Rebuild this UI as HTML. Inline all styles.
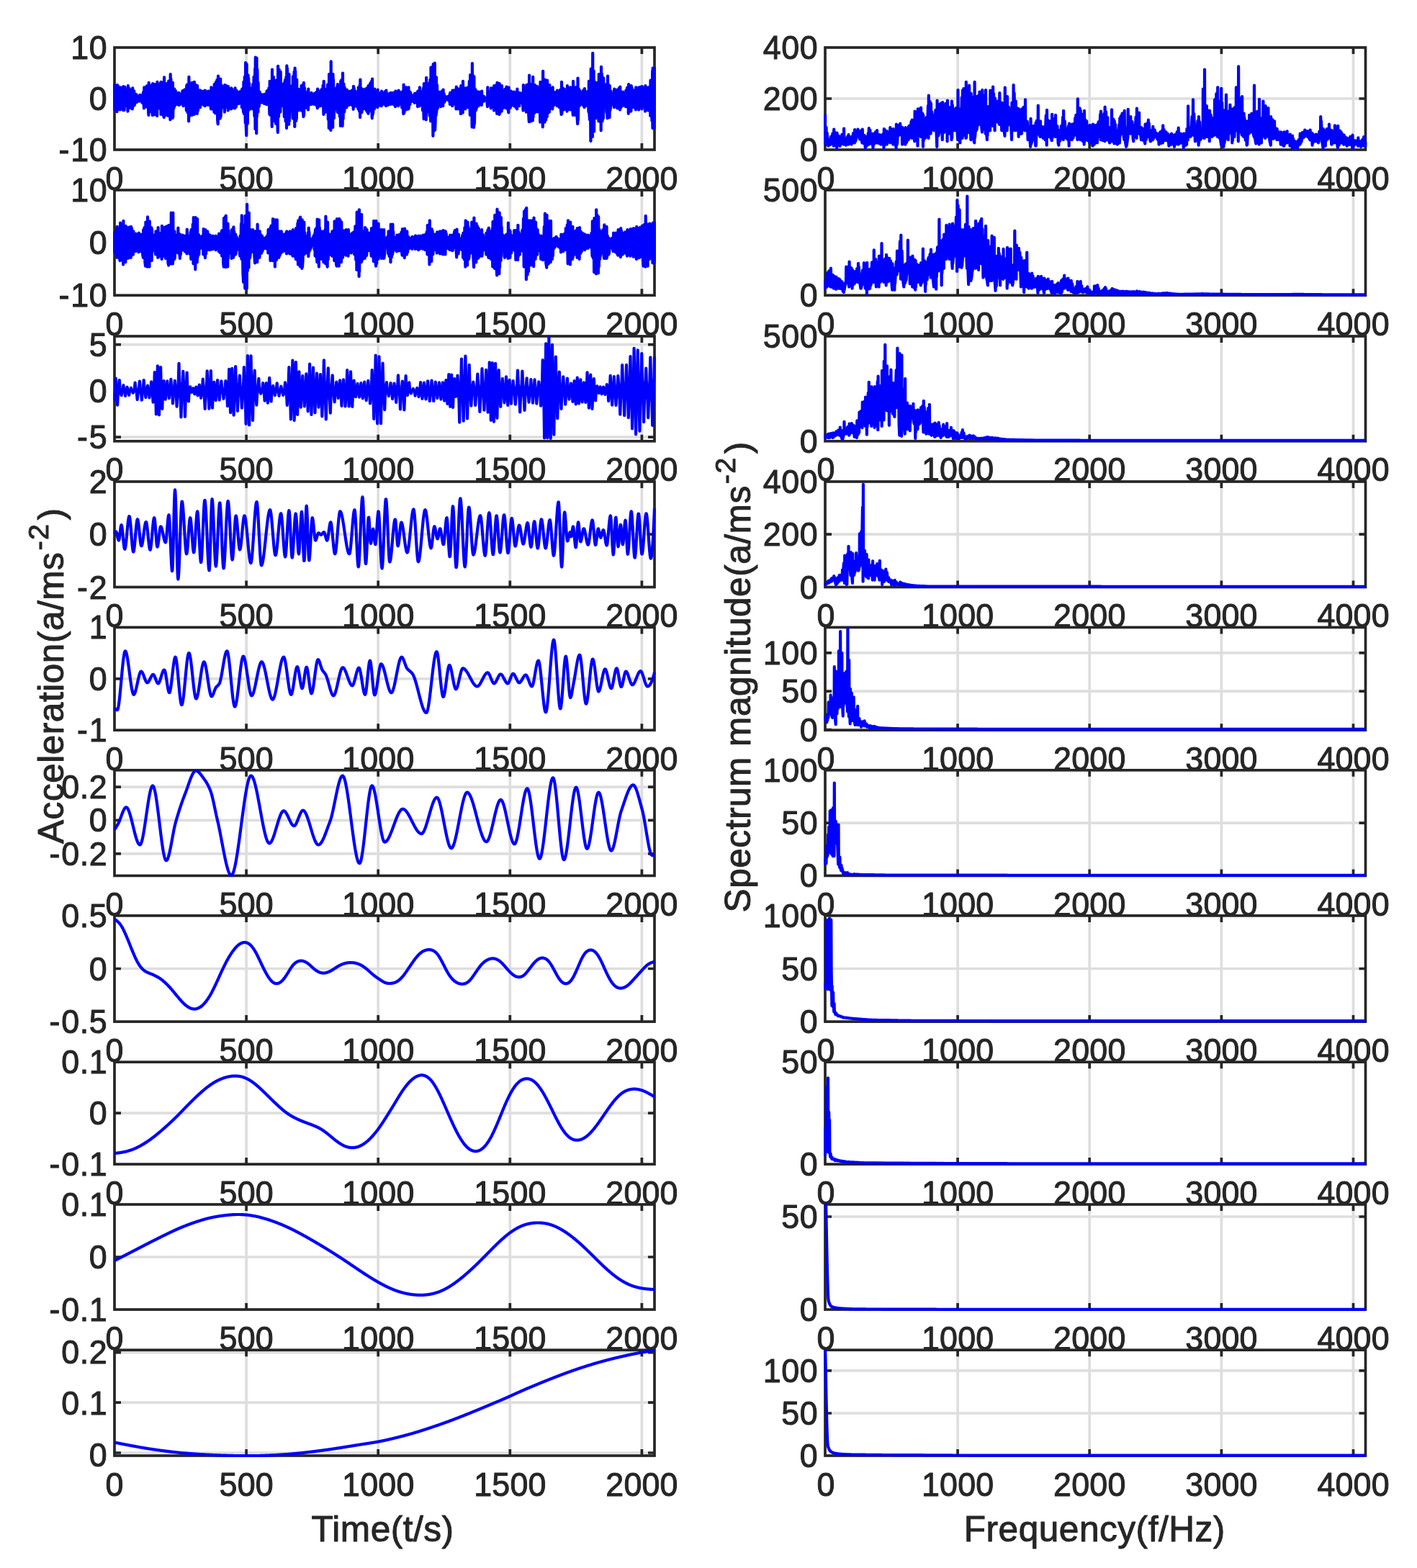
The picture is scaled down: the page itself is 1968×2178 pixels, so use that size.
<!DOCTYPE html>
<html lang="en"><head><meta charset="utf-8"><title>EMD components and spectra</title>
<style>html,body{margin:0;padding:0;background:#fff}body{width:1968px;height:2178px;overflow:hidden}svg{display:block}text{font-family:'Liberation Sans', sans-serif;fill:#262626;stroke:#262626;stroke-width:1px;stroke-linejoin:round}</style></head><body>
<svg width="1968" height="2178" viewBox="0 0 1968 2178" role="img" aria-label="Signal components and their spectra">
<rect width="1968" height="2178" fill="#fff"/>
<defs><clipPath id="cL1"><rect x="157.0" y="64.0" width="754.0" height="146.0"/></clipPath><clipPath id="cL2"><rect x="157.0" y="262.0" width="754.0" height="150.2"/></clipPath><clipPath id="cL3"><rect x="157.0" y="465.0" width="754.0" height="149.8"/></clipPath><clipPath id="cL4"><rect x="157.0" y="667.0" width="754.0" height="150.5"/></clipPath><clipPath id="cL5"><rect x="157.0" y="869.4" width="754.0" height="146.8"/></clipPath><clipPath id="cL6"><rect x="157.0" y="1067.8" width="754.0" height="150.6"/></clipPath><clipPath id="cL7"><rect x="157.0" y="1269.9" width="754.0" height="151.2"/></clipPath><clipPath id="cL8"><rect x="157.0" y="1473.2" width="754.0" height="145.9"/></clipPath><clipPath id="cL9"><rect x="157.0" y="1671.0" width="754.0" height="150.0"/></clipPath><clipPath id="cL10"><rect x="157.0" y="1873.2" width="754.0" height="150.8"/></clipPath><clipPath id="cR1"><rect x="1144.0" y="64.0" width="754.5" height="146.0"/></clipPath><clipPath id="cR2"><rect x="1144.0" y="262.0" width="754.5" height="150.2"/></clipPath><clipPath id="cR3"><rect x="1144.0" y="465.0" width="754.5" height="149.8"/></clipPath><clipPath id="cR4"><rect x="1144.0" y="667.0" width="754.5" height="150.5"/></clipPath><clipPath id="cR5"><rect x="1144.0" y="869.4" width="754.5" height="146.8"/></clipPath><clipPath id="cR6"><rect x="1144.0" y="1067.8" width="754.5" height="150.6"/></clipPath><clipPath id="cR7"><rect x="1144.0" y="1269.9" width="754.5" height="151.2"/></clipPath><clipPath id="cR8"><rect x="1144.0" y="1473.2" width="754.5" height="145.9"/></clipPath><clipPath id="cR9"><rect x="1144.0" y="1671.0" width="754.5" height="150.0"/></clipPath><clipPath id="cR10"><rect x="1144.0" y="1873.2" width="754.5" height="150.8"/></clipPath></defs>
<g font-size="44.8" letter-spacing="0.20"><text transform="translate(159.1 263.6) scale(1 1.040)" text-anchor="middle">0</text>
<text transform="translate(342.2 263.6) scale(1 1.040)" text-anchor="middle">500</text>
<text transform="translate(525.3 263.6) scale(1 1.040)" text-anchor="middle">1000</text>
<text transform="translate(708.4 263.6) scale(1 1.040)" text-anchor="middle">1500</text>
<text transform="translate(891.5 263.6) scale(1 1.040)" text-anchor="middle">2000</text>
<text transform="translate(149.1 224.0) scale(1 1.040)" text-anchor="end" letter-spacing="0.50"><tspan letter-spacing="1.8">-</tspan>10</text>
<text transform="translate(149.1 153.0) scale(1 1.040)" text-anchor="end" letter-spacing="0.50">0</text>
<text transform="translate(149.1 82.0) scale(1 1.040)" text-anchor="end" letter-spacing="0.50">10</text>
<text transform="translate(159.1 465.8) scale(1 1.040)" text-anchor="middle">0</text>
<text transform="translate(342.2 465.8) scale(1 1.040)" text-anchor="middle">500</text>
<text transform="translate(525.3 465.8) scale(1 1.040)" text-anchor="middle">1000</text>
<text transform="translate(708.4 465.8) scale(1 1.040)" text-anchor="middle">1500</text>
<text transform="translate(891.5 465.8) scale(1 1.040)" text-anchor="middle">2000</text>
<text transform="translate(149.1 426.2) scale(1 1.040)" text-anchor="end" letter-spacing="0.50"><tspan letter-spacing="1.8">-</tspan>10</text>
<text transform="translate(149.1 353.1) scale(1 1.040)" text-anchor="end" letter-spacing="0.50">0</text>
<text transform="translate(149.1 280.0) scale(1 1.040)" text-anchor="end" letter-spacing="0.50">10</text>
<text transform="translate(159.1 668.4) scale(1 1.040)" text-anchor="middle">0</text>
<text transform="translate(342.2 668.4) scale(1 1.040)" text-anchor="middle">500</text>
<text transform="translate(525.3 668.4) scale(1 1.040)" text-anchor="middle">1000</text>
<text transform="translate(708.4 668.4) scale(1 1.040)" text-anchor="middle">1500</text>
<text transform="translate(891.5 668.4) scale(1 1.040)" text-anchor="middle">2000</text>
<text transform="translate(149.1 494.7) scale(1 1.040)" text-anchor="end" letter-spacing="0.50">5</text>
<text transform="translate(149.1 558.9) scale(1 1.040)" text-anchor="end" letter-spacing="0.50">0</text>
<text transform="translate(149.1 623.1) scale(1 1.040)" text-anchor="end" letter-spacing="0.50"><tspan letter-spacing="1.8">-</tspan>5</text>
<text transform="translate(159.1 871.1) scale(1 1.040)" text-anchor="middle">0</text>
<text transform="translate(342.2 871.1) scale(1 1.040)" text-anchor="middle">500</text>
<text transform="translate(525.3 871.1) scale(1 1.040)" text-anchor="middle">1000</text>
<text transform="translate(708.4 871.1) scale(1 1.040)" text-anchor="middle">1500</text>
<text transform="translate(891.5 871.1) scale(1 1.040)" text-anchor="middle">2000</text>
<text transform="translate(149.1 831.5) scale(1 1.040)" text-anchor="end" letter-spacing="0.50"><tspan letter-spacing="1.8">-</tspan>2</text>
<text transform="translate(149.1 758.2) scale(1 1.040)" text-anchor="end" letter-spacing="0.50">0</text>
<text transform="translate(149.1 685.0) scale(1 1.040)" text-anchor="end" letter-spacing="0.50">2</text>
<text transform="translate(159.1 1069.8) scale(1 1.040)" text-anchor="middle">0</text>
<text transform="translate(342.2 1069.8) scale(1 1.040)" text-anchor="middle">500</text>
<text transform="translate(525.3 1069.8) scale(1 1.040)" text-anchor="middle">1000</text>
<text transform="translate(708.4 1069.8) scale(1 1.040)" text-anchor="middle">1500</text>
<text transform="translate(891.5 1069.8) scale(1 1.040)" text-anchor="middle">2000</text>
<text transform="translate(149.1 1030.2) scale(1 1.040)" text-anchor="end" letter-spacing="0.50"><tspan letter-spacing="1.8">-</tspan>1</text>
<text transform="translate(149.1 958.8) scale(1 1.040)" text-anchor="end" letter-spacing="0.50">0</text>
<text transform="translate(149.1 887.4) scale(1 1.040)" text-anchor="end" letter-spacing="0.50">1</text>
<text transform="translate(159.1 1272.0) scale(1 1.040)" text-anchor="middle">0</text>
<text transform="translate(342.2 1272.0) scale(1 1.040)" text-anchor="middle">500</text>
<text transform="translate(525.3 1272.0) scale(1 1.040)" text-anchor="middle">1000</text>
<text transform="translate(708.4 1272.0) scale(1 1.040)" text-anchor="middle">1500</text>
<text transform="translate(891.5 1272.0) scale(1 1.040)" text-anchor="middle">2000</text>
<text transform="translate(149.1 1109.2) scale(1 1.040)" text-anchor="end" letter-spacing="0.50">0.2</text>
<text transform="translate(149.1 1155.4) scale(1 1.040)" text-anchor="end" letter-spacing="0.50">0</text>
<text transform="translate(149.1 1201.9) scale(1 1.040)" text-anchor="end" letter-spacing="0.50"><tspan letter-spacing="1.8">-</tspan>0.2</text>
<text transform="translate(159.1 1474.7) scale(1 1.040)" text-anchor="middle">0</text>
<text transform="translate(342.2 1474.7) scale(1 1.040)" text-anchor="middle">500</text>
<text transform="translate(525.3 1474.7) scale(1 1.040)" text-anchor="middle">1000</text>
<text transform="translate(708.4 1474.7) scale(1 1.040)" text-anchor="middle">1500</text>
<text transform="translate(891.5 1474.7) scale(1 1.040)" text-anchor="middle">2000</text>
<text transform="translate(149.1 1435.1) scale(1 1.040)" text-anchor="end" letter-spacing="0.50"><tspan letter-spacing="1.8">-</tspan>0.5</text>
<text transform="translate(149.1 1361.5) scale(1 1.040)" text-anchor="end" letter-spacing="0.50">0</text>
<text transform="translate(149.1 1287.9) scale(1 1.040)" text-anchor="end" letter-spacing="0.50">0.5</text>
<text transform="translate(159.1 1672.7) scale(1 1.040)" text-anchor="middle">0</text>
<text transform="translate(342.2 1672.7) scale(1 1.040)" text-anchor="middle">500</text>
<text transform="translate(525.3 1672.7) scale(1 1.040)" text-anchor="middle">1000</text>
<text transform="translate(708.4 1672.7) scale(1 1.040)" text-anchor="middle">1500</text>
<text transform="translate(891.5 1672.7) scale(1 1.040)" text-anchor="middle">2000</text>
<text transform="translate(149.1 1633.1) scale(1 1.040)" text-anchor="end" letter-spacing="0.50"><tspan letter-spacing="1.8">-</tspan>0.1</text>
<text transform="translate(149.1 1562.2) scale(1 1.040)" text-anchor="end" letter-spacing="0.50">0</text>
<text transform="translate(149.1 1491.2) scale(1 1.040)" text-anchor="end" letter-spacing="0.50">0.1</text>
<text transform="translate(159.1 1874.6) scale(1 1.040)" text-anchor="middle">0</text>
<text transform="translate(342.2 1874.6) scale(1 1.040)" text-anchor="middle">500</text>
<text transform="translate(525.3 1874.6) scale(1 1.040)" text-anchor="middle">1000</text>
<text transform="translate(708.4 1874.6) scale(1 1.040)" text-anchor="middle">1500</text>
<text transform="translate(891.5 1874.6) scale(1 1.040)" text-anchor="middle">2000</text>
<text transform="translate(149.1 1835.0) scale(1 1.040)" text-anchor="end" letter-spacing="0.50"><tspan letter-spacing="1.8">-</tspan>0.1</text>
<text transform="translate(149.1 1762.0) scale(1 1.040)" text-anchor="end" letter-spacing="0.50">0</text>
<text transform="translate(149.1 1689.0) scale(1 1.040)" text-anchor="end" letter-spacing="0.50">0.1</text>
<text transform="translate(159.1 2077.6) scale(1 1.040)" text-anchor="middle">0</text>
<text transform="translate(342.2 2077.6) scale(1 1.040)" text-anchor="middle">500</text>
<text transform="translate(525.3 2077.6) scale(1 1.040)" text-anchor="middle">1000</text>
<text transform="translate(708.4 2077.6) scale(1 1.040)" text-anchor="middle">1500</text>
<text transform="translate(891.5 2077.6) scale(1 1.040)" text-anchor="middle">2000</text>
<text transform="translate(149.1 1893.7) scale(1 1.040)" text-anchor="end" letter-spacing="0.50">0.2</text>
<text transform="translate(149.1 1964.8) scale(1 1.040)" text-anchor="end" letter-spacing="0.50">0.1</text>
<text transform="translate(149.1 2037.0) scale(1 1.040)" text-anchor="end" letter-spacing="0.50">0</text>
<text transform="translate(1147.0 263.6) scale(1 1.040)" text-anchor="middle">0</text>
<text transform="translate(1330.2 263.6) scale(1 1.040)" text-anchor="middle">1000</text>
<text transform="translate(1513.3 263.6) scale(1 1.040)" text-anchor="middle">2000</text>
<text transform="translate(1696.5 263.6) scale(1 1.040)" text-anchor="middle">3000</text>
<text transform="translate(1879.6 263.6) scale(1 1.040)" text-anchor="middle">4000</text>
<text transform="translate(1136.1 224.0) scale(1 1.040)" text-anchor="end" letter-spacing="0.50">0</text>
<text transform="translate(1136.1 153.0) scale(1 1.040)" text-anchor="end" letter-spacing="0.50">200</text>
<text transform="translate(1136.1 82.0) scale(1 1.040)" text-anchor="end" letter-spacing="0.50">400</text>
<text transform="translate(1147.0 465.8) scale(1 1.040)" text-anchor="middle">0</text>
<text transform="translate(1330.2 465.8) scale(1 1.040)" text-anchor="middle">1000</text>
<text transform="translate(1513.3 465.8) scale(1 1.040)" text-anchor="middle">2000</text>
<text transform="translate(1696.5 465.8) scale(1 1.040)" text-anchor="middle">3000</text>
<text transform="translate(1879.6 465.8) scale(1 1.040)" text-anchor="middle">4000</text>
<text transform="translate(1136.1 426.2) scale(1 1.040)" text-anchor="end" letter-spacing="0.50">0</text>
<text transform="translate(1136.1 280.0) scale(1 1.040)" text-anchor="end" letter-spacing="0.50">500</text>
<text transform="translate(1147.0 668.4) scale(1 1.040)" text-anchor="middle">0</text>
<text transform="translate(1330.2 668.4) scale(1 1.040)" text-anchor="middle">1000</text>
<text transform="translate(1513.3 668.4) scale(1 1.040)" text-anchor="middle">2000</text>
<text transform="translate(1696.5 668.4) scale(1 1.040)" text-anchor="middle">3000</text>
<text transform="translate(1879.6 668.4) scale(1 1.040)" text-anchor="middle">4000</text>
<text transform="translate(1136.1 628.8) scale(1 1.040)" text-anchor="end" letter-spacing="0.50">0</text>
<text transform="translate(1136.1 483.0) scale(1 1.040)" text-anchor="end" letter-spacing="0.50">500</text>
<text transform="translate(1147.0 871.1) scale(1 1.040)" text-anchor="middle">0</text>
<text transform="translate(1330.2 871.1) scale(1 1.040)" text-anchor="middle">1000</text>
<text transform="translate(1513.3 871.1) scale(1 1.040)" text-anchor="middle">2000</text>
<text transform="translate(1696.5 871.1) scale(1 1.040)" text-anchor="middle">3000</text>
<text transform="translate(1879.6 871.1) scale(1 1.040)" text-anchor="middle">4000</text>
<text transform="translate(1136.1 831.5) scale(1 1.040)" text-anchor="end" letter-spacing="0.50">0</text>
<text transform="translate(1136.1 758.2) scale(1 1.040)" text-anchor="end" letter-spacing="0.50">200</text>
<text transform="translate(1136.1 685.0) scale(1 1.040)" text-anchor="end" letter-spacing="0.50">400</text>
<text transform="translate(1147.0 1069.8) scale(1 1.040)" text-anchor="middle">0</text>
<text transform="translate(1330.2 1069.8) scale(1 1.040)" text-anchor="middle">1000</text>
<text transform="translate(1513.3 1069.8) scale(1 1.040)" text-anchor="middle">2000</text>
<text transform="translate(1696.5 1069.8) scale(1 1.040)" text-anchor="middle">3000</text>
<text transform="translate(1879.6 1069.8) scale(1 1.040)" text-anchor="middle">4000</text>
<text transform="translate(1136.1 922.9) scale(1 1.040)" text-anchor="end" letter-spacing="0.50">100</text>
<text transform="translate(1136.1 976.2) scale(1 1.040)" text-anchor="end" letter-spacing="0.50">50</text>
<text transform="translate(1136.1 1029.6) scale(1 1.040)" text-anchor="end" letter-spacing="0.50">0</text>
<text transform="translate(1147.0 1272.0) scale(1 1.040)" text-anchor="middle">0</text>
<text transform="translate(1330.2 1272.0) scale(1 1.040)" text-anchor="middle">1000</text>
<text transform="translate(1513.3 1272.0) scale(1 1.040)" text-anchor="middle">2000</text>
<text transform="translate(1696.5 1272.0) scale(1 1.040)" text-anchor="middle">3000</text>
<text transform="translate(1879.6 1272.0) scale(1 1.040)" text-anchor="middle">4000</text>
<text transform="translate(1136.1 1232.4) scale(1 1.040)" text-anchor="end" letter-spacing="0.50">0</text>
<text transform="translate(1136.1 1159.1) scale(1 1.040)" text-anchor="end" letter-spacing="0.50">50</text>
<text transform="translate(1136.1 1085.8) scale(1 1.040)" text-anchor="end" letter-spacing="0.50">100</text>
<text transform="translate(1147.0 1474.7) scale(1 1.040)" text-anchor="middle">0</text>
<text transform="translate(1330.2 1474.7) scale(1 1.040)" text-anchor="middle">1000</text>
<text transform="translate(1513.3 1474.7) scale(1 1.040)" text-anchor="middle">2000</text>
<text transform="translate(1696.5 1474.7) scale(1 1.040)" text-anchor="middle">3000</text>
<text transform="translate(1879.6 1474.7) scale(1 1.040)" text-anchor="middle">4000</text>
<text transform="translate(1136.1 1435.1) scale(1 1.040)" text-anchor="end" letter-spacing="0.50">0</text>
<text transform="translate(1136.1 1361.5) scale(1 1.040)" text-anchor="end" letter-spacing="0.50">50</text>
<text transform="translate(1136.1 1287.9) scale(1 1.040)" text-anchor="end" letter-spacing="0.50">100</text>
<text transform="translate(1147.0 1672.7) scale(1 1.040)" text-anchor="middle">0</text>
<text transform="translate(1330.2 1672.7) scale(1 1.040)" text-anchor="middle">1000</text>
<text transform="translate(1513.3 1672.7) scale(1 1.040)" text-anchor="middle">2000</text>
<text transform="translate(1696.5 1672.7) scale(1 1.040)" text-anchor="middle">3000</text>
<text transform="translate(1879.6 1672.7) scale(1 1.040)" text-anchor="middle">4000</text>
<text transform="translate(1136.1 1633.1) scale(1 1.040)" text-anchor="end" letter-spacing="0.50">0</text>
<text transform="translate(1136.1 1491.2) scale(1 1.040)" text-anchor="end" letter-spacing="0.50">50</text>
<text transform="translate(1147.0 1874.6) scale(1 1.040)" text-anchor="middle">0</text>
<text transform="translate(1330.2 1874.6) scale(1 1.040)" text-anchor="middle">1000</text>
<text transform="translate(1513.3 1874.6) scale(1 1.040)" text-anchor="middle">2000</text>
<text transform="translate(1696.5 1874.6) scale(1 1.040)" text-anchor="middle">3000</text>
<text transform="translate(1879.6 1874.6) scale(1 1.040)" text-anchor="middle">4000</text>
<text transform="translate(1136.1 1706.0) scale(1 1.040)" text-anchor="end" letter-spacing="0.50">50</text>
<text transform="translate(1136.1 1834.6) scale(1 1.040)" text-anchor="end" letter-spacing="0.50">0</text>
<text transform="translate(1147.0 2077.6) scale(1 1.040)" text-anchor="middle">0</text>
<text transform="translate(1330.2 2077.6) scale(1 1.040)" text-anchor="middle">1000</text>
<text transform="translate(1513.3 2077.6) scale(1 1.040)" text-anchor="middle">2000</text>
<text transform="translate(1696.5 2077.6) scale(1 1.040)" text-anchor="middle">3000</text>
<text transform="translate(1879.6 2077.6) scale(1 1.040)" text-anchor="middle">4000</text>
<text transform="translate(1136.1 1919.8) scale(1 1.040)" text-anchor="end" letter-spacing="0.50">100</text>
<text transform="translate(1136.1 1979.0) scale(1 1.040)" text-anchor="end" letter-spacing="0.50">50</text>
<text transform="translate(1136.1 2038.0) scale(1 1.040)" text-anchor="end" letter-spacing="0.50">0</text></g>
<path d="M342.1 66.0V208.0M525.2 66.0V208.0M708.3 66.0V208.0M891.4 66.0V208.0M159.0 137.0H909.0" stroke="#dedede" stroke-width="3.7" fill="none"/>
<path d="M342.1 208.0v-9.0M342.1 66.0v9.0M525.2 208.0v-9.0M525.2 66.0v9.0M708.3 208.0v-9.0M708.3 66.0v9.0M891.4 208.0v-9.0M891.4 66.0v9.0M159.0 137.0h9.0M909.0 137.0h-9.0" stroke="#262626" stroke-width="3.7" fill="none"/>
<rect x="159.0" y="66.0" width="750.0" height="142.0" stroke="#262626" stroke-width="3.7" fill="none"/>
<polyline points="159.0,153.5 159.0,118.1 159.3,148.1 159.8,151.8 160.6,124.3 161.4,149.2 162.2,120.2 162.5,155.2 162.8,118.1 163.1,152.6 163.8,119.1 164.6,146.3 165.4,126.0 166.2,152.0 166.8,152.4 167.1,121.3 167.4,149.4 167.8,150.0 168.6,121.8 169.4,150.7 170.2,126.6 171.1,153.1 171.4,120.2 171.7,142.3 172.6,152.9 173.4,121.1 174.2,147.2 175.0,125.1 175.8,146.5 176.6,125.8 177.5,154.6 177.8,119.2 178.1,150.7 179.0,149.8 179.8,123.2 180.6,149.9 181.4,127.4 182.2,150.2 183.0,125.9 183.9,151.4 184.2,122.4 184.5,145.4 185.4,147.2 186.2,126.4 187.0,145.7 187.8,132.1 188.2,142.8 188.5,130.9 188.8,139.6 189.4,131.3 190.2,141.8 191.0,133.8 191.8,140.4 192.6,133.6 193.4,140.5 194.2,131.8 195.0,139.8 195.8,133.3 196.6,139.9 196.8,141.7 197.1,132.0 197.4,138.9 198.2,143.5 199.0,128.0 199.8,147.4 200.0,150.3 200.3,121.3 200.6,148.7 201.4,148.5 202.2,123.2 203.0,147.4 203.8,119.4 204.6,149.2 205.4,121.6 206.2,156.5 206.4,159.9 206.7,114.9 207.0,155.9 207.8,150.6 208.6,118.8 209.4,154.7 210.2,118.6 211.0,153.1 211.8,159.9 212.1,116.0 212.4,154.7 212.6,153.2 213.4,117.8 214.2,159.5 215.0,117.2 215.8,150.7 216.6,124.0 217.4,154.0 218.2,161.0 218.5,113.8 218.8,147.8 219.0,151.5 219.8,120.7 220.6,150.1 221.4,117.3 222.2,150.5 223.0,115.2 223.5,158.9 223.8,113.8 224.1,146.1 224.6,121.2 225.4,157.6 226.2,114.6 227.0,160.7 227.8,163.1 228.1,107.4 228.4,151.5 229.4,120.4 230.2,151.2 231.0,159.9 231.3,116.0 231.6,154.2 232.6,120.8 233.4,160.8 234.2,112.7 235.0,156.7 235.8,115.9 236.4,166.3 236.7,103.1 237.0,150.3 237.4,109.6 238.2,161.3 239.0,115.1 239.6,164.2 239.9,114.9 240.2,162.4 240.6,123.9 241.4,150.8 242.2,123.7 242.8,147.1 243.1,125.6 243.4,142.9 243.8,126.1 244.6,144.2 245.4,129.1 246.2,144.8 247.0,130.4 247.8,143.7 248.2,146.0 248.5,128.8 248.8,145.8 249.4,145.5 250.2,131.0 251.0,143.9 251.8,130.8 252.6,144.4 253.4,126.4 254.2,144.8 254.6,147.1 254.9,125.6 255.2,142.4 255.8,143.7 256.6,124.5 257.4,146.1 258.2,123.7 258.9,153.5 259.2,119.2 259.5,151.5 259.8,117.6 260.6,156.5 261.4,120.6 262.1,168.5 262.4,106.8 262.7,162.6 263.0,115.3 263.8,155.2 264.6,120.2 265.4,153.6 266.4,159.9 266.7,114.9 267.0,148.4 267.8,120.1 268.6,149.3 269.6,158.9 269.9,113.8 270.2,152.2 271.0,118.7 271.8,157.4 272.6,118.3 273.4,155.0 273.8,157.8 274.1,119.2 274.4,151.1 275.0,153.8 275.8,125.1 276.6,148.6 277.4,125.8 278.1,149.2 278.4,125.6 278.7,144.2 279.0,126.7 279.8,144.9 280.6,127.3 281.4,143.6 282.2,126.9 283.0,146.2 283.8,126.4 284.5,147.1 284.8,125.6 285.1,144.8 285.4,128.4 286.2,145.6 287.0,128.5 287.8,142.8 288.6,127.2 288.8,146.0 289.1,126.7 289.4,142.1 290.2,126.8 291.0,145.7 291.8,127.3 292.6,147.9 293.1,151.4 293.4,121.3 293.7,149.4 294.2,148.0 295.0,123.0 295.8,151.6 296.6,125.8 297.4,155.6 297.7,117.0 298.0,150.7 298.2,119.2 299.0,157.3 299.8,114.0 300.6,154.3 301.4,111.1 302.2,167.4 302.7,172.3 303.0,105.7 303.3,162.3 303.8,164.1 304.6,120.7 305.4,164.6 305.9,164.2 306.2,109.5 306.6,162.0 307.0,152.4 307.8,118.7 308.6,146.0 309.2,149.2 309.5,124.5 309.8,145.9 310.2,146.6 311.0,121.3 311.9,155.6 312.2,118.1 312.5,145.5 313.4,147.8 314.2,119.1 315.0,149.0 315.8,123.2 316.7,153.5 317.0,120.2 317.3,149.3 318.2,147.2 319.0,125.9 319.8,149.5 320.6,123.5 320.9,151.4 321.2,122.4 321.5,144.4 322.2,123.7 323.0,146.7 323.8,126.5 324.6,150.2 325.4,127.0 326.3,150.3 326.6,122.4 326.9,143.4 327.8,148.6 328.6,125.8 329.4,144.4 330.2,128.2 331.0,142.2 331.6,143.9 331.9,128.8 332.2,138.7 332.6,143.2 333.4,127.2 334.2,143.5 335.0,129.0 335.9,149.2 336.2,123.5 336.5,146.9 337.4,147.8 338.1,155.6 338.4,113.8 338.7,143.1 339.0,158.3 339.8,106.6 340.6,161.2 340.8,170.6 341.1,87.1 341.4,166.9 342.3,188.2 342.6,89.2 342.9,155.7 343.8,171.8 344.6,104.3 344.9,153.5 345.2,108.5 345.5,152.0 346.2,115.9 347.0,144.7 347.7,151.4 348.0,122.4 348.3,149.1 348.6,145.7 349.4,125.3 350.2,146.3 350.9,147.1 351.2,117.0 351.5,142.8 351.8,151.8 352.6,106.7 353.4,161.3 354.2,95.4 354.5,179.2 354.8,79.6 355.1,161.3 355.8,102.2 356.2,185.2 356.5,80.6 356.8,162.2 357.4,96.7 358.2,153.9 358.4,155.6 358.7,114.9 359.0,149.0 359.8,147.7 360.6,127.6 361.4,143.3 361.6,142.8 361.9,130.9 362.2,140.5 363.0,141.1 363.8,131.4 364.6,142.4 365.4,133.7 366.2,141.2 367.0,143.9 367.3,130.9 367.6,143.0 367.8,141.3 368.6,132.5 369.4,144.5 370.2,144.9 370.5,126.7 370.8,141.7 371.0,143.5 371.8,125.7 372.6,145.3 373.4,122.4 374.2,153.5 374.4,158.9 374.7,112.8 375.0,149.0 375.8,160.2 376.6,115.4 377.4,159.1 377.7,176.0 378.0,96.7 378.3,152.3 379.0,168.3 379.8,106.8 380.6,151.1 380.9,159.9 381.2,113.8 381.5,153.2 382.2,160.3 383.0,171.7 383.3,111.7 383.6,163.9 383.8,164.1 384.6,116.8 385.4,169.5 385.8,183.9 386.1,91.8 386.4,159.9 387.0,162.3 387.8,96.9 388.6,152.0 389.4,155.6 389.7,99.9 390.0,140.3 391.0,116.0 391.8,146.5 392.6,147.1 392.9,125.6 393.2,141.4 394.2,123.3 394.8,162.1 395.1,114.9 395.4,150.2 395.8,111.4 396.6,168.5 397.4,107.0 398.0,178.1 398.3,91.3 398.6,165.3 399.0,95.2 399.8,167.6 400.6,103.1 401.2,172.8 401.5,103.1 401.8,168.4 402.2,121.8 403.0,148.6 403.3,149.2 403.6,125.6 403.9,146.6 404.6,152.9 405.4,119.1 406.2,155.6 406.5,164.2 406.8,106.3 407.1,164.0 407.8,165.2 408.6,99.7 409.3,176.0 409.6,94.6 409.9,158.6 410.2,98.8 411.0,168.0 411.9,164.2 412.2,110.6 412.5,152.8 413.4,123.4 414.2,153.5 415.1,149.2 415.4,125.6 415.7,147.6 416.6,124.2 417.4,148.7 418.3,153.5 418.6,119.2 418.9,150.6 419.8,118.4 420.6,150.9 421.5,162.1 421.8,114.9 422.1,159.9 423.0,122.2 423.8,150.0 424.7,144.9 425.0,129.9 425.3,144.8 426.2,127.8 427.0,148.8 428.0,152.4 428.3,123.5 428.6,147.4 429.4,130.0 430.2,145.1 431.0,130.9 431.8,144.7 432.2,144.9 432.5,128.8 432.8,141.9 433.4,142.6 434.2,131.1 435.0,144.3 435.8,131.9 436.5,144.9 436.8,129.9 437.1,142.8 437.4,129.5 438.2,143.3 439.0,128.3 439.8,147.0 440.6,126.7 440.8,150.3 441.1,123.5 441.4,144.8 442.2,129.2 443.0,147.6 443.8,128.0 444.6,146.6 445.1,147.1 445.4,125.6 445.7,143.0 446.2,145.2 447.0,123.9 447.8,147.2 448.6,118.7 449.4,158.9 449.7,112.8 450.0,157.8 450.2,123.1 451.0,150.5 451.8,124.9 452.6,152.5 453.4,128.9 453.6,155.6 453.9,123.5 454.2,147.2 455.0,117.5 455.8,165.9 456.6,119.6 456.8,178.1 457.1,103.1 457.4,153.5 458.2,107.1 459.0,163.3 459.4,180.9 459.7,85.4 460.0,175.3 460.6,160.7 461.4,106.1 462.2,177.0 462.5,103.1 462.8,153.2 463.0,110.2 463.8,164.2 464.6,123.3 465.4,149.2 465.7,125.6 466.0,145.6 466.2,128.1 467.0,151.7 467.8,121.2 468.6,155.6 468.9,117.0 469.2,152.0 470.2,156.5 471.0,122.0 471.8,161.8 472.6,123.0 472.9,174.9 473.2,112.8 473.5,156.3 474.2,111.2 475.0,160.1 475.7,174.9 476.0,101.6 476.3,164.8 476.6,165.1 477.4,116.6 478.3,155.6 478.6,121.3 478.9,146.3 479.8,149.8 480.6,125.4 481.5,149.2 481.8,124.5 482.1,141.4 483.0,146.4 483.8,128.2 484.6,145.8 485.4,126.8 486.2,144.3 486.8,144.9 487.1,127.7 487.4,139.1 487.8,144.7 488.6,125.5 489.4,146.3 490.2,125.7 490.7,151.8 491.0,119.8 491.3,140.7 491.8,122.6 492.6,147.6 493.4,126.5 494.3,147.1 494.6,127.7 494.9,140.9 495.8,147.8 496.6,127.9 497.5,151.4 497.8,121.3 498.1,145.0 499.0,154.3 499.8,117.8 500.1,163.1 500.4,110.6 500.7,151.9 501.4,122.4 502.2,156.3 502.9,153.5 503.2,123.5 503.5,144.0 503.8,150.9 504.6,126.8 505.4,147.8 506.2,124.6 507.1,151.4 507.4,123.5 507.7,145.8 508.6,153.1 509.4,122.9 510.2,155.4 511.0,120.9 511.4,157.8 511.7,119.2 512.0,155.8 512.6,118.7 513.4,153.3 514.2,115.9 515.0,151.5 515.8,113.1 516.6,160.4 516.8,164.2 517.1,109.5 517.4,159.7 518.2,156.3 519.0,123.9 519.8,146.2 520.0,151.4 520.3,123.5 520.6,142.5 521.4,145.7 522.2,129.1 523.0,148.2 523.8,128.8 524.3,149.2 524.6,124.5 524.9,143.8 525.4,130.0 526.2,146.0 527.0,130.3 527.8,146.4 528.6,146.0 528.9,128.8 529.2,144.8 529.4,145.2 529.7,147.1 530.0,126.7 530.3,140.3 531.0,145.1 531.8,128.6 532.6,143.2 533.4,129.9 534.2,144.9 535.0,127.1 535.8,146.7 536.1,147.1 536.4,125.6 536.7,143.2 537.4,142.7 538.2,130.5 539.0,145.9 539.8,130.3 540.6,142.3 541.4,129.5 542.2,144.5 542.5,144.9 542.8,128.8 543.1,144.5 543.8,141.8 544.6,130.1 545.4,144.2 546.2,128.9 547.0,145.5 547.8,128.9 548.6,146.5 549.0,148.1 549.3,126.7 549.6,141.9 550.2,145.2 551.0,130.0 551.8,144.4 552.6,127.2 553.2,147.1 553.5,125.6 553.8,139.6 554.2,126.7 555.0,143.8 555.8,131.8 556.5,144.9 556.8,129.9 557.1,140.4 557.4,128.4 558.2,149.4 559.0,127.0 559.8,150.1 560.3,158.2 560.6,117.7 560.9,150.6 561.4,156.6 562.2,121.3 563.0,147.1 563.9,152.4 564.2,121.3 564.5,144.4 565.4,125.4 566.2,151.3 567.2,151.4 567.5,121.3 567.8,150.1 568.6,126.9 569.4,145.2 570.2,128.7 571.0,139.9 571.4,140.7 571.7,132.0 572.0,138.1 572.6,140.8 573.4,132.8 574.2,140.0 575.0,132.1 575.7,142.8 576.0,129.9 576.3,141.1 576.6,130.6 577.4,141.4 578.2,129.4 579.0,142.8 579.8,129.0 580.0,148.1 580.3,126.7 580.6,145.9 581.4,128.7 582.2,146.4 582.6,147.1 582.9,121.3 583.2,142.1 583.8,145.2 584.6,128.3 585.4,144.9 585.7,127.7 586.0,139.3 586.2,127.2 587.0,153.4 587.8,122.7 588.6,165.3 588.9,116.0 589.2,149.4 589.4,119.0 590.2,154.6 591.0,116.7 591.8,166.3 592.1,107.8 592.4,146.6 592.6,114.0 593.4,153.4 594.2,116.4 595.0,155.6 595.3,119.2 595.6,143.4 595.8,116.8 596.6,160.6 597.4,110.5 598.2,168.5 598.5,93.5 598.8,149.3 599.0,96.1 599.8,167.8 600.6,102.1 601.4,188.8 601.7,89.2 602.0,160.9 602.2,89.5 603.0,163.1 603.5,181.3 603.8,87.7 604.1,180.6 604.6,169.9 605.4,111.2 605.7,159.9 606.0,107.4 606.3,156.3 607.0,118.1 607.8,150.6 608.6,127.5 608.9,147.1 609.2,127.7 609.5,143.0 610.2,131.4 611.0,146.2 611.8,131.3 612.1,148.1 612.4,127.7 612.7,145.7 613.4,127.0 614.2,145.1 615.0,125.7 615.3,147.1 615.6,124.5 615.9,140.4 616.6,130.1 617.4,141.8 618.2,133.9 618.5,138.5 618.8,134.2 619.1,137.9 619.8,135.0 620.6,138.3 621.4,134.3 621.7,138.5 622.0,134.2 622.3,138.1 623.0,134.1 623.8,140.5 624.6,131.1 624.9,144.9 625.2,128.8 625.5,140.2 626.2,129.3 627.0,143.3 627.8,128.2 628.2,147.1 628.5,125.6 628.8,146.1 629.4,129.8 630.2,143.8 631.0,125.3 631.8,144.0 632.6,127.9 633.5,151.4 633.8,120.7 634.1,144.7 635.0,145.8 635.8,123.2 636.7,151.4 637.0,123.5 637.3,144.5 638.2,148.7 639.0,128.1 639.9,158.2 640.2,119.2 640.5,151.8 641.4,150.8 642.2,120.1 642.7,156.7 643.0,112.8 643.3,145.2 643.8,122.6 644.6,149.7 645.4,125.3 646.4,151.4 646.7,122.4 647.0,147.0 647.8,147.8 648.6,125.6 649.6,149.2 649.9,121.3 650.2,147.7 651.0,147.7 651.8,112.8 652.8,159.9 653.1,104.2 653.4,149.0 654.2,158.0 655.0,105.9 655.6,176.6 655.9,88.1 656.2,146.2 656.6,104.3 657.4,163.5 658.1,177.0 658.4,106.3 658.7,172.9 659.0,169.7 659.8,123.6 660.7,153.5 661.0,125.6 661.3,151.8 662.2,147.7 663.0,127.6 663.8,147.5 664.5,147.1 664.8,127.7 665.1,141.7 665.4,145.5 666.2,127.8 667.0,143.1 667.8,129.0 668.6,144.3 668.8,146.0 669.1,126.7 669.4,142.2 670.2,141.1 671.0,133.4 671.8,139.8 672.0,140.7 672.3,134.2 672.6,139.4 673.4,139.1 674.2,135.7 675.0,138.7 675.2,138.5 675.5,136.3 675.8,138.4 676.6,143.0 677.0,148.1 677.3,121.3 677.6,141.7 678.2,143.5 679.0,127.2 679.8,144.0 680.6,128.2 681.4,148.2 681.7,150.3 682.0,122.4 682.3,146.3 683.0,148.0 683.8,122.6 684.6,145.2 685.4,124.8 686.0,153.5 686.2,119.2 686.5,142.0 687.0,125.9 687.8,151.2 688.6,118.5 689.4,150.1 690.2,157.8 690.5,114.9 690.8,149.6 691.8,115.5 692.6,157.2 693.4,158.9 693.7,116.0 694.0,157.8 695.0,121.0 695.8,150.0 696.7,154.6 697.0,119.2 697.3,151.5 698.2,128.3 699.0,150.0 699.9,148.1 700.2,125.6 700.5,140.9 701.4,123.8 702.2,148.7 703.1,150.3 703.4,120.7 703.7,148.5 704.6,125.5 705.4,149.4 706.3,156.3 706.6,121.3 706.9,147.6 707.8,127.1 708.6,149.8 709.5,147.1 709.8,126.7 710.1,141.9 711.0,127.8 711.8,143.3 712.6,128.5 713.4,146.1 713.8,147.1 714.1,127.7 714.4,146.5 715.0,145.4 715.8,129.0 716.6,149.4 717.4,130.1 718.1,151.4 718.4,123.5 718.7,146.9 719.0,129.3 719.8,145.1 720.6,129.6 721.3,147.1 721.6,128.8 721.9,141.8 722.2,132.0 723.0,142.6 723.8,129.7 724.5,142.8 724.8,129.9 725.1,141.9 725.4,129.6 726.2,147.4 726.6,153.5 726.9,118.1 727.2,146.0 727.8,147.7 728.6,125.5 729.4,153.0 730.2,124.7 730.9,155.6 731.2,118.1 731.5,147.7 731.8,119.6 732.6,153.3 733.4,117.4 734.2,158.6 734.8,169.1 735.1,104.6 735.4,157.9 735.8,168.8 736.6,124.1 737.3,168.5 737.6,117.0 737.9,164.4 738.2,119.6 739.0,164.0 739.9,167.4 740.2,106.8 740.5,162.6 741.4,121.5 742.2,155.8 742.7,156.7 743.0,118.1 743.3,152.3 743.8,155.4 744.6,125.5 745.4,153.4 745.9,153.5 746.2,120.2 746.5,153.0 747.0,155.3 747.8,124.9 748.6,153.5 749.4,124.6 750.2,169.6 750.5,113.8 750.8,150.9 751.0,123.1 751.8,160.9 752.6,120.1 753.4,165.7 753.8,176.4 754.1,98.8 754.4,166.4 755.0,161.1 755.8,118.0 756.6,169.6 756.9,110.6 757.2,163.5 757.4,113.6 758.2,166.5 759.0,112.3 759.8,162.1 760.1,111.7 760.4,145.3 760.6,120.7 761.4,156.8 762.2,118.0 763.0,155.6 763.3,118.1 763.6,144.6 763.8,123.6 764.6,149.6 765.4,124.7 766.2,150.8 767.0,127.4 767.3,151.4 767.6,121.3 767.9,142.5 768.6,127.7 769.4,146.1 770.2,128.1 770.5,142.8 770.8,128.8 771.1,140.9 771.8,128.5 772.6,143.4 773.4,127.7 773.7,147.1 774.0,125.6 774.3,146.7 775.0,128.6 775.8,147.4 776.6,131.1 776.9,149.2 777.2,126.7 777.5,142.0 778.2,124.7 779.0,152.7 779.7,158.9 780.0,113.8 780.3,158.0 780.6,150.9 781.4,122.2 782.2,150.8 783.0,125.3 783.3,152.4 783.6,123.5 783.9,151.0 784.6,128.4 785.4,148.2 786.2,127.4 787.0,148.6 787.6,154.6 787.9,119.2 788.2,151.2 788.6,152.3 789.4,124.3 790.2,151.0 791.0,121.9 791.9,152.4 792.2,121.3 792.5,148.6 793.4,150.2 794.2,125.3 795.0,148.3 795.8,159.9 796.1,112.8 796.4,144.6 796.6,155.2 797.4,123.5 798.2,151.9 799.0,159.9 799.3,121.3 799.6,158.4 799.8,159.0 800.6,123.1 801.4,159.7 802.2,172.1 802.5,108.5 802.8,167.1 803.0,161.2 803.8,123.4 804.7,147.1 805.0,125.6 805.3,143.5 806.2,143.3 807.0,128.5 808.0,144.9 808.3,127.7 808.6,140.2 809.4,145.8 810.2,125.3 811.0,147.4 811.6,149.2 811.9,123.0 812.2,142.2 812.6,145.6 813.4,128.9 814.2,144.7 815.0,127.3 815.4,147.1 815.7,127.7 816.0,142.7 816.6,127.9 817.4,153.1 817.6,155.6 817.9,112.8 818.2,153.8 819.0,166.2 819.8,112.3 820.4,195.9 820.7,95.6 821.0,189.0 821.4,105.4 822.2,170.0 822.9,189.9 823.2,73.8 823.5,184.0 823.8,178.3 824.6,98.6 825.1,182.4 825.4,112.8 825.7,163.1 826.2,126.2 827.0,163.1 827.8,116.1 828.3,164.2 828.6,114.9 828.9,163.0 829.4,115.8 830.2,155.0 831.0,116.8 831.5,168.5 831.8,103.1 832.1,153.3 832.6,114.4 833.4,161.0 834.2,113.0 834.7,181.3 835.0,92.8 835.3,155.7 835.8,102.4 836.6,168.3 837.4,107.7 837.9,164.2 838.2,108.5 838.5,156.1 839.0,122.6 839.8,146.2 840.1,147.1 840.4,125.6 840.7,143.0 841.4,147.9 842.2,117.1 843.0,158.3 843.7,164.2 844.0,105.7 844.3,160.6 844.6,154.4 845.4,118.2 846.2,160.8 846.5,163.1 846.8,119.2 847.1,153.8 847.8,151.2 848.6,126.5 849.4,144.5 849.7,144.9 850.0,129.9 850.3,140.1 851.0,142.4 851.8,130.0 852.6,147.6 852.9,149.2 853.2,123.5 853.5,147.1 854.2,144.4 855.0,124.8 855.8,145.9 856.6,125.8 857.2,150.3 857.5,124.5 857.8,149.0 858.2,128.7 859.0,150.5 859.8,122.3 860.6,149.8 861.0,152.4 861.3,120.7 861.6,143.0 862.2,149.6 863.0,129.4 863.8,146.8 864.7,147.1 865.0,127.7 865.3,144.6 866.2,130.3 867.0,143.5 867.8,129.8 868.6,145.1 869.0,148.1 869.3,125.6 869.6,145.8 870.2,145.4 871.0,121.8 871.8,148.7 872.6,123.9 872.8,157.8 873.1,117.0 873.4,155.8 874.2,125.0 875.0,148.4 875.8,120.3 876.4,154.6 876.7,119.2 877.0,144.4 877.4,121.1 878.2,146.5 879.0,124.8 879.7,149.2 880.0,126.7 880.3,141.9 880.6,126.4 881.4,145.4 882.2,126.2 882.9,152.4 883.2,121.3 883.5,148.3 883.8,127.9 884.6,146.4 885.4,124.8 886.2,149.8 887.1,152.4 887.4,121.3 887.7,147.1 888.6,124.9 889.4,148.2 890.2,120.6 891.0,145.9 891.4,151.4 891.7,120.2 892.0,145.8 892.6,146.5 893.4,126.7 894.2,148.4 895.0,121.9 895.8,148.9 896.1,154.6 896.4,119.2 896.7,148.5 897.4,148.1 898.2,125.6 899.0,152.4 899.8,122.6 900.0,153.5 900.3,121.3 900.6,146.2 901.4,123.2 902.2,150.1 903.0,120.7 903.2,161.0 903.5,111.7 903.8,144.1 904.6,118.6 905.4,167.8 906.2,98.4 906.4,178.1 906.7,94.6 907.0,154.9 907.8,112.2 908.6,178.1 908.9,94.6 909.0,170.4" fill="none" stroke="#0000ff" stroke-width="4.2" stroke-linejoin="round" stroke-linecap="butt" clip-path="url(#cL1)"/>
<path d="M342.1 264.0V410.2M525.2 264.0V410.2M708.3 264.0V410.2M891.4 264.0V410.2M159.0 337.1H909.0" stroke="#dedede" stroke-width="3.7" fill="none"/>
<path d="M342.1 410.2v-9.0M342.1 264.0v9.0M525.2 410.2v-9.0M525.2 264.0v9.0M708.3 410.2v-9.0M708.3 264.0v9.0M891.4 410.2v-9.0M891.4 264.0v9.0M159.0 337.1h9.0M909.0 337.1h-9.0" stroke="#262626" stroke-width="3.7" fill="none"/>
<rect x="159.0" y="264.0" width="750.0" height="146.2" stroke="#262626" stroke-width="3.7" fill="none"/>
<polyline points="159.0,351.4 159.0,323.5 159.3,344.1 159.8,351.6 160.6,321.9 161.4,352.2 162.2,316.6 162.5,357.8 162.8,314.9 163.1,343.5 163.8,321.6 164.6,349.8 165.4,317.1 166.2,360.6 166.8,362.1 167.1,309.5 167.4,352.0 167.8,359.6 168.6,319.7 169.4,353.2 170.2,312.5 171.1,367.4 171.4,306.8 171.7,365.0 172.6,357.1 173.4,318.1 174.3,364.2 174.6,313.8 174.9,351.0 175.8,354.5 176.6,318.3 177.5,358.9 177.8,316.0 178.1,347.7 179.0,352.9 179.8,315.7 180.6,357.8 181.4,321.4 181.8,357.8 182.1,314.9 182.4,344.2 183.0,317.4 183.8,354.2 184.6,327.1 185.0,353.5 185.3,321.3 185.6,347.5 186.2,327.5 187.0,346.9 187.8,325.2 188.2,349.2 188.5,324.5 188.8,341.1 189.4,325.2 190.2,346.3 191.0,326.7 191.8,347.5 192.5,350.3 192.8,323.5 193.1,349.5 193.4,347.2 194.2,326.8 195.0,345.4 195.7,349.2 196.0,325.6 196.3,346.0 196.6,348.6 197.4,328.9 198.2,353.7 198.9,357.8 199.2,319.2 199.5,357.6 199.8,354.0 200.6,316.0 201.4,364.5 202.1,369.6 202.4,308.5 202.7,351.6 203.0,356.9 203.8,313.0 204.7,370.6 205.0,301.4 205.3,360.1 206.2,368.4 207.0,312.7 207.5,370.6 207.8,307.4 208.1,362.6 208.6,316.2 209.4,358.3 210.2,316.1 210.7,362.1 211.0,318.1 211.3,350.7 211.8,325.8 212.6,347.9 213.3,347.1 213.6,329.9 213.9,344.4 214.2,344.0 215.0,326.3 215.8,346.6 216.1,353.5 216.4,321.3 216.7,352.4 217.4,351.4 218.2,326.7 219.0,349.6 219.3,357.8 219.6,316.0 219.9,357.2 220.6,355.5 221.4,324.8 222.2,353.8 223.0,323.9 223.8,351.5 224.6,359.9 224.9,313.8 225.2,348.4 225.4,356.9 226.2,320.7 227.0,350.3 227.8,316.0 228.6,355.6 229.4,316.7 230.0,358.9 230.3,314.9 230.6,352.7 231.0,324.6 231.8,354.0 232.6,314.1 233.4,364.8 234.2,368.5 234.5,312.8 234.8,363.8 235.8,316.8 236.6,357.2 237.5,366.3 237.8,295.6 238.1,346.7 239.0,310.6 239.8,364.1 240.0,366.3 240.3,295.6 240.6,343.2 241.4,360.5 242.2,359.9 242.5,321.3 242.8,358.5 243.0,352.9 243.8,326.0 244.6,348.2 244.9,349.2 245.2,329.9 245.5,348.0 246.2,347.0 247.1,351.4 247.4,316.6 247.7,347.1 248.6,324.5 249.4,351.8 249.9,358.9 250.2,325.6 250.5,354.2 251.0,352.8 251.8,329.0 252.6,345.6 253.5,347.1 253.8,326.7 254.1,344.5 255.0,329.9 255.8,347.2 256.7,349.2 257.0,327.7 257.3,349.0 258.2,329.5 259.0,350.2 259.5,352.4 259.8,318.5 260.1,351.8 260.6,348.7 261.4,327.5 262.1,350.3 262.4,328.8 262.7,343.5 263.0,330.5 263.8,353.0 264.6,322.4 265.3,359.9 265.6,319.2 265.9,350.1 266.2,319.4 267.0,355.0 267.8,311.6 268.5,366.3 268.8,302.0 269.1,359.6 269.4,312.0 270.2,357.5 271.0,314.4 271.3,374.3 271.6,302.0 271.9,362.7 272.6,315.2 273.4,363.6 273.8,364.2 274.1,304.2 274.4,357.6 275.0,351.4 275.8,325.9 276.4,353.5 276.7,327.7 277.0,345.4 277.4,330.3 278.2,345.1 279.0,332.6 279.2,342.8 279.5,330.9 279.8,339.0 280.6,328.2 281.4,344.4 282.2,326.0 282.4,353.5 282.7,318.1 283.0,348.6 283.8,321.7 284.6,351.3 285.0,358.2 285.3,319.2 285.6,345.7 286.2,352.4 287.0,322.9 287.8,347.1 288.1,321.3 288.4,341.5 288.6,323.8 289.4,343.7 290.2,325.9 291.0,347.1 291.3,326.7 291.6,344.8 291.8,327.2 292.6,346.5 293.4,329.7 294.2,346.3 295.0,328.2 295.2,346.0 295.5,327.7 295.8,343.0 296.6,328.4 297.4,345.4 298.2,328.6 299.0,343.8 299.5,347.1 299.8,327.7 300.1,346.3 300.6,345.3 301.4,329.9 302.2,343.3 303.0,329.5 303.8,349.2 304.1,324.5 304.4,346.7 304.6,327.6 305.4,350.8 306.2,328.1 307.0,347.2 307.8,321.1 308.1,355.6 308.4,320.2 308.7,345.1 309.4,323.8 310.2,365.2 310.7,370.6 311.0,303.1 311.3,358.1 311.8,368.8 312.6,301.5 313.4,371.1 313.7,299.5 314.0,361.4 315.0,358.6 315.8,319.5 316.2,370.6 316.5,310.6 316.8,359.1 317.4,320.0 318.2,351.9 318.8,351.4 319.1,332.0 319.4,349.9 319.8,350.0 320.6,328.0 321.6,358.9 321.9,319.2 322.2,352.8 323.0,352.0 323.8,324.9 324.1,357.8 324.4,315.3 324.7,355.5 325.4,322.1 326.2,352.7 326.9,353.5 327.2,325.6 327.5,353.0 327.8,350.0 328.6,329.0 329.4,344.1 330.1,344.9 330.4,332.0 330.7,340.5 331.0,346.3 331.8,333.2 332.6,347.4 333.3,355.6 333.6,327.7 333.9,349.3 334.2,356.0 335.0,310.9 335.5,359.9 335.8,299.3 336.1,341.6 336.6,318.2 337.4,379.0 338.1,392.0 338.4,312.8 338.7,387.5 339.0,387.1 339.8,315.6 340.2,400.6 340.5,299.9 340.8,397.4 341.4,310.1 342.2,394.5 342.8,400.6 343.1,283.9 343.4,374.5 343.8,376.2 344.6,297.4 345.5,371.7 345.8,295.6 346.1,356.3 347.0,358.4 347.7,353.5 348.0,319.2 348.3,342.3 348.6,347.8 349.4,319.7 350.2,349.8 350.9,349.2 351.2,319.2 351.5,342.7 351.8,346.3 352.6,325.4 353.4,356.3 354.1,365.3 354.4,321.3 354.7,360.6 355.0,360.2 355.8,322.1 356.6,354.5 357.3,364.2 357.6,311.7 357.9,355.3 358.2,352.7 359.0,323.0 359.8,354.1 360.5,357.8 360.8,321.3 361.1,351.7 361.4,349.7 362.2,326.2 363.0,351.8 363.7,349.2 364.0,327.7 364.3,347.1 364.6,348.6 365.4,330.7 366.2,343.6 367.0,332.7 367.8,345.2 368.6,330.7 369.1,343.9 369.4,329.9 369.7,341.1 370.2,328.8 371.0,345.7 371.8,326.1 372.3,351.4 372.6,319.2 372.9,346.9 373.4,324.4 374.2,350.8 375.0,317.3 375.5,362.1 375.8,316.0 376.1,350.5 376.6,313.6 377.4,359.6 378.2,313.9 378.7,362.1 379.0,304.2 379.3,357.9 379.8,313.2 380.6,355.6 381.4,307.6 381.9,370.6 382.2,305.3 382.5,353.6 383.0,306.1 383.8,361.3 384.5,357.8 384.8,305.3 385.1,343.0 385.4,356.6 386.2,321.0 387.0,352.0 387.3,357.8 387.6,321.3 387.9,353.8 388.6,354.8 389.4,321.8 390.2,348.7 390.5,351.4 390.8,321.3 391.1,344.3 391.8,349.1 392.6,326.8 393.4,346.0 393.7,349.2 394.0,325.6 394.3,346.1 395.0,347.2 395.8,329.2 396.6,347.3 397.4,323.0 398.0,352.4 398.3,321.3 398.6,349.3 399.0,327.0 399.8,350.5 400.6,323.5 401.4,348.3 402.3,352.4 402.6,321.3 402.9,343.5 403.8,326.3 404.6,352.7 405.4,321.6 406.2,348.9 406.5,355.6 406.8,319.2 407.1,351.4 407.8,351.6 408.6,322.0 409.4,356.2 410.2,323.2 410.8,359.9 411.1,317.0 411.4,358.0 411.8,322.7 412.6,361.0 413.4,310.2 414.0,367.4 414.3,306.3 414.6,350.5 415.0,309.9 415.8,365.9 416.6,302.5 416.8,370.2 417.1,301.6 417.4,362.3 418.2,316.3 419.0,363.7 419.4,372.8 419.7,305.3 420.0,370.8 420.6,360.9 421.4,312.4 422.0,353.5 422.3,308.5 422.6,353.1 423.0,322.6 423.8,350.5 424.7,351.4 425.0,329.9 425.3,346.2 426.2,327.8 427.0,349.2 427.8,323.5 428.4,356.1 428.7,316.6 429.0,350.6 429.4,322.1 430.2,347.9 431.2,344.9 431.5,332.0 431.8,344.3 432.6,332.1 433.4,340.8 434.4,339.6 434.7,329.9 435.0,337.8 435.8,327.2 436.6,346.6 437.4,323.6 437.6,355.6 437.9,319.2 438.2,344.1 439.0,317.4 439.8,354.9 440.4,364.2 440.7,304.6 441.0,347.7 441.4,357.7 442.2,311.7 442.9,370.6 443.2,305.3 443.5,356.7 443.8,316.1 444.6,359.0 445.4,322.2 446.1,359.9 446.4,321.3 446.7,354.8 447.0,327.4 447.8,353.6 448.6,323.9 449.4,364.2 449.7,321.3 450.0,353.1 450.2,322.2 451.0,361.7 451.8,318.6 452.1,366.3 452.4,300.6 452.7,353.6 453.4,307.9 454.2,362.7 454.7,370.6 455.0,308.5 455.3,351.4 455.8,360.1 456.6,324.9 457.4,353.0 457.9,353.5 458.2,325.6 458.5,351.8 459.0,348.0 459.8,327.0 460.6,354.2 461.1,355.6 461.4,321.3 461.7,347.6 462.2,355.4 463.0,320.7 463.8,351.3 464.3,362.1 464.6,307.4 464.9,351.6 465.4,360.8 466.2,308.8 467.0,367.1 467.6,369.6 467.9,304.2 468.2,348.0 468.6,367.1 469.4,316.5 470.2,359.2 470.8,369.6 471.1,303.8 471.4,351.0 471.8,362.8 472.6,306.2 473.4,356.5 474.0,364.2 474.3,308.5 474.6,355.0 475.0,353.2 475.8,324.5 476.1,357.8 476.4,320.2 476.7,345.2 477.4,328.3 478.2,348.5 479.0,320.4 479.8,353.0 480.4,354.6 480.7,319.2 481.0,351.5 481.4,352.1 482.2,324.9 483.0,347.6 483.6,355.6 483.9,319.2 484.2,344.2 484.6,350.9 485.4,326.7 486.2,350.7 487.0,328.1 487.9,351.4 488.2,324.5 488.5,342.6 489.4,348.2 490.2,323.0 491.0,347.8 491.8,323.3 492.2,353.5 492.5,321.3 492.8,353.5 493.4,314.4 494.2,360.8 495.0,314.1 495.4,374.9 495.7,294.6 496.0,367.6 496.6,309.9 497.4,372.7 498.2,300.4 498.6,383.9 498.9,291.3 499.2,377.3 499.8,303.7 500.6,357.1 501.4,303.6 501.8,364.2 502.1,297.8 502.4,362.8 503.0,321.5 503.9,359.9 504.2,327.7 504.5,353.8 505.4,358.3 506.2,320.3 506.7,358.9 507.0,316.0 507.3,346.2 507.8,317.4 508.6,355.5 509.3,353.5 509.6,319.2 509.9,342.9 510.2,345.5 511.0,325.2 511.8,348.2 512.5,347.1 512.8,323.5 513.1,346.9 513.4,345.8 514.2,323.9 515.0,346.5 515.7,355.6 516.0,317.0 516.3,350.4 516.6,349.4 517.4,320.3 518.2,351.4 518.9,363.1 519.2,306.8 519.5,359.3 519.8,352.1 520.6,308.4 521.4,361.1 522.1,369.6 522.4,306.8 522.7,357.4 523.0,366.2 523.8,319.3 524.6,356.3 525.3,359.9 525.6,310.6 525.9,350.9 526.2,352.5 527.0,318.7 527.8,346.6 528.6,351.4 528.9,321.3 529.2,343.5 529.4,351.4 529.7,358.9 530.0,319.2 530.3,349.6 531.0,350.9 531.8,323.8 532.6,355.8 532.9,358.9 533.2,319.2 533.5,357.9 534.2,352.0 535.0,331.9 535.7,342.8 536.0,332.0 536.3,341.9 536.6,330.5 537.4,344.4 538.2,328.8 539.0,349.7 539.3,352.4 539.6,321.3 539.9,343.3 540.6,355.8 541.4,325.4 542.2,354.0 542.5,364.2 542.8,311.7 543.1,352.5 543.8,357.4 544.6,311.9 545.1,353.5 545.4,311.7 545.7,350.7 546.2,321.9 547.0,345.6 547.9,347.1 548.2,329.9 548.5,341.2 549.4,332.3 550.2,347.4 551.1,349.2 551.4,326.7 551.7,342.0 552.6,327.4 553.4,348.5 554.2,326.2 555.0,346.4 555.4,348.1 555.7,325.6 556.0,341.2 556.6,345.7 557.4,322.6 558.2,351.2 558.6,354.6 558.9,318.1 559.2,354.4 559.8,348.3 560.6,323.8 561.4,351.7 561.8,358.2 562.1,317.7 562.4,348.3 563.0,352.6 563.8,326.7 564.6,352.8 565.0,353.5 565.3,321.3 565.6,347.3 566.2,350.2 567.0,328.7 567.8,343.2 568.2,344.9 568.5,330.9 568.8,341.6 569.4,344.8 570.2,331.2 571.0,344.4 571.8,329.9 572.5,346.0 572.8,328.8 573.1,343.0 573.4,332.1 574.2,342.9 575.0,330.5 575.8,342.2 576.6,328.5 576.8,346.0 577.1,327.3 577.4,345.6 578.2,329.0 579.0,344.9 579.8,328.8 580.6,344.2 581.1,347.1 581.4,327.7 581.7,345.2 582.2,344.2 583.0,331.2 583.8,345.3 584.3,344.9 584.6,327.7 584.9,339.0 585.4,343.9 586.2,328.7 587.0,342.2 587.5,346.0 587.8,326.7 588.1,341.5 588.6,342.1 589.4,330.3 590.2,342.1 590.7,347.1 591.0,325.6 591.3,345.2 591.8,342.9 592.6,322.3 593.5,353.5 593.8,312.8 594.1,348.9 595.0,349.1 595.8,319.0 596.5,367.4 596.8,306.3 597.1,363.1 597.4,319.2 598.2,353.4 599.0,323.7 599.3,363.1 599.6,318.1 599.9,347.8 600.6,320.8 601.4,353.1 602.2,326.6 602.5,347.1 602.8,325.6 603.1,342.9 603.8,329.9 604.6,346.8 605.4,325.4 606.2,346.3 606.8,351.4 607.1,322.4 607.4,342.8 607.8,346.2 608.6,323.8 609.4,350.4 610.2,322.2 611.0,352.4 611.3,321.3 611.6,350.7 612.6,346.6 613.4,322.6 614.2,352.7 615.0,320.4 615.3,353.5 615.6,320.2 615.9,352.3 616.6,327.0 617.4,349.8 618.2,321.1 618.5,353.5 618.8,321.3 619.1,342.6 619.8,324.7 620.6,344.3 621.4,330.0 621.7,344.9 622.0,329.9 622.3,341.7 623.0,329.8 623.8,346.1 624.6,328.2 624.9,347.1 625.2,326.7 625.5,343.4 626.2,328.9 627.0,343.4 627.8,330.5 628.2,348.1 628.5,326.7 628.8,347.7 629.4,327.7 630.2,344.0 631.0,322.4 631.4,342.8 631.7,320.2 632.0,338.9 632.6,326.0 633.4,345.2 634.2,357.4 634.5,318.5 634.8,352.2 635.0,352.1 635.8,329.4 636.7,352.4 637.0,325.6 637.3,347.8 638.2,343.9 639.0,331.2 639.9,340.7 640.2,332.0 640.5,340.2 641.4,346.9 642.2,326.9 643.1,357.8 643.4,323.5 643.7,348.3 644.6,360.1 645.4,316.2 646.4,370.6 646.7,306.3 647.0,363.8 647.8,368.3 648.6,309.1 649.1,368.5 649.4,308.5 649.7,351.4 650.2,314.6 651.0,360.2 651.7,355.6 652.0,325.6 652.3,345.9 652.6,348.9 653.4,318.4 654.2,346.6 654.9,351.4 655.2,308.5 655.5,340.8 655.8,351.3 656.6,314.1 657.4,358.6 658.1,371.1 658.4,302.5 658.7,349.0 659.0,364.7 659.8,318.6 660.6,363.8 661.3,364.2 661.6,310.6 661.9,347.0 662.2,358.6 663.0,314.0 663.8,359.0 664.5,357.8 664.8,317.0 665.1,346.8 665.4,356.7 666.2,325.1 667.0,352.7 667.8,324.8 668.6,349.1 668.8,355.6 669.1,319.2 669.4,355.6 670.2,347.2 671.0,326.1 671.8,346.8 672.0,347.1 672.3,329.9 672.6,341.4 673.4,344.5 674.2,330.2 675.0,349.2 675.2,353.5 675.5,323.5 675.8,351.7 676.6,353.8 677.4,319.7 678.2,355.4 678.5,357.8 678.8,316.6 679.1,347.4 679.8,354.0 680.6,322.9 681.4,356.5 681.7,359.9 682.0,321.3 682.3,347.0 683.0,353.5 683.8,317.5 684.2,370.6 684.5,307.8 684.8,348.7 685.4,309.7 686.2,358.7 687.0,372.8 687.3,298.8 687.6,372.0 688.6,313.3 689.4,370.6 690.2,382.4 690.5,290.7 690.8,363.9 691.8,294.7 692.6,376.7 693.4,380.3 693.7,295.6 694.0,371.4 695.0,311.2 695.6,362.1 695.9,302.0 696.2,356.2 696.6,315.2 697.4,346.8 698.2,326.4 698.8,340.7 699.1,329.9 699.4,340.6 699.8,331.1 700.6,352.5 700.9,357.8 701.2,327.7 701.5,356.8 702.2,353.8 703.1,355.6 703.4,325.6 703.7,352.5 704.6,325.1 705.4,350.0 705.6,358.9 705.9,309.5 706.2,351.2 707.0,355.7 707.8,319.8 708.4,357.8 708.7,321.3 709.0,346.4 709.4,326.2 710.2,351.5 711.0,328.4 711.2,347.1 711.5,327.7 711.8,344.8 712.6,328.5 713.4,344.8 713.8,347.1 714.1,320.2 714.4,344.5 715.0,348.3 715.8,324.9 716.3,361.0 716.6,320.2 716.9,355.8 717.4,322.3 718.2,355.5 719.1,361.0 719.4,312.8 719.7,356.5 720.6,322.6 721.4,353.7 721.9,353.5 722.2,325.6 722.5,346.8 723.0,348.5 723.8,327.6 724.5,342.8 724.8,325.6 725.1,340.1 725.4,319.7 726.2,349.0 727.0,303.5 727.7,370.6 728.0,293.5 728.3,369.9 728.6,307.3 729.4,367.8 730.2,290.5 730.9,388.2 731.2,288.8 731.5,357.8 731.8,311.6 732.6,381.6 733.4,316.5 734.1,377.0 734.4,306.3 734.7,367.9 735.0,306.9 735.8,365.8 736.6,313.1 737.3,368.5 737.6,306.3 737.9,350.7 738.2,315.6 739.0,362.3 739.8,310.8 740.6,355.3 741.2,370.2 741.5,302.5 741.8,352.1 742.2,359.0 743.0,310.3 743.7,359.9 744.0,308.5 744.3,347.8 744.6,316.8 745.4,352.7 746.3,353.5 746.6,319.2 746.9,344.8 747.8,325.6 748.6,342.4 749.1,342.8 749.4,329.9 749.7,341.6 750.2,348.9 751.0,329.0 751.2,359.9 751.5,327.7 751.8,354.0 752.6,334.4 753.4,359.2 754.0,361.0 754.3,327.7 754.6,354.0 755.0,353.3 755.8,314.8 756.6,359.9 756.9,296.7 757.2,355.2 757.4,310.0 758.2,364.7 759.2,371.7 759.5,298.8 759.8,367.9 760.6,306.5 761.4,359.5 761.9,366.3 762.2,306.8 762.5,347.0 763.0,363.3 763.8,319.1 764.7,364.2 765.0,306.8 765.3,355.2 766.2,356.4 766.9,359.9 767.2,332.0 767.5,353.5 767.8,355.5 768.6,334.9 769.4,344.9 769.7,330.9 770.0,343.9 771.0,341.2 771.8,331.0 772.2,341.7 772.5,328.8 772.8,340.0 773.4,330.0 774.2,341.5 775.0,332.1 775.8,342.8 776.1,332.0 776.4,342.3 777.4,343.9 778.2,332.3 779.1,350.3 779.4,325.6 779.7,343.3 780.6,344.5 781.4,330.1 782.3,349.2 782.6,325.6 782.9,343.4 783.8,344.4 784.6,324.0 785.5,347.1 785.8,317.0 786.1,344.9 787.0,345.7 787.8,312.4 788.7,366.3 789.0,306.3 789.3,345.4 790.2,358.3 791.0,320.9 791.9,367.4 792.2,308.5 792.5,361.4 793.4,354.9 794.2,316.8 795.1,359.9 795.4,314.9 795.7,357.5 796.6,349.1 797.4,326.3 798.3,353.5 798.6,321.3 798.9,342.5 799.8,351.4 800.6,319.8 801.5,357.8 801.8,317.0 802.1,356.9 803.0,353.4 803.8,323.0 804.7,359.9 805.0,316.0 805.3,352.5 806.2,351.9 807.0,321.9 808.0,349.2 808.3,323.5 808.6,341.8 809.4,344.5 810.2,324.5 811.0,342.9 811.8,327.1 812.2,347.1 812.5,325.6 812.8,345.7 813.4,327.8 814.2,344.8 815.0,327.2 815.8,341.6 816.5,344.9 816.8,326.7 817.1,340.1 817.4,341.7 818.2,329.3 819.0,342.5 819.7,342.8 820.0,327.7 820.3,338.5 820.6,343.5 821.4,323.8 822.2,347.4 822.5,355.6 822.8,307.4 823.1,353.3 823.8,358.4 824.6,316.9 825.1,378.1 825.4,303.1 825.7,362.3 826.2,306.4 827.0,378.0 827.9,380.3 828.2,291.3 828.5,371.4 829.4,298.5 830.2,379.5 830.9,379.2 831.2,301.0 831.5,361.7 831.8,370.4 832.6,319.2 833.2,359.9 833.5,327.7 833.8,355.8 834.2,328.4 835.0,349.9 835.8,351.4 836.1,321.3 836.4,344.5 836.6,351.3 837.4,319.0 838.2,351.0 839.0,358.9 839.3,312.3 839.6,357.1 839.8,348.9 840.6,320.5 841.4,358.7 842.2,358.9 842.5,314.9 842.8,358.1 843.0,356.3 843.8,327.7 844.6,350.5 845.4,353.5 845.7,330.9 846.0,351.7 846.2,349.4 847.0,332.6 847.8,344.3 848.6,342.8 848.9,332.0 849.2,342.4 850.2,330.7 851.0,346.3 851.8,349.2 852.1,323.5 852.4,342.2 853.4,326.2 854.2,347.9 855.0,350.3 855.3,323.5 855.6,341.5 856.6,323.7 857.4,352.8 858.3,354.6 858.6,319.2 858.9,345.2 859.8,321.8 860.6,353.6 861.4,320.6 861.9,357.1 862.2,317.0 862.5,354.2 863.0,320.2 863.8,348.6 864.7,353.5 865.0,323.5 865.3,343.0 866.2,326.9 867.0,346.7 867.9,351.4 868.2,322.4 868.5,347.0 869.4,324.0 870.2,351.9 871.1,355.6 871.4,319.2 871.7,344.3 872.6,323.6 873.4,349.8 874.2,319.9 875.0,354.6 875.4,355.6 875.7,318.1 876.0,353.8 876.6,353.5 877.4,318.6 878.2,350.8 879.0,319.3 879.7,356.7 880.0,317.0 880.3,351.4 880.6,324.0 881.4,351.3 882.2,321.6 883.0,354.7 883.9,359.9 884.2,314.9 884.5,348.0 885.4,318.4 886.2,358.5 887.0,323.0 887.8,352.3 888.2,357.8 888.5,316.0 888.8,345.2 889.4,356.5 890.2,322.2 891.0,353.2 891.4,355.6 891.7,313.8 892.0,347.9 892.6,355.0 893.6,369.6 893.9,312.8 894.2,363.2 895.0,311.8 895.8,360.4 896.4,370.6 896.7,299.9 897.0,353.1 897.4,358.4 898.2,314.1 899.0,361.1 899.6,369.6 899.9,311.7 900.2,356.5 900.6,354.5 901.4,320.0 902.1,359.9 902.4,310.6 902.7,356.5 903.0,316.7 903.8,357.7 904.6,314.4 905.4,353.9 906.2,317.2 906.4,365.3 906.7,309.5 907.0,352.3 907.8,317.1 908.6,364.8 908.7,365.3 909.0,309.5 909.0,360.0" fill="none" stroke="#0000ff" stroke-width="4.2" stroke-linejoin="round" stroke-linecap="butt" clip-path="url(#cL2)"/>
<path d="M342.1 467.0V612.8M525.2 467.0V612.8M708.3 467.0V612.8M891.4 467.0V612.8M159.0 478.7H909.0M159.0 542.9H909.0M159.0 607.1H909.0" stroke="#dedede" stroke-width="3.7" fill="none"/>
<path d="M342.1 612.8v-9.0M342.1 467.0v9.0M525.2 612.8v-9.0M525.2 467.0v9.0M708.3 612.8v-9.0M708.3 467.0v9.0M891.4 612.8v-9.0M891.4 467.0v9.0M159.0 478.7h9.0M909.0 478.7h-9.0M159.0 542.9h9.0M909.0 542.9h-9.0M159.0 607.1h9.0M909.0 607.1h-9.0" stroke="#262626" stroke-width="3.7" fill="none"/>
<rect x="159.0" y="467.0" width="750.0" height="145.8" stroke="#262626" stroke-width="3.7" fill="none"/>
<polyline points="159.0,556.4 159.2,550.2 159.8,542.9 160.3,536.8 160.8,525.7 161.4,536.8 162.0,542.9 162.5,550.0 163.1,562.7 163.8,549.7 164.4,542.9 165.1,537.1 165.8,528.0 166.5,538.2 167.2,542.9 167.9,545.6 168.6,549.2 169.3,544.6 170.1,542.9 170.7,540.2 171.4,535.2 172.1,540.2 172.8,542.9 173.4,545.4 174.1,550.0 174.7,545.4 175.3,542.9 176.0,540.7 176.6,537.7 177.2,541.4 177.9,542.9 178.5,545.4 179.2,548.8 179.8,544.6 180.5,542.9 181.2,541.4 181.9,538.8 182.6,541.7 183.3,542.9 184.0,543.7 184.7,545.7 185.4,544.1 186.1,542.9 186.9,539.5 187.6,531.6 188.4,538.7 189.2,542.9 189.9,546.6 190.7,555.1 191.5,547.5 192.3,542.9 193.1,538.6 193.9,529.6 194.7,537.8 195.4,542.9 196.2,547.6 196.9,555.7 197.6,546.9 198.3,542.9 199.0,537.7 199.7,528.2 200.4,537.9 201.1,542.9 201.7,546.2 202.4,552.1 203.0,546.2 203.7,542.9 204.3,540.5 205.0,535.7 205.6,540.3 206.3,542.9 206.9,545.9 207.5,552.4 208.2,546.6 208.8,542.9 209.5,539.6 210.1,530.3 210.7,537.3 211.4,542.9 212.0,548.2 212.6,558.7 213.1,549.5 213.7,542.9 214.3,533.8 214.8,517.0 215.4,533.7 215.9,542.9 216.4,554.4 216.9,575.5 217.4,554.4 217.9,542.9 218.4,531.1 218.9,508.4 219.4,530.7 220.0,542.9 220.5,554.7 221.0,576.3 221.5,554.5 222.0,542.9 222.6,531.3 223.1,510.0 223.6,531.3 224.2,542.9 224.7,551.8 225.3,568.0 225.8,551.8 226.4,542.9 226.9,537.5 227.5,529.0 228.1,538.0 228.7,542.9 229.2,548.1 229.8,554.7 230.4,546.3 231.0,542.9 231.6,538.6 232.3,529.4 232.9,537.7 233.5,542.9 234.1,546.1 234.8,553.1 235.4,546.9 236.1,542.9 236.7,537.2 237.4,526.9 238.0,537.2 238.7,542.9 239.4,548.8 240.0,560.3 240.7,549.3 241.4,542.9 242.1,537.9 242.8,528.8 243.5,537.9 244.2,542.9 244.9,550.6 245.6,564.6 246.3,550.6 247.1,542.9 247.8,529.4 248.5,504.8 249.2,529.4 250.0,542.9 250.7,555.1 251.5,579.5 252.2,556.1 252.9,542.9 253.6,531.6 254.3,515.9 255.0,533.4 255.7,542.9 256.4,555.6 257.0,578.8 257.7,554.4 258.3,542.9 259.0,533.9 259.6,517.5 260.2,534.7 260.8,542.9 261.4,548.5 261.9,557.5 262.5,547.6 263.1,542.9 263.6,540.8 264.2,537.4 264.7,541.1 265.3,542.9 265.8,544.0 266.3,544.7 266.8,543.6 267.3,542.9 267.8,541.8 268.3,539.3 268.8,541.5 269.3,542.9 269.8,544.4 270.3,547.4 270.8,544.6 271.4,542.9 271.9,541.1 272.4,537.6 272.9,541.0 273.5,542.9 274.0,545.1 274.6,549.5 275.1,545.4 275.7,542.9 276.2,540.2 276.8,534.7 277.3,539.8 277.9,542.9 278.5,546.3 279.1,552.8 279.8,546.5 280.4,542.9 281.1,537.2 281.8,526.7 282.5,537.2 283.2,542.9 283.9,551.7 284.7,567.9 285.4,551.7 286.2,542.9 287.0,533.1 287.7,515.3 288.4,533.1 289.1,542.9 289.7,551.7 290.4,567.7 291.0,551.6 291.6,542.9 292.2,532.6 292.8,515.1 293.4,533.6 293.9,542.9 294.5,551.3 295.0,566.6 295.6,550.6 296.1,542.9 296.7,537.9 297.3,530.8 297.9,539.3 298.4,542.9 299.0,547.5 299.6,556.0 300.2,547.5 300.8,542.9 301.5,537.7 302.1,528.2 302.7,537.7 303.3,542.9 304.0,547.4 304.7,555.5 305.3,547.2 306.0,542.9 306.7,537.7 307.4,529.4 308.2,538.6 308.9,542.9 309.7,546.8 310.5,553.8 311.2,546.6 312.0,542.9 312.7,538.0 313.4,529.0 314.1,538.0 314.8,542.9 315.4,550.4 316.0,564.2 316.6,550.4 317.1,542.9 317.7,532.7 318.2,512.8 318.7,532.3 319.2,542.9 319.7,552.8 320.1,573.2 320.7,554.4 321.2,542.9 321.7,531.9 322.3,511.8 322.8,531.5 323.4,542.9 324.0,554.9 324.6,576.7 325.2,554.9 325.8,542.9 326.5,530.9 327.1,509.0 327.8,530.9 328.5,542.9 329.2,553.3 329.9,570.9 330.6,552.3 331.3,542.9 332.0,535.4 332.8,521.7 333.5,535.2 334.3,542.9 335.1,551.4 335.9,566.7 336.7,551.2 337.4,542.9 338.2,531.3 338.9,510.0 339.6,531.3 340.3,542.9 340.9,558.2 341.6,588.8 342.2,559.2 342.8,542.9 343.4,527.9 343.9,494.1 344.5,525.6 345.0,542.9 345.6,559.7 346.2,590.4 346.7,559.7 347.3,542.9 347.9,525.7 348.5,494.3 349.1,525.7 349.7,542.9 350.4,557.4 351.0,583.9 351.6,557.4 352.3,542.9 352.9,530.5 353.6,514.6 354.3,535.3 354.9,542.9 355.6,552.4 356.3,562.7 357.1,548.2 357.8,542.9 358.5,536.9 359.3,525.9 360.0,537.9 360.8,542.9 361.6,544.2 362.3,546.7 363.1,544.1 363.8,542.9 364.5,539.6 365.1,532.0 365.8,539.0 366.4,542.9 367.0,546.9 367.6,556.6 368.2,548.6 368.7,542.9 369.3,539.1 369.8,532.1 370.3,538.3 370.8,542.9 371.4,548.8 371.9,559.7 372.5,548.8 373.0,542.9 373.6,536.5 374.2,524.9 374.8,536.5 375.4,542.9 376.0,548.3 376.6,557.5 377.2,547.9 377.9,542.9 378.5,539.3 379.2,535.8 379.9,539.6 380.5,542.9 381.2,546.2 381.9,549.1 382.6,544.7 383.3,542.9 384.0,539.1 384.7,532.3 385.4,539.1 386.1,542.9 386.8,545.3 387.5,549.8 388.3,545.3 389.0,542.9 389.7,540.8 390.4,536.7 391.1,540.7 391.8,542.9 392.5,544.5 393.3,548.9 394.0,545.9 394.7,542.9 395.4,540.0 396.0,531.4 396.7,537.3 397.4,542.9 398.1,549.6 398.8,563.0 399.4,550.5 400.1,542.9 400.7,531.4 401.4,510.2 402.0,531.4 402.7,542.9 403.3,556.9 403.9,582.5 404.5,556.9 405.2,542.9 405.8,528.5 406.4,500.7 407.0,528.0 407.5,542.9 408.1,557.5 408.7,583.9 409.3,557.0 409.8,542.9 410.4,528.8 410.9,503.1 411.5,528.8 412.0,542.9 412.6,554.7 413.1,576.0 413.7,554.5 414.3,542.9 414.8,533.3 415.4,516.4 416.0,533.6 416.6,542.9 417.2,551.7 417.8,565.6 418.4,550.4 419.0,542.9 419.6,535.1 420.3,522.2 420.9,536.1 421.5,542.9 422.2,550.1 422.8,564.5 423.4,551.5 424.0,542.9 424.7,535.6 425.3,519.4 425.9,533.5 426.5,542.9 427.1,553.0 427.7,571.3 428.3,553.0 428.9,542.9 429.5,529.7 430.1,505.7 430.7,529.7 431.3,542.9 431.9,554.6 432.5,575.9 433.1,554.6 433.8,542.9 434.4,530.6 435.0,510.7 435.6,532.5 436.3,542.9 436.9,554.1 437.5,573.3 438.2,553.0 438.8,542.9 439.4,534.2 440.0,518.6 440.6,535.3 441.3,542.9 441.9,550.2 442.5,565.6 443.1,552.3 443.7,542.9 444.3,535.1 444.9,520.1 445.5,533.7 446.1,542.9 446.7,555.4 447.3,578.3 448.0,555.4 448.6,542.9 449.3,527.9 449.9,500.4 450.6,527.9 451.3,542.9 452.0,556.9 452.8,582.5 453.5,556.9 454.3,542.9 455.0,530.0 455.8,511.3 456.5,531.7 457.3,542.9 458.0,555.1 458.8,573.7 459.5,552.5 460.2,542.9 461.0,532.9 461.7,521.3 462.5,537.6 463.2,542.9 463.9,549.6 464.6,558.3 465.3,547.0 465.9,542.9 466.6,538.2 467.3,530.7 467.9,539.0 468.5,542.9 469.1,546.5 469.7,553.1 470.3,546.5 470.9,542.9 471.5,537.7 472.1,528.3 472.7,537.7 473.3,542.9 473.9,549.4 474.5,564.0 475.1,550.7 475.7,542.9 476.4,537.4 477.0,527.4 477.6,537.9 478.3,542.9 479.0,550.6 479.6,564.5 480.3,550.5 480.9,542.9 481.6,532.8 482.2,514.2 482.8,532.8 483.4,542.9 484.0,550.1 484.7,564.3 485.2,550.7 485.8,542.9 486.4,533.1 487.0,516.4 487.6,534.3 488.1,542.9 488.7,550.7 489.3,565.0 489.8,550.7 490.4,542.9 491.0,537.8 491.6,528.5 492.2,537.8 492.8,542.9 493.4,546.7 494.0,551.2 494.6,545.7 495.2,542.9 495.9,539.0 496.5,532.9 497.1,539.3 497.7,542.9 498.3,545.9 499.0,551.6 499.6,546.0 500.2,542.9 500.8,539.1 501.4,532.1 502.0,539.0 502.6,542.9 503.2,546.5 503.8,553.3 504.4,546.7 505.0,542.9 505.6,538.6 506.2,530.7 506.8,538.5 507.4,542.9 508.0,547.5 508.7,556.2 509.3,547.8 510.0,542.9 510.6,538.1 511.3,528.9 512.0,537.8 512.7,542.9 513.4,548.6 514.0,560.4 514.7,549.5 515.4,542.9 516.1,533.4 516.7,514.0 517.4,532.6 518.0,542.9 518.6,556.7 519.3,581.9 519.9,556.7 520.5,542.9 521.1,526.2 521.7,493.5 522.3,525.5 522.9,542.9 523.5,558.6 524.1,588.3 524.7,559.0 525.3,542.9 525.9,526.1 526.5,495.4 527.1,526.4 527.8,542.9 528.4,558.9 529.0,588.1 529.6,558.8 530.3,542.9 530.9,529.2 531.5,504.6 532.2,529.5 532.8,542.9 533.5,554.1 534.2,569.2 534.8,550.3 535.5,542.9 536.2,538.4 536.9,531.1 537.6,539.1 538.3,542.9 539.1,545.2 539.8,550.2 540.4,545.8 541.1,542.9 541.8,539.0 542.5,532.0 543.1,539.0 543.8,542.9 544.4,546.6 545.1,554.1 545.7,547.2 546.3,542.9 546.9,539.3 547.5,532.6 548.2,538.6 548.8,542.9 549.5,548.4 550.2,558.8 550.8,548.6 551.5,542.9 552.3,535.3 553.0,521.3 553.7,535.3 554.5,542.9 555.3,551.3 556.0,568.3 556.8,552.5 557.5,542.9 558.2,537.2 558.9,529.6 559.5,537.3 560.2,542.9 560.8,552.3 561.4,569.4 562.0,552.3 562.5,542.9 563.1,535.5 563.6,522.1 564.2,535.5 564.7,542.9 565.3,546.2 565.9,549.0 566.5,544.9 567.1,542.9 567.7,538.0 568.3,531.3 569.0,539.6 569.6,542.9 570.3,544.5 571.0,546.4 571.7,543.8 572.4,542.9 573.1,541.9 573.9,540.0 574.5,541.8 575.2,542.9 575.9,545.2 576.6,549.7 577.2,545.5 577.9,542.9 578.5,541.7 579.2,539.0 579.8,540.9 580.4,542.9 581.0,545.8 581.6,551.1 582.2,545.8 582.9,542.9 583.5,538.8 584.1,531.2 584.7,538.8 585.3,542.9 585.9,546.8 586.5,553.9 587.2,546.8 587.8,542.9 588.4,539.5 589.0,531.6 589.6,538.6 590.2,542.9 590.9,546.9 591.5,554.5 592.2,547.1 592.8,542.9 593.5,538.2 594.1,529.3 594.8,538.0 595.4,542.9 596.1,547.8 596.8,557.0 597.5,548.0 598.2,542.9 598.9,537.9 599.5,528.7 600.2,537.9 600.9,542.9 601.5,547.9 602.2,557.0 602.9,547.9 603.5,542.9 604.2,538.4 604.8,530.6 605.5,538.7 606.1,542.9 606.8,546.5 607.4,553.1 608.1,546.6 608.7,542.9 609.3,538.9 610.0,531.3 610.6,538.7 611.2,542.9 611.8,547.0 612.5,554.6 613.1,547.1 613.7,542.9 614.3,538.8 614.9,531.4 615.5,538.8 616.1,542.9 616.7,547.6 617.2,556.7 617.8,548.0 618.3,542.9 618.8,538.4 619.4,528.1 619.9,537.0 620.4,542.9 620.9,549.1 621.4,560.8 621.9,549.6 622.3,542.9 622.8,534.8 623.3,520.1 623.8,534.8 624.2,542.9 624.7,550.6 625.2,564.8 625.7,550.6 626.2,542.9 626.6,534.9 627.1,520.5 627.6,535.3 628.1,542.9 628.6,551.1 629.1,566.0 629.6,550.9 630.1,542.9 630.6,536.8 631.1,526.2 631.6,537.2 632.1,542.9 632.6,545.7 633.2,550.8 633.8,546.3 634.3,542.9 634.9,535.4 635.5,521.6 636.2,535.4 636.8,542.9 637.5,557.9 638.2,586.7 638.8,558.7 639.6,542.9 640.3,529.0 641.0,498.6 641.7,526.3 642.4,542.9 643.0,557.6 643.7,584.6 644.4,557.1 645.1,542.9 645.7,525.9 646.4,494.7 647.1,526.0 647.7,542.9 648.4,556.5 649.0,581.4 649.7,556.5 650.3,542.9 651.0,529.6 651.7,506.9 652.4,530.7 653.0,542.9 653.7,551.1 654.4,563.7 655.1,549.5 655.8,542.9 656.5,537.1 657.3,530.6 658.0,536.9 658.7,542.9 659.4,548.7 660.2,562.8 660.9,551.2 661.7,542.9 662.5,534.6 663.3,519.5 664.0,534.3 664.8,542.9 665.6,553.1 666.4,571.9 667.2,553.1 667.9,542.9 668.7,532.0 669.5,512.1 670.2,532.0 670.9,542.9 671.6,552.4 672.4,569.6 673.1,552.4 673.8,542.9 674.4,532.6 675.1,513.8 675.7,532.6 676.4,542.9 677.0,553.4 677.6,572.7 678.1,553.4 678.7,542.9 679.3,528.9 679.8,503.3 680.3,528.9 680.8,542.9 681.3,556.6 681.8,583.8 682.3,557.4 682.8,542.9 683.3,529.2 683.8,504.2 684.3,529.3 684.9,542.9 685.4,558.1 685.9,585.8 686.4,558.1 687.0,542.9 687.5,529.5 688.1,504.9 688.6,529.5 689.2,542.9 689.8,556.6 690.4,580.8 690.9,556.0 691.5,542.9 692.1,531.8 692.7,514.0 693.3,533.6 694.0,542.9 694.6,551.0 695.2,565.0 695.9,550.4 696.5,542.9 697.2,536.6 697.8,525.8 698.5,536.2 699.2,542.9 699.8,548.3 700.5,559.4 701.1,549.2 701.7,542.9 702.4,536.0 703.0,523.4 703.6,536.0 704.2,542.9 704.7,549.9 705.3,562.8 705.9,549.9 706.4,542.9 707.0,537.6 707.6,527.8 708.1,537.6 708.7,542.9 709.4,549.3 710.0,560.6 710.6,548.9 711.3,542.9 712.0,537.9 712.7,529.0 713.5,538.1 714.2,542.9 715.0,549.5 715.8,561.7 716.6,549.5 717.4,542.9 718.2,532.9 719.0,514.6 719.8,532.9 720.6,542.9 721.4,553.3 722.2,572.3 723.0,553.3 723.8,542.9 724.6,533.3 725.4,515.7 726.2,533.3 726.9,542.9 727.7,552.5 728.5,569.9 729.3,552.0 730.0,542.9 730.8,535.8 731.6,525.4 732.3,537.1 733.1,542.9 733.8,548.4 734.5,558.7 735.3,548.6 736.0,542.9 736.7,537.3 737.3,527.1 738.0,537.3 738.7,542.9 739.3,548.8 740.0,559.6 740.6,548.8 741.2,542.9 741.9,537.4 742.5,527.4 743.2,537.4 743.9,542.9 744.6,548.6 745.3,560.7 746.0,549.6 746.7,542.9 747.4,538.4 748.2,530.3 748.9,536.3 749.7,542.9 750.4,550.3 751.1,563.7 751.8,550.4 752.5,542.9 753.1,527.8 753.7,500.2 754.3,527.8 754.9,542.9 755.5,565.1 756.1,608.5 756.6,566.5 757.1,542.9 757.6,520.4 758.2,477.4 758.7,519.0 759.2,542.9 759.7,566.0 760.3,608.3 760.8,566.0 761.3,542.9 761.9,516.4 762.4,468.1 763.0,516.4 763.6,542.9 764.1,566.2 764.7,608.9 765.2,566.2 765.8,542.9 766.4,519.1 767.0,478.8 767.6,521.3 768.2,542.9 768.7,565.5 769.3,603.6 769.9,563.2 770.5,542.9 771.2,525.0 771.8,495.6 772.4,527.9 773.0,542.9 773.6,557.4 774.2,581.2 774.9,555.6 775.5,542.9 776.2,533.6 776.8,516.6 777.5,533.6 778.2,542.9 778.8,552.1 779.5,567.9 780.2,551.4 780.9,542.9 781.6,535.8 782.3,523.3 783.1,536.1 783.8,542.9 784.5,549.8 785.2,561.6 785.9,549.3 786.6,542.9 787.2,536.7 787.9,525.7 788.6,536.9 789.2,542.9 789.9,547.6 790.5,554.6 791.2,546.5 791.8,542.9 792.4,539.4 793.0,532.5 793.6,538.7 794.2,542.9 794.8,547.6 795.4,557.9 796.0,548.8 796.5,542.9 797.1,538.6 797.6,529.1 798.1,537.5 798.7,542.9 799.2,549.5 799.7,561.5 800.2,549.5 800.8,542.9 801.3,536.4 801.8,524.6 802.4,536.4 802.9,542.9 803.5,549.2 804.0,560.3 804.6,548.9 805.1,542.9 805.7,536.8 806.3,527.3 806.8,538.0 807.4,542.9 808.0,548.0 808.6,558.5 809.2,548.5 809.8,542.9 810.3,538.9 810.9,531.4 811.5,538.7 812.1,542.9 812.7,548.6 813.3,558.9 813.8,548.6 814.4,542.9 815.0,533.9 815.6,517.4 816.2,533.9 816.8,542.9 817.3,551.3 817.9,566.6 818.5,551.3 819.1,542.9 819.6,534.1 820.2,520.7 820.8,536.0 821.4,542.9 822.0,551.7 822.5,567.9 823.1,551.5 823.7,542.9 824.2,537.0 824.8,526.2 825.4,537.0 826.0,542.9 826.5,548.4 827.1,556.3 827.6,546.9 828.2,542.9 828.7,540.0 829.3,536.4 829.8,540.9 830.4,542.9 830.9,544.2 831.5,545.9 832.0,543.9 832.5,542.9 833.0,540.9 833.6,537.3 834.1,540.9 834.6,542.9 835.2,544.4 835.7,547.4 836.3,544.6 836.9,542.9 837.4,541.0 838.0,537.6 838.6,541.1 839.2,542.9 839.7,544.7 840.3,547.9 840.9,544.7 841.5,542.9 842.2,540.1 842.8,534.1 843.4,539.4 844.0,542.9 844.6,547.6 845.2,557.0 845.8,548.2 846.5,542.9 847.1,536.0 847.7,521.9 848.3,535.5 848.9,542.9 849.6,549.6 850.2,562.7 850.8,550.0 851.5,542.9 852.1,535.9 852.8,523.0 853.4,536.0 854.1,542.9 854.8,549.9 855.5,562.8 856.2,549.8 856.9,542.9 857.6,537.2 858.3,522.2 859.1,534.0 859.8,542.9 860.5,553.3 861.3,575.7 862.0,555.0 862.7,542.9 863.5,531.5 864.2,507.1 865.0,530.0 865.7,542.9 866.5,555.0 867.2,577.2 867.9,555.0 868.7,542.9 869.4,530.1 870.1,506.9 870.8,530.5 871.5,542.9 872.2,556.1 872.8,580.1 873.5,556.1 874.2,542.9 874.8,526.0 875.5,495.2 876.1,526.0 876.8,542.9 877.4,561.5 878.1,595.4 878.7,561.5 879.3,542.9 880.0,522.1 880.6,483.9 881.3,522.1 881.9,542.9 882.5,564.2 883.1,603.3 883.8,564.2 884.4,542.9 885.0,522.6 885.7,486.3 886.4,523.2 887.0,542.9 887.7,563.7 888.4,598.8 889.1,561.6 889.8,542.9 890.5,523.3 891.2,491.1 891.9,525.8 892.7,542.9 893.4,559.1 894.1,586.2 894.9,557.3 895.6,542.9 896.4,530.6 897.2,511.5 897.9,531.7 898.7,542.9 899.4,555.6 900.2,580.3 901.0,557.4 901.8,542.9 902.5,527.0 903.3,496.3 904.0,525.8 904.8,542.9 905.5,559.9 906.2,590.9 906.9,559.9 907.7,542.9 908.4,524.8 909.0,495.5" fill="none" stroke="#0000ff" stroke-width="4.2" stroke-linejoin="round" stroke-linecap="butt" clip-path="url(#cL3)"/>
<path d="M342.1 669.0V815.5M525.2 669.0V815.5M708.3 669.0V815.5M891.4 669.0V815.5M159.0 742.2H909.0" stroke="#dedede" stroke-width="3.7" fill="none"/>
<path d="M342.1 815.5v-9.0M342.1 669.0v9.0M525.2 815.5v-9.0M525.2 669.0v9.0M708.3 815.5v-9.0M708.3 669.0v9.0M891.4 815.5v-9.0M891.4 669.0v9.0M159.0 742.2h9.0M909.0 742.2h-9.0" stroke="#262626" stroke-width="3.7" fill="none"/>
<rect x="159.0" y="669.0" width="750.0" height="146.5" stroke="#262626" stroke-width="3.7" fill="none"/>
<polyline points="159.0,741.3 159.4,740.3 159.8,739.5 160.2,739.0 160.6,738.6 161.0,738.5 161.4,738.6 161.8,739.4 162.2,740.7 162.6,742.4 163.0,744.3 163.4,746.2 163.8,747.9 164.2,749.3 164.6,750.3 165.0,750.6 165.4,749.8 165.8,747.8 166.2,744.9 166.6,741.4 167.0,737.8 167.4,734.4 167.8,731.6 168.2,729.7 168.6,729.2 169.0,730.0 169.4,732.1 169.8,735.0 170.2,738.7 170.6,742.7 171.0,747.0 171.4,751.2 171.8,755.1 172.2,758.4 172.6,761.0 173.0,762.5 173.4,762.7 173.8,761.8 174.2,760.0 174.6,757.4 175.0,754.2 175.4,750.5 175.8,746.4 176.2,742.1 176.6,737.7 177.0,733.4 177.4,729.3 177.8,725.6 178.2,722.4 178.6,719.8 179.0,718.0 179.4,717.1 179.8,717.3 180.2,718.9 180.6,721.6 181.0,725.1 181.4,729.4 181.8,734.2 182.2,739.3 182.6,744.5 183.0,749.6 183.4,754.4 183.8,758.7 184.2,762.3 184.6,764.9 185.0,766.4 185.4,766.5 185.8,765.4 186.2,763.3 186.6,760.2 187.0,756.4 187.4,752.1 187.8,747.5 188.2,742.8 188.6,738.1 189.0,733.6 189.4,729.6 189.8,726.1 190.2,723.5 190.6,721.8 191.0,721.3 191.4,722.0 191.8,723.8 192.2,726.3 192.6,729.5 193.0,733.2 193.4,737.2 193.8,741.3 194.2,745.3 194.6,749.1 195.0,752.5 195.4,755.3 195.8,757.3 196.2,758.4 196.6,758.4 197.0,757.6 197.4,756.2 197.8,754.3 198.2,751.9 198.6,749.2 199.0,746.2 199.4,743.2 199.8,740.0 200.2,736.9 200.6,734.0 201.0,731.3 201.4,729.0 201.8,727.1 202.2,725.7 202.6,725.0 203.0,725.0 203.4,726.1 203.8,728.1 204.2,730.8 204.6,734.1 205.0,737.8 205.4,741.8 205.8,745.9 206.2,749.9 206.6,753.7 207.0,757.1 207.4,760.0 207.8,762.1 208.2,763.5 208.6,763.7 209.0,762.8 209.4,760.8 209.8,757.9 210.2,754.3 210.6,750.2 211.0,745.7 211.4,741.0 211.8,736.3 212.2,731.9 212.6,727.8 213.0,724.4 213.4,721.6 213.8,719.8 214.2,719.2 214.6,720.1 215.0,722.8 215.4,726.8 215.8,731.7 216.2,737.2 216.6,742.9 217.0,748.3 217.4,753.1 217.8,756.8 218.2,759.1 218.6,759.6 219.0,758.7 219.4,756.9 219.8,754.3 220.2,751.2 220.6,747.7 221.0,744.1 221.4,740.6 221.8,737.3 222.2,734.6 222.6,732.6 223.0,731.5 223.4,731.4 223.8,731.8 224.2,732.6 224.6,733.8 225.0,735.2 225.4,736.9 225.8,738.7 226.2,740.6 226.6,742.6 227.0,744.6 227.4,746.5 227.8,748.3 228.2,749.9 228.6,751.3 229.0,752.4 229.4,753.1 229.8,753.5 230.2,753.1 230.6,751.1 231.0,748.0 231.4,743.9 231.8,739.2 232.2,734.2 232.6,729.3 233.0,724.6 233.4,720.6 233.8,717.4 234.2,715.6 234.6,715.3 235.0,717.9 235.4,723.1 235.8,730.3 236.2,739.0 236.6,748.6 237.0,758.6 237.4,768.3 237.8,777.2 238.2,784.6 238.6,790.1 239.0,793.1 239.4,792.4 239.8,785.7 240.2,774.0 240.6,758.8 241.0,741.7 241.4,724.2 241.8,707.7 242.2,693.9 242.6,684.3 243.0,680.3 243.4,682.8 243.8,690.7 244.2,702.8 244.6,717.9 245.0,734.7 245.4,752.1 245.8,768.8 246.2,783.6 246.6,795.3 247.0,802.6 247.4,804.5 247.8,802.2 248.2,796.9 248.6,789.3 249.0,779.8 249.4,769.0 249.8,757.3 250.2,745.3 250.6,733.6 251.0,722.6 251.4,712.9 251.8,705.0 252.2,699.4 252.6,696.6 253.0,696.7 253.4,698.5 253.8,701.7 254.2,706.0 254.6,711.2 255.0,717.2 255.4,723.6 255.8,730.3 256.2,737.2 256.6,743.9 257.0,750.2 257.4,756.0 257.8,761.0 258.2,765.1 258.6,767.9 259.0,769.4 259.4,769.2 259.8,767.2 260.2,763.9 260.6,759.4 261.0,754.0 261.4,748.2 261.8,742.2 262.2,736.3 262.6,730.8 263.0,726.0 263.4,722.3 263.8,719.9 264.2,719.2 264.6,720.3 265.0,722.9 265.4,726.7 265.8,731.4 266.2,736.8 266.6,742.6 267.0,748.3 267.4,753.9 267.8,758.8 268.2,762.9 268.6,765.9 269.0,767.4 269.4,767.1 269.8,764.8 270.2,761.0 270.6,755.8 271.0,749.8 271.4,743.1 271.8,736.3 272.2,729.6 272.6,723.3 273.0,718.0 273.4,713.8 273.8,711.1 274.2,710.4 274.6,712.0 275.0,715.9 275.4,721.5 275.8,728.6 276.2,736.5 276.6,745.0 277.0,753.4 277.4,761.5 277.8,768.8 278.2,774.8 278.6,779.0 279.0,781.2 279.4,780.7 279.8,777.6 280.2,772.2 280.6,765.1 281.0,756.6 281.4,747.2 281.8,737.4 282.2,727.7 282.6,718.4 283.0,710.0 283.4,703.1 283.8,697.9 284.2,695.1 284.6,694.9 285.0,697.1 285.4,701.4 285.8,707.3 286.2,714.6 286.6,723.0 287.0,732.0 287.4,741.5 287.8,751.0 288.2,760.3 288.6,769.0 289.0,776.8 289.4,783.4 289.8,788.4 290.2,791.5 290.6,792.4 291.0,789.0 291.4,781.0 291.8,769.5 292.2,755.8 292.6,741.0 293.0,726.4 293.4,713.1 293.8,702.4 294.2,695.3 294.6,693.2 295.0,695.1 295.4,699.7 295.8,706.5 296.2,714.9 296.6,724.5 297.0,734.9 297.4,745.5 297.8,755.8 298.2,765.4 298.6,773.8 299.0,780.4 299.4,784.9 299.8,786.6 300.2,785.4 300.6,781.8 301.0,776.0 301.4,768.6 301.8,760.1 302.2,750.7 302.6,740.9 303.0,731.3 303.4,722.1 303.8,713.8 304.2,706.9 304.6,701.7 305.0,698.8 305.4,698.4 305.8,701.0 306.2,706.0 306.6,713.0 307.0,721.6 307.4,731.2 307.8,741.5 308.2,751.8 308.6,761.8 309.0,770.9 309.4,778.7 309.8,784.7 310.2,788.4 310.6,789.4 311.0,787.9 311.4,784.4 311.8,779.1 312.2,772.5 312.6,764.8 313.0,756.3 313.4,747.3 313.8,738.2 314.2,729.2 314.6,720.7 315.0,713.0 315.4,706.4 315.8,701.1 316.2,697.6 316.6,696.1 317.0,696.8 317.4,699.4 317.8,703.7 318.2,709.3 318.6,716.0 319.0,723.5 319.4,731.4 319.8,739.6 320.2,747.6 320.6,755.2 321.0,762.2 321.4,768.2 321.8,772.9 322.2,776.1 322.6,777.5 323.0,776.7 323.4,773.8 323.8,769.4 324.2,763.6 324.6,757.0 325.0,749.8 325.4,742.5 325.8,735.4 326.2,728.9 326.6,723.3 327.0,719.2 327.4,716.8 327.8,716.4 328.2,717.7 328.6,720.1 329.0,723.6 329.4,727.8 329.8,732.6 330.2,737.8 330.6,743.0 331.0,748.0 331.4,752.8 331.8,756.9 332.2,760.2 332.6,762.5 333.0,763.5 333.4,763.1 333.8,761.8 334.2,759.7 334.6,756.8 335.0,753.3 335.4,749.4 335.8,745.2 336.2,740.9 336.6,736.5 337.0,732.2 337.4,728.1 337.8,724.5 338.2,721.3 338.6,718.8 339.0,717.1 339.4,716.4 339.8,716.5 340.2,717.5 340.6,719.1 341.0,721.4 341.4,724.1 341.8,727.4 342.2,731.0 342.6,734.9 343.0,739.1 343.4,743.4 343.8,747.8 344.2,752.3 344.6,756.7 345.0,761.0 345.4,765.0 345.8,768.9 346.2,772.3 346.6,775.4 347.0,778.0 347.4,780.0 347.8,781.3 348.2,782.0 348.6,781.8 349.0,780.5 349.4,778.1 349.8,774.9 350.2,770.8 350.6,766.1 351.0,760.8 351.4,755.1 351.8,749.1 352.2,742.9 352.6,736.6 353.0,730.4 353.4,724.4 353.8,718.6 354.2,713.3 354.6,708.6 355.0,704.5 355.4,701.1 355.8,698.7 356.2,697.4 356.6,697.1 357.0,698.6 357.4,701.8 357.8,706.4 358.2,712.1 358.6,718.8 359.0,726.1 359.4,734.0 359.8,742.0 360.2,750.0 360.6,757.8 361.0,765.0 361.4,771.5 361.8,777.0 362.2,781.3 362.6,784.2 363.0,785.3 363.4,785.1 363.8,784.4 364.2,783.3 364.6,781.8 365.0,779.8 365.4,777.5 365.8,775.0 366.2,772.1 366.6,769.0 367.0,765.7 367.4,762.2 367.8,758.5 368.2,754.8 368.6,751.0 369.0,747.1 369.4,743.2 369.8,739.4 370.2,735.7 370.6,732.0 371.0,728.5 371.4,725.1 371.8,722.0 372.2,719.0 372.6,716.4 373.0,714.1 373.4,712.1 373.8,710.5 374.2,709.2 374.6,708.5 375.0,708.2 375.4,708.6 375.8,710.0 376.2,712.3 376.6,715.2 377.0,718.8 377.4,722.9 377.8,727.4 378.2,732.2 378.6,737.1 379.0,742.1 379.4,747.1 379.8,751.9 380.2,756.4 380.6,760.5 381.0,764.1 381.4,767.1 381.8,769.4 382.2,770.9 382.6,771.3 383.0,770.9 383.4,769.5 383.8,767.4 384.2,764.6 384.6,761.2 385.0,757.4 385.4,753.2 385.8,748.8 386.2,744.3 386.6,739.6 387.0,735.1 387.4,730.7 387.8,726.6 388.2,722.8 388.6,719.5 389.0,716.8 389.4,714.8 389.8,713.6 390.2,713.2 390.6,714.1 391.0,716.4 391.4,719.9 391.8,724.3 392.2,729.5 392.6,735.1 393.0,741.1 393.4,747.1 393.8,753.0 394.2,758.5 394.6,763.5 395.0,767.7 395.4,770.9 395.8,772.9 396.2,773.5 396.6,772.1 397.0,769.0 397.4,764.3 397.8,758.5 398.2,751.9 398.6,744.7 399.0,737.5 399.4,730.3 399.8,723.7 400.2,718.0 400.6,713.4 401.0,710.4 401.4,709.2 401.8,710.6 402.2,714.8 402.6,721.2 403.0,729.2 403.4,738.1 403.8,747.2 404.2,756.0 404.6,763.7 405.0,769.8 405.4,773.7 405.8,774.6 406.2,773.0 406.6,769.5 407.0,764.5 407.4,758.3 407.8,751.4 408.2,744.1 408.6,736.9 409.0,729.9 409.4,723.8 409.8,718.7 410.2,715.2 410.6,713.5 411.0,714.2 411.4,717.5 411.8,722.6 412.2,729.2 412.6,736.7 413.0,744.6 413.4,752.2 413.8,759.0 414.2,764.6 414.6,768.2 415.0,769.5 415.4,767.7 415.8,763.1 416.2,756.5 416.6,748.5 417.0,739.8 417.4,731.1 417.8,723.2 418.2,716.7 418.6,712.4 419.0,710.9 419.4,713.8 419.8,720.9 420.2,730.9 420.6,742.5 421.0,754.5 421.4,765.4 421.8,774.0 422.2,778.9 422.6,778.8 423.0,772.9 423.4,762.6 423.8,749.6 424.2,735.6 424.6,722.2 425.0,711.2 425.4,704.1 425.8,702.7 426.2,706.8 426.6,714.9 427.0,725.9 427.4,738.3 427.8,750.9 428.2,762.5 428.6,771.8 429.0,777.4 429.4,778.3 429.8,776.1 430.2,771.9 430.6,766.0 431.0,759.1 431.4,751.5 431.8,743.7 432.2,736.2 432.6,729.6 433.0,724.2 433.4,720.6 433.8,719.2 434.2,719.9 434.6,721.9 435.0,725.0 435.4,728.9 435.8,733.2 436.2,737.6 436.6,741.8 437.0,745.5 437.4,748.4 437.8,750.2 438.2,750.6 438.6,750.3 439.0,749.5 439.4,748.4 439.8,747.0 440.2,745.6 440.6,744.2 441.0,742.8 441.4,741.7 441.8,740.8 442.2,740.3 442.6,740.3 443.0,740.5 443.4,740.8 443.8,741.2 444.2,741.6 444.6,742.0 445.0,742.4 445.4,742.6 445.8,742.8 446.2,742.8 446.6,742.5 447.0,742.2 447.4,741.7 447.8,741.2 448.2,740.6 448.6,740.1 449.0,739.7 449.4,739.3 449.8,739.2 450.2,739.3 450.6,739.9 451.0,740.9 451.4,742.2 451.8,743.8 452.2,745.4 452.6,746.9 453.0,748.4 453.4,749.5 453.8,750.3 454.2,750.7 454.6,750.2 455.0,749.0 455.4,747.1 455.8,744.7 456.2,741.9 456.6,738.9 457.0,735.9 457.4,732.9 457.8,730.3 458.2,728.0 458.6,726.4 459.0,725.5 459.4,725.4 459.8,726.5 460.2,728.5 460.6,731.3 461.0,734.7 461.4,738.6 461.8,742.8 462.2,747.2 462.6,751.6 463.0,755.9 463.4,759.8 463.8,763.3 464.2,766.1 464.6,768.2 465.0,769.3 465.4,769.4 465.8,768.3 466.2,766.4 466.6,763.6 467.0,760.2 467.4,756.2 467.8,751.8 468.2,747.0 468.6,742.1 469.0,737.2 469.4,732.3 469.8,727.6 470.2,723.2 470.6,719.2 471.0,715.9 471.4,713.2 471.8,711.3 472.2,710.4 472.6,710.4 473.0,710.8 473.4,711.5 473.8,712.4 474.2,713.7 474.6,715.2 475.0,716.9 475.4,718.8 475.8,720.9 476.2,723.1 476.6,725.5 477.0,728.0 477.4,730.6 477.8,733.3 478.2,736.0 478.6,738.8 479.0,741.5 479.4,744.3 479.8,747.0 480.2,749.6 480.6,752.2 481.0,754.7 481.4,757.1 481.8,759.3 482.2,761.4 482.6,763.2 483.0,764.9 483.4,766.4 483.8,767.6 484.2,768.5 484.6,769.1 485.0,769.4 485.4,769.3 485.8,768.3 486.2,766.3 486.6,763.5 487.0,760.0 487.4,755.9 487.8,751.5 488.2,746.7 488.6,741.7 489.0,736.7 489.4,731.7 489.8,726.8 490.2,722.3 490.6,718.2 491.0,714.6 491.4,711.7 491.8,709.6 492.2,708.4 492.6,708.3 493.0,710.5 493.4,714.8 493.8,720.8 494.2,728.2 494.6,736.6 495.0,745.5 495.4,754.4 495.8,763.1 496.2,771.1 496.6,777.9 497.0,783.2 497.4,786.5 497.8,787.4 498.2,785.7 498.6,781.6 499.0,775.5 499.4,767.7 499.8,758.8 500.2,749.0 500.6,738.9 501.0,728.8 501.4,719.0 501.8,710.1 502.2,702.3 502.6,696.2 503.0,692.1 503.4,690.4 503.8,691.9 504.2,697.0 504.6,705.0 505.0,715.2 505.4,726.7 505.8,738.9 506.2,750.9 506.6,762.1 507.0,771.6 507.4,778.8 507.8,782.8 508.2,783.1 508.6,779.7 509.0,773.6 509.4,765.5 509.8,756.1 510.2,746.4 510.6,736.9 511.0,728.7 511.4,722.3 511.8,718.7 512.2,718.6 512.6,722.2 513.0,728.3 513.4,735.7 513.8,743.3 514.2,749.8 514.6,754.0 515.0,754.8 515.4,753.5 515.8,750.9 516.2,747.6 516.6,743.9 517.0,740.3 517.4,737.3 517.8,735.2 518.2,734.6 518.6,735.8 519.0,738.5 519.4,742.2 519.8,746.3 520.2,750.3 520.6,753.7 521.0,755.8 521.4,756.3 521.8,754.6 522.2,751.0 522.6,746.1 523.0,740.2 523.4,733.8 523.8,727.4 524.2,721.5 524.6,716.4 525.0,712.6 525.4,710.5 525.8,710.8 526.2,713.8 526.6,719.0 527.0,726.1 527.4,734.4 527.8,743.6 528.2,753.0 528.6,762.4 529.0,771.0 529.4,778.6 529.8,784.5 530.2,788.3 530.6,789.5 531.0,787.7 531.4,783.3 531.8,776.7 532.2,768.5 532.6,758.9 533.0,748.6 533.4,738.0 533.8,727.5 534.2,717.6 534.6,708.8 535.0,701.5 535.4,696.2 535.8,693.4 536.2,693.5 536.6,696.3 537.0,701.5 537.4,708.5 537.8,716.9 538.2,726.3 538.6,736.2 539.0,746.1 539.4,755.5 539.8,764.1 540.2,771.3 540.6,776.8 541.0,780.0 541.4,780.6 541.8,779.8 542.2,778.1 542.6,775.7 543.0,772.7 543.4,769.1 543.8,765.1 544.2,760.8 544.6,756.2 545.0,751.5 545.4,746.8 545.8,742.2 546.2,737.8 546.6,733.7 547.0,730.1 547.4,726.9 547.8,724.3 548.2,722.5 548.6,721.5 549.0,721.5 549.4,723.5 549.8,727.2 550.2,732.1 550.6,737.7 551.0,743.4 551.4,748.9 551.8,753.5 552.2,756.9 552.6,758.4 553.0,758.1 553.4,756.4 553.8,753.8 554.2,750.5 554.6,746.6 555.0,742.4 555.4,738.3 555.8,734.3 556.2,730.9 556.6,728.1 557.0,726.2 557.4,725.6 557.8,725.9 558.2,726.8 558.6,728.1 559.0,729.9 559.4,732.0 559.8,734.4 560.2,737.1 560.6,740.0 561.0,743.0 561.4,746.1 561.8,749.2 562.2,752.2 562.6,755.1 563.0,757.9 563.4,760.4 563.8,762.6 564.2,764.5 564.6,766.0 565.0,767.0 565.4,767.5 565.8,767.3 566.2,766.5 566.6,765.0 567.0,763.0 567.4,760.5 567.8,757.6 568.2,754.3 568.6,750.8 569.0,747.0 569.4,743.0 569.8,739.0 570.2,734.9 570.6,730.9 571.0,727.0 571.4,723.2 571.8,719.7 572.2,716.6 572.6,713.7 573.0,711.4 573.4,709.5 573.8,708.2 574.2,707.5 574.6,707.7 575.0,709.3 575.4,712.3 575.8,716.3 576.2,721.3 576.6,727.0 577.0,733.2 577.4,739.7 577.8,746.3 578.2,752.9 578.6,759.2 579.0,765.1 579.4,770.2 579.8,774.5 580.2,777.8 580.6,779.8 581.0,780.3 581.4,779.8 581.8,778.7 582.2,776.9 582.6,774.5 583.0,771.7 583.4,768.4 583.8,764.8 584.2,760.8 584.6,756.7 585.0,752.3 585.4,747.8 585.8,743.3 586.2,738.8 586.6,734.4 587.0,730.1 587.4,726.0 587.8,722.2 588.2,718.7 588.6,715.6 589.0,712.9 589.4,710.8 589.8,709.3 590.2,708.4 590.6,708.2 591.0,708.8 591.4,710.0 591.8,711.8 592.2,714.2 592.6,717.0 593.0,720.2 593.4,723.7 593.8,727.4 594.2,731.2 594.6,735.1 595.0,739.0 595.4,742.9 595.8,746.5 596.2,750.0 596.6,753.1 597.0,755.8 597.4,758.1 597.8,759.8 598.2,760.9 598.6,761.4 599.0,760.8 599.4,759.2 599.8,756.7 600.2,753.6 600.6,750.0 601.0,746.2 601.4,742.4 601.8,738.8 602.2,735.7 602.6,733.3 603.0,731.8 603.4,731.3 603.8,731.9 604.2,733.1 604.6,734.9 605.0,737.1 605.4,739.4 605.8,741.8 606.2,744.1 606.6,746.0 607.0,747.5 607.4,748.4 607.8,748.4 608.2,747.5 608.6,745.9 609.0,743.7 609.4,741.4 609.8,739.0 610.2,736.8 610.6,735.2 611.0,734.3 611.4,734.3 611.8,735.2 612.2,736.8 612.6,739.0 613.0,741.5 613.4,744.3 613.8,747.1 614.2,749.8 614.6,752.2 615.0,754.3 615.4,755.7 615.8,756.3 616.2,755.9 616.6,754.0 617.0,750.9 617.4,746.9 617.8,742.4 618.2,737.5 618.6,732.7 619.0,728.2 619.4,724.3 619.8,721.3 620.2,719.5 620.6,719.3 621.0,721.5 621.4,725.9 621.8,731.8 622.2,738.8 622.6,746.3 623.0,753.8 623.4,760.8 623.8,766.7 624.2,771.1 624.6,773.3 625.0,772.8 625.4,769.0 625.8,762.7 626.2,754.6 626.6,745.3 627.0,735.5 627.4,725.9 627.8,717.1 628.2,710.0 628.6,705.1 629.0,703.2 629.4,704.8 629.8,709.7 630.2,717.3 630.6,726.7 631.0,737.3 631.4,748.4 631.8,759.4 632.2,769.6 632.6,778.2 633.0,784.6 633.4,788.0 633.8,788.1 634.2,785.4 634.6,780.5 635.0,773.8 635.4,765.6 635.8,756.4 636.2,746.6 636.6,736.5 637.0,726.5 637.4,717.2 637.8,708.7 638.2,701.7 638.6,696.3 639.0,693.1 639.4,692.4 639.8,694.0 640.2,697.5 640.6,702.5 641.0,708.9 641.4,716.3 641.8,724.4 642.2,733.1 642.6,741.9 643.0,750.7 643.4,759.2 643.8,767.1 644.2,774.0 644.6,779.8 645.0,784.2 645.4,786.8 645.8,787.4 646.2,785.6 646.6,781.7 647.0,775.9 647.4,768.7 647.8,760.5 648.2,751.6 648.6,742.5 649.0,733.6 649.4,725.1 649.8,717.6 650.2,711.5 650.6,707.0 651.0,704.6 651.4,704.6 651.8,706.1 652.2,709.0 652.6,713.0 653.0,717.9 653.4,723.5 653.8,729.6 654.2,735.9 654.6,742.2 655.0,748.4 655.4,754.3 655.8,759.5 656.2,764.0 656.6,767.5 657.0,769.7 657.4,770.5 657.8,770.3 658.2,769.5 658.6,768.2 659.0,766.6 659.4,764.5 659.8,762.1 660.2,759.5 660.6,756.6 661.0,753.5 661.4,750.3 661.8,747.0 662.2,743.6 662.6,740.2 663.0,736.9 663.4,733.6 663.8,730.5 664.2,727.6 664.6,724.9 665.0,722.5 665.4,720.4 665.8,718.7 666.2,717.4 666.6,716.5 667.0,716.2 667.4,716.7 667.8,718.2 668.2,720.6 668.6,723.9 669.0,727.7 669.4,732.1 669.8,736.8 670.2,741.7 670.6,746.7 671.0,751.6 671.4,756.3 671.8,760.6 672.2,764.5 672.6,767.6 673.0,770.0 673.4,771.4 673.8,771.7 674.2,770.4 674.6,767.7 675.0,763.8 675.4,758.9 675.8,753.2 676.2,747.1 676.6,740.8 677.0,734.5 677.4,728.5 677.8,723.1 678.2,718.5 678.6,715.0 679.0,712.8 679.4,712.2 679.8,713.3 680.2,716.0 680.6,720.0 681.0,725.0 681.4,730.7 681.8,736.8 682.2,743.2 682.6,749.5 683.0,755.4 683.4,760.8 683.8,765.2 684.2,768.4 684.6,770.2 685.0,770.3 685.4,768.3 685.8,764.6 686.2,759.5 686.6,753.4 687.0,746.7 687.4,739.9 687.8,733.2 688.2,727.1 688.6,722.0 689.0,718.3 689.4,716.4 689.8,716.5 690.2,718.5 690.6,722.1 691.0,726.8 691.4,732.4 691.8,738.5 692.2,744.8 692.6,751.0 693.0,756.6 693.4,761.4 693.8,765.0 694.2,767.1 694.6,767.5 695.0,766.2 695.4,763.7 695.8,760.0 696.2,755.6 696.6,750.6 697.0,745.2 697.4,739.6 697.8,734.1 698.2,728.9 698.6,724.2 699.0,720.3 699.4,717.3 699.8,715.6 700.2,715.2 700.6,716.5 701.0,719.1 701.4,722.8 701.8,727.5 702.2,732.7 702.6,738.4 703.0,744.2 703.4,749.9 703.8,755.2 704.2,760.0 704.6,763.9 705.0,766.7 705.4,768.1 705.8,768.0 706.2,766.3 706.6,763.4 707.0,759.3 707.4,754.5 707.8,749.2 708.2,743.6 708.6,738.1 709.0,732.8 709.4,728.1 709.8,724.2 710.2,721.5 710.6,720.0 711.0,720.2 711.4,721.7 711.8,724.4 712.2,728.0 712.6,732.2 713.0,736.9 713.4,741.6 713.8,746.2 714.2,750.5 714.6,754.1 715.0,756.8 715.4,758.4 715.8,758.6 716.2,757.8 716.6,756.3 717.0,754.2 717.4,751.7 717.8,748.7 718.2,745.6 718.6,742.4 719.0,739.3 719.4,736.4 719.8,733.9 720.2,731.8 720.6,730.3 721.0,729.6 721.4,729.7 721.8,730.5 722.2,732.0 722.6,733.9 723.0,736.3 723.4,738.8 723.8,741.6 724.2,744.4 724.6,747.1 725.0,749.6 725.4,751.8 725.8,753.7 726.2,755.0 726.6,755.6 727.0,755.6 727.4,754.8 727.8,753.3 728.2,751.4 728.6,749.0 729.0,746.3 729.4,743.4 729.8,740.4 730.2,737.5 730.6,734.7 731.0,732.1 731.4,729.8 731.8,728.1 732.2,726.8 732.6,726.3 733.0,726.7 733.4,728.3 733.8,730.9 734.2,734.3 734.6,738.2 735.0,742.4 735.4,746.6 735.8,750.6 736.2,754.2 736.6,757.1 737.0,759.1 737.4,759.9 737.8,759.3 738.2,757.4 738.6,754.5 739.0,750.8 739.4,746.6 739.8,742.1 740.2,737.7 740.6,733.5 741.0,729.8 741.4,726.9 741.8,725.0 742.2,724.3 742.6,725.2 743.0,727.5 743.4,730.9 743.8,735.0 744.2,739.7 744.6,744.5 745.0,749.3 745.4,753.7 745.8,757.4 746.2,760.1 746.6,761.5 747.0,761.4 747.4,760.0 747.8,757.5 748.2,754.1 748.6,750.1 749.0,745.7 749.4,741.1 749.8,736.5 750.2,732.1 750.6,728.2 751.0,725.0 751.4,722.7 751.8,721.5 752.2,721.6 752.6,722.8 753.0,724.8 753.4,727.7 753.8,731.1 754.2,734.9 754.6,738.9 755.0,743.1 755.4,747.2 755.8,751.1 756.2,754.6 756.6,757.6 757.0,759.8 757.4,761.2 757.8,761.6 758.2,760.9 758.6,759.4 759.0,757.0 759.4,754.0 759.8,750.6 760.2,746.8 760.6,742.9 761.0,738.9 761.4,735.0 761.8,731.4 762.2,728.2 762.6,725.5 763.0,723.5 763.4,722.3 763.8,722.2 764.2,723.5 764.6,726.2 765.0,729.9 765.4,734.5 765.8,739.6 766.2,745.1 766.6,750.7 767.0,756.1 767.4,761.0 767.8,765.3 768.2,768.7 768.6,770.9 769.0,771.7 769.4,770.9 769.8,768.7 770.2,765.3 770.6,760.9 771.0,755.6 771.4,749.7 771.8,743.3 772.2,736.7 772.6,730.0 773.0,723.4 773.4,717.2 773.8,711.5 774.2,706.4 774.6,702.3 775.0,699.3 775.4,697.6 775.8,697.5 776.2,700.8 776.6,707.5 777.0,716.7 777.4,727.7 777.8,739.7 778.2,751.8 778.6,763.3 779.0,773.4 779.4,781.3 779.8,786.3 780.2,787.5 780.6,784.5 781.0,778.0 781.4,769.0 781.8,758.4 782.2,747.0 782.6,735.9 783.0,725.9 783.4,717.9 783.8,712.8 784.2,711.5 784.6,713.1 785.0,716.5 785.4,721.2 785.8,726.8 786.2,732.8 786.6,738.7 787.0,743.9 787.4,748.2 787.8,750.9 788.2,751.5 788.6,751.0 789.0,749.9 789.4,748.3 789.8,746.5 790.2,744.6 790.6,742.7 791.0,741.1 791.4,739.9 791.8,739.2 792.2,739.7 792.6,742.0 793.0,744.5 793.4,745.3 793.8,744.0 794.2,741.6 794.6,738.6 795.0,735.5 795.4,732.9 795.8,731.5 796.2,731.6 796.6,733.6 797.0,736.8 797.4,741.0 797.8,745.6 798.2,750.3 798.6,754.5 799.0,757.9 799.4,760.0 799.8,760.3 800.2,758.2 800.6,754.1 801.0,748.7 801.4,742.6 801.8,736.5 802.2,731.2 802.6,727.3 803.0,725.4 803.4,726.1 803.8,728.7 804.2,732.7 804.6,737.5 805.0,742.5 805.4,747.0 805.8,750.4 806.2,752.3 806.6,752.3 807.0,751.4 807.4,749.9 807.8,747.9 808.2,745.6 808.6,743.1 809.0,740.7 809.4,738.5 809.8,736.6 810.2,735.1 810.6,734.4 811.0,734.4 811.4,734.9 811.8,736.0 812.2,737.5 812.6,739.3 813.0,741.3 813.4,743.5 813.8,745.8 814.2,748.0 814.6,750.2 815.0,752.2 815.4,753.9 815.8,755.3 816.2,756.3 816.6,756.7 817.0,756.5 817.4,755.5 817.8,753.7 818.2,751.4 818.6,748.5 819.0,745.4 819.4,742.0 819.8,738.5 820.2,735.1 820.6,731.8 821.0,728.9 821.4,726.3 821.8,724.3 822.2,723.0 822.6,722.4 823.0,723.0 823.4,725.1 823.8,728.2 824.2,732.2 824.6,736.7 825.0,741.4 825.4,745.9 825.8,750.1 826.2,753.6 826.6,756.0 827.0,757.1 827.4,756.7 827.8,755.0 828.2,752.3 828.6,748.9 829.0,745.3 829.4,741.7 829.8,738.5 830.2,736.0 830.6,734.6 831.0,734.5 831.4,735.5 831.8,737.0 832.2,739.0 832.6,741.2 833.0,743.3 833.4,745.1 833.8,746.3 834.2,746.8 834.6,746.5 835.0,745.6 835.4,744.2 835.8,742.6 836.2,740.9 836.6,739.2 837.0,737.8 837.4,736.7 837.8,736.2 838.2,736.4 838.6,737.4 839.0,739.1 839.4,741.2 839.8,743.7 840.2,746.3 840.6,749.0 841.0,751.5 841.4,753.8 841.8,755.7 842.2,756.9 842.6,757.5 843.0,756.9 843.4,755.2 843.8,752.3 844.2,748.7 844.6,744.5 845.0,739.9 845.4,735.1 845.8,730.5 846.2,726.2 846.6,722.4 847.0,719.3 847.4,717.3 847.8,716.5 848.2,717.7 848.6,721.6 849.0,727.5 849.4,734.8 849.8,742.8 850.2,750.8 850.6,758.2 851.0,764.4 851.4,768.7 851.8,770.5 852.2,768.9 852.6,763.9 853.0,756.5 853.4,747.7 853.8,738.6 854.2,730.1 854.6,723.3 855.0,719.2 855.4,718.7 855.8,721.6 856.2,726.9 856.6,733.8 857.0,741.2 857.4,748.5 857.8,754.5 858.2,758.4 858.6,759.3 859.0,757.7 859.4,754.2 859.8,749.5 860.2,744.2 860.6,738.9 861.0,734.2 861.4,730.7 861.8,728.9 862.2,729.5 862.6,732.5 863.0,737.2 863.4,742.7 863.8,748.1 864.2,752.8 864.6,755.8 865.0,756.3 865.4,754.6 865.8,751.2 866.2,746.6 866.6,741.3 867.0,735.8 867.4,730.7 867.8,726.5 868.2,723.6 868.6,722.6 869.0,724.7 869.4,730.0 869.8,737.4 870.2,745.9 870.6,754.4 871.0,761.9 871.4,767.4 871.8,769.8 872.2,768.9 872.6,766.0 873.0,761.4 873.4,755.5 873.8,748.8 874.2,741.6 874.6,734.4 875.0,727.4 875.4,721.1 875.8,715.9 876.2,712.2 876.6,710.4 877.0,710.8 877.4,713.5 877.8,718.1 878.2,724.2 878.6,731.2 879.0,738.9 879.4,746.8 879.8,754.5 880.2,761.5 880.6,767.4 881.0,771.8 881.4,774.3 881.8,774.5 882.2,772.6 882.6,769.0 883.0,764.0 883.4,758.0 883.8,751.3 884.2,744.3 884.6,737.2 885.0,730.5 885.4,724.4 885.8,719.3 886.2,715.6 886.6,713.5 887.0,713.5 887.4,715.6 887.8,719.6 888.2,724.9 888.6,731.3 889.0,738.3 889.4,745.4 889.8,752.3 890.2,758.6 890.6,763.8 891.0,767.7 891.4,769.6 891.8,769.5 892.2,767.9 892.6,765.1 893.0,761.3 893.4,756.7 893.8,751.6 894.2,746.0 894.6,740.3 895.0,734.7 895.4,729.2 895.8,724.3 896.2,720.0 896.6,716.6 897.0,714.3 897.4,713.3 897.8,713.7 898.2,715.4 898.6,718.3 899.0,722.2 899.4,726.8 899.8,732.0 900.2,737.7 900.6,743.5 901.0,749.4 901.4,755.1 901.8,760.4 902.2,765.3 902.6,769.4 903.0,772.7 903.4,774.8 903.8,775.7 904.2,775.3 904.6,774.0 905.0,771.7 905.4,768.5 905.8,764.4 906.2,759.6 906.6,753.9 907.0,747.6 907.4,740.5 907.8,732.9 908.2,724.6 908.6,715.8 909.0,706.4" fill="none" stroke="#0000ff" stroke-width="4.2" stroke-linejoin="round" stroke-linecap="butt" clip-path="url(#cL4)"/>
<path d="M342.1 871.4V1014.2M525.2 871.4V1014.2M708.3 871.4V1014.2M891.4 871.4V1014.2M159.0 942.8H909.0" stroke="#dedede" stroke-width="3.7" fill="none"/>
<path d="M342.1 1014.2v-9.0M342.1 871.4v9.0M525.2 1014.2v-9.0M525.2 871.4v9.0M708.3 1014.2v-9.0M708.3 871.4v9.0M891.4 1014.2v-9.0M891.4 871.4v9.0M159.0 942.8h9.0M909.0 942.8h-9.0" stroke="#262626" stroke-width="3.7" fill="none"/>
<rect x="159.0" y="871.4" width="750.0" height="142.8" stroke="#262626" stroke-width="3.7" fill="none"/>
<polyline points="159.0,983.0 159.4,983.9 159.8,984.6 160.2,985.1 160.6,985.5 161.0,985.8 161.4,986.0 161.8,986.1 162.2,986.2 162.6,986.2 163.0,986.1 163.4,985.6 163.8,984.5 164.2,982.8 164.6,980.7 165.0,978.2 165.4,975.2 165.8,971.9 166.2,968.3 166.6,964.5 167.0,960.5 167.4,956.3 167.8,951.9 168.2,947.6 168.6,943.1 169.0,938.8 169.4,934.4 169.8,930.2 170.2,926.2 170.6,922.3 171.0,918.7 171.4,915.4 171.8,912.5 172.2,909.9 172.6,907.8 173.0,906.1 173.4,905.0 173.8,904.4 174.2,904.4 174.6,904.8 175.0,905.6 175.4,906.8 175.8,908.3 176.2,910.0 176.6,912.0 177.0,914.3 177.4,916.7 177.8,919.4 178.2,922.1 178.6,925.0 179.0,928.0 179.4,931.0 179.8,934.1 180.2,937.2 180.6,940.2 181.0,943.2 181.4,946.2 181.8,949.0 182.2,951.6 182.6,954.1 183.0,956.5 183.4,958.5 183.8,960.4 184.2,961.9 184.6,963.2 185.0,964.1 185.4,964.6 185.8,964.8 186.2,964.6 186.6,964.1 187.0,963.5 187.4,962.5 187.8,961.4 188.2,960.1 188.6,958.7 189.0,957.1 189.4,955.5 189.8,953.7 190.2,951.9 190.6,950.0 191.0,948.1 191.4,946.3 191.8,944.4 192.2,942.6 192.6,940.9 193.0,939.3 193.4,937.8 193.8,936.4 194.2,935.3 194.6,934.3 195.0,933.5 195.4,932.9 195.8,932.6 196.2,932.6 196.6,932.8 197.0,933.2 197.4,933.7 197.8,934.3 198.2,935.1 198.6,936.0 199.0,937.0 199.4,938.0 199.8,939.1 200.2,940.2 200.6,941.3 201.0,942.4 201.4,943.4 201.8,944.4 202.2,945.3 202.6,946.2 203.0,946.9 203.4,947.5 203.8,947.9 204.2,948.2 204.6,948.3 205.0,948.2 205.4,948.0 205.8,947.6 206.2,947.1 206.6,946.5 207.0,945.9 207.4,945.1 207.8,944.3 208.2,943.5 208.6,942.7 209.0,941.8 209.4,941.0 209.8,940.2 210.2,939.5 210.6,938.8 211.0,938.2 211.4,937.7 211.8,937.3 212.2,937.0 212.6,936.9 213.0,936.9 213.4,937.2 213.8,937.7 214.2,938.4 214.6,939.2 215.0,940.1 215.4,941.1 215.8,942.2 216.2,943.3 216.6,944.4 217.0,945.4 217.4,946.4 217.8,947.3 218.2,948.1 218.6,948.7 219.0,949.1 219.4,949.3 219.8,949.3 220.2,949.1 220.6,948.6 221.0,948.0 221.4,947.1 221.8,946.2 222.2,945.1 222.6,943.9 223.0,942.7 223.4,941.4 223.8,940.1 224.2,938.7 224.6,937.4 225.0,936.2 225.4,935.0 225.8,933.9 226.2,932.9 226.6,932.0 227.0,931.3 227.4,930.8 227.8,930.5 228.2,930.5 228.6,930.9 229.0,931.8 229.4,933.2 229.8,935.0 230.2,937.1 230.6,939.4 231.0,942.0 231.4,944.6 231.8,947.3 232.2,950.0 232.6,952.5 233.0,955.0 233.4,957.1 233.8,959.0 234.2,960.5 234.6,961.6 235.0,962.1 235.4,962.1 235.8,961.5 236.2,960.2 236.6,958.4 237.0,956.2 237.4,953.6 237.8,950.7 238.2,947.5 238.6,944.2 239.0,940.7 239.4,937.1 239.8,933.6 240.2,930.1 240.6,926.8 241.0,923.6 241.4,920.8 241.8,918.2 242.2,916.1 242.6,914.4 243.0,913.3 243.4,912.7 243.8,912.9 244.2,913.8 244.6,915.4 245.0,917.6 245.4,920.4 245.8,923.7 246.2,927.3 246.6,931.3 247.0,935.6 247.4,940.0 247.8,944.5 248.2,949.0 248.6,953.5 249.0,957.9 249.4,962.0 249.8,965.9 250.2,969.4 250.6,972.5 251.0,975.1 251.4,977.1 251.8,978.5 252.2,979.1 252.6,978.9 253.0,978.2 253.4,976.8 253.8,974.8 254.2,972.4 254.6,969.6 255.0,966.4 255.4,962.9 255.8,959.1 256.2,955.1 256.6,950.9 257.0,946.7 257.4,942.4 257.8,938.1 258.2,933.9 258.6,929.7 259.0,925.8 259.4,922.1 259.8,918.7 260.2,915.6 260.6,912.8 261.0,910.6 261.4,908.8 261.8,907.6 262.2,907.0 262.6,907.0 263.0,907.6 263.4,908.8 263.8,910.4 264.2,912.5 264.6,914.9 265.0,917.7 265.4,920.7 265.8,924.0 266.2,927.5 266.6,931.2 267.0,934.9 267.4,938.7 267.8,942.5 268.2,946.2 268.6,949.9 269.0,953.4 269.4,956.7 269.8,959.8 270.2,962.6 270.6,965.0 271.0,967.1 271.4,968.7 271.8,969.8 272.2,970.5 272.6,970.5 273.0,970.2 273.4,969.4 273.8,968.3 274.2,967.0 274.6,965.3 275.0,963.4 275.4,961.3 275.8,958.9 276.2,956.5 276.6,953.9 277.0,951.1 277.4,948.4 277.8,945.6 278.2,942.8 278.6,940.0 279.0,937.2 279.4,934.6 279.8,932.0 280.2,929.6 280.6,927.4 281.0,925.4 281.4,923.6 281.8,922.1 282.2,920.9 282.6,920.0 283.0,919.5 283.4,919.3 283.8,919.6 284.2,920.2 284.6,921.2 285.0,922.5 285.4,924.1 285.8,926.0 286.2,928.0 286.6,930.3 287.0,932.7 287.4,935.3 287.8,937.9 288.2,940.7 288.6,943.4 289.0,946.1 289.4,948.8 289.8,951.5 290.2,954.0 290.6,956.5 291.0,958.7 291.4,960.8 291.8,962.6 292.2,964.2 292.6,965.5 293.0,966.5 293.4,967.1 293.8,967.3 294.2,967.2 294.6,966.9 295.0,966.4 295.4,965.7 295.8,964.9 296.2,964.0 296.6,962.9 297.0,961.9 297.4,960.7 297.8,959.6 298.2,958.6 298.6,957.6 299.0,956.6 299.4,955.8 299.8,955.1 300.2,954.6 300.6,954.1 301.0,953.7 301.4,953.3 301.8,952.9 302.2,952.5 302.6,952.2 303.0,951.8 303.4,951.3 303.8,950.8 304.2,950.3 304.6,949.6 305.0,948.8 305.4,947.7 305.8,946.4 306.2,944.8 306.6,943.1 307.0,941.2 307.4,939.2 307.8,937.0 308.2,934.8 308.6,932.5 309.0,930.1 309.4,927.7 309.8,925.3 310.2,923.0 310.6,920.6 311.0,918.4 311.4,916.2 311.8,914.1 312.2,912.2 312.6,910.4 313.0,908.9 313.4,907.5 313.8,906.3 314.2,905.4 314.6,904.7 315.0,904.4 315.4,904.4 315.8,904.9 316.2,906.0 316.6,907.6 317.0,909.7 317.4,912.2 317.8,915.1 318.2,918.3 318.6,921.8 319.0,925.5 319.4,929.4 319.8,933.5 320.2,937.6 320.6,941.9 321.0,946.1 321.4,950.3 321.8,954.4 322.2,958.4 322.6,962.3 323.0,965.9 323.4,969.2 323.8,972.2 324.2,974.9 324.6,977.2 325.0,979.1 325.4,980.4 325.8,981.2 326.2,981.5 326.6,981.2 327.0,980.4 327.4,979.3 327.8,977.8 328.2,975.9 328.6,973.7 329.0,971.2 329.4,968.5 329.8,965.5 330.2,962.4 330.6,959.1 331.0,955.7 331.4,952.2 331.8,948.7 332.2,945.1 332.6,941.6 333.0,938.1 333.4,934.7 333.8,931.4 334.2,928.2 334.6,925.2 335.0,922.4 335.4,919.9 335.8,917.6 336.2,915.7 336.6,914.1 337.0,912.9 337.4,912.0 337.8,911.6 338.2,911.7 338.6,912.1 339.0,912.9 339.4,914.1 339.8,915.5 340.2,917.1 340.6,919.0 341.0,921.1 341.4,923.5 341.8,925.9 342.2,928.5 342.6,931.2 343.0,934.0 343.4,936.8 343.8,939.6 344.2,942.4 344.6,945.2 345.0,948.0 345.4,950.6 345.8,953.1 346.2,955.5 346.6,957.8 347.0,959.8 347.4,961.6 347.8,963.1 348.2,964.4 348.6,965.4 349.0,966.0 349.4,966.3 349.8,966.2 350.2,965.9 350.6,965.4 351.0,964.7 351.4,963.9 351.8,962.8 352.2,961.6 352.6,960.3 353.0,958.8 353.4,957.2 353.8,955.5 354.2,953.8 354.6,951.9 355.0,950.0 355.4,948.0 355.8,946.0 356.2,944.0 356.6,942.0 357.0,940.0 357.4,938.0 357.8,936.0 358.2,934.1 358.6,932.2 359.0,930.4 359.4,928.7 359.8,927.1 360.2,925.6 360.6,924.3 361.0,923.0 361.4,922.0 361.8,921.0 362.2,920.3 362.6,919.8 363.0,919.4 363.4,919.3 363.8,919.4 364.2,919.7 364.6,920.3 365.0,920.9 365.4,921.8 365.8,922.8 366.2,924.0 366.6,925.3 367.0,926.7 367.4,928.3 367.8,929.9 368.2,931.7 368.6,933.5 369.0,935.4 369.4,937.4 369.8,939.3 370.2,941.4 370.6,943.4 371.0,945.5 371.4,947.6 371.8,949.6 372.2,951.6 372.6,953.6 373.0,955.6 373.4,957.5 373.8,959.3 374.2,961.0 374.6,962.7 375.0,964.2 375.4,965.7 375.8,967.0 376.2,968.1 376.6,969.2 377.0,970.0 377.4,970.7 377.8,971.2 378.2,971.5 378.6,971.6 379.0,971.5 379.4,971.2 379.8,970.6 380.2,969.8 380.6,968.9 381.0,967.8 381.4,966.5 381.8,965.0 382.2,963.5 382.6,961.8 383.0,959.9 383.4,958.0 383.8,956.0 384.2,953.9 384.6,951.8 385.0,949.6 385.4,947.3 385.8,945.0 386.2,942.7 386.6,940.4 387.0,938.2 387.4,935.9 387.8,933.7 388.2,931.5 388.6,929.4 389.0,927.3 389.4,925.3 389.8,923.5 390.2,921.7 390.6,920.1 391.0,918.5 391.4,917.2 391.8,916.0 392.2,914.9 392.6,914.1 393.0,913.4 393.4,913.0 393.8,912.7 394.2,912.7 394.6,913.2 395.0,914.1 395.4,915.3 395.8,916.9 396.2,918.8 396.6,921.0 397.0,923.4 397.4,926.0 397.8,928.7 398.2,931.6 398.6,934.6 399.0,937.6 399.4,940.7 399.8,943.7 400.2,946.7 400.6,949.5 401.0,952.2 401.4,954.8 401.8,957.1 402.2,959.2 402.6,961.1 403.0,962.6 403.4,963.7 403.8,964.4 404.2,964.8 404.6,964.6 405.0,964.0 405.4,963.0 405.8,961.6 406.2,959.8 406.6,957.8 407.0,955.6 407.4,953.1 407.8,950.6 408.2,947.9 408.6,945.2 409.0,942.5 409.4,939.9 409.8,937.3 410.2,934.9 410.6,932.7 411.0,930.8 411.4,929.1 411.8,927.7 412.2,926.8 412.6,926.3 413.0,926.2 413.4,926.7 413.8,927.8 414.2,929.2 414.6,931.1 415.0,933.2 415.4,935.6 415.8,938.1 416.2,940.8 416.6,943.4 417.0,945.9 417.4,948.4 417.8,950.6 418.2,952.6 418.6,954.2 419.0,955.4 419.4,956.1 419.8,956.2 420.2,955.6 420.6,954.4 421.0,952.6 421.4,950.4 421.8,947.8 422.2,945.0 422.6,942.1 423.0,939.1 423.4,936.2 423.8,933.5 424.2,931.2 424.6,929.2 425.0,927.7 425.4,926.8 425.8,926.6 426.2,927.2 426.6,928.4 427.0,930.1 427.4,932.3 427.8,934.9 428.2,937.8 428.6,940.9 429.0,944.1 429.4,947.3 429.8,950.4 430.2,953.4 430.6,956.2 431.0,958.6 431.4,960.6 431.8,962.1 432.2,963.0 432.6,963.3 433.0,962.9 433.4,962.1 433.8,960.9 434.2,959.2 434.6,957.2 435.0,954.9 435.4,952.4 435.8,949.7 436.2,946.8 436.6,943.8 437.0,940.7 437.4,937.7 437.8,934.6 438.2,931.7 438.6,928.8 439.0,926.2 439.4,923.7 439.8,921.5 440.2,919.6 440.6,918.1 441.0,917.0 441.4,916.3 441.8,916.1 442.2,916.3 442.6,916.8 443.0,917.5 443.4,918.4 443.8,919.5 444.2,920.7 444.6,922.0 445.0,923.3 445.4,924.6 445.8,926.0 446.2,927.2 446.6,928.4 447.0,929.4 447.4,930.3 447.8,931.0 448.2,931.6 448.6,932.1 449.0,932.7 449.4,933.2 449.8,933.6 450.2,934.1 450.6,934.6 451.0,935.1 451.4,935.6 451.8,936.2 452.2,936.9 452.6,937.6 453.0,938.5 453.4,939.5 453.8,940.6 454.2,941.7 454.6,943.0 455.0,944.3 455.4,945.7 455.8,947.1 456.2,948.5 456.6,950.0 457.0,951.5 457.4,952.9 457.8,954.4 458.2,955.8 458.6,957.2 459.0,958.5 459.4,959.8 459.8,960.9 460.2,962.0 460.6,963.0 461.0,963.9 461.4,964.7 461.8,965.3 462.2,965.8 462.6,966.1 463.0,966.3 463.4,966.2 463.8,966.0 464.2,965.5 464.6,964.9 465.0,964.1 465.4,963.1 465.8,962.0 466.2,960.7 466.6,959.3 467.0,957.8 467.4,956.3 467.8,954.6 468.2,952.9 468.6,951.1 469.0,949.3 469.4,947.5 469.8,945.7 470.2,943.9 470.6,942.1 471.0,940.3 471.4,938.6 471.8,937.0 472.2,935.4 472.6,933.9 473.0,932.6 473.4,931.3 473.8,930.2 474.2,929.3 474.6,928.5 475.0,927.9 475.4,927.5 475.8,927.3 476.2,927.3 476.6,927.4 477.0,927.7 477.4,928.0 477.8,928.5 478.2,929.1 478.6,929.8 479.0,930.5 479.4,931.4 479.8,932.3 480.2,933.2 480.6,934.2 481.0,935.3 481.4,936.4 481.8,937.5 482.2,938.6 482.6,939.7 483.0,940.9 483.4,942.0 483.8,943.1 484.2,944.2 484.6,945.3 485.0,946.3 485.4,947.2 485.8,948.1 486.2,949.0 486.6,949.8 487.0,950.4 487.4,951.0 487.8,951.5 488.2,951.9 488.6,952.2 489.0,952.3 489.4,952.3 489.8,952.1 490.2,951.6 490.6,950.9 491.0,950.0 491.4,949.0 491.8,947.7 492.2,946.4 492.6,945.0 493.0,943.4 493.4,941.9 493.8,940.2 494.2,938.6 494.6,937.1 495.0,935.5 495.4,934.0 495.8,932.7 496.2,931.4 496.6,930.3 497.0,929.3 497.4,928.6 497.8,928.0 498.2,927.7 498.6,927.7 499.0,928.1 499.4,928.9 499.8,930.1 500.2,931.7 500.6,933.5 501.0,935.5 501.4,937.8 501.8,940.2 502.2,942.7 502.6,945.3 503.0,947.9 503.4,950.5 503.8,953.0 504.2,955.4 504.6,957.6 505.0,959.6 505.4,961.3 505.8,962.7 506.2,963.8 506.6,964.5 507.0,964.8 507.4,964.4 507.8,963.1 508.2,961.1 508.6,958.4 509.0,955.2 509.4,951.7 509.8,947.8 510.2,943.7 510.6,939.6 511.0,935.5 511.4,931.6 511.8,927.9 512.2,924.7 512.6,921.9 513.0,919.7 513.4,918.2 513.8,917.6 514.2,918.0 514.6,919.3 515.0,921.5 515.4,924.5 515.8,928.0 516.2,931.9 516.6,936.2 517.0,940.6 517.4,945.1 517.8,949.4 518.2,953.5 518.6,957.2 519.0,960.4 519.4,962.9 519.8,964.6 520.2,965.4 520.6,965.3 521.0,964.7 521.4,963.6 521.8,962.2 522.2,960.4 522.6,958.4 523.0,956.0 523.4,953.5 523.8,950.8 524.2,948.1 524.6,945.2 525.0,942.3 525.4,939.5 525.8,936.7 526.2,934.0 526.6,931.5 527.0,929.2 527.4,927.2 527.8,925.4 528.2,924.0 528.6,923.0 529.0,922.4 529.4,922.3 529.8,922.5 530.2,922.8 530.6,923.3 531.0,923.9 531.4,924.7 531.8,925.6 532.2,926.7 532.6,927.8 533.0,929.1 533.4,930.4 533.8,931.9 534.2,933.4 534.6,934.9 535.0,936.5 535.4,938.2 535.8,939.8 536.2,941.5 536.6,943.2 537.0,944.9 537.4,946.5 537.8,948.2 538.2,949.8 538.6,951.3 539.0,952.8 539.4,954.2 539.8,955.6 540.2,956.8 540.6,957.9 541.0,959.0 541.4,959.9 541.8,960.7 542.2,961.3 542.6,961.8 543.0,962.1 543.4,962.2 543.8,962.1 544.2,961.9 544.6,961.4 545.0,960.7 545.4,959.8 545.8,958.8 546.2,957.6 546.6,956.2 547.0,954.7 547.4,953.2 547.8,951.5 548.2,949.7 548.6,947.8 549.0,945.9 549.4,943.9 549.8,941.9 550.2,939.8 550.6,937.7 551.0,935.7 551.4,933.6 551.8,931.6 552.2,929.6 552.6,927.6 553.0,925.7 553.4,923.9 553.8,922.2 554.2,920.6 554.6,919.1 555.0,917.7 555.4,916.5 555.8,915.4 556.2,914.5 556.6,913.7 557.0,913.2 557.4,912.8 557.8,912.7 558.2,912.8 558.6,913.1 559.0,913.5 559.4,914.1 559.8,914.9 560.2,915.7 560.6,916.7 561.0,917.7 561.4,918.8 561.8,919.9 562.2,921.0 562.6,922.2 563.0,923.3 563.4,924.4 563.8,925.4 564.2,926.3 564.6,927.2 565.0,927.9 565.4,928.5 565.8,929.0 566.2,929.4 566.6,929.9 567.0,930.3 567.4,930.7 567.8,931.0 568.2,931.4 568.6,931.7 569.0,932.0 569.4,932.4 569.8,932.7 570.2,933.0 570.6,933.4 571.0,933.8 571.4,934.2 571.8,934.6 572.2,935.1 572.6,935.6 573.0,936.1 573.4,936.8 573.8,937.5 574.2,938.3 574.6,939.2 575.0,940.2 575.4,941.2 575.8,942.3 576.2,943.5 576.6,944.7 577.0,946.0 577.4,947.3 577.8,948.7 578.2,950.1 578.6,951.5 579.0,953.0 579.4,954.5 579.8,956.0 580.2,957.5 580.6,959.1 581.0,960.6 581.4,962.2 581.8,963.8 582.2,965.3 582.6,966.9 583.0,968.4 583.4,969.9 583.8,971.4 584.2,972.9 584.6,974.3 585.0,975.8 585.4,977.1 585.8,978.4 586.2,979.7 586.6,980.9 587.0,982.1 587.4,983.2 587.8,984.2 588.2,985.2 588.6,986.1 589.0,986.9 589.4,987.6 589.8,988.3 590.2,988.8 590.6,989.3 591.0,989.6 591.4,989.9 591.8,990.0 592.2,990.0 592.6,989.7 593.0,989.0 593.4,988.0 593.8,986.6 594.2,985.0 594.6,983.1 595.0,980.9 595.4,978.4 595.8,975.8 596.2,973.0 596.6,970.0 597.0,966.9 597.4,963.6 597.8,960.2 598.2,956.8 598.6,953.3 599.0,949.8 599.4,946.2 599.8,942.7 600.2,939.2 600.6,935.7 601.0,932.3 601.4,929.0 601.8,925.9 602.2,922.9 602.6,920.0 603.0,917.3 603.4,914.9 603.8,912.6 604.2,910.6 604.6,908.9 605.0,907.5 605.4,906.4 605.8,905.6 606.2,905.3 606.6,905.3 607.0,905.9 607.4,907.2 607.8,909.0 608.2,911.4 608.6,914.2 609.0,917.3 609.4,920.7 609.8,924.5 610.2,928.3 610.6,932.4 611.0,936.4 611.4,940.5 611.8,944.6 612.2,948.5 612.6,952.2 613.0,955.7 613.4,958.8 613.8,961.6 614.2,964.0 614.6,965.9 615.0,967.2 615.4,967.9 615.8,967.9 616.2,967.4 616.6,966.4 617.0,964.9 617.4,963.1 617.8,960.9 618.2,958.4 618.6,955.7 619.0,952.8 619.4,949.8 619.8,946.8 620.2,943.7 620.6,940.6 621.0,937.7 621.4,934.9 621.8,932.3 622.2,930.0 622.6,928.0 623.0,926.3 623.4,925.1 623.8,924.3 624.2,924.0 624.6,924.2 625.0,924.8 625.4,925.7 625.8,926.9 626.2,928.3 626.6,930.0 627.0,931.8 627.4,933.8 627.8,935.9 628.2,938.0 628.6,940.3 629.0,942.5 629.4,944.7 629.8,946.8 630.2,948.8 630.6,950.7 631.0,952.4 631.4,953.9 631.8,955.2 632.2,956.2 632.6,956.9 633.0,957.3 633.4,957.2 633.8,956.9 634.2,956.4 634.6,955.6 635.0,954.5 635.4,953.3 635.8,952.0 636.2,950.5 636.6,948.9 637.0,947.2 637.4,945.4 637.8,943.6 638.2,941.8 638.6,940.0 639.0,938.3 639.4,936.6 639.8,935.0 640.2,933.5 640.6,932.2 641.0,931.0 641.4,930.0 641.8,929.2 642.2,928.6 642.6,928.3 643.0,928.3 643.4,928.4 643.8,928.5 644.2,928.7 644.6,928.9 645.0,929.2 645.4,929.5 645.8,929.9 646.2,930.3 646.6,930.7 647.0,931.2 647.4,931.7 647.8,932.3 648.2,932.9 648.6,933.5 649.0,934.1 649.4,934.8 649.8,935.4 650.2,936.1 650.6,936.9 651.0,937.6 651.4,938.3 651.8,939.1 652.2,939.8 652.6,940.6 653.0,941.3 653.4,942.1 653.8,942.8 654.2,943.6 654.6,944.3 655.0,945.1 655.4,945.8 655.8,946.5 656.2,947.1 656.6,947.8 657.0,948.4 657.4,949.0 657.8,949.6 658.2,950.2 658.6,950.7 659.0,951.1 659.4,951.6 659.8,952.0 660.2,952.3 660.6,952.7 661.0,952.9 661.4,953.1 661.8,953.3 662.2,953.4 662.6,953.4 663.0,953.4 663.4,953.3 663.8,953.1 664.2,952.9 664.6,952.5 665.0,952.2 665.4,951.7 665.8,951.2 666.2,950.7 666.6,950.1 667.0,949.4 667.4,948.7 667.8,948.0 668.2,947.3 668.6,946.6 669.0,945.8 669.4,945.0 669.8,944.2 670.2,943.4 670.6,942.7 671.0,941.9 671.4,941.1 671.8,940.4 672.2,939.6 672.6,938.9 673.0,938.3 673.4,937.6 673.8,937.0 674.2,936.5 674.6,936.0 675.0,935.5 675.4,935.2 675.8,934.8 676.2,934.6 676.6,934.4 677.0,934.3 677.4,934.3 677.8,934.5 678.2,934.8 678.6,935.2 679.0,935.8 679.4,936.5 679.8,937.2 680.2,938.1 680.6,939.0 681.0,940.0 681.4,940.9 681.8,942.0 682.2,943.0 682.6,943.9 683.0,944.9 683.4,945.8 683.8,946.6 684.2,947.4 684.6,948.0 685.0,948.6 685.4,949.0 685.8,949.3 686.2,949.4 686.6,949.3 687.0,949.1 687.4,948.8 687.8,948.3 688.2,947.8 688.6,947.2 689.0,946.5 689.4,945.7 689.8,944.9 690.2,944.1 690.6,943.2 691.0,942.4 691.4,941.5 691.8,940.7 692.2,939.9 692.6,939.1 693.0,938.5 693.4,937.8 693.8,937.3 694.2,936.9 694.6,936.6 695.0,936.5 695.4,936.5 695.8,936.6 696.2,936.8 696.6,937.1 697.0,937.5 697.4,938.0 697.8,938.6 698.2,939.2 698.6,939.9 699.0,940.7 699.4,941.4 699.8,942.2 700.2,943.0 700.6,943.8 701.0,944.5 701.4,945.3 701.8,946.0 702.2,946.7 702.6,947.3 703.0,947.9 703.4,948.4 703.8,948.8 704.2,949.1 704.6,949.3 705.0,949.4 705.4,949.3 705.8,949.0 706.2,948.6 706.6,947.9 707.0,947.2 707.4,946.3 707.8,945.3 708.2,944.3 708.6,943.2 709.0,942.1 709.4,941.1 709.8,940.0 710.2,939.0 710.6,938.1 711.0,937.4 711.4,936.7 711.8,936.2 712.2,935.9 712.6,935.8 713.0,935.9 713.4,936.1 713.8,936.5 714.2,937.0 714.6,937.6 715.0,938.2 715.4,939.0 715.8,939.8 716.2,940.6 716.6,941.5 717.0,942.4 717.4,943.2 717.8,944.1 718.2,944.9 718.6,945.7 719.0,946.3 719.4,947.0 719.8,947.5 720.2,947.9 720.6,948.2 721.0,948.3 721.4,948.3 721.8,948.1 722.2,947.9 722.6,947.5 723.0,947.1 723.4,946.6 723.8,946.0 724.2,945.4 724.6,944.7 725.0,944.0 725.4,943.3 725.8,942.6 726.2,941.9 726.6,941.2 727.0,940.5 727.4,939.9 727.8,939.3 728.2,938.8 728.6,938.3 729.0,938.0 729.4,937.7 729.8,937.6 730.2,937.5 730.6,937.7 731.0,938.0 731.4,938.5 731.8,939.1 732.2,939.9 732.6,940.7 733.0,941.7 733.4,942.7 733.8,943.8 734.2,944.9 734.6,946.0 735.0,947.1 735.4,948.2 735.8,949.2 736.2,950.2 736.6,951.1 737.0,951.8 737.4,952.5 737.8,953.0 738.2,953.3 738.6,953.4 739.0,953.3 739.4,952.8 739.8,951.9 740.2,950.7 740.6,949.3 741.0,947.6 741.4,945.6 741.8,943.5 742.2,941.3 742.6,939.0 743.0,936.6 743.4,934.2 743.8,931.9 744.2,929.6 744.6,927.3 745.0,925.3 745.4,923.4 745.8,921.7 746.2,920.2 746.6,919.0 747.0,918.2 747.4,917.7 747.8,917.6 748.2,918.1 748.6,919.2 749.0,920.9 749.4,923.0 749.8,925.5 750.2,928.4 750.6,931.7 751.0,935.3 751.4,939.0 751.8,943.0 752.2,947.1 752.6,951.2 753.0,955.4 753.4,959.6 753.8,963.7 754.2,967.6 754.6,971.4 755.0,975.0 755.4,978.3 755.8,981.3 756.2,983.8 756.6,986.0 757.0,987.7 757.4,988.8 757.8,989.3 758.2,989.2 758.6,988.4 759.0,986.9 759.4,984.7 759.8,982.0 760.2,978.7 760.6,975.0 761.0,970.9 761.4,966.4 761.8,961.6 762.2,956.6 762.6,951.4 763.0,946.1 763.4,940.7 763.8,935.2 764.2,929.9 764.6,924.6 765.0,919.4 765.4,914.5 765.8,909.8 766.2,905.5 766.6,901.5 767.0,898.0 767.4,894.9 767.8,892.4 768.2,890.5 768.6,889.3 769.0,888.7 769.4,889.0 769.8,890.4 770.2,892.6 770.6,895.7 771.0,899.4 771.4,903.9 771.8,908.8 772.2,914.2 772.6,920.0 773.0,926.0 773.4,932.1 773.8,938.4 774.2,944.6 774.6,950.7 775.0,956.5 775.4,962.1 775.8,967.3 776.2,971.9 776.6,976.0 777.0,979.4 777.4,982.0 777.8,983.7 778.2,984.4 778.6,984.1 779.0,982.6 779.4,980.1 779.8,976.8 780.2,972.7 780.6,967.9 781.0,962.7 781.4,957.2 781.8,951.4 782.2,945.6 782.6,939.8 783.0,934.3 783.4,929.0 783.8,924.2 784.2,920.0 784.6,916.5 785.0,913.8 785.4,912.2 785.8,911.6 786.2,912.3 786.6,914.2 787.0,917.1 787.4,920.8 787.8,925.1 788.2,930.0 788.6,935.1 789.0,940.5 789.4,945.8 789.8,951.0 790.2,955.8 790.6,960.1 791.0,963.8 791.4,966.6 791.8,968.4 792.2,969.1 792.6,968.7 793.0,967.8 793.4,966.5 793.8,964.7 794.2,962.6 794.6,960.4 795.0,958.0 795.4,955.6 795.8,953.3 796.2,951.1 796.6,949.2 797.0,947.2 797.4,945.1 797.8,942.9 798.2,940.5 798.6,938.1 799.0,935.6 799.4,933.2 799.8,930.7 800.2,928.2 800.6,925.8 801.0,923.4 801.4,921.2 801.8,919.1 802.2,917.1 802.6,915.3 803.0,913.7 803.4,912.4 803.8,911.3 804.2,910.4 804.6,909.9 805.0,909.7 805.4,910.0 805.8,911.1 806.2,912.8 806.6,915.1 807.0,917.9 807.4,921.3 807.8,924.9 808.2,928.9 808.6,933.2 809.0,937.6 809.4,942.1 809.8,946.6 810.2,951.1 810.6,955.5 811.0,959.6 811.4,963.6 811.8,967.1 812.2,970.3 812.6,973.0 813.0,975.1 813.4,976.7 813.8,977.5 814.2,977.6 814.6,976.9 815.0,975.7 815.4,973.9 815.8,971.6 816.2,968.9 816.6,965.8 817.0,962.4 817.4,958.8 817.8,954.9 818.2,950.9 818.6,946.9 819.0,942.9 819.4,938.9 819.8,935.0 820.2,931.3 820.6,927.8 821.0,924.7 821.4,921.9 821.8,919.5 822.2,917.7 822.6,916.3 823.0,915.6 823.4,915.5 823.8,916.1 824.2,917.2 824.6,918.8 825.0,920.9 825.4,923.3 825.8,926.1 826.2,929.0 826.6,932.2 827.0,935.5 827.4,938.8 827.8,942.1 828.2,945.3 828.6,948.4 829.0,951.3 829.4,953.9 829.8,956.1 830.2,958.0 830.6,959.4 831.0,960.2 831.4,960.5 831.8,960.3 832.2,959.8 832.6,958.9 833.0,957.8 833.4,956.5 833.8,954.9 834.2,953.2 834.6,951.3 835.0,949.4 835.4,947.3 835.8,945.3 836.2,943.2 836.6,941.2 837.0,939.2 837.4,937.3 837.8,935.5 838.2,933.9 838.6,932.5 839.0,931.3 839.4,930.4 839.8,929.7 840.2,929.4 840.6,929.4 841.0,929.8 841.4,930.5 841.8,931.4 842.2,932.6 842.6,933.9 843.0,935.5 843.4,937.1 843.8,938.9 844.2,940.7 844.6,942.6 845.0,944.5 845.4,946.3 845.8,948.1 846.2,949.8 846.6,951.4 847.0,952.8 847.4,954.0 847.8,955.0 848.2,955.7 848.6,956.1 849.0,956.2 849.4,955.9 849.8,955.2 850.2,954.1 850.6,952.6 851.0,951.0 851.4,949.1 851.8,947.0 852.2,944.9 852.6,942.6 853.0,940.4 853.4,938.2 853.8,936.1 854.2,934.2 854.6,932.4 855.0,930.9 855.4,929.7 855.8,928.8 856.2,928.4 856.6,928.4 857.0,928.9 857.4,930.0 857.8,931.4 858.2,933.2 858.6,935.2 859.0,937.5 859.4,939.9 859.8,942.3 860.2,944.6 860.6,946.9 861.0,949.0 861.4,950.8 861.8,952.3 862.2,953.4 862.6,954.0 863.0,954.0 863.4,953.6 863.8,952.8 864.2,951.6 864.6,950.1 865.0,948.4 865.4,946.5 865.8,944.6 866.2,942.6 866.6,940.6 867.0,938.7 867.4,936.9 867.8,935.4 868.2,934.1 868.6,933.2 869.0,932.7 869.4,932.6 869.8,932.8 870.2,933.2 870.6,933.7 871.0,934.4 871.4,935.3 871.8,936.2 872.2,937.3 872.6,938.4 873.0,939.6 873.4,940.9 873.8,942.1 874.2,943.3 874.6,944.6 875.0,945.7 875.4,946.9 875.8,947.9 876.2,948.8 876.6,949.6 877.0,950.3 877.4,950.8 877.8,951.2 878.2,951.3 878.6,951.2 879.0,951.1 879.4,950.7 879.8,950.3 880.2,949.8 880.6,949.2 881.0,948.5 881.4,947.7 881.8,946.8 882.2,945.9 882.6,945.0 883.0,944.0 883.4,943.0 883.8,942.0 884.2,941.0 884.6,940.0 885.0,939.0 885.4,938.1 885.8,937.1 886.2,936.3 886.6,935.4 887.0,934.7 887.4,934.0 887.8,933.4 888.2,933.0 888.6,932.6 889.0,932.3 889.4,932.2 889.8,932.2 890.2,932.4 890.6,932.8 891.0,933.4 891.4,934.1 891.8,935.0 892.2,936.0 892.6,937.1 893.0,938.3 893.4,939.5 893.8,940.8 894.2,942.1 894.6,943.4 895.0,944.8 895.4,946.0 895.8,947.3 896.2,948.5 896.6,949.6 897.0,950.6 897.4,951.4 897.8,952.2 898.2,952.8 898.6,953.2 899.0,953.4 899.4,953.4 899.8,953.4 900.2,953.2 900.6,953.1 901.0,952.8 901.4,952.5 901.8,952.1 902.2,951.7 902.6,951.2 903.0,950.6 903.4,950.0 903.8,949.3 904.2,948.5 904.6,947.6 905.0,946.7 905.4,945.8 905.8,944.7 906.2,943.6 906.6,942.4 907.0,941.2 907.4,939.8 907.8,938.4 908.2,937.0 908.6,935.4 909.0,933.8" fill="none" stroke="#0000ff" stroke-width="4.2" stroke-linejoin="round" stroke-linecap="butt" clip-path="url(#cL5)"/>
<path d="M342.1 1069.8V1216.4M525.2 1069.8V1216.4M708.3 1069.8V1216.4M891.4 1069.8V1216.4M159.0 1093.2H909.0M159.0 1139.4H909.0M159.0 1185.9H909.0" stroke="#dedede" stroke-width="3.7" fill="none"/>
<path d="M342.1 1216.4v-9.0M342.1 1069.8v9.0M525.2 1216.4v-9.0M525.2 1069.8v9.0M708.3 1216.4v-9.0M708.3 1069.8v9.0M891.4 1216.4v-9.0M891.4 1069.8v9.0M159.0 1093.2h9.0M909.0 1093.2h-9.0M159.0 1139.4h9.0M909.0 1139.4h-9.0M159.0 1185.9h9.0M909.0 1185.9h-9.0" stroke="#262626" stroke-width="3.7" fill="none"/>
<rect x="159.0" y="1069.8" width="750.0" height="146.6" stroke="#262626" stroke-width="3.7" fill="none"/>
<polyline points="159.0,1152.5 159.4,1151.9 159.8,1151.3 160.2,1150.6 160.6,1150.0 161.0,1149.4 161.4,1148.8 161.8,1148.1 162.2,1147.5 162.6,1146.8 163.0,1146.1 163.4,1145.4 163.8,1144.7 164.2,1144.0 164.6,1143.2 165.0,1142.4 165.4,1141.5 165.8,1140.5 166.2,1139.5 166.6,1138.5 167.0,1137.4 167.4,1136.4 167.8,1135.3 168.2,1134.2 168.6,1133.1 169.0,1132.0 169.4,1130.9 169.8,1129.9 170.2,1128.9 170.6,1127.9 171.0,1127.0 171.4,1126.1 171.8,1125.2 172.2,1124.5 172.6,1123.8 173.0,1123.1 173.4,1122.6 173.8,1122.1 174.2,1121.8 174.6,1121.5 175.0,1121.4 175.4,1121.4 175.8,1121.5 176.2,1121.8 176.6,1122.1 177.0,1122.6 177.4,1123.2 177.8,1123.9 178.2,1124.7 178.6,1125.6 179.0,1126.6 179.4,1127.7 179.8,1128.9 180.2,1130.1 180.6,1131.4 181.0,1132.7 181.4,1134.1 181.8,1135.6 182.2,1137.1 182.6,1138.6 183.0,1140.2 183.4,1141.8 183.8,1143.4 184.2,1145.1 184.6,1146.7 185.0,1148.3 185.4,1150.0 185.8,1151.6 186.2,1153.2 186.6,1154.8 187.0,1156.4 187.4,1157.9 187.8,1159.4 188.2,1160.9 188.6,1162.3 189.0,1163.6 189.4,1164.9 189.8,1166.1 190.2,1167.3 190.6,1168.3 191.0,1169.3 191.4,1170.2 191.8,1171.0 192.2,1171.7 192.6,1172.3 193.0,1172.8 193.4,1173.1 193.8,1173.4 194.2,1173.5 194.6,1173.4 195.0,1173.1 195.4,1172.6 195.8,1171.8 196.2,1170.9 196.6,1169.7 197.0,1168.4 197.4,1166.9 197.8,1165.2 198.2,1163.4 198.6,1161.4 199.0,1159.3 199.4,1157.1 199.8,1154.8 200.2,1152.4 200.6,1149.9 201.0,1147.3 201.4,1144.7 201.8,1142.0 202.2,1139.3 202.6,1136.5 203.0,1133.8 203.4,1131.0 203.8,1128.2 204.2,1125.5 204.6,1122.8 205.0,1120.1 205.4,1117.5 205.8,1114.9 206.2,1112.4 206.6,1110.0 207.0,1107.7 207.4,1105.5 207.8,1103.4 208.2,1101.4 208.6,1099.6 209.0,1097.9 209.4,1096.4 209.8,1095.1 210.2,1094.0 210.6,1093.0 211.0,1092.3 211.4,1091.8 211.8,1091.5 212.2,1091.4 212.6,1091.7 213.0,1092.2 213.4,1092.9 213.8,1093.9 214.2,1095.1 214.6,1096.5 215.0,1098.2 215.4,1100.0 215.8,1102.0 216.2,1104.2 216.6,1106.5 217.0,1109.0 217.4,1111.7 217.8,1114.4 218.2,1117.3 218.6,1120.2 219.0,1123.3 219.4,1126.4 219.8,1129.5 220.2,1132.8 220.6,1136.0 221.0,1139.3 221.4,1142.6 221.8,1145.9 222.2,1149.2 222.6,1152.5 223.0,1155.8 223.4,1159.0 223.8,1162.1 224.2,1165.2 224.6,1168.2 225.0,1171.1 225.4,1173.9 225.8,1176.5 226.2,1179.1 226.6,1181.5 227.0,1183.8 227.4,1185.8 227.8,1187.8 228.2,1189.5 228.6,1191.0 229.0,1192.3 229.4,1193.4 229.8,1194.3 230.2,1194.9 230.6,1195.2 231.0,1195.3 231.4,1195.2 231.8,1194.8 232.2,1194.3 232.6,1193.6 233.0,1192.7 233.4,1191.6 233.8,1190.4 234.2,1189.1 234.6,1187.7 235.0,1186.1 235.4,1184.4 235.8,1182.6 236.2,1180.8 236.6,1178.8 237.0,1176.8 237.4,1174.8 237.8,1172.7 238.2,1170.6 238.6,1168.4 239.0,1166.2 239.4,1164.0 239.8,1161.9 240.2,1159.7 240.6,1157.6 241.0,1155.5 241.4,1153.4 241.8,1151.4 242.2,1149.5 242.6,1147.7 243.0,1145.9 243.4,1144.2 243.8,1142.7 244.2,1141.3 244.6,1139.9 245.0,1138.5 245.4,1137.2 245.8,1135.8 246.2,1134.5 246.6,1133.2 247.0,1131.9 247.4,1130.6 247.8,1129.3 248.2,1128.0 248.6,1126.7 249.0,1125.5 249.4,1124.2 249.8,1123.0 250.2,1121.8 250.6,1120.6 251.0,1119.4 251.4,1118.2 251.8,1117.0 252.2,1115.8 252.6,1114.7 253.0,1113.6 253.4,1112.4 253.8,1111.3 254.2,1110.2 254.6,1109.1 255.0,1108.0 255.4,1107.0 255.8,1105.9 256.2,1104.9 256.6,1103.9 257.0,1102.9 257.4,1101.8 257.8,1100.8 258.2,1099.7 258.6,1098.6 259.0,1097.5 259.4,1096.4 259.8,1095.3 260.2,1094.1 260.6,1093.0 261.0,1091.8 261.4,1090.7 261.8,1089.5 262.2,1088.4 262.6,1087.2 263.0,1086.1 263.4,1085.0 263.8,1083.9 264.2,1082.8 264.6,1081.8 265.0,1080.8 265.4,1079.8 265.8,1078.8 266.2,1077.9 266.6,1077.1 267.0,1076.2 267.4,1075.4 267.8,1074.7 268.2,1074.0 268.6,1073.4 269.0,1072.8 269.4,1072.3 269.8,1071.8 270.2,1071.5 270.6,1071.2 271.0,1070.9 271.4,1070.8 271.8,1070.7 272.2,1070.7 272.6,1070.7 273.0,1070.8 273.4,1070.9 273.8,1071.1 274.2,1071.3 274.6,1071.5 275.0,1071.8 275.4,1072.1 275.8,1072.5 276.2,1072.8 276.6,1073.2 277.0,1073.6 277.4,1074.1 277.8,1074.5 278.2,1075.0 278.6,1075.5 279.0,1076.0 279.4,1076.5 279.8,1077.0 280.2,1077.6 280.6,1078.1 281.0,1078.7 281.4,1079.2 281.8,1079.8 282.2,1080.3 282.6,1080.9 283.0,1081.4 283.4,1082.0 283.8,1082.5 284.2,1083.0 284.6,1083.6 285.0,1084.2 285.4,1084.8 285.8,1085.4 286.2,1086.0 286.6,1086.6 287.0,1087.3 287.4,1088.0 287.8,1088.7 288.2,1089.4 288.6,1090.2 289.0,1091.0 289.4,1091.8 289.8,1092.6 290.2,1093.5 290.6,1094.3 291.0,1095.3 291.4,1096.2 291.8,1097.2 292.2,1098.2 292.6,1099.2 293.0,1100.4 293.4,1101.6 293.8,1103.0 294.2,1104.4 294.6,1105.9 295.0,1107.5 295.4,1109.2 295.8,1110.9 296.2,1112.7 296.6,1114.5 297.0,1116.3 297.4,1118.2 297.8,1120.1 298.2,1122.0 298.6,1123.9 299.0,1125.8 299.4,1127.7 299.8,1129.6 300.2,1131.4 300.6,1133.3 301.0,1135.0 301.4,1136.8 301.8,1138.5 302.2,1140.2 302.6,1141.9 303.0,1143.6 303.4,1145.4 303.8,1147.3 304.2,1149.2 304.6,1151.2 305.0,1153.1 305.4,1155.2 305.8,1157.2 306.2,1159.3 306.6,1161.3 307.0,1163.4 307.4,1165.6 307.8,1167.7 308.2,1169.8 308.6,1171.9 309.0,1174.0 309.4,1176.1 309.8,1178.2 310.2,1180.3 310.6,1182.4 311.0,1184.4 311.4,1186.4 311.8,1188.4 312.2,1190.3 312.6,1192.2 313.0,1194.1 313.4,1195.9 313.8,1197.7 314.2,1199.4 314.6,1201.0 315.0,1202.6 315.4,1204.1 315.8,1205.5 316.2,1206.9 316.6,1208.2 317.0,1209.4 317.4,1210.5 317.8,1211.5 318.2,1212.4 318.6,1213.2 319.0,1214.0 319.4,1214.6 319.8,1215.1 320.2,1215.4 320.6,1215.7 321.0,1215.8 321.4,1215.8 321.8,1215.7 322.2,1215.4 322.6,1214.9 323.0,1214.2 323.4,1213.4 323.8,1212.4 324.2,1211.3 324.6,1210.1 325.0,1208.7 325.4,1207.2 325.8,1205.6 326.2,1203.9 326.6,1202.0 327.0,1200.1 327.4,1198.0 327.8,1195.8 328.2,1193.6 328.6,1191.2 329.0,1188.8 329.4,1186.3 329.8,1183.7 330.2,1181.1 330.6,1178.4 331.0,1175.6 331.4,1172.8 331.8,1170.0 332.2,1167.1 332.6,1164.2 333.0,1161.2 333.4,1158.2 333.8,1155.2 334.2,1152.2 334.6,1149.2 335.0,1146.2 335.4,1143.1 335.8,1140.1 336.2,1137.1 336.6,1134.1 337.0,1131.1 337.4,1128.2 337.8,1125.3 338.2,1122.4 338.6,1119.6 339.0,1116.8 339.4,1114.0 339.8,1111.4 340.2,1108.7 340.6,1106.2 341.0,1103.7 341.4,1101.3 341.8,1099.0 342.2,1096.8 342.6,1094.7 343.0,1092.6 343.4,1090.7 343.8,1088.9 344.2,1087.2 344.6,1085.6 345.0,1084.2 345.4,1082.8 345.8,1081.6 346.2,1080.6 346.6,1079.7 347.0,1078.9 347.4,1078.3 347.8,1077.9 348.2,1077.6 348.6,1077.5 349.0,1077.6 349.4,1077.8 349.8,1078.1 350.2,1078.5 350.6,1079.1 351.0,1079.8 351.4,1080.6 351.8,1081.5 352.2,1082.5 352.6,1083.6 353.0,1084.8 353.4,1086.2 353.8,1087.5 354.2,1089.0 354.6,1090.6 355.0,1092.2 355.4,1093.9 355.8,1095.6 356.2,1097.4 356.6,1099.3 357.0,1101.2 357.4,1103.2 357.8,1105.2 358.2,1107.3 358.6,1109.4 359.0,1111.5 359.4,1113.7 359.8,1115.8 360.2,1118.0 360.6,1120.2 361.0,1122.4 361.4,1124.6 361.8,1126.8 362.2,1129.0 362.6,1131.2 363.0,1133.4 363.4,1135.6 363.8,1137.7 364.2,1139.8 364.6,1141.9 365.0,1144.0 365.4,1146.0 365.8,1147.9 366.2,1149.9 366.6,1151.7 367.0,1153.5 367.4,1155.3 367.8,1157.0 368.2,1158.6 368.6,1160.1 369.0,1161.6 369.4,1162.9 369.8,1164.2 370.2,1165.4 370.6,1166.5 371.0,1167.5 371.4,1168.4 371.8,1169.2 372.2,1169.9 372.6,1170.4 373.0,1170.8 373.4,1171.1 373.8,1171.3 374.2,1171.3 374.6,1171.3 375.0,1171.1 375.4,1170.8 375.8,1170.4 376.2,1169.9 376.6,1169.4 377.0,1168.8 377.4,1168.0 377.8,1167.3 378.2,1166.4 378.6,1165.5 379.0,1164.5 379.4,1163.5 379.8,1162.4 380.2,1161.3 380.6,1160.1 381.0,1158.9 381.4,1157.6 381.8,1156.3 382.2,1155.0 382.6,1153.7 383.0,1152.4 383.4,1151.0 383.8,1149.7 384.2,1148.3 384.6,1147.0 385.0,1145.6 385.4,1144.3 385.8,1143.0 386.2,1141.7 386.6,1140.4 387.0,1139.1 387.4,1137.9 387.8,1136.7 388.2,1135.6 388.6,1134.5 389.0,1133.4 389.4,1132.4 389.8,1131.5 390.2,1130.6 390.6,1129.8 391.0,1129.1 391.4,1128.4 391.8,1127.8 392.2,1127.4 392.6,1127.0 393.0,1126.6 393.4,1126.4 393.8,1126.3 394.2,1126.3 394.6,1126.4 395.0,1126.6 395.4,1126.9 395.8,1127.2 396.2,1127.6 396.6,1128.1 397.0,1128.7 397.4,1129.3 397.8,1129.9 398.2,1130.6 398.6,1131.4 399.0,1132.1 399.4,1132.9 399.8,1133.8 400.2,1134.6 400.6,1135.5 401.0,1136.3 401.4,1137.2 401.8,1138.1 402.2,1138.9 402.6,1139.8 403.0,1140.6 403.4,1141.4 403.8,1142.2 404.2,1142.9 404.6,1143.6 405.0,1144.3 405.4,1144.9 405.8,1145.4 406.2,1145.9 406.6,1146.3 407.0,1146.6 407.4,1146.9 407.8,1147.1 408.2,1147.1 408.6,1147.1 409.0,1147.0 409.4,1146.7 409.8,1146.3 410.2,1145.9 410.6,1145.3 411.0,1144.6 411.4,1143.9 411.8,1143.1 412.2,1142.2 412.6,1141.3 413.0,1140.4 413.4,1139.4 413.8,1138.4 414.2,1137.3 414.6,1136.3 415.0,1135.3 415.4,1134.2 415.8,1133.2 416.2,1132.2 416.6,1131.3 417.0,1130.4 417.4,1129.5 417.8,1128.8 418.2,1128.0 418.6,1127.4 419.0,1126.8 419.4,1126.4 419.8,1126.0 420.2,1125.8 420.6,1125.7 421.0,1125.7 421.4,1125.8 421.8,1126.0 422.2,1126.3 422.6,1126.7 423.0,1127.1 423.4,1127.7 423.8,1128.3 424.2,1129.0 424.6,1129.7 425.0,1130.6 425.4,1131.4 425.8,1132.4 426.2,1133.4 426.6,1134.4 427.0,1135.5 427.4,1136.6 427.8,1137.8 428.2,1139.0 428.6,1140.2 429.0,1141.5 429.4,1142.7 429.8,1144.0 430.2,1145.4 430.6,1146.7 431.0,1148.0 431.4,1149.4 431.8,1150.7 432.2,1152.0 432.6,1153.4 433.0,1154.7 433.4,1156.0 433.8,1157.3 434.2,1158.5 434.6,1159.8 435.0,1161.0 435.4,1162.2 435.8,1163.3 436.2,1164.4 436.6,1165.5 437.0,1166.5 437.4,1167.4 437.8,1168.3 438.2,1169.2 438.6,1169.9 439.0,1170.7 439.4,1171.3 439.8,1171.9 440.2,1172.3 440.6,1172.8 441.0,1173.1 441.4,1173.3 441.8,1173.4 442.2,1173.5 442.6,1173.4 443.0,1173.3 443.4,1173.2 443.8,1172.9 444.2,1172.6 444.6,1172.3 445.0,1171.9 445.4,1171.4 445.8,1170.9 446.2,1170.4 446.6,1169.8 447.0,1169.1 447.4,1168.4 447.8,1167.7 448.2,1166.9 448.6,1166.1 449.0,1165.3 449.4,1164.4 449.8,1163.5 450.2,1162.6 450.6,1161.6 451.0,1160.6 451.4,1159.6 451.8,1158.6 452.2,1157.6 452.6,1156.5 453.0,1155.4 453.4,1154.4 453.8,1153.3 454.2,1152.2 454.6,1151.1 455.0,1150.0 455.4,1148.9 455.8,1147.8 456.2,1146.7 456.6,1145.6 457.0,1144.5 457.4,1143.5 457.8,1142.4 458.2,1141.4 458.6,1140.3 459.0,1139.1 459.4,1137.9 459.8,1136.5 460.2,1135.1 460.6,1133.6 461.0,1132.0 461.4,1130.3 461.8,1128.6 462.2,1126.9 462.6,1125.0 463.0,1123.2 463.4,1121.3 463.8,1119.4 464.2,1117.5 464.6,1115.5 465.0,1113.6 465.4,1111.6 465.8,1109.6 466.2,1107.6 466.6,1105.7 467.0,1103.8 467.4,1101.8 467.8,1100.0 468.2,1098.1 468.6,1096.3 469.0,1094.6 469.4,1092.8 469.8,1091.2 470.2,1089.6 470.6,1088.1 471.0,1086.7 471.4,1085.3 471.8,1084.0 472.2,1082.9 472.6,1081.8 473.0,1080.8 473.4,1080.0 473.8,1079.2 474.2,1078.6 474.6,1078.1 475.0,1077.8 475.4,1077.6 475.8,1077.5 476.2,1077.6 476.6,1078.0 477.0,1078.5 477.4,1079.2 477.8,1080.1 478.2,1081.1 478.6,1082.4 479.0,1083.7 479.4,1085.3 479.8,1087.0 480.2,1088.8 480.6,1090.8 481.0,1092.8 481.4,1095.0 481.8,1097.4 482.2,1099.8 482.6,1102.3 483.0,1104.9 483.4,1107.6 483.8,1110.3 484.2,1113.1 484.6,1116.0 485.0,1118.9 485.4,1121.9 485.8,1124.9 486.2,1128.0 486.6,1131.0 487.0,1134.1 487.4,1137.2 487.8,1140.3 488.2,1143.4 488.6,1146.5 489.0,1149.6 489.4,1152.6 489.8,1155.6 490.2,1158.6 490.6,1161.5 491.0,1164.4 491.4,1167.2 491.8,1169.9 492.2,1172.6 492.6,1175.1 493.0,1177.6 493.4,1180.0 493.8,1182.3 494.2,1184.4 494.6,1186.5 495.0,1188.4 495.4,1190.2 495.8,1191.8 496.2,1193.3 496.6,1194.7 497.0,1195.9 497.4,1196.9 497.8,1197.7 498.2,1198.4 498.6,1198.8 499.0,1199.1 499.4,1199.2 499.8,1198.9 500.2,1198.4 500.6,1197.5 501.0,1196.3 501.4,1194.9 501.8,1193.2 502.2,1191.2 502.6,1189.0 503.0,1186.6 503.4,1184.0 503.8,1181.3 504.2,1178.3 504.6,1175.2 505.0,1172.0 505.4,1168.7 505.8,1165.2 506.2,1161.7 506.6,1158.1 507.0,1154.4 507.4,1150.7 507.8,1147.0 508.2,1143.3 508.6,1139.6 509.0,1135.9 509.4,1132.2 509.8,1128.6 510.2,1125.1 510.6,1121.6 511.0,1118.3 511.4,1115.1 511.8,1112.0 512.2,1109.1 512.6,1106.3 513.0,1103.8 513.4,1101.4 513.8,1099.2 514.2,1097.3 514.6,1095.6 515.0,1094.2 515.4,1093.0 515.8,1092.2 516.2,1091.6 516.6,1091.4 517.0,1091.5 517.4,1091.8 517.8,1092.4 518.2,1093.1 518.6,1094.1 519.0,1095.2 519.4,1096.5 519.8,1098.0 520.2,1099.7 520.6,1101.4 521.0,1103.3 521.4,1105.4 521.8,1107.5 522.2,1109.8 522.6,1112.1 523.0,1114.5 523.4,1117.0 523.8,1119.6 524.2,1122.2 524.6,1124.8 525.0,1127.4 525.4,1130.1 525.8,1132.7 526.2,1135.4 526.6,1138.0 527.0,1140.6 527.4,1143.2 527.8,1145.7 528.2,1148.1 528.6,1150.5 529.0,1152.8 529.4,1155.0 529.8,1157.0 530.2,1159.0 530.6,1160.8 531.0,1162.5 531.4,1164.0 531.8,1165.4 532.2,1166.6 532.6,1167.6 533.0,1168.5 533.4,1169.1 533.8,1169.5 534.2,1169.6 534.6,1169.6 535.0,1169.5 535.4,1169.4 535.8,1169.1 536.2,1168.9 536.6,1168.5 537.0,1168.1 537.4,1167.7 537.8,1167.2 538.2,1166.6 538.6,1166.0 539.0,1165.4 539.4,1164.7 539.8,1163.9 540.2,1163.2 540.6,1162.3 541.0,1161.5 541.4,1160.6 541.8,1159.7 542.2,1158.8 542.6,1157.8 543.0,1156.8 543.4,1155.8 543.8,1154.8 544.2,1153.7 544.6,1152.7 545.0,1151.6 545.4,1150.5 545.8,1149.4 546.2,1148.3 546.6,1147.2 547.0,1146.1 547.4,1145.0 547.8,1144.0 548.2,1142.9 548.6,1141.8 549.0,1140.7 549.4,1139.6 549.8,1138.6 550.2,1137.6 550.6,1136.6 551.0,1135.6 551.4,1134.6 551.8,1133.7 552.2,1132.8 552.6,1131.9 553.0,1131.0 553.4,1130.2 553.8,1129.5 554.2,1128.7 554.6,1128.0 555.0,1127.4 555.4,1126.8 555.8,1126.2 556.2,1125.7 556.6,1125.3 557.0,1124.9 557.4,1124.5 557.8,1124.2 558.2,1124.0 558.6,1123.9 559.0,1123.8 559.4,1123.7 559.8,1123.8 560.2,1123.9 560.6,1124.0 561.0,1124.2 561.4,1124.4 561.8,1124.6 562.2,1124.9 562.6,1125.3 563.0,1125.6 563.4,1126.0 563.8,1126.5 564.2,1126.9 564.6,1127.4 565.0,1128.0 565.4,1128.5 565.8,1129.1 566.2,1129.7 566.6,1130.4 567.0,1131.0 567.4,1131.7 567.8,1132.4 568.2,1133.1 568.6,1133.8 569.0,1134.5 569.4,1135.3 569.8,1136.1 570.2,1136.8 570.6,1137.6 571.0,1138.4 571.4,1139.2 571.8,1140.0 572.2,1140.8 572.6,1141.6 573.0,1142.4 573.4,1143.1 573.8,1143.9 574.2,1144.7 574.6,1145.5 575.0,1146.2 575.4,1147.0 575.8,1147.7 576.2,1148.5 576.6,1149.2 577.0,1149.9 577.4,1150.6 577.8,1151.2 578.2,1151.9 578.6,1152.5 579.0,1153.1 579.4,1153.6 579.8,1154.2 580.2,1154.7 580.6,1155.2 581.0,1155.6 581.4,1156.0 581.8,1156.4 582.2,1156.8 582.6,1157.1 583.0,1157.4 583.4,1157.6 583.8,1157.8 584.2,1157.9 584.6,1158.0 585.0,1158.1 585.4,1158.1 585.8,1158.0 586.2,1157.8 586.6,1157.5 587.0,1157.1 587.4,1156.6 587.8,1156.1 588.2,1155.4 588.6,1154.7 589.0,1153.9 589.4,1153.1 589.8,1152.1 590.2,1151.2 590.6,1150.1 591.0,1149.0 591.4,1147.9 591.8,1146.7 592.2,1145.5 592.6,1144.2 593.0,1142.9 593.4,1141.6 593.8,1140.3 594.2,1138.9 594.6,1137.5 595.0,1136.1 595.4,1134.7 595.8,1133.3 596.2,1131.9 596.6,1130.5 597.0,1129.1 597.4,1127.7 597.8,1126.3 598.2,1125.0 598.6,1123.6 599.0,1122.3 599.4,1121.0 599.8,1119.8 600.2,1118.6 600.6,1117.4 601.0,1116.3 601.4,1115.2 601.8,1114.2 602.2,1113.3 602.6,1112.4 603.0,1111.5 603.4,1110.8 603.8,1110.1 604.2,1109.5 604.6,1109.0 605.0,1108.5 605.4,1108.2 605.8,1107.9 606.2,1107.8 606.6,1107.7 607.0,1107.8 607.4,1108.0 607.8,1108.4 608.2,1108.9 608.6,1109.6 609.0,1110.4 609.4,1111.3 609.8,1112.4 610.2,1113.6 610.6,1114.9 611.0,1116.2 611.4,1117.7 611.8,1119.3 612.2,1120.9 612.6,1122.6 613.0,1124.4 613.4,1126.3 613.8,1128.2 614.2,1130.1 614.6,1132.1 615.0,1134.2 615.4,1136.2 615.8,1138.3 616.2,1140.4 616.6,1142.5 617.0,1144.6 617.4,1146.7 617.8,1148.8 618.2,1150.8 618.6,1152.9 619.0,1154.9 619.4,1156.9 619.8,1158.8 620.2,1160.7 620.6,1162.5 621.0,1164.2 621.4,1165.9 621.8,1167.5 622.2,1169.0 622.6,1170.4 623.0,1171.8 623.4,1173.0 623.8,1174.1 624.2,1175.1 624.6,1176.0 625.0,1176.7 625.4,1177.3 625.8,1177.7 626.2,1178.0 626.6,1178.2 627.0,1178.2 627.4,1178.0 627.8,1177.7 628.2,1177.2 628.6,1176.6 629.0,1175.9 629.4,1175.1 629.8,1174.1 630.2,1173.1 630.6,1171.9 631.0,1170.6 631.4,1169.3 631.8,1167.8 632.2,1166.3 632.6,1164.7 633.0,1163.0 633.4,1161.3 633.8,1159.5 634.2,1157.6 634.6,1155.7 635.0,1153.7 635.4,1151.7 635.8,1149.7 636.2,1147.6 636.6,1145.6 637.0,1143.5 637.4,1141.4 637.8,1139.2 638.2,1137.1 638.6,1135.0 639.0,1132.9 639.4,1130.9 639.8,1128.8 640.2,1126.8 640.6,1124.8 641.0,1122.8 641.4,1120.9 641.8,1119.1 642.2,1117.3 642.6,1115.5 643.0,1113.9 643.4,1112.3 643.8,1110.8 644.2,1109.3 644.6,1108.0 645.0,1106.7 645.4,1105.6 645.8,1104.5 646.2,1103.6 646.6,1102.8 647.0,1102.1 647.4,1101.5 647.8,1101.1 648.2,1100.8 648.6,1100.6 649.0,1100.6 649.4,1100.7 649.8,1100.9 650.2,1101.2 650.6,1101.5 651.0,1102.0 651.4,1102.5 651.8,1103.0 652.2,1103.7 652.6,1104.4 653.0,1105.2 653.4,1106.0 653.8,1106.9 654.2,1107.9 654.6,1108.9 655.0,1110.0 655.4,1111.1 655.8,1112.3 656.2,1113.5 656.6,1114.7 657.0,1116.0 657.4,1117.4 657.8,1118.7 658.2,1120.1 658.6,1121.5 659.0,1123.0 659.4,1124.4 659.8,1125.9 660.2,1127.4 660.6,1128.9 661.0,1130.4 661.4,1132.0 661.8,1133.5 662.2,1135.0 662.6,1136.6 663.0,1138.1 663.4,1139.6 663.8,1141.1 664.2,1142.7 664.6,1144.2 665.0,1145.6 665.4,1147.1 665.8,1148.5 666.2,1149.9 666.6,1151.3 667.0,1152.7 667.4,1154.0 667.8,1155.3 668.2,1156.5 668.6,1157.7 669.0,1158.9 669.4,1160.0 669.8,1161.1 670.2,1162.1 670.6,1163.0 671.0,1163.9 671.4,1164.8 671.8,1165.5 672.2,1166.2 672.6,1166.9 673.0,1167.5 673.4,1167.9 673.8,1168.4 674.2,1168.7 674.6,1168.9 675.0,1169.1 675.4,1169.2 675.8,1169.2 676.2,1169.0 676.6,1168.7 677.0,1168.3 677.4,1167.8 677.8,1167.1 678.2,1166.4 678.6,1165.5 679.0,1164.5 679.4,1163.5 679.8,1162.4 680.2,1161.1 680.6,1159.8 681.0,1158.5 681.4,1157.0 681.8,1155.6 682.2,1154.0 682.6,1152.4 683.0,1150.8 683.4,1149.1 683.8,1147.5 684.2,1145.7 684.6,1144.0 685.0,1142.2 685.4,1140.5 685.8,1138.7 686.2,1137.0 686.6,1135.2 687.0,1133.5 687.4,1131.8 687.8,1130.1 688.2,1128.5 688.6,1126.9 689.0,1125.3 689.4,1123.8 689.8,1122.3 690.2,1120.9 690.6,1119.6 691.0,1118.4 691.4,1117.2 691.8,1116.1 692.2,1115.1 692.6,1114.2 693.0,1113.3 693.4,1112.6 693.8,1112.0 694.2,1111.6 694.6,1111.2 695.0,1111.0 695.4,1110.9 695.8,1111.0 696.2,1111.2 696.6,1111.5 697.0,1112.1 697.4,1112.7 697.8,1113.5 698.2,1114.4 698.6,1115.4 699.0,1116.5 699.4,1117.7 699.8,1119.0 700.2,1120.5 700.6,1121.9 701.0,1123.5 701.4,1125.1 701.8,1126.8 702.2,1128.6 702.6,1130.4 703.0,1132.2 703.4,1134.1 703.8,1136.0 704.2,1137.9 704.6,1139.8 705.0,1141.8 705.4,1143.7 705.8,1145.6 706.2,1147.5 706.6,1149.4 707.0,1151.3 707.4,1153.1 707.8,1154.9 708.2,1156.7 708.6,1158.4 709.0,1160.0 709.4,1161.5 709.8,1163.0 710.2,1164.4 710.6,1165.7 711.0,1166.9 711.4,1168.0 711.8,1169.0 712.2,1169.9 712.6,1170.7 713.0,1171.3 713.4,1171.8 713.8,1172.2 714.2,1172.4 714.6,1172.4 715.0,1172.2 715.4,1171.8 715.8,1171.2 716.2,1170.4 716.6,1169.4 717.0,1168.3 717.4,1166.9 717.8,1165.4 718.2,1163.8 718.6,1162.0 719.0,1160.1 719.4,1158.1 719.8,1155.9 720.2,1153.7 720.6,1151.4 721.0,1149.0 721.4,1146.6 721.8,1144.1 722.2,1141.5 722.6,1139.0 723.0,1136.4 723.4,1133.8 723.8,1131.2 724.2,1128.6 724.6,1126.0 725.0,1123.4 725.4,1121.0 725.8,1118.5 726.2,1116.1 726.6,1113.8 727.0,1111.6 727.4,1109.5 727.8,1107.5 728.2,1105.6 728.6,1103.8 729.0,1102.1 729.4,1100.7 729.8,1099.3 730.2,1098.2 730.6,1097.2 731.0,1096.4 731.4,1095.8 731.8,1095.4 732.2,1095.3 732.6,1095.4 733.0,1095.8 733.4,1096.5 733.8,1097.5 734.2,1098.7 734.6,1100.2 735.0,1101.9 735.4,1103.9 735.8,1106.0 736.2,1108.3 736.6,1110.8 737.0,1113.5 737.4,1116.3 737.8,1119.2 738.2,1122.3 738.6,1125.4 739.0,1128.6 739.4,1131.9 739.8,1135.3 740.2,1138.6 740.6,1142.0 741.0,1145.5 741.4,1148.9 741.8,1152.3 742.2,1155.6 742.6,1158.9 743.0,1162.1 743.4,1165.3 743.8,1168.3 744.2,1171.3 744.6,1174.1 745.0,1176.8 745.4,1179.3 745.8,1181.7 746.2,1183.8 746.6,1185.8 747.0,1187.6 747.4,1189.1 747.8,1190.4 748.2,1191.4 748.6,1192.1 749.0,1192.6 749.4,1192.7 749.8,1192.6 750.2,1192.1 750.6,1191.4 751.0,1190.4 751.4,1189.1 751.8,1187.6 752.2,1185.8 752.6,1183.9 753.0,1181.7 753.4,1179.4 753.8,1176.8 754.2,1174.1 754.6,1171.3 755.0,1168.3 755.4,1165.2 755.8,1162.0 756.2,1158.6 756.6,1155.2 757.0,1151.8 757.4,1148.2 757.8,1144.7 758.2,1141.1 758.6,1137.5 759.0,1133.8 759.4,1130.2 759.8,1126.6 760.2,1123.1 760.6,1119.6 761.0,1116.1 761.4,1112.8 761.8,1109.5 762.2,1106.3 762.6,1103.3 763.0,1100.4 763.4,1097.6 763.8,1095.0 764.2,1092.5 764.6,1090.2 765.0,1088.2 765.4,1086.3 765.8,1084.7 766.2,1083.3 766.6,1082.1 767.0,1081.3 767.4,1080.7 767.8,1080.3 768.2,1080.3 768.6,1080.8 769.0,1081.7 769.4,1083.0 769.8,1084.6 770.2,1086.7 770.6,1089.1 771.0,1091.8 771.4,1094.7 771.8,1098.0 772.2,1101.5 772.6,1105.2 773.0,1109.0 773.4,1113.1 773.8,1117.3 774.2,1121.6 774.6,1126.0 775.0,1130.4 775.4,1134.9 775.8,1139.4 776.2,1143.9 776.6,1148.3 777.0,1152.7 777.4,1157.0 777.8,1161.2 778.2,1165.3 778.6,1169.1 779.0,1172.8 779.4,1176.3 779.8,1179.6 780.2,1182.6 780.6,1185.3 781.0,1187.7 781.4,1189.8 781.8,1191.5 782.2,1192.8 782.6,1193.7 783.0,1194.2 783.4,1194.2 783.8,1193.9 784.2,1193.3 784.6,1192.3 785.0,1191.1 785.4,1189.6 785.8,1187.9 786.2,1185.9 786.6,1183.7 787.0,1181.3 787.4,1178.8 787.8,1176.0 788.2,1173.1 788.6,1170.1 789.0,1166.9 789.4,1163.7 789.8,1160.3 790.2,1156.9 790.6,1153.4 791.0,1149.8 791.4,1146.3 791.8,1142.7 792.2,1139.1 792.6,1135.6 793.0,1132.1 793.4,1128.6 793.8,1125.2 794.2,1121.9 794.6,1118.7 795.0,1115.7 795.4,1112.7 795.8,1109.9 796.2,1107.3 796.6,1104.8 797.0,1102.6 797.4,1100.5 797.8,1098.7 798.2,1097.2 798.6,1095.9 799.0,1094.8 799.4,1094.1 799.8,1093.7 800.2,1093.6 800.6,1093.8 801.0,1094.4 801.4,1095.3 801.8,1096.5 802.2,1097.9 802.6,1099.6 803.0,1101.6 803.4,1103.8 803.8,1106.1 804.2,1108.7 804.6,1111.4 805.0,1114.3 805.4,1117.3 805.8,1120.4 806.2,1123.6 806.6,1126.9 807.0,1130.2 807.4,1133.5 807.8,1136.9 808.2,1140.2 808.6,1143.6 809.0,1146.9 809.4,1150.1 809.8,1153.3 810.2,1156.3 810.6,1159.3 811.0,1162.1 811.4,1164.8 811.8,1167.2 812.2,1169.5 812.6,1171.6 813.0,1173.5 813.4,1175.1 813.8,1176.5 814.2,1177.5 814.6,1178.3 815.0,1178.7 815.4,1178.8 815.8,1178.6 816.2,1178.1 816.6,1177.4 817.0,1176.4 817.4,1175.2 817.8,1173.8 818.2,1172.2 818.6,1170.4 819.0,1168.4 819.4,1166.2 819.8,1163.9 820.2,1161.5 820.6,1159.0 821.0,1156.4 821.4,1153.7 821.8,1150.9 822.2,1148.0 822.6,1145.1 823.0,1142.2 823.4,1139.3 823.8,1136.4 824.2,1133.5 824.6,1130.6 825.0,1127.8 825.4,1125.0 825.8,1122.3 826.2,1119.7 826.6,1117.2 827.0,1114.9 827.4,1112.6 827.8,1110.5 828.2,1108.6 828.6,1106.8 829.0,1105.2 829.4,1103.9 829.8,1102.7 830.2,1101.8 830.6,1101.1 831.0,1100.8 831.4,1100.6 831.8,1100.8 832.2,1101.2 832.6,1101.8 833.0,1102.6 833.4,1103.6 833.8,1104.9 834.2,1106.3 834.6,1107.8 835.0,1109.6 835.4,1111.5 835.8,1113.5 836.2,1115.7 836.6,1117.9 837.0,1120.3 837.4,1122.7 837.8,1125.3 838.2,1127.9 838.6,1130.5 839.0,1133.2 839.4,1136.0 839.8,1138.7 840.2,1141.5 840.6,1144.3 841.0,1147.0 841.4,1149.7 841.8,1152.4 842.2,1155.1 842.6,1157.7 843.0,1160.2 843.4,1162.6 843.8,1165.0 844.2,1167.2 844.6,1169.3 845.0,1171.3 845.4,1173.1 845.8,1174.8 846.2,1176.4 846.6,1177.7 847.0,1178.9 847.4,1179.9 847.8,1180.7 848.2,1181.2 848.6,1181.5 849.0,1181.6 849.4,1181.5 849.8,1181.1 850.2,1180.6 850.6,1179.9 851.0,1179.0 851.4,1178.0 851.8,1176.8 852.2,1175.5 852.6,1174.1 853.0,1172.6 853.4,1170.9 853.8,1169.2 854.2,1167.3 854.6,1165.4 855.0,1163.4 855.4,1161.4 855.8,1159.3 856.2,1157.2 856.6,1155.1 857.0,1152.9 857.4,1150.8 857.8,1148.6 858.2,1146.5 858.6,1144.4 859.0,1142.3 859.4,1140.3 859.8,1138.4 860.2,1136.5 860.6,1134.6 861.0,1132.9 861.4,1131.3 861.8,1129.7 862.2,1128.3 862.6,1127.0 863.0,1125.9 863.4,1124.7 863.8,1123.6 864.2,1122.4 864.6,1121.2 865.0,1120.0 865.4,1118.8 865.8,1117.6 866.2,1116.4 866.6,1115.2 867.0,1114.0 867.4,1112.8 867.8,1111.6 868.2,1110.5 868.6,1109.3 869.0,1108.1 869.4,1107.0 869.8,1105.9 870.2,1104.8 870.6,1103.7 871.0,1102.7 871.4,1101.7 871.8,1100.7 872.2,1099.7 872.6,1098.8 873.0,1097.9 873.4,1097.1 873.8,1096.3 874.2,1095.5 874.6,1094.8 875.0,1094.1 875.4,1093.5 875.8,1092.9 876.2,1092.4 876.6,1091.9 877.0,1091.5 877.4,1091.1 877.8,1090.9 878.2,1090.6 878.6,1090.5 879.0,1090.4 879.4,1090.4 879.8,1090.4 880.2,1090.6 880.6,1091.0 881.0,1091.4 881.4,1091.9 881.8,1092.5 882.2,1093.2 882.6,1094.0 883.0,1094.9 883.4,1095.9 883.8,1096.9 884.2,1098.0 884.6,1099.1 885.0,1100.3 885.4,1101.6 885.8,1102.9 886.2,1104.3 886.6,1105.6 887.0,1107.0 887.4,1108.5 887.8,1109.9 888.2,1111.4 888.6,1112.9 889.0,1114.4 889.4,1115.8 889.8,1117.3 890.2,1118.8 890.6,1120.2 891.0,1121.7 891.4,1123.1 891.8,1124.5 892.2,1125.9 892.6,1127.5 893.0,1129.3 893.4,1131.1 893.8,1133.1 894.2,1135.2 894.6,1137.3 895.0,1139.5 895.4,1141.8 895.8,1144.2 896.2,1146.6 896.6,1149.0 897.0,1151.5 897.4,1153.9 897.8,1156.4 898.2,1158.8 898.6,1161.2 899.0,1163.6 899.4,1165.9 899.8,1168.2 900.2,1170.4 900.6,1172.6 901.0,1174.6 901.4,1176.6 901.8,1178.4 902.2,1180.1 902.6,1181.7 903.0,1183.1 903.4,1184.4 903.8,1185.5 904.2,1186.4 904.6,1187.1 905.0,1187.6 905.4,1188.0 905.8,1188.1 906.2,1188.1 906.6,1188.2 907.0,1188.3 907.4,1188.3 907.8,1188.3 908.2,1188.4 908.6,1188.4 909.0,1188.4" fill="none" stroke="#0000ff" stroke-width="4.2" stroke-linejoin="round" stroke-linecap="butt" clip-path="url(#cL6)"/>
<path d="M342.1 1271.9V1419.1M525.2 1271.9V1419.1M708.3 1271.9V1419.1M891.4 1271.9V1419.1M159.0 1345.5H909.0" stroke="#dedede" stroke-width="3.7" fill="none"/>
<path d="M342.1 1419.1v-9.0M342.1 1271.9v9.0M525.2 1419.1v-9.0M525.2 1271.9v9.0M708.3 1419.1v-9.0M708.3 1271.9v9.0M891.4 1419.1v-9.0M891.4 1271.9v9.0M159.0 1345.5h9.0M909.0 1345.5h-9.0" stroke="#262626" stroke-width="3.7" fill="none"/>
<rect x="159.0" y="1271.9" width="750.0" height="147.2" stroke="#262626" stroke-width="3.7" fill="none"/>
<polyline points="159.0,1276.7 159.4,1276.9 159.8,1277.2 160.2,1277.5 160.6,1277.8 161.0,1278.1 161.4,1278.4 161.8,1278.7 162.2,1279.0 162.6,1279.3 163.0,1279.7 163.4,1280.0 163.8,1280.4 164.2,1280.8 164.6,1281.2 165.0,1281.6 165.4,1282.0 165.8,1282.5 166.2,1282.9 166.6,1283.4 167.0,1284.0 167.4,1284.5 167.8,1285.1 168.2,1285.7 168.6,1286.3 169.0,1287.0 169.4,1287.6 169.8,1288.3 170.2,1289.1 170.6,1289.8 171.0,1290.6 171.4,1291.4 171.8,1292.2 172.2,1293.0 172.6,1293.8 173.0,1294.7 173.4,1295.6 173.8,1296.4 174.2,1297.3 174.6,1298.2 175.0,1299.2 175.4,1300.1 175.8,1301.0 176.2,1302.0 176.6,1302.9 177.0,1303.9 177.4,1304.8 177.8,1305.8 178.2,1306.8 178.6,1307.8 179.0,1308.8 179.4,1309.8 179.8,1310.8 180.2,1311.8 180.6,1312.8 181.0,1313.8 181.4,1314.8 181.8,1315.8 182.2,1316.7 182.6,1317.7 183.0,1318.7 183.4,1319.7 183.8,1320.7 184.2,1321.6 184.6,1322.6 185.0,1323.5 185.4,1324.5 185.8,1325.4 186.2,1326.3 186.6,1327.3 187.0,1328.2 187.4,1329.1 187.8,1329.9 188.2,1330.8 188.6,1331.7 189.0,1332.5 189.4,1333.3 189.8,1334.1 190.2,1334.9 190.6,1335.7 191.0,1336.4 191.4,1337.1 191.8,1337.8 192.2,1338.5 192.6,1339.1 193.0,1339.8 193.4,1340.4 193.8,1341.0 194.2,1341.6 194.6,1342.1 195.0,1342.7 195.4,1343.2 195.8,1343.7 196.2,1344.2 196.6,1344.6 197.0,1345.1 197.4,1345.5 197.8,1345.9 198.2,1346.3 198.6,1346.7 199.0,1347.1 199.4,1347.4 199.8,1347.7 200.2,1348.1 200.6,1348.4 201.0,1348.7 201.4,1348.9 201.8,1349.2 202.2,1349.4 202.6,1349.7 203.0,1349.9 203.4,1350.1 203.8,1350.3 204.2,1350.5 204.6,1350.7 205.0,1350.9 205.4,1351.0 205.8,1351.2 206.2,1351.4 206.6,1351.5 207.0,1351.7 207.4,1351.9 207.8,1352.0 208.2,1352.2 208.6,1352.3 209.0,1352.5 209.4,1352.6 209.8,1352.8 210.2,1352.9 210.6,1353.1 211.0,1353.3 211.4,1353.4 211.8,1353.6 212.2,1353.8 212.6,1353.9 213.0,1354.1 213.4,1354.3 213.8,1354.5 214.2,1354.7 214.6,1354.9 215.0,1355.1 215.4,1355.3 215.8,1355.5 216.2,1355.7 216.6,1355.9 217.0,1356.1 217.4,1356.3 217.8,1356.5 218.2,1356.7 218.6,1357.0 219.0,1357.2 219.4,1357.4 219.8,1357.7 220.2,1357.9 220.6,1358.1 221.0,1358.4 221.4,1358.6 221.8,1358.9 222.2,1359.2 222.6,1359.4 223.0,1359.7 223.4,1360.0 223.8,1360.3 224.2,1360.6 224.6,1360.9 225.0,1361.2 225.4,1361.5 225.8,1361.8 226.2,1362.2 226.6,1362.5 227.0,1362.9 227.4,1363.2 227.8,1363.5 228.2,1363.9 228.6,1364.3 229.0,1364.6 229.4,1365.0 229.8,1365.4 230.2,1365.8 230.6,1366.1 231.0,1366.5 231.4,1366.9 231.8,1367.3 232.2,1367.7 232.6,1368.1 233.0,1368.5 233.4,1368.9 233.8,1369.4 234.2,1369.8 234.6,1370.2 235.0,1370.6 235.4,1371.1 235.8,1371.5 236.2,1371.9 236.6,1372.4 237.0,1372.8 237.4,1373.3 237.8,1373.7 238.2,1374.2 238.6,1374.7 239.0,1375.1 239.4,1375.6 239.8,1376.1 240.2,1376.6 240.6,1377.0 241.0,1377.5 241.4,1378.0 241.8,1378.5 242.2,1379.0 242.6,1379.5 243.0,1380.0 243.4,1380.4 243.8,1380.9 244.2,1381.4 244.6,1381.9 245.0,1382.4 245.4,1382.9 245.8,1383.4 246.2,1383.8 246.6,1384.3 247.0,1384.8 247.4,1385.3 247.8,1385.7 248.2,1386.2 248.6,1386.7 249.0,1387.2 249.4,1387.6 249.8,1388.1 250.2,1388.6 250.6,1389.0 251.0,1389.5 251.4,1389.9 251.8,1390.4 252.2,1390.8 252.6,1391.2 253.0,1391.7 253.4,1392.1 253.8,1392.5 254.2,1392.9 254.6,1393.3 255.0,1393.7 255.4,1394.1 255.8,1394.5 256.2,1394.8 256.6,1395.2 257.0,1395.5 257.4,1395.9 257.8,1396.2 258.2,1396.5 258.6,1396.8 259.0,1397.1 259.4,1397.4 259.8,1397.7 260.2,1398.0 260.6,1398.3 261.0,1398.5 261.4,1398.8 261.8,1399.0 262.2,1399.3 262.6,1399.5 263.0,1399.7 263.4,1399.9 263.8,1400.1 264.2,1400.3 264.6,1400.5 265.0,1400.6 265.4,1400.8 265.8,1400.9 266.2,1401.0 266.6,1401.1 267.0,1401.2 267.4,1401.3 267.8,1401.4 268.2,1401.4 268.6,1401.5 269.0,1401.5 269.4,1401.5 269.8,1401.6 270.2,1401.6 270.6,1401.5 271.0,1401.5 271.4,1401.5 271.8,1401.4 272.2,1401.3 272.6,1401.3 273.0,1401.2 273.4,1401.1 273.8,1400.9 274.2,1400.8 274.6,1400.7 275.0,1400.5 275.4,1400.3 275.8,1400.1 276.2,1399.9 276.6,1399.7 277.0,1399.5 277.4,1399.3 277.8,1399.0 278.2,1398.8 278.6,1398.5 279.0,1398.2 279.4,1398.0 279.8,1397.7 280.2,1397.3 280.6,1397.0 281.0,1396.7 281.4,1396.3 281.8,1395.9 282.2,1395.5 282.6,1395.1 283.0,1394.7 283.4,1394.3 283.8,1393.8 284.2,1393.4 284.6,1392.9 285.0,1392.4 285.4,1392.0 285.8,1391.5 286.2,1390.9 286.6,1390.4 287.0,1389.9 287.4,1389.3 287.8,1388.8 288.2,1388.2 288.6,1387.6 289.0,1387.0 289.4,1386.4 289.8,1385.8 290.2,1385.2 290.6,1384.5 291.0,1383.9 291.4,1383.2 291.8,1382.5 292.2,1381.8 292.6,1381.1 293.0,1380.4 293.4,1379.7 293.8,1378.9 294.2,1378.2 294.6,1377.4 295.0,1376.6 295.4,1375.8 295.8,1375.1 296.2,1374.3 296.6,1373.5 297.0,1372.6 297.4,1371.8 297.8,1371.0 298.2,1370.2 298.6,1369.3 299.0,1368.5 299.4,1367.7 299.8,1366.8 300.2,1366.0 300.6,1365.1 301.0,1364.2 301.4,1363.4 301.8,1362.5 302.2,1361.6 302.6,1360.8 303.0,1359.9 303.4,1359.0 303.8,1358.1 304.2,1357.2 304.6,1356.3 305.0,1355.5 305.4,1354.6 305.8,1353.7 306.2,1352.8 306.6,1351.9 307.0,1351.0 307.4,1350.2 307.8,1349.3 308.2,1348.4 308.6,1347.6 309.0,1346.7 309.4,1345.9 309.8,1345.1 310.2,1344.2 310.6,1343.4 311.0,1342.6 311.4,1341.8 311.8,1341.0 312.2,1340.2 312.6,1339.4 313.0,1338.6 313.4,1337.8 313.8,1337.1 314.2,1336.3 314.6,1335.5 315.0,1334.8 315.4,1334.1 315.8,1333.3 316.2,1332.6 316.6,1331.9 317.0,1331.2 317.4,1330.5 317.8,1329.8 318.2,1329.1 318.6,1328.5 319.0,1327.8 319.4,1327.2 319.8,1326.5 320.2,1325.9 320.6,1325.3 321.0,1324.7 321.4,1324.1 321.8,1323.5 322.2,1322.9 322.6,1322.3 323.0,1321.8 323.4,1321.2 323.8,1320.7 324.2,1320.1 324.6,1319.6 325.0,1319.1 325.4,1318.6 325.8,1318.1 326.2,1317.6 326.6,1317.1 327.0,1316.6 327.4,1316.2 327.8,1315.8 328.2,1315.3 328.6,1314.9 329.0,1314.5 329.4,1314.1 329.8,1313.8 330.2,1313.4 330.6,1313.1 331.0,1312.7 331.4,1312.4 331.8,1312.1 332.2,1311.8 332.6,1311.5 333.0,1311.3 333.4,1311.0 333.8,1310.8 334.2,1310.6 334.6,1310.4 335.0,1310.2 335.4,1310.0 335.8,1309.8 336.2,1309.7 336.6,1309.5 337.0,1309.4 337.4,1309.3 337.8,1309.2 338.2,1309.1 338.6,1309.1 339.0,1309.0 339.4,1309.0 339.8,1309.0 340.2,1309.0 340.6,1309.1 341.0,1309.1 341.4,1309.2 341.8,1309.3 342.2,1309.4 342.6,1309.5 343.0,1309.6 343.4,1309.8 343.8,1309.9 344.2,1310.1 344.6,1310.3 345.0,1310.6 345.4,1310.8 345.8,1311.0 346.2,1311.3 346.6,1311.6 347.0,1311.9 347.4,1312.3 347.8,1312.6 348.2,1313.0 348.6,1313.4 349.0,1313.8 349.4,1314.2 349.8,1314.7 350.2,1315.2 350.6,1315.7 351.0,1316.2 351.4,1316.8 351.8,1317.4 352.2,1318.0 352.6,1318.6 353.0,1319.2 353.4,1319.8 353.8,1320.5 354.2,1321.2 354.6,1321.8 355.0,1322.6 355.4,1323.3 355.8,1324.0 356.2,1324.7 356.6,1325.5 357.0,1326.3 357.4,1327.1 357.8,1327.9 358.2,1328.7 358.6,1329.5 359.0,1330.3 359.4,1331.2 359.8,1332.0 360.2,1332.8 360.6,1333.7 361.0,1334.6 361.4,1335.4 361.8,1336.3 362.2,1337.1 362.6,1338.0 363.0,1338.8 363.4,1339.7 363.8,1340.5 364.2,1341.3 364.6,1342.2 365.0,1343.0 365.4,1343.8 365.8,1344.6 366.2,1345.4 366.6,1346.2 367.0,1347.0 367.4,1347.8 367.8,1348.6 368.2,1349.3 368.6,1350.1 369.0,1350.8 369.4,1351.5 369.8,1352.2 370.2,1352.9 370.6,1353.6 371.0,1354.3 371.4,1355.0 371.8,1355.6 372.2,1356.2 372.6,1356.9 373.0,1357.5 373.4,1358.1 373.8,1358.6 374.2,1359.2 374.6,1359.7 375.0,1360.2 375.4,1360.7 375.8,1361.2 376.2,1361.7 376.6,1362.2 377.0,1362.6 377.4,1363.0 377.8,1363.4 378.2,1363.7 378.6,1364.1 379.0,1364.4 379.4,1364.7 379.8,1364.9 380.2,1365.2 380.6,1365.4 381.0,1365.6 381.4,1365.7 381.8,1365.9 382.2,1366.0 382.6,1366.1 383.0,1366.1 383.4,1366.2 383.8,1366.2 384.2,1366.2 384.6,1366.2 385.0,1366.2 385.4,1366.1 385.8,1366.0 386.2,1365.9 386.6,1365.8 387.0,1365.6 387.4,1365.5 387.8,1365.3 388.2,1365.1 388.6,1364.9 389.0,1364.6 389.4,1364.4 389.8,1364.1 390.2,1363.8 390.6,1363.4 391.0,1363.1 391.4,1362.7 391.8,1362.3 392.2,1361.9 392.6,1361.5 393.0,1361.1 393.4,1360.6 393.8,1360.1 394.2,1359.6 394.6,1359.1 395.0,1358.6 395.4,1358.0 395.8,1357.5 396.2,1356.9 396.6,1356.3 397.0,1355.7 397.4,1355.1 397.8,1354.5 398.2,1353.9 398.6,1353.3 399.0,1352.6 399.4,1352.0 399.8,1351.4 400.2,1350.7 400.6,1350.1 401.0,1349.4 401.4,1348.7 401.8,1348.1 402.2,1347.4 402.6,1346.8 403.0,1346.2 403.4,1345.5 403.8,1344.9 404.2,1344.3 404.6,1343.7 405.0,1343.2 405.4,1342.6 405.8,1342.1 406.2,1341.6 406.6,1341.1 407.0,1340.6 407.4,1340.1 407.8,1339.7 408.2,1339.3 408.6,1338.9 409.0,1338.5 409.4,1338.2 409.8,1337.8 410.2,1337.5 410.6,1337.2 411.0,1336.9 411.4,1336.7 411.8,1336.4 412.2,1336.2 412.6,1336.0 413.0,1335.8 413.4,1335.6 413.8,1335.4 414.2,1335.3 414.6,1335.1 415.0,1335.0 415.4,1334.9 415.8,1334.8 416.2,1334.7 416.6,1334.7 417.0,1334.6 417.4,1334.6 417.8,1334.6 418.2,1334.6 418.6,1334.6 419.0,1334.6 419.4,1334.6 419.8,1334.7 420.2,1334.8 420.6,1334.8 421.0,1334.9 421.4,1335.1 421.8,1335.2 422.2,1335.3 422.6,1335.5 423.0,1335.6 423.4,1335.8 423.8,1336.0 424.2,1336.2 424.6,1336.4 425.0,1336.6 425.4,1336.8 425.8,1337.1 426.2,1337.3 426.6,1337.6 427.0,1337.8 427.4,1338.1 427.8,1338.4 428.2,1338.7 428.6,1339.0 429.0,1339.4 429.4,1339.7 429.8,1340.1 430.2,1340.4 430.6,1340.8 431.0,1341.1 431.4,1341.5 431.8,1341.9 432.2,1342.2 432.6,1342.6 433.0,1343.0 433.4,1343.4 433.8,1343.7 434.2,1344.1 434.6,1344.5 435.0,1344.8 435.4,1345.2 435.8,1345.5 436.2,1345.8 436.6,1346.2 437.0,1346.5 437.4,1346.8 437.8,1347.1 438.2,1347.4 438.6,1347.7 439.0,1348.0 439.4,1348.2 439.8,1348.5 440.2,1348.8 440.6,1349.0 441.0,1349.2 441.4,1349.5 441.8,1349.7 442.2,1349.9 442.6,1350.1 443.0,1350.3 443.4,1350.4 443.8,1350.6 444.2,1350.8 444.6,1350.9 445.0,1351.0 445.4,1351.1 445.8,1351.2 446.2,1351.3 446.6,1351.4 447.0,1351.4 447.4,1351.5 447.8,1351.5 448.2,1351.6 448.6,1351.6 449.0,1351.6 449.4,1351.6 449.8,1351.6 450.2,1351.5 450.6,1351.5 451.0,1351.5 451.4,1351.4 451.8,1351.3 452.2,1351.3 452.6,1351.2 453.0,1351.1 453.4,1351.0 453.8,1350.9 454.2,1350.7 454.6,1350.6 455.0,1350.5 455.4,1350.3 455.8,1350.2 456.2,1350.0 456.6,1349.9 457.0,1349.7 457.4,1349.5 457.8,1349.3 458.2,1349.2 458.6,1349.0 459.0,1348.8 459.4,1348.6 459.8,1348.3 460.2,1348.1 460.6,1347.9 461.0,1347.7 461.4,1347.4 461.8,1347.2 462.2,1346.9 462.6,1346.7 463.0,1346.4 463.4,1346.2 463.8,1345.9 464.2,1345.6 464.6,1345.4 465.0,1345.1 465.4,1344.8 465.8,1344.6 466.2,1344.3 466.6,1344.0 467.0,1343.8 467.4,1343.5 467.8,1343.2 468.2,1343.0 468.6,1342.7 469.0,1342.5 469.4,1342.3 469.8,1342.0 470.2,1341.8 470.6,1341.6 471.0,1341.4 471.4,1341.2 471.8,1341.0 472.2,1340.8 472.6,1340.6 473.0,1340.4 473.4,1340.2 473.8,1340.0 474.2,1339.8 474.6,1339.7 475.0,1339.5 475.4,1339.3 475.8,1339.2 476.2,1339.0 476.6,1338.9 477.0,1338.7 477.4,1338.6 477.8,1338.5 478.2,1338.3 478.6,1338.2 479.0,1338.1 479.4,1338.0 479.8,1337.9 480.2,1337.8 480.6,1337.7 481.0,1337.6 481.4,1337.6 481.8,1337.5 482.2,1337.4 482.6,1337.4 483.0,1337.3 483.4,1337.3 483.8,1337.2 484.2,1337.2 484.6,1337.2 485.0,1337.1 485.4,1337.1 485.8,1337.1 486.2,1337.1 486.6,1337.1 487.0,1337.1 487.4,1337.1 487.8,1337.1 488.2,1337.1 488.6,1337.1 489.0,1337.1 489.4,1337.1 489.8,1337.2 490.2,1337.2 490.6,1337.3 491.0,1337.3 491.4,1337.4 491.8,1337.4 492.2,1337.5 492.6,1337.6 493.0,1337.6 493.4,1337.7 493.8,1337.8 494.2,1337.9 494.6,1338.0 495.0,1338.1 495.4,1338.2 495.8,1338.3 496.2,1338.4 496.6,1338.6 497.0,1338.7 497.4,1338.8 497.8,1339.0 498.2,1339.1 498.6,1339.3 499.0,1339.5 499.4,1339.6 499.8,1339.8 500.2,1340.0 500.6,1340.2 501.0,1340.4 501.4,1340.6 501.8,1340.8 502.2,1341.1 502.6,1341.3 503.0,1341.5 503.4,1341.8 503.8,1342.0 504.2,1342.3 504.6,1342.6 505.0,1342.8 505.4,1343.1 505.8,1343.4 506.2,1343.7 506.6,1344.0 507.0,1344.2 507.4,1344.5 507.8,1344.9 508.2,1345.2 508.6,1345.5 509.0,1345.8 509.4,1346.1 509.8,1346.5 510.2,1346.8 510.6,1347.2 511.0,1347.5 511.4,1347.9 511.8,1348.2 512.2,1348.6 512.6,1348.9 513.0,1349.3 513.4,1349.7 513.8,1350.0 514.2,1350.4 514.6,1350.8 515.0,1351.1 515.4,1351.5 515.8,1351.9 516.2,1352.2 516.6,1352.6 517.0,1352.9 517.4,1353.2 517.8,1353.6 518.2,1353.9 518.6,1354.2 519.0,1354.6 519.4,1354.9 519.8,1355.2 520.2,1355.5 520.6,1355.8 521.0,1356.1 521.4,1356.4 521.8,1356.7 522.2,1357.0 522.6,1357.3 523.0,1357.6 523.4,1357.9 523.8,1358.1 524.2,1358.4 524.6,1358.7 525.0,1359.0 525.4,1359.2 525.8,1359.5 526.2,1359.8 526.6,1360.1 527.0,1360.3 527.4,1360.6 527.8,1360.9 528.2,1361.1 528.6,1361.4 529.0,1361.6 529.4,1361.9 529.8,1362.2 530.2,1362.4 530.6,1362.7 531.0,1362.9 531.4,1363.2 531.8,1363.4 532.2,1363.6 532.6,1363.8 533.0,1364.1 533.4,1364.3 533.8,1364.4 534.2,1364.6 534.6,1364.8 535.0,1365.0 535.4,1365.1 535.8,1365.2 536.2,1365.4 536.6,1365.5 537.0,1365.6 537.4,1365.7 537.8,1365.7 538.2,1365.8 538.6,1365.9 539.0,1365.9 539.4,1366.0 539.8,1366.0 540.2,1366.0 540.6,1366.0 541.0,1366.0 541.4,1366.0 541.8,1366.0 542.2,1366.0 542.6,1366.0 543.0,1365.9 543.4,1365.9 543.8,1365.9 544.2,1365.8 544.6,1365.7 545.0,1365.7 545.4,1365.6 545.8,1365.5 546.2,1365.4 546.6,1365.3 547.0,1365.2 547.4,1365.1 547.8,1365.0 548.2,1364.8 548.6,1364.7 549.0,1364.5 549.4,1364.4 549.8,1364.2 550.2,1364.0 550.6,1363.8 551.0,1363.6 551.4,1363.3 551.8,1363.1 552.2,1362.8 552.6,1362.6 553.0,1362.3 553.4,1362.0 553.8,1361.7 554.2,1361.4 554.6,1361.0 555.0,1360.7 555.4,1360.4 555.8,1360.0 556.2,1359.6 556.6,1359.2 557.0,1358.8 557.4,1358.4 557.8,1358.0 558.2,1357.6 558.6,1357.1 559.0,1356.7 559.4,1356.2 559.8,1355.7 560.2,1355.2 560.6,1354.7 561.0,1354.2 561.4,1353.7 561.8,1353.1 562.2,1352.6 562.6,1352.0 563.0,1351.5 563.4,1350.9 563.8,1350.3 564.2,1349.8 564.6,1349.2 565.0,1348.6 565.4,1348.0 565.8,1347.4 566.2,1346.8 566.6,1346.2 567.0,1345.6 567.4,1345.0 567.8,1344.4 568.2,1343.8 568.6,1343.3 569.0,1342.7 569.4,1342.1 569.8,1341.5 570.2,1340.9 570.6,1340.3 571.0,1339.7 571.4,1339.1 571.8,1338.5 572.2,1338.0 572.6,1337.4 573.0,1336.8 573.4,1336.2 573.8,1335.7 574.2,1335.1 574.6,1334.5 575.0,1334.0 575.4,1333.4 575.8,1332.9 576.2,1332.4 576.6,1331.8 577.0,1331.3 577.4,1330.8 577.8,1330.3 578.2,1329.8 578.6,1329.3 579.0,1328.9 579.4,1328.4 579.8,1328.0 580.2,1327.5 580.6,1327.1 581.0,1326.7 581.4,1326.2 581.8,1325.8 582.2,1325.4 582.6,1325.1 583.0,1324.7 583.4,1324.3 583.8,1324.0 584.2,1323.6 584.6,1323.3 585.0,1323.0 585.4,1322.7 585.8,1322.4 586.2,1322.2 586.6,1321.9 587.0,1321.7 587.4,1321.4 587.8,1321.2 588.2,1321.0 588.6,1320.8 589.0,1320.7 589.4,1320.5 589.8,1320.3 590.2,1320.2 590.6,1320.0 591.0,1319.9 591.4,1319.8 591.8,1319.7 592.2,1319.6 592.6,1319.5 593.0,1319.4 593.4,1319.3 593.8,1319.3 594.2,1319.2 594.6,1319.2 595.0,1319.1 595.4,1319.1 595.8,1319.1 596.2,1319.1 596.6,1319.1 597.0,1319.2 597.4,1319.2 597.8,1319.3 598.2,1319.3 598.6,1319.4 599.0,1319.5 599.4,1319.6 599.8,1319.7 600.2,1319.9 600.6,1320.0 601.0,1320.2 601.4,1320.4 601.8,1320.6 602.2,1320.8 602.6,1321.0 603.0,1321.2 603.4,1321.5 603.8,1321.8 604.2,1322.1 604.6,1322.4 605.0,1322.7 605.4,1323.1 605.8,1323.5 606.2,1323.9 606.6,1324.3 607.0,1324.8 607.4,1325.3 607.8,1325.8 608.2,1326.3 608.6,1326.9 609.0,1327.4 609.4,1328.0 609.8,1328.7 610.2,1329.3 610.6,1330.0 611.0,1330.6 611.4,1331.3 611.8,1332.0 612.2,1332.7 612.6,1333.4 613.0,1334.2 613.4,1334.9 613.8,1335.7 614.2,1336.4 614.6,1337.2 615.0,1338.0 615.4,1338.7 615.8,1339.5 616.2,1340.3 616.6,1341.1 617.0,1341.9 617.4,1342.7 617.8,1343.5 618.2,1344.3 618.6,1345.1 619.0,1345.9 619.4,1346.6 619.8,1347.4 620.2,1348.1 620.6,1348.9 621.0,1349.6 621.4,1350.3 621.8,1351.0 622.2,1351.7 622.6,1352.3 623.0,1353.0 623.4,1353.6 623.8,1354.2 624.2,1354.8 624.6,1355.4 625.0,1355.9 625.4,1356.5 625.8,1357.0 626.2,1357.5 626.6,1358.0 627.0,1358.5 627.4,1359.0 627.8,1359.5 628.2,1359.9 628.6,1360.3 629.0,1360.7 629.4,1361.1 629.8,1361.5 630.2,1361.8 630.6,1362.2 631.0,1362.5 631.4,1362.8 631.8,1363.1 632.2,1363.4 632.6,1363.7 633.0,1364.0 633.4,1364.2 633.8,1364.5 634.2,1364.7 634.6,1364.9 635.0,1365.1 635.4,1365.3 635.8,1365.5 636.2,1365.7 636.6,1365.8 637.0,1366.0 637.4,1366.1 637.8,1366.2 638.2,1366.3 638.6,1366.4 639.0,1366.5 639.4,1366.6 639.8,1366.7 640.2,1366.7 640.6,1366.7 641.0,1366.8 641.4,1366.8 641.8,1366.8 642.2,1366.8 642.6,1366.8 643.0,1366.7 643.4,1366.7 643.8,1366.6 644.2,1366.6 644.6,1366.5 645.0,1366.4 645.4,1366.3 645.8,1366.2 646.2,1366.1 646.6,1365.9 647.0,1365.7 647.4,1365.6 647.8,1365.4 648.2,1365.2 648.6,1364.9 649.0,1364.7 649.4,1364.4 649.8,1364.2 650.2,1363.9 650.6,1363.5 651.0,1363.2 651.4,1362.8 651.8,1362.5 652.2,1362.1 652.6,1361.6 653.0,1361.2 653.4,1360.7 653.8,1360.3 654.2,1359.8 654.6,1359.3 655.0,1358.7 655.4,1358.2 655.8,1357.7 656.2,1357.1 656.6,1356.6 657.0,1356.0 657.4,1355.5 657.8,1354.9 658.2,1354.3 658.6,1353.8 659.0,1353.2 659.4,1352.6 659.8,1352.0 660.2,1351.4 660.6,1350.8 661.0,1350.3 661.4,1349.7 661.8,1349.1 662.2,1348.5 662.6,1347.9 663.0,1347.3 663.4,1346.8 663.8,1346.2 664.2,1345.6 664.6,1345.1 665.0,1344.5 665.4,1344.0 665.8,1343.4 666.2,1342.9 666.6,1342.4 667.0,1341.9 667.4,1341.4 667.8,1340.9 668.2,1340.5 668.6,1340.0 669.0,1339.6 669.4,1339.1 669.8,1338.7 670.2,1338.3 670.6,1337.9 671.0,1337.6 671.4,1337.2 671.8,1336.8 672.2,1336.5 672.6,1336.2 673.0,1335.8 673.4,1335.5 673.8,1335.2 674.2,1334.9 674.6,1334.7 675.0,1334.4 675.4,1334.2 675.8,1333.9 676.2,1333.7 676.6,1333.5 677.0,1333.3 677.4,1333.1 677.8,1332.9 678.2,1332.7 678.6,1332.5 679.0,1332.4 679.4,1332.2 679.8,1332.1 680.2,1332.0 680.6,1331.9 681.0,1331.8 681.4,1331.7 681.8,1331.6 682.2,1331.5 682.6,1331.5 683.0,1331.4 683.4,1331.4 683.8,1331.4 684.2,1331.3 684.6,1331.3 685.0,1331.4 685.4,1331.4 685.8,1331.4 686.2,1331.5 686.6,1331.6 687.0,1331.6 687.4,1331.7 687.8,1331.8 688.2,1332.0 688.6,1332.1 689.0,1332.2 689.4,1332.4 689.8,1332.6 690.2,1332.7 690.6,1332.9 691.0,1333.1 691.4,1333.3 691.8,1333.6 692.2,1333.8 692.6,1334.1 693.0,1334.3 693.4,1334.6 693.8,1334.9 694.2,1335.2 694.6,1335.5 695.0,1335.9 695.4,1336.2 695.8,1336.6 696.2,1336.9 696.6,1337.3 697.0,1337.7 697.4,1338.1 697.8,1338.5 698.2,1339.0 698.6,1339.4 699.0,1339.8 699.4,1340.3 699.8,1340.7 700.2,1341.1 700.6,1341.6 701.0,1342.0 701.4,1342.5 701.8,1342.9 702.2,1343.4 702.6,1343.9 703.0,1344.3 703.4,1344.8 703.8,1345.2 704.2,1345.7 704.6,1346.1 705.0,1346.6 705.4,1347.1 705.8,1347.5 706.2,1347.9 706.6,1348.4 707.0,1348.8 707.4,1349.2 707.8,1349.7 708.2,1350.1 708.6,1350.5 709.0,1350.9 709.4,1351.3 709.8,1351.6 710.2,1352.0 710.6,1352.4 711.0,1352.7 711.4,1353.1 711.8,1353.4 712.2,1353.7 712.6,1354.0 713.0,1354.3 713.4,1354.6 713.8,1354.9 714.2,1355.1 714.6,1355.4 715.0,1355.6 715.4,1355.8 715.8,1356.0 716.2,1356.2 716.6,1356.3 717.0,1356.5 717.4,1356.6 717.8,1356.7 718.2,1356.9 718.6,1356.9 719.0,1357.0 719.4,1357.1 719.8,1357.1 720.2,1357.2 720.6,1357.2 721.0,1357.2 721.4,1357.2 721.8,1357.1 722.2,1357.1 722.6,1357.0 723.0,1356.9 723.4,1356.8 723.8,1356.7 724.2,1356.6 724.6,1356.4 725.0,1356.2 725.4,1356.0 725.8,1355.8 726.2,1355.6 726.6,1355.3 727.0,1355.1 727.4,1354.8 727.8,1354.5 728.2,1354.1 728.6,1353.8 729.0,1353.4 729.4,1353.0 729.8,1352.6 730.2,1352.2 730.6,1351.7 731.0,1351.2 731.4,1350.8 731.8,1350.3 732.2,1349.8 732.6,1349.3 733.0,1348.8 733.4,1348.3 733.8,1347.7 734.2,1347.2 734.6,1346.7 735.0,1346.1 735.4,1345.6 735.8,1345.1 736.2,1344.6 736.6,1344.0 737.0,1343.5 737.4,1343.0 737.8,1342.4 738.2,1341.9 738.6,1341.4 739.0,1340.9 739.4,1340.4 739.8,1339.9 740.2,1339.4 740.6,1338.9 741.0,1338.4 741.4,1338.0 741.8,1337.5 742.2,1337.1 742.6,1336.6 743.0,1336.2 743.4,1335.8 743.8,1335.4 744.2,1335.0 744.6,1334.6 745.0,1334.3 745.4,1333.9 745.8,1333.6 746.2,1333.3 746.6,1333.0 747.0,1332.7 747.4,1332.5 747.8,1332.2 748.2,1332.0 748.6,1331.8 749.0,1331.6 749.4,1331.4 749.8,1331.2 750.2,1331.1 750.6,1331.0 751.0,1330.9 751.4,1330.8 751.8,1330.7 752.2,1330.6 752.6,1330.6 753.0,1330.6 753.4,1330.6 753.8,1330.6 754.2,1330.6 754.6,1330.7 755.0,1330.8 755.4,1330.8 755.8,1331.0 756.2,1331.1 756.6,1331.2 757.0,1331.4 757.4,1331.6 757.8,1331.8 758.2,1332.0 758.6,1332.3 759.0,1332.5 759.4,1332.8 759.8,1333.1 760.2,1333.5 760.6,1333.8 761.0,1334.2 761.4,1334.6 761.8,1335.1 762.2,1335.5 762.6,1336.0 763.0,1336.5 763.4,1337.0 763.8,1337.6 764.2,1338.2 764.6,1338.7 765.0,1339.3 765.4,1340.0 765.8,1340.6 766.2,1341.3 766.6,1341.9 767.0,1342.6 767.4,1343.3 767.8,1344.0 768.2,1344.7 768.6,1345.4 769.0,1346.2 769.4,1346.9 769.8,1347.7 770.2,1348.4 770.6,1349.1 771.0,1349.9 771.4,1350.6 771.8,1351.4 772.2,1352.1 772.6,1352.9 773.0,1353.6 773.4,1354.3 773.8,1355.0 774.2,1355.7 774.6,1356.4 775.0,1357.0 775.4,1357.7 775.8,1358.3 776.2,1358.9 776.6,1359.5 777.0,1360.1 777.4,1360.6 777.8,1361.1 778.2,1361.6 778.6,1362.1 779.0,1362.6 779.4,1363.0 779.8,1363.4 780.2,1363.8 780.6,1364.1 781.0,1364.4 781.4,1364.7 781.8,1365.0 782.2,1365.2 782.6,1365.5 783.0,1365.6 783.4,1365.8 783.8,1365.9 784.2,1366.1 784.6,1366.1 785.0,1366.2 785.4,1366.3 785.8,1366.3 786.2,1366.3 786.6,1366.2 787.0,1366.2 787.4,1366.1 787.8,1366.0 788.2,1365.9 788.6,1365.7 789.0,1365.5 789.4,1365.3 789.8,1365.1 790.2,1364.8 790.6,1364.5 791.0,1364.2 791.4,1363.8 791.8,1363.4 792.2,1363.0 792.6,1362.6 793.0,1362.1 793.4,1361.6 793.8,1361.0 794.2,1360.5 794.6,1359.9 795.0,1359.2 795.4,1358.6 795.8,1357.9 796.2,1357.2 796.6,1356.5 797.0,1355.7 797.4,1354.9 797.8,1354.1 798.2,1353.3 798.6,1352.5 799.0,1351.6 799.4,1350.8 799.8,1349.9 800.2,1349.0 800.6,1348.1 801.0,1347.2 801.4,1346.3 801.8,1345.4 802.2,1344.5 802.6,1343.5 803.0,1342.6 803.4,1341.7 803.8,1340.7 804.2,1339.8 804.6,1338.9 805.0,1338.0 805.4,1337.0 805.8,1336.1 806.2,1335.2 806.6,1334.4 807.0,1333.5 807.4,1332.6 807.8,1331.8 808.2,1331.0 808.6,1330.3 809.0,1329.5 809.4,1328.8 809.8,1328.1 810.2,1327.4 810.6,1326.8 811.0,1326.2 811.4,1325.6 811.8,1325.1 812.2,1324.5 812.6,1324.0 813.0,1323.6 813.4,1323.1 813.8,1322.7 814.2,1322.3 814.6,1322.0 815.0,1321.7 815.4,1321.4 815.8,1321.1 816.2,1320.8 816.6,1320.6 817.0,1320.4 817.4,1320.2 817.8,1320.0 818.2,1319.9 818.6,1319.8 819.0,1319.7 819.4,1319.7 819.8,1319.6 820.2,1319.6 820.6,1319.6 821.0,1319.6 821.4,1319.7 821.8,1319.7 822.2,1319.8 822.6,1320.0 823.0,1320.1 823.4,1320.3 823.8,1320.4 824.2,1320.6 824.6,1320.9 825.0,1321.1 825.4,1321.4 825.8,1321.7 826.2,1322.0 826.6,1322.4 827.0,1322.8 827.4,1323.2 827.8,1323.6 828.2,1324.0 828.6,1324.5 829.0,1325.0 829.4,1325.6 829.8,1326.1 830.2,1326.7 830.6,1327.3 831.0,1327.9 831.4,1328.6 831.8,1329.2 832.2,1329.9 832.6,1330.6 833.0,1331.3 833.4,1332.1 833.8,1332.8 834.2,1333.6 834.6,1334.4 835.0,1335.2 835.4,1336.0 835.8,1336.9 836.2,1337.7 836.6,1338.6 837.0,1339.5 837.4,1340.3 837.8,1341.2 838.2,1342.1 838.6,1343.0 839.0,1343.9 839.4,1344.8 839.8,1345.7 840.2,1346.6 840.6,1347.5 841.0,1348.3 841.4,1349.2 841.8,1350.1 842.2,1350.9 842.6,1351.8 843.0,1352.6 843.4,1353.4 843.8,1354.2 844.2,1355.0 844.6,1355.8 845.0,1356.6 845.4,1357.3 845.8,1358.1 846.2,1358.8 846.6,1359.5 847.0,1360.2 847.4,1360.9 847.8,1361.6 848.2,1362.2 848.6,1362.9 849.0,1363.5 849.4,1364.1 849.8,1364.6 850.2,1365.2 850.6,1365.7 851.0,1366.2 851.4,1366.7 851.8,1367.2 852.2,1367.6 852.6,1368.1 853.0,1368.5 853.4,1368.9 853.8,1369.2 854.2,1369.6 854.6,1369.9 855.0,1370.2 855.4,1370.5 855.8,1370.8 856.2,1371.0 856.6,1371.3 857.0,1371.5 857.4,1371.7 857.8,1371.8 858.2,1372.0 858.6,1372.1 859.0,1372.2 859.4,1372.3 859.8,1372.4 860.2,1372.5 860.6,1372.6 861.0,1372.6 861.4,1372.6 861.8,1372.7 862.2,1372.7 862.6,1372.6 863.0,1372.6 863.4,1372.6 863.8,1372.5 864.2,1372.4 864.6,1372.3 865.0,1372.2 865.4,1372.1 865.8,1372.0 866.2,1371.9 866.6,1371.7 867.0,1371.5 867.4,1371.4 867.8,1371.2 868.2,1371.0 868.6,1370.8 869.0,1370.6 869.4,1370.3 869.8,1370.1 870.2,1369.8 870.6,1369.6 871.0,1369.3 871.4,1369.0 871.8,1368.7 872.2,1368.4 872.6,1368.1 873.0,1367.7 873.4,1367.4 873.8,1367.0 874.2,1366.7 874.6,1366.3 875.0,1365.9 875.4,1365.5 875.8,1365.1 876.2,1364.7 876.6,1364.3 877.0,1363.8 877.4,1363.4 877.8,1363.0 878.2,1362.5 878.6,1362.1 879.0,1361.7 879.4,1361.2 879.8,1360.8 880.2,1360.3 880.6,1359.9 881.0,1359.4 881.4,1359.0 881.8,1358.6 882.2,1358.1 882.6,1357.7 883.0,1357.2 883.4,1356.8 883.8,1356.4 884.2,1355.9 884.6,1355.5 885.0,1355.0 885.4,1354.6 885.8,1354.1 886.2,1353.7 886.6,1353.3 887.0,1352.8 887.4,1352.4 887.8,1351.9 888.2,1351.5 888.6,1351.0 889.0,1350.6 889.4,1350.2 889.8,1349.7 890.2,1349.3 890.6,1348.8 891.0,1348.4 891.4,1348.0 891.8,1347.5 892.2,1347.1 892.6,1346.6 893.0,1346.2 893.4,1345.8 893.8,1345.3 894.2,1344.9 894.6,1344.5 895.0,1344.1 895.4,1343.7 895.8,1343.3 896.2,1342.9 896.6,1342.5 897.0,1342.1 897.4,1341.7 897.8,1341.4 898.2,1341.0 898.6,1340.7 899.0,1340.4 899.4,1340.1 899.8,1339.8 900.2,1339.5 900.6,1339.2 901.0,1339.0 901.4,1338.8 901.8,1338.5 902.2,1338.3 902.6,1338.1 903.0,1337.9 903.4,1337.7 903.8,1337.5 904.2,1337.4 904.6,1337.2 905.0,1337.0 905.4,1336.9 905.8,1336.7 906.2,1336.6 906.6,1336.5 907.0,1336.3 907.4,1336.2 907.8,1336.1 908.2,1336.0 908.6,1335.9 909.0,1335.7" fill="none" stroke="#0000ff" stroke-width="4.2" stroke-linejoin="round" stroke-linecap="butt" clip-path="url(#cL7)"/>
<path d="M342.1 1475.2V1617.1M525.2 1475.2V1617.1M708.3 1475.2V1617.1M891.4 1475.2V1617.1M159.0 1546.2H909.0" stroke="#dedede" stroke-width="3.7" fill="none"/>
<path d="M342.1 1617.1v-9.0M342.1 1475.2v9.0M525.2 1617.1v-9.0M525.2 1475.2v9.0M708.3 1617.1v-9.0M708.3 1475.2v9.0M891.4 1617.1v-9.0M891.4 1475.2v9.0M159.0 1546.2h9.0M909.0 1546.2h-9.0" stroke="#262626" stroke-width="3.7" fill="none"/>
<rect x="159.0" y="1475.2" width="750.0" height="141.9" stroke="#262626" stroke-width="3.7" fill="none"/>
<polyline points="159.0,1602.0 159.4,1602.0 159.8,1602.0 160.2,1601.9 160.6,1601.9 161.0,1601.8 161.4,1601.8 161.8,1601.7 162.2,1601.7 162.6,1601.6 163.0,1601.6 163.4,1601.5 163.8,1601.5 164.2,1601.4 164.6,1601.4 165.0,1601.3 165.4,1601.3 165.8,1601.2 166.2,1601.1 166.6,1601.1 167.0,1601.0 167.4,1601.0 167.8,1600.9 168.2,1600.8 168.6,1600.8 169.0,1600.7 169.4,1600.6 169.8,1600.6 170.2,1600.5 170.6,1600.4 171.0,1600.3 171.4,1600.3 171.8,1600.2 172.2,1600.1 172.6,1600.0 173.0,1599.9 173.4,1599.9 173.8,1599.8 174.2,1599.7 174.6,1599.6 175.0,1599.5 175.4,1599.4 175.8,1599.3 176.2,1599.2 176.6,1599.1 177.0,1599.0 177.4,1598.9 177.8,1598.8 178.2,1598.6 178.6,1598.5 179.0,1598.4 179.4,1598.3 179.8,1598.2 180.2,1598.0 180.6,1597.9 181.0,1597.8 181.4,1597.6 181.8,1597.5 182.2,1597.4 182.6,1597.2 183.0,1597.1 183.4,1596.9 183.8,1596.8 184.2,1596.6 184.6,1596.5 185.0,1596.3 185.4,1596.2 185.8,1596.0 186.2,1595.8 186.6,1595.7 187.0,1595.5 187.4,1595.3 187.8,1595.1 188.2,1595.0 188.6,1594.8 189.0,1594.6 189.4,1594.4 189.8,1594.2 190.2,1594.0 190.6,1593.8 191.0,1593.6 191.4,1593.4 191.8,1593.2 192.2,1593.0 192.6,1592.8 193.0,1592.6 193.4,1592.4 193.8,1592.2 194.2,1592.0 194.6,1591.8 195.0,1591.6 195.4,1591.3 195.8,1591.1 196.2,1590.9 196.6,1590.7 197.0,1590.4 197.4,1590.2 197.8,1590.0 198.2,1589.7 198.6,1589.5 199.0,1589.2 199.4,1589.0 199.8,1588.8 200.2,1588.5 200.6,1588.3 201.0,1588.0 201.4,1587.7 201.8,1587.5 202.2,1587.2 202.6,1587.0 203.0,1586.7 203.4,1586.5 203.8,1586.2 204.2,1585.9 204.6,1585.7 205.0,1585.4 205.4,1585.1 205.8,1584.8 206.2,1584.6 206.6,1584.3 207.0,1584.0 207.4,1583.7 207.8,1583.4 208.2,1583.2 208.6,1582.9 209.0,1582.6 209.4,1582.3 209.8,1582.0 210.2,1581.7 210.6,1581.4 211.0,1581.1 211.4,1580.8 211.8,1580.5 212.2,1580.2 212.6,1579.9 213.0,1579.6 213.4,1579.3 213.8,1579.0 214.2,1578.7 214.6,1578.4 215.0,1578.0 215.4,1577.7 215.8,1577.4 216.2,1577.1 216.6,1576.8 217.0,1576.4 217.4,1576.1 217.8,1575.8 218.2,1575.5 218.6,1575.1 219.0,1574.8 219.4,1574.5 219.8,1574.1 220.2,1573.8 220.6,1573.5 221.0,1573.1 221.4,1572.8 221.8,1572.5 222.2,1572.1 222.6,1571.8 223.0,1571.4 223.4,1571.1 223.8,1570.8 224.2,1570.4 224.6,1570.1 225.0,1569.7 225.4,1569.4 225.8,1569.0 226.2,1568.7 226.6,1568.3 227.0,1568.0 227.4,1567.6 227.8,1567.3 228.2,1566.9 228.6,1566.5 229.0,1566.2 229.4,1565.8 229.8,1565.5 230.2,1565.1 230.6,1564.8 231.0,1564.4 231.4,1564.0 231.8,1563.7 232.2,1563.3 232.6,1562.9 233.0,1562.6 233.4,1562.2 233.8,1561.9 234.2,1561.5 234.6,1561.1 235.0,1560.8 235.4,1560.4 235.8,1560.0 236.2,1559.7 236.6,1559.3 237.0,1558.9 237.4,1558.5 237.8,1558.2 238.2,1557.8 238.6,1557.4 239.0,1557.0 239.4,1556.7 239.8,1556.3 240.2,1555.9 240.6,1555.5 241.0,1555.2 241.4,1554.8 241.8,1554.4 242.2,1554.0 242.6,1553.6 243.0,1553.2 243.4,1552.8 243.8,1552.4 244.2,1552.1 244.6,1551.7 245.0,1551.3 245.4,1550.9 245.8,1550.5 246.2,1550.1 246.6,1549.7 247.0,1549.3 247.4,1548.9 247.8,1548.5 248.2,1548.1 248.6,1547.7 249.0,1547.2 249.4,1546.8 249.8,1546.4 250.2,1546.0 250.6,1545.6 251.0,1545.2 251.4,1544.8 251.8,1544.4 252.2,1544.0 252.6,1543.5 253.0,1543.1 253.4,1542.7 253.8,1542.3 254.2,1541.9 254.6,1541.5 255.0,1541.1 255.4,1540.6 255.8,1540.2 256.2,1539.8 256.6,1539.4 257.0,1539.0 257.4,1538.6 257.8,1538.2 258.2,1537.8 258.6,1537.3 259.0,1536.9 259.4,1536.5 259.8,1536.1 260.2,1535.7 260.6,1535.3 261.0,1534.9 261.4,1534.5 261.8,1534.1 262.2,1533.7 262.6,1533.3 263.0,1532.9 263.4,1532.5 263.8,1532.1 264.2,1531.7 264.6,1531.3 265.0,1530.9 265.4,1530.5 265.8,1530.1 266.2,1529.7 266.6,1529.3 267.0,1528.9 267.4,1528.5 267.8,1528.1 268.2,1527.7 268.6,1527.3 269.0,1526.9 269.4,1526.6 269.8,1526.2 270.2,1525.8 270.6,1525.4 271.0,1525.0 271.4,1524.6 271.8,1524.2 272.2,1523.9 272.6,1523.5 273.0,1523.1 273.4,1522.7 273.8,1522.3 274.2,1522.0 274.6,1521.6 275.0,1521.2 275.4,1520.8 275.8,1520.5 276.2,1520.1 276.6,1519.7 277.0,1519.4 277.4,1519.0 277.8,1518.6 278.2,1518.3 278.6,1517.9 279.0,1517.6 279.4,1517.2 279.8,1516.8 280.2,1516.5 280.6,1516.1 281.0,1515.8 281.4,1515.4 281.8,1515.1 282.2,1514.8 282.6,1514.4 283.0,1514.1 283.4,1513.7 283.8,1513.4 284.2,1513.1 284.6,1512.7 285.0,1512.4 285.4,1512.1 285.8,1511.8 286.2,1511.4 286.6,1511.1 287.0,1510.8 287.4,1510.5 287.8,1510.2 288.2,1509.9 288.6,1509.6 289.0,1509.3 289.4,1509.0 289.8,1508.7 290.2,1508.4 290.6,1508.1 291.0,1507.8 291.4,1507.5 291.8,1507.2 292.2,1507.0 292.6,1506.7 293.0,1506.4 293.4,1506.1 293.8,1505.9 294.2,1505.6 294.6,1505.3 295.0,1505.1 295.4,1504.8 295.8,1504.6 296.2,1504.3 296.6,1504.1 297.0,1503.8 297.4,1503.6 297.8,1503.3 298.2,1503.1 298.6,1502.9 299.0,1502.6 299.4,1502.4 299.8,1502.2 300.2,1502.0 300.6,1501.8 301.0,1501.6 301.4,1501.3 301.8,1501.1 302.2,1500.9 302.6,1500.7 303.0,1500.5 303.4,1500.3 303.8,1500.2 304.2,1500.0 304.6,1499.8 305.0,1499.6 305.4,1499.4 305.8,1499.3 306.2,1499.1 306.6,1498.9 307.0,1498.8 307.4,1498.6 307.8,1498.4 308.2,1498.3 308.6,1498.1 309.0,1498.0 309.4,1497.8 309.8,1497.7 310.2,1497.5 310.6,1497.4 311.0,1497.3 311.4,1497.1 311.8,1497.0 312.2,1496.9 312.6,1496.8 313.0,1496.7 313.4,1496.5 313.8,1496.4 314.2,1496.3 314.6,1496.2 315.0,1496.1 315.4,1496.0 315.8,1495.9 316.2,1495.8 316.6,1495.7 317.0,1495.6 317.4,1495.6 317.8,1495.5 318.2,1495.4 318.6,1495.3 319.0,1495.3 319.4,1495.2 319.8,1495.1 320.2,1495.1 320.6,1495.0 321.0,1494.9 321.4,1494.9 321.8,1494.9 322.2,1494.8 322.6,1494.8 323.0,1494.7 323.4,1494.7 323.8,1494.7 324.2,1494.6 324.6,1494.6 325.0,1494.6 325.4,1494.6 325.8,1494.6 326.2,1494.6 326.6,1494.6 327.0,1494.6 327.4,1494.6 327.8,1494.6 328.2,1494.6 328.6,1494.6 329.0,1494.6 329.4,1494.7 329.8,1494.7 330.2,1494.7 330.6,1494.8 331.0,1494.8 331.4,1494.9 331.8,1494.9 332.2,1495.0 332.6,1495.0 333.0,1495.1 333.4,1495.2 333.8,1495.2 334.2,1495.3 334.6,1495.4 335.0,1495.5 335.4,1495.6 335.8,1495.7 336.2,1495.8 336.6,1495.9 337.0,1496.0 337.4,1496.2 337.8,1496.3 338.2,1496.4 338.6,1496.6 339.0,1496.7 339.4,1496.8 339.8,1497.0 340.2,1497.2 340.6,1497.3 341.0,1497.5 341.4,1497.7 341.8,1497.8 342.2,1498.0 342.6,1498.2 343.0,1498.4 343.4,1498.6 343.8,1498.8 344.2,1499.0 344.6,1499.2 345.0,1499.5 345.4,1499.7 345.8,1499.9 346.2,1500.1 346.6,1500.4 347.0,1500.6 347.4,1500.9 347.8,1501.1 348.2,1501.4 348.6,1501.6 349.0,1501.9 349.4,1502.2 349.8,1502.4 350.2,1502.7 350.6,1503.0 351.0,1503.3 351.4,1503.6 351.8,1503.9 352.2,1504.2 352.6,1504.5 353.0,1504.8 353.4,1505.1 353.8,1505.4 354.2,1505.7 354.6,1506.0 355.0,1506.3 355.4,1506.7 355.8,1507.0 356.2,1507.3 356.6,1507.7 357.0,1508.0 357.4,1508.4 357.8,1508.7 358.2,1509.0 358.6,1509.4 359.0,1509.7 359.4,1510.1 359.8,1510.5 360.2,1510.8 360.6,1511.2 361.0,1511.6 361.4,1511.9 361.8,1512.3 362.2,1512.7 362.6,1513.0 363.0,1513.4 363.4,1513.8 363.8,1514.2 364.2,1514.5 364.6,1514.9 365.0,1515.3 365.4,1515.7 365.8,1516.1 366.2,1516.5 366.6,1516.9 367.0,1517.2 367.4,1517.6 367.8,1518.0 368.2,1518.4 368.6,1518.8 369.0,1519.2 369.4,1519.6 369.8,1520.0 370.2,1520.4 370.6,1520.8 371.0,1521.2 371.4,1521.6 371.8,1522.0 372.2,1522.3 372.6,1522.7 373.0,1523.1 373.4,1523.5 373.8,1523.9 374.2,1524.3 374.6,1524.7 375.0,1525.1 375.4,1525.5 375.8,1525.9 376.2,1526.3 376.6,1526.7 377.0,1527.1 377.4,1527.4 377.8,1527.8 378.2,1528.2 378.6,1528.6 379.0,1529.0 379.4,1529.4 379.8,1529.8 380.2,1530.2 380.6,1530.5 381.0,1530.9 381.4,1531.3 381.8,1531.7 382.2,1532.1 382.6,1532.5 383.0,1532.8 383.4,1533.2 383.8,1533.6 384.2,1534.0 384.6,1534.3 385.0,1534.7 385.4,1535.1 385.8,1535.5 386.2,1535.8 386.6,1536.2 387.0,1536.6 387.4,1536.9 387.8,1537.3 388.2,1537.7 388.6,1538.0 389.0,1538.4 389.4,1538.7 389.8,1539.1 390.2,1539.4 390.6,1539.8 391.0,1540.1 391.4,1540.5 391.8,1540.8 392.2,1541.2 392.6,1541.5 393.0,1541.8 393.4,1542.2 393.8,1542.5 394.2,1542.8 394.6,1543.2 395.0,1543.5 395.4,1543.8 395.8,1544.1 396.2,1544.4 396.6,1544.7 397.0,1545.0 397.4,1545.3 397.8,1545.6 398.2,1545.9 398.6,1546.2 399.0,1546.5 399.4,1546.8 399.8,1547.0 400.2,1547.3 400.6,1547.6 401.0,1547.8 401.4,1548.1 401.8,1548.4 402.2,1548.6 402.6,1548.9 403.0,1549.1 403.4,1549.4 403.8,1549.6 404.2,1549.9 404.6,1550.1 405.0,1550.3 405.4,1550.6 405.8,1550.8 406.2,1551.0 406.6,1551.2 407.0,1551.5 407.4,1551.7 407.8,1551.9 408.2,1552.1 408.6,1552.3 409.0,1552.5 409.4,1552.7 409.8,1552.9 410.2,1553.1 410.6,1553.3 411.0,1553.5 411.4,1553.7 411.8,1553.9 412.2,1554.1 412.6,1554.3 413.0,1554.5 413.4,1554.7 413.8,1554.8 414.2,1555.0 414.6,1555.2 415.0,1555.4 415.4,1555.6 415.8,1555.7 416.2,1555.9 416.6,1556.1 417.0,1556.2 417.4,1556.4 417.8,1556.6 418.2,1556.7 418.6,1556.9 419.0,1557.1 419.4,1557.2 419.8,1557.4 420.2,1557.6 420.6,1557.7 421.0,1557.9 421.4,1558.0 421.8,1558.2 422.2,1558.3 422.6,1558.5 423.0,1558.7 423.4,1558.8 423.8,1559.0 424.2,1559.1 424.6,1559.3 425.0,1559.4 425.4,1559.6 425.8,1559.7 426.2,1559.9 426.6,1560.0 427.0,1560.2 427.4,1560.3 427.8,1560.5 428.2,1560.6 428.6,1560.8 429.0,1560.9 429.4,1561.1 429.8,1561.2 430.2,1561.4 430.6,1561.5 431.0,1561.6 431.4,1561.8 431.8,1561.9 432.2,1562.1 432.6,1562.3 433.0,1562.4 433.4,1562.6 433.8,1562.7 434.2,1562.9 434.6,1563.0 435.0,1563.2 435.4,1563.3 435.8,1563.5 436.2,1563.7 436.6,1563.8 437.0,1564.0 437.4,1564.2 437.8,1564.3 438.2,1564.5 438.6,1564.7 439.0,1564.9 439.4,1565.1 439.8,1565.2 440.2,1565.4 440.6,1565.6 441.0,1565.8 441.4,1566.0 441.8,1566.2 442.2,1566.4 442.6,1566.6 443.0,1566.8 443.4,1567.0 443.8,1567.3 444.2,1567.5 444.6,1567.7 445.0,1567.9 445.4,1568.2 445.8,1568.4 446.2,1568.6 446.6,1568.9 447.0,1569.1 447.4,1569.4 447.8,1569.7 448.2,1569.9 448.6,1570.2 449.0,1570.5 449.4,1570.7 449.8,1571.0 450.2,1571.3 450.6,1571.6 451.0,1571.9 451.4,1572.2 451.8,1572.5 452.2,1572.8 452.6,1573.1 453.0,1573.4 453.4,1573.7 453.8,1574.0 454.2,1574.3 454.6,1574.6 455.0,1574.9 455.4,1575.3 455.8,1575.6 456.2,1575.9 456.6,1576.3 457.0,1576.6 457.4,1576.9 457.8,1577.2 458.2,1577.6 458.6,1577.9 459.0,1578.2 459.4,1578.6 459.8,1578.9 460.2,1579.3 460.6,1579.6 461.0,1579.9 461.4,1580.2 461.8,1580.6 462.2,1580.9 462.6,1581.2 463.0,1581.6 463.4,1581.9 463.8,1582.2 464.2,1582.5 464.6,1582.9 465.0,1583.2 465.4,1583.5 465.8,1583.8 466.2,1584.1 466.6,1584.4 467.0,1584.7 467.4,1585.0 467.8,1585.3 468.2,1585.6 468.6,1585.9 469.0,1586.2 469.4,1586.5 469.8,1586.8 470.2,1587.1 470.6,1587.3 471.0,1587.6 471.4,1587.9 471.8,1588.1 472.2,1588.4 472.6,1588.6 473.0,1588.9 473.4,1589.1 473.8,1589.4 474.2,1589.6 474.6,1589.8 475.0,1590.1 475.4,1590.3 475.8,1590.5 476.2,1590.7 476.6,1590.9 477.0,1591.1 477.4,1591.3 477.8,1591.5 478.2,1591.7 478.6,1591.8 479.0,1592.0 479.4,1592.2 479.8,1592.3 480.2,1592.5 480.6,1592.6 481.0,1592.8 481.4,1592.9 481.8,1593.0 482.2,1593.1 482.6,1593.3 483.0,1593.4 483.4,1593.5 483.8,1593.6 484.2,1593.6 484.6,1593.7 485.0,1593.8 485.4,1593.9 485.8,1593.9 486.2,1594.0 486.6,1594.0 487.0,1594.1 487.4,1594.1 487.8,1594.1 488.2,1594.1 488.6,1594.2 489.0,1594.2 489.4,1594.2 489.8,1594.2 490.2,1594.2 490.6,1594.1 491.0,1594.1 491.4,1594.1 491.8,1594.0 492.2,1594.0 492.6,1593.9 493.0,1593.9 493.4,1593.8 493.8,1593.8 494.2,1593.7 494.6,1593.6 495.0,1593.5 495.4,1593.4 495.8,1593.3 496.2,1593.2 496.6,1593.1 497.0,1593.0 497.4,1592.8 497.8,1592.7 498.2,1592.6 498.6,1592.4 499.0,1592.2 499.4,1592.1 499.8,1591.9 500.2,1591.7 500.6,1591.5 501.0,1591.4 501.4,1591.2 501.8,1590.9 502.2,1590.7 502.6,1590.5 503.0,1590.3 503.4,1590.1 503.8,1589.8 504.2,1589.6 504.6,1589.3 505.0,1589.1 505.4,1588.8 505.8,1588.5 506.2,1588.2 506.6,1588.0 507.0,1587.7 507.4,1587.4 507.8,1587.1 508.2,1586.8 508.6,1586.4 509.0,1586.1 509.4,1585.8 509.8,1585.4 510.2,1585.1 510.6,1584.8 511.0,1584.4 511.4,1584.0 511.8,1583.7 512.2,1583.3 512.6,1582.9 513.0,1582.6 513.4,1582.2 513.8,1581.8 514.2,1581.4 514.6,1581.0 515.0,1580.6 515.4,1580.2 515.8,1579.7 516.2,1579.3 516.6,1578.9 517.0,1578.5 517.4,1578.0 517.8,1577.6 518.2,1577.1 518.6,1576.7 519.0,1576.2 519.4,1575.7 519.8,1575.3 520.2,1574.8 520.6,1574.3 521.0,1573.8 521.4,1573.3 521.8,1572.9 522.2,1572.4 522.6,1571.8 523.0,1571.3 523.4,1570.8 523.8,1570.3 524.2,1569.8 524.6,1569.2 525.0,1568.7 525.4,1568.1 525.8,1567.6 526.2,1567.0 526.6,1566.5 527.0,1565.9 527.4,1565.3 527.8,1564.8 528.2,1564.2 528.6,1563.6 529.0,1563.0 529.4,1562.4 529.8,1561.8 530.2,1561.2 530.6,1560.6 531.0,1560.0 531.4,1559.4 531.8,1558.8 532.2,1558.2 532.6,1557.6 533.0,1556.9 533.4,1556.3 533.8,1555.7 534.2,1555.1 534.6,1554.4 535.0,1553.8 535.4,1553.2 535.8,1552.6 536.2,1551.9 536.6,1551.3 537.0,1550.7 537.4,1550.0 537.8,1549.4 538.2,1548.8 538.6,1548.1 539.0,1547.5 539.4,1546.9 539.8,1546.2 540.2,1545.6 540.6,1545.0 541.0,1544.3 541.4,1543.7 541.8,1543.0 542.2,1542.4 542.6,1541.7 543.0,1541.1 543.4,1540.5 543.8,1539.8 544.2,1539.2 544.6,1538.5 545.0,1537.8 545.4,1537.2 545.8,1536.5 546.2,1535.9 546.6,1535.2 547.0,1534.5 547.4,1533.9 547.8,1533.2 548.2,1532.6 548.6,1531.9 549.0,1531.2 549.4,1530.6 549.8,1529.9 550.2,1529.2 550.6,1528.6 551.0,1527.9 551.4,1527.2 551.8,1526.6 552.2,1525.9 552.6,1525.3 553.0,1524.6 553.4,1524.0 553.8,1523.3 554.2,1522.7 554.6,1522.0 555.0,1521.4 555.4,1520.7 555.8,1520.1 556.2,1519.5 556.6,1518.9 557.0,1518.2 557.4,1517.6 557.8,1517.0 558.2,1516.4 558.6,1515.8 559.0,1515.2 559.4,1514.6 559.8,1514.0 560.2,1513.5 560.6,1512.9 561.0,1512.3 561.4,1511.8 561.8,1511.2 562.2,1510.7 562.6,1510.2 563.0,1509.6 563.4,1509.1 563.8,1508.6 564.2,1508.1 564.6,1507.6 565.0,1507.1 565.4,1506.6 565.8,1506.1 566.2,1505.7 566.6,1505.2 567.0,1504.8 567.4,1504.3 567.8,1503.9 568.2,1503.4 568.6,1503.0 569.0,1502.6 569.4,1502.2 569.8,1501.8 570.2,1501.4 570.6,1501.0 571.0,1500.7 571.4,1500.3 571.8,1499.9 572.2,1499.6 572.6,1499.2 573.0,1498.9 573.4,1498.6 573.8,1498.3 574.2,1498.0 574.6,1497.7 575.0,1497.4 575.4,1497.1 575.8,1496.8 576.2,1496.6 576.6,1496.3 577.0,1496.1 577.4,1495.8 577.8,1495.6 578.2,1495.4 578.6,1495.2 579.0,1495.0 579.4,1494.8 579.8,1494.7 580.2,1494.5 580.6,1494.3 581.0,1494.2 581.4,1494.1 581.8,1494.0 582.2,1493.8 582.6,1493.8 583.0,1493.7 583.4,1493.6 583.8,1493.5 584.2,1493.5 584.6,1493.4 585.0,1493.4 585.4,1493.4 585.8,1493.4 586.2,1493.4 586.6,1493.4 587.0,1493.5 587.4,1493.5 587.8,1493.6 588.2,1493.7 588.6,1493.8 589.0,1493.9 589.4,1494.0 589.8,1494.1 590.2,1494.3 590.6,1494.4 591.0,1494.6 591.4,1494.8 591.8,1495.0 592.2,1495.2 592.6,1495.4 593.0,1495.7 593.4,1495.9 593.8,1496.2 594.2,1496.5 594.6,1496.8 595.0,1497.1 595.4,1497.4 595.8,1497.8 596.2,1498.1 596.6,1498.5 597.0,1498.9 597.4,1499.3 597.8,1499.7 598.2,1500.1 598.6,1500.6 599.0,1501.0 599.4,1501.5 599.8,1502.0 600.2,1502.5 600.6,1503.0 601.0,1503.6 601.4,1504.1 601.8,1504.7 602.2,1505.3 602.6,1505.9 603.0,1506.5 603.4,1507.1 603.8,1507.7 604.2,1508.4 604.6,1509.0 605.0,1509.7 605.4,1510.4 605.8,1511.1 606.2,1511.8 606.6,1512.5 607.0,1513.2 607.4,1513.9 607.8,1514.7 608.2,1515.5 608.6,1516.2 609.0,1517.0 609.4,1517.8 609.8,1518.6 610.2,1519.4 610.6,1520.2 611.0,1521.0 611.4,1521.9 611.8,1522.7 612.2,1523.6 612.6,1524.4 613.0,1525.3 613.4,1526.1 613.8,1527.0 614.2,1527.9 614.6,1528.8 615.0,1529.7 615.4,1530.6 615.8,1531.4 616.2,1532.3 616.6,1533.3 617.0,1534.2 617.4,1535.1 617.8,1536.0 618.2,1536.9 618.6,1537.8 619.0,1538.7 619.4,1539.7 619.8,1540.6 620.2,1541.5 620.6,1542.4 621.0,1543.3 621.4,1544.3 621.8,1545.2 622.2,1546.1 622.6,1547.0 623.0,1547.9 623.4,1548.9 623.8,1549.8 624.2,1550.7 624.6,1551.6 625.0,1552.5 625.4,1553.4 625.8,1554.3 626.2,1555.2 626.6,1556.1 627.0,1557.0 627.4,1557.8 627.8,1558.7 628.2,1559.6 628.6,1560.5 629.0,1561.3 629.4,1562.2 629.8,1563.0 630.2,1563.9 630.6,1564.7 631.0,1565.6 631.4,1566.4 631.8,1567.2 632.2,1568.0 632.6,1568.8 633.0,1569.6 633.4,1570.4 633.8,1571.2 634.2,1572.0 634.6,1572.7 635.0,1573.5 635.4,1574.3 635.8,1575.0 636.2,1575.7 636.6,1576.5 637.0,1577.2 637.4,1577.9 637.8,1578.6 638.2,1579.3 638.6,1580.0 639.0,1580.6 639.4,1581.3 639.8,1581.9 640.2,1582.6 640.6,1583.2 641.0,1583.8 641.4,1584.4 641.8,1585.0 642.2,1585.6 642.6,1586.2 643.0,1586.8 643.4,1587.3 643.8,1587.9 644.2,1588.4 644.6,1588.9 645.0,1589.4 645.4,1589.9 645.8,1590.4 646.2,1590.8 646.6,1591.3 647.0,1591.7 647.4,1592.2 647.8,1592.6 648.2,1593.0 648.6,1593.4 649.0,1593.8 649.4,1594.1 649.8,1594.5 650.2,1594.8 650.6,1595.1 651.0,1595.5 651.4,1595.8 651.8,1596.0 652.2,1596.3 652.6,1596.6 653.0,1596.8 653.4,1597.1 653.8,1597.3 654.2,1597.5 654.6,1597.7 655.0,1597.9 655.4,1598.0 655.8,1598.2 656.2,1598.3 656.6,1598.5 657.0,1598.6 657.4,1598.7 657.8,1598.8 658.2,1598.9 658.6,1598.9 659.0,1599.0 659.4,1599.0 659.8,1599.1 660.2,1599.1 660.6,1599.1 661.0,1599.1 661.4,1599.1 661.8,1599.0 662.2,1599.0 662.6,1598.9 663.0,1598.8 663.4,1598.8 663.8,1598.7 664.2,1598.5 664.6,1598.4 665.0,1598.3 665.4,1598.1 665.8,1598.0 666.2,1597.8 666.6,1597.6 667.0,1597.4 667.4,1597.2 667.8,1596.9 668.2,1596.7 668.6,1596.4 669.0,1596.1 669.4,1595.8 669.8,1595.5 670.2,1595.2 670.6,1594.9 671.0,1594.5 671.4,1594.2 671.8,1593.8 672.2,1593.4 672.6,1593.0 673.0,1592.6 673.4,1592.1 673.8,1591.7 674.2,1591.2 674.6,1590.7 675.0,1590.2 675.4,1589.7 675.8,1589.2 676.2,1588.6 676.6,1588.1 677.0,1587.5 677.4,1586.9 677.8,1586.4 678.2,1585.7 678.6,1585.1 679.0,1584.5 679.4,1583.8 679.8,1583.2 680.2,1582.5 680.6,1581.8 681.0,1581.1 681.4,1580.4 681.8,1579.7 682.2,1578.9 682.6,1578.2 683.0,1577.4 683.4,1576.6 683.8,1575.8 684.2,1575.0 684.6,1574.2 685.0,1573.4 685.4,1572.5 685.8,1571.7 686.2,1570.8 686.6,1570.0 687.0,1569.1 687.4,1568.2 687.8,1567.3 688.2,1566.4 688.6,1565.5 689.0,1564.6 689.4,1563.7 689.8,1562.7 690.2,1561.8 690.6,1560.8 691.0,1559.9 691.4,1558.9 691.8,1558.0 692.2,1557.0 692.6,1556.0 693.0,1555.1 693.4,1554.1 693.8,1553.1 694.2,1552.1 694.6,1551.1 695.0,1550.2 695.4,1549.2 695.8,1548.2 696.2,1547.2 696.6,1546.2 697.0,1545.2 697.4,1544.3 697.8,1543.3 698.2,1542.3 698.6,1541.4 699.0,1540.4 699.4,1539.4 699.8,1538.5 700.2,1537.5 700.6,1536.6 701.0,1535.7 701.4,1534.7 701.8,1533.8 702.2,1532.9 702.6,1532.0 703.0,1531.1 703.4,1530.2 703.8,1529.3 704.2,1528.4 704.6,1527.6 705.0,1526.7 705.4,1525.9 705.8,1525.0 706.2,1524.2 706.6,1523.4 707.0,1522.6 707.4,1521.8 707.8,1521.0 708.2,1520.2 708.6,1519.5 709.0,1518.7 709.4,1518.0 709.8,1517.3 710.2,1516.6 710.6,1515.9 711.0,1515.2 711.4,1514.5 711.8,1513.9 712.2,1513.2 712.6,1512.6 713.0,1512.0 713.4,1511.4 713.8,1510.8 714.2,1510.2 714.6,1509.6 715.0,1509.1 715.4,1508.6 715.8,1508.0 716.2,1507.5 716.6,1507.0 717.0,1506.6 717.4,1506.1 717.8,1505.7 718.2,1505.2 718.6,1504.8 719.0,1504.4 719.4,1504.0 719.8,1503.6 720.2,1503.3 720.6,1502.9 721.0,1502.6 721.4,1502.2 721.8,1501.9 722.2,1501.6 722.6,1501.3 723.0,1501.1 723.4,1500.8 723.8,1500.6 724.2,1500.3 724.6,1500.1 725.0,1499.9 725.4,1499.7 725.8,1499.6 726.2,1499.4 726.6,1499.2 727.0,1499.1 727.4,1499.0 727.8,1498.8 728.2,1498.7 728.6,1498.7 729.0,1498.6 729.4,1498.5 729.8,1498.4 730.2,1498.4 730.6,1498.4 731.0,1498.3 731.4,1498.3 731.8,1498.3 732.2,1498.3 732.6,1498.4 733.0,1498.4 733.4,1498.4 733.8,1498.5 734.2,1498.6 734.6,1498.7 735.0,1498.8 735.4,1498.9 735.8,1499.0 736.2,1499.1 736.6,1499.3 737.0,1499.4 737.4,1499.6 737.8,1499.8 738.2,1499.9 738.6,1500.2 739.0,1500.4 739.4,1500.6 739.8,1500.8 740.2,1501.1 740.6,1501.4 741.0,1501.7 741.4,1501.9 741.8,1502.3 742.2,1502.6 742.6,1502.9 743.0,1503.3 743.4,1503.6 743.8,1504.0 744.2,1504.4 744.6,1504.8 745.0,1505.2 745.4,1505.6 745.8,1506.1 746.2,1506.5 746.6,1507.0 747.0,1507.4 747.4,1507.9 747.8,1508.4 748.2,1508.9 748.6,1509.5 749.0,1510.0 749.4,1510.5 749.8,1511.1 750.2,1511.6 750.6,1512.2 751.0,1512.8 751.4,1513.4 751.8,1514.0 752.2,1514.6 752.6,1515.2 753.0,1515.9 753.4,1516.5 753.8,1517.2 754.2,1517.8 754.6,1518.5 755.0,1519.2 755.4,1519.9 755.8,1520.6 756.2,1521.3 756.6,1522.0 757.0,1522.7 757.4,1523.4 757.8,1524.2 758.2,1524.9 758.6,1525.6 759.0,1526.4 759.4,1527.1 759.8,1527.9 760.2,1528.7 760.6,1529.4 761.0,1530.2 761.4,1531.0 761.8,1531.8 762.2,1532.6 762.6,1533.4 763.0,1534.2 763.4,1535.0 763.8,1535.8 764.2,1536.6 764.6,1537.4 765.0,1538.2 765.4,1539.0 765.8,1539.8 766.2,1540.6 766.6,1541.5 767.0,1542.3 767.4,1543.1 767.8,1543.9 768.2,1544.7 768.6,1545.5 769.0,1546.3 769.4,1547.2 769.8,1548.0 770.2,1548.8 770.6,1549.6 771.0,1550.4 771.4,1551.2 771.8,1552.0 772.2,1552.8 772.6,1553.6 773.0,1554.3 773.4,1555.1 773.8,1555.9 774.2,1556.6 774.6,1557.4 775.0,1558.1 775.4,1558.9 775.8,1559.6 776.2,1560.4 776.6,1561.1 777.0,1561.8 777.4,1562.5 777.8,1563.2 778.2,1563.9 778.6,1564.6 779.0,1565.2 779.4,1565.9 779.8,1566.5 780.2,1567.2 780.6,1567.8 781.0,1568.4 781.4,1569.0 781.8,1569.6 782.2,1570.2 782.6,1570.8 783.0,1571.3 783.4,1571.9 783.8,1572.4 784.2,1572.9 784.6,1573.5 785.0,1574.0 785.4,1574.5 785.8,1574.9 786.2,1575.4 786.6,1575.8 787.0,1576.3 787.4,1576.7 787.8,1577.1 788.2,1577.5 788.6,1577.9 789.0,1578.3 789.4,1578.6 789.8,1579.0 790.2,1579.3 790.6,1579.7 791.0,1580.0 791.4,1580.3 791.8,1580.5 792.2,1580.8 792.6,1581.1 793.0,1581.3 793.4,1581.5 793.8,1581.8 794.2,1582.0 794.6,1582.2 795.0,1582.3 795.4,1582.5 795.8,1582.7 796.2,1582.8 796.6,1583.0 797.0,1583.1 797.4,1583.2 797.8,1583.3 798.2,1583.4 798.6,1583.5 799.0,1583.5 799.4,1583.6 799.8,1583.6 800.2,1583.7 800.6,1583.7 801.0,1583.7 801.4,1583.7 801.8,1583.7 802.2,1583.7 802.6,1583.7 803.0,1583.6 803.4,1583.6 803.8,1583.5 804.2,1583.5 804.6,1583.4 805.0,1583.3 805.4,1583.2 805.8,1583.1 806.2,1583.0 806.6,1582.9 807.0,1582.7 807.4,1582.6 807.8,1582.4 808.2,1582.3 808.6,1582.1 809.0,1581.9 809.4,1581.7 809.8,1581.5 810.2,1581.3 810.6,1581.1 811.0,1580.9 811.4,1580.7 811.8,1580.4 812.2,1580.2 812.6,1579.9 813.0,1579.6 813.4,1579.3 813.8,1579.1 814.2,1578.8 814.6,1578.5 815.0,1578.1 815.4,1577.8 815.8,1577.5 816.2,1577.1 816.6,1576.8 817.0,1576.4 817.4,1576.1 817.8,1575.7 818.2,1575.3 818.6,1574.9 819.0,1574.6 819.4,1574.2 819.8,1573.7 820.2,1573.3 820.6,1572.9 821.0,1572.5 821.4,1572.0 821.8,1571.6 822.2,1571.2 822.6,1570.7 823.0,1570.2 823.4,1569.8 823.8,1569.3 824.2,1568.8 824.6,1568.3 825.0,1567.9 825.4,1567.4 825.8,1566.9 826.2,1566.4 826.6,1565.8 827.0,1565.3 827.4,1564.8 827.8,1564.3 828.2,1563.8 828.6,1563.2 829.0,1562.7 829.4,1562.2 829.8,1561.6 830.2,1561.1 830.6,1560.5 831.0,1560.0 831.4,1559.4 831.8,1558.8 832.2,1558.3 832.6,1557.7 833.0,1557.1 833.4,1556.6 833.8,1556.0 834.2,1555.4 834.6,1554.9 835.0,1554.3 835.4,1553.7 835.8,1553.1 836.2,1552.5 836.6,1551.9 837.0,1551.4 837.4,1550.8 837.8,1550.2 838.2,1549.6 838.6,1549.0 839.0,1548.4 839.4,1547.8 839.8,1547.2 840.2,1546.6 840.6,1546.1 841.0,1545.5 841.4,1544.9 841.8,1544.3 842.2,1543.7 842.6,1543.1 843.0,1542.6 843.4,1542.0 843.8,1541.4 844.2,1540.8 844.6,1540.3 845.0,1539.7 845.4,1539.1 845.8,1538.6 846.2,1538.0 846.6,1537.4 847.0,1536.9 847.4,1536.3 847.8,1535.8 848.2,1535.2 848.6,1534.7 849.0,1534.2 849.4,1533.6 849.8,1533.1 850.2,1532.6 850.6,1532.1 851.0,1531.5 851.4,1531.0 851.8,1530.5 852.2,1530.0 852.6,1529.5 853.0,1529.1 853.4,1528.6 853.8,1528.1 854.2,1527.6 854.6,1527.2 855.0,1526.7 855.4,1526.3 855.8,1525.8 856.2,1525.4 856.6,1525.0 857.0,1524.5 857.4,1524.1 857.8,1523.7 858.2,1523.3 858.6,1522.9 859.0,1522.5 859.4,1522.1 859.8,1521.8 860.2,1521.4 860.6,1521.0 861.0,1520.7 861.4,1520.3 861.8,1520.0 862.2,1519.7 862.6,1519.4 863.0,1519.0 863.4,1518.7 863.8,1518.4 864.2,1518.2 864.6,1517.9 865.0,1517.6 865.4,1517.3 865.8,1517.1 866.2,1516.8 866.6,1516.6 867.0,1516.4 867.4,1516.1 867.8,1515.9 868.2,1515.7 868.6,1515.5 869.0,1515.3 869.4,1515.1 869.8,1515.0 870.2,1514.8 870.6,1514.6 871.0,1514.5 871.4,1514.3 871.8,1514.2 872.2,1514.1 872.6,1513.9 873.0,1513.8 873.4,1513.7 873.8,1513.6 874.2,1513.5 874.6,1513.4 875.0,1513.3 875.4,1513.2 875.8,1513.1 876.2,1513.1 876.6,1513.0 877.0,1513.0 877.4,1512.9 877.8,1512.9 878.2,1512.8 878.6,1512.8 879.0,1512.8 879.4,1512.7 879.8,1512.7 880.2,1512.7 880.6,1512.7 881.0,1512.7 881.4,1512.7 881.8,1512.7 882.2,1512.7 882.6,1512.8 883.0,1512.8 883.4,1512.8 883.8,1512.9 884.2,1512.9 884.6,1512.9 885.0,1513.0 885.4,1513.1 885.8,1513.1 886.2,1513.2 886.6,1513.3 887.0,1513.3 887.4,1513.4 887.8,1513.5 888.2,1513.6 888.6,1513.7 889.0,1513.8 889.4,1513.9 889.8,1514.0 890.2,1514.1 890.6,1514.2 891.0,1514.4 891.4,1514.5 891.8,1514.6 892.2,1514.8 892.6,1514.9 893.0,1515.1 893.4,1515.2 893.8,1515.4 894.2,1515.5 894.6,1515.7 895.0,1515.9 895.4,1516.0 895.8,1516.2 896.2,1516.4 896.6,1516.6 897.0,1516.8 897.4,1517.0 897.8,1517.2 898.2,1517.4 898.6,1517.6 899.0,1517.8 899.4,1518.0 899.8,1518.2 900.2,1518.4 900.6,1518.6 901.0,1518.8 901.4,1519.1 901.8,1519.3 902.2,1519.5 902.6,1519.7 903.0,1520.0 903.4,1520.2 903.8,1520.4 904.2,1520.7 904.6,1520.9 905.0,1521.1 905.4,1521.4 905.8,1521.6 906.2,1521.9 906.6,1522.1 907.0,1522.4 907.4,1522.6 907.8,1522.9 908.2,1523.1 908.6,1523.3 909.0,1523.6" fill="none" stroke="#0000ff" stroke-width="4.2" stroke-linejoin="round" stroke-linecap="butt" clip-path="url(#cL8)"/>
<path d="M342.1 1673.0V1819.0M525.2 1673.0V1819.0M708.3 1673.0V1819.0M891.4 1673.0V1819.0M159.0 1746.0H909.0" stroke="#dedede" stroke-width="3.7" fill="none"/>
<path d="M342.1 1819.0v-9.0M342.1 1673.0v9.0M525.2 1819.0v-9.0M525.2 1673.0v9.0M708.3 1819.0v-9.0M708.3 1673.0v9.0M891.4 1819.0v-9.0M891.4 1673.0v9.0M159.0 1746.0h9.0M909.0 1746.0h-9.0" stroke="#262626" stroke-width="3.7" fill="none"/>
<rect x="159.0" y="1673.0" width="750.0" height="146.0" stroke="#262626" stroke-width="3.7" fill="none"/>
<polyline points="159.0,1751.1 159.4,1750.9 159.8,1750.7 160.2,1750.5 160.6,1750.3 161.0,1750.1 161.4,1749.9 161.8,1749.7 162.2,1749.5 162.6,1749.3 163.0,1749.1 163.4,1748.9 163.8,1748.7 164.2,1748.5 164.6,1748.2 165.0,1748.0 165.4,1747.8 165.8,1747.6 166.2,1747.4 166.6,1747.2 167.0,1747.0 167.4,1746.8 167.8,1746.6 168.2,1746.4 168.6,1746.2 169.0,1746.0 169.4,1745.8 169.8,1745.6 170.2,1745.4 170.6,1745.2 171.0,1745.0 171.4,1744.8 171.8,1744.6 172.2,1744.4 172.6,1744.2 173.0,1744.0 173.4,1743.8 173.8,1743.6 174.2,1743.4 174.6,1743.2 175.0,1743.0 175.4,1742.7 175.8,1742.5 176.2,1742.3 176.6,1742.1 177.0,1741.9 177.4,1741.7 177.8,1741.5 178.2,1741.3 178.6,1741.1 179.0,1740.9 179.4,1740.7 179.8,1740.5 180.2,1740.3 180.6,1740.1 181.0,1739.9 181.4,1739.7 181.8,1739.5 182.2,1739.3 182.6,1739.1 183.0,1738.8 183.4,1738.6 183.8,1738.4 184.2,1738.2 184.6,1738.0 185.0,1737.8 185.4,1737.6 185.8,1737.4 186.2,1737.2 186.6,1737.0 187.0,1736.8 187.4,1736.6 187.8,1736.4 188.2,1736.2 188.6,1735.9 189.0,1735.7 189.4,1735.5 189.8,1735.3 190.2,1735.1 190.6,1734.9 191.0,1734.7 191.4,1734.5 191.8,1734.3 192.2,1734.1 192.6,1733.9 193.0,1733.7 193.4,1733.5 193.8,1733.2 194.2,1733.0 194.6,1732.8 195.0,1732.6 195.4,1732.4 195.8,1732.2 196.2,1732.0 196.6,1731.8 197.0,1731.6 197.4,1731.4 197.8,1731.2 198.2,1731.0 198.6,1730.8 199.0,1730.6 199.4,1730.3 199.8,1730.1 200.2,1729.9 200.6,1729.7 201.0,1729.5 201.4,1729.3 201.8,1729.1 202.2,1728.9 202.6,1728.7 203.0,1728.5 203.4,1728.3 203.8,1728.1 204.2,1727.9 204.6,1727.7 205.0,1727.5 205.4,1727.3 205.8,1727.1 206.2,1726.9 206.6,1726.7 207.0,1726.4 207.4,1726.2 207.8,1726.0 208.2,1725.8 208.6,1725.6 209.0,1725.4 209.4,1725.2 209.8,1725.0 210.2,1724.8 210.6,1724.6 211.0,1724.4 211.4,1724.2 211.8,1724.0 212.2,1723.8 212.6,1723.6 213.0,1723.4 213.4,1723.2 213.8,1723.0 214.2,1722.8 214.6,1722.6 215.0,1722.4 215.4,1722.2 215.8,1722.0 216.2,1721.8 216.6,1721.6 217.0,1721.4 217.4,1721.2 217.8,1721.0 218.2,1720.8 218.6,1720.6 219.0,1720.4 219.4,1720.2 219.8,1720.0 220.2,1719.8 220.6,1719.6 221.0,1719.4 221.4,1719.2 221.8,1719.0 222.2,1718.8 222.6,1718.6 223.0,1718.4 223.4,1718.2 223.8,1718.0 224.2,1717.8 224.6,1717.6 225.0,1717.4 225.4,1717.2 225.8,1717.0 226.2,1716.8 226.6,1716.6 227.0,1716.4 227.4,1716.2 227.8,1716.0 228.2,1715.8 228.6,1715.6 229.0,1715.4 229.4,1715.2 229.8,1715.1 230.2,1714.9 230.6,1714.7 231.0,1714.5 231.4,1714.3 231.8,1714.1 232.2,1713.9 232.6,1713.7 233.0,1713.5 233.4,1713.3 233.8,1713.1 234.2,1712.9 234.6,1712.7 235.0,1712.5 235.4,1712.3 235.8,1712.1 236.2,1711.9 236.6,1711.7 237.0,1711.6 237.4,1711.4 237.8,1711.2 238.2,1711.0 238.6,1710.8 239.0,1710.6 239.4,1710.4 239.8,1710.2 240.2,1710.0 240.6,1709.8 241.0,1709.7 241.4,1709.5 241.8,1709.3 242.2,1709.1 242.6,1708.9 243.0,1708.7 243.4,1708.6 243.8,1708.4 244.2,1708.2 244.6,1708.0 245.0,1707.8 245.4,1707.7 245.8,1707.5 246.2,1707.3 246.6,1707.1 247.0,1706.9 247.4,1706.8 247.8,1706.6 248.2,1706.4 248.6,1706.3 249.0,1706.1 249.4,1705.9 249.8,1705.7 250.2,1705.6 250.6,1705.4 251.0,1705.2 251.4,1705.1 251.8,1704.9 252.2,1704.7 252.6,1704.6 253.0,1704.4 253.4,1704.2 253.8,1704.1 254.2,1703.9 254.6,1703.8 255.0,1703.6 255.4,1703.4 255.8,1703.3 256.2,1703.1 256.6,1703.0 257.0,1702.8 257.4,1702.6 257.8,1702.5 258.2,1702.3 258.6,1702.2 259.0,1702.0 259.4,1701.9 259.8,1701.7 260.2,1701.6 260.6,1701.4 261.0,1701.3 261.4,1701.1 261.8,1701.0 262.2,1700.8 262.6,1700.7 263.0,1700.5 263.4,1700.4 263.8,1700.2 264.2,1700.1 264.6,1699.9 265.0,1699.8 265.4,1699.7 265.8,1699.5 266.2,1699.4 266.6,1699.2 267.0,1699.1 267.4,1698.9 267.8,1698.8 268.2,1698.7 268.6,1698.5 269.0,1698.4 269.4,1698.2 269.8,1698.1 270.2,1698.0 270.6,1697.8 271.0,1697.7 271.4,1697.6 271.8,1697.4 272.2,1697.3 272.6,1697.2 273.0,1697.0 273.4,1696.9 273.8,1696.8 274.2,1696.6 274.6,1696.5 275.0,1696.4 275.4,1696.2 275.8,1696.1 276.2,1696.0 276.6,1695.8 277.0,1695.7 277.4,1695.6 277.8,1695.5 278.2,1695.3 278.6,1695.2 279.0,1695.1 279.4,1695.0 279.8,1694.9 280.2,1694.7 280.6,1694.6 281.0,1694.5 281.4,1694.4 281.8,1694.3 282.2,1694.1 282.6,1694.0 283.0,1693.9 283.4,1693.8 283.8,1693.7 284.2,1693.6 284.6,1693.5 285.0,1693.3 285.4,1693.2 285.8,1693.1 286.2,1693.0 286.6,1692.9 287.0,1692.8 287.4,1692.7 287.8,1692.6 288.2,1692.5 288.6,1692.4 289.0,1692.3 289.4,1692.2 289.8,1692.1 290.2,1692.0 290.6,1691.9 291.0,1691.8 291.4,1691.7 291.8,1691.6 292.2,1691.6 292.6,1691.5 293.0,1691.4 293.4,1691.3 293.8,1691.2 294.2,1691.1 294.6,1691.0 295.0,1691.0 295.4,1690.9 295.8,1690.8 296.2,1690.7 296.6,1690.6 297.0,1690.6 297.4,1690.5 297.8,1690.4 298.2,1690.3 298.6,1690.3 299.0,1690.2 299.4,1690.1 299.8,1690.0 300.2,1690.0 300.6,1689.9 301.0,1689.8 301.4,1689.8 301.8,1689.7 302.2,1689.6 302.6,1689.6 303.0,1689.5 303.4,1689.4 303.8,1689.4 304.2,1689.3 304.6,1689.2 305.0,1689.2 305.4,1689.1 305.8,1689.1 306.2,1689.0 306.6,1688.9 307.0,1688.9 307.4,1688.8 307.8,1688.8 308.2,1688.7 308.6,1688.7 309.0,1688.6 309.4,1688.6 309.8,1688.5 310.2,1688.5 310.6,1688.4 311.0,1688.4 311.4,1688.3 311.8,1688.3 312.2,1688.2 312.6,1688.2 313.0,1688.1 313.4,1688.1 313.8,1688.0 314.2,1688.0 314.6,1687.9 315.0,1687.9 315.4,1687.9 315.8,1687.8 316.2,1687.8 316.6,1687.7 317.0,1687.7 317.4,1687.7 317.8,1687.6 318.2,1687.6 318.6,1687.6 319.0,1687.5 319.4,1687.5 319.8,1687.5 320.2,1687.4 320.6,1687.4 321.0,1687.4 321.4,1687.3 321.8,1687.3 322.2,1687.3 322.6,1687.2 323.0,1687.2 323.4,1687.2 323.8,1687.2 324.2,1687.2 324.6,1687.1 325.0,1687.1 325.4,1687.1 325.8,1687.1 326.2,1687.1 326.6,1687.0 327.0,1687.0 327.4,1687.0 327.8,1687.0 328.2,1687.0 328.6,1687.0 329.0,1687.0 329.4,1687.0 329.8,1687.0 330.2,1687.0 330.6,1687.0 331.0,1687.0 331.4,1687.0 331.8,1687.0 332.2,1687.0 332.6,1687.0 333.0,1687.0 333.4,1687.0 333.8,1687.0 334.2,1687.0 334.6,1687.0 335.0,1687.1 335.4,1687.1 335.8,1687.1 336.2,1687.1 336.6,1687.1 337.0,1687.1 337.4,1687.2 337.8,1687.2 338.2,1687.2 338.6,1687.2 339.0,1687.3 339.4,1687.3 339.8,1687.3 340.2,1687.4 340.6,1687.4 341.0,1687.4 341.4,1687.5 341.8,1687.5 342.2,1687.5 342.6,1687.6 343.0,1687.6 343.4,1687.6 343.8,1687.7 344.2,1687.7 344.6,1687.8 345.0,1687.8 345.4,1687.9 345.8,1687.9 346.2,1688.0 346.6,1688.0 347.0,1688.1 347.4,1688.1 347.8,1688.2 348.2,1688.3 348.6,1688.3 349.0,1688.4 349.4,1688.4 349.8,1688.5 350.2,1688.6 350.6,1688.6 351.0,1688.7 351.4,1688.8 351.8,1688.8 352.2,1688.9 352.6,1689.0 353.0,1689.1 353.4,1689.1 353.8,1689.2 354.2,1689.3 354.6,1689.4 355.0,1689.4 355.4,1689.5 355.8,1689.6 356.2,1689.7 356.6,1689.8 357.0,1689.9 357.4,1690.0 357.8,1690.1 358.2,1690.2 358.6,1690.2 359.0,1690.3 359.4,1690.4 359.8,1690.5 360.2,1690.6 360.6,1690.7 361.0,1690.8 361.4,1690.9 361.8,1691.0 362.2,1691.1 362.6,1691.2 363.0,1691.4 363.4,1691.5 363.8,1691.6 364.2,1691.7 364.6,1691.8 365.0,1691.9 365.4,1692.0 365.8,1692.1 366.2,1692.2 366.6,1692.3 367.0,1692.5 367.4,1692.6 367.8,1692.7 368.2,1692.8 368.6,1692.9 369.0,1693.1 369.4,1693.2 369.8,1693.3 370.2,1693.4 370.6,1693.5 371.0,1693.7 371.4,1693.8 371.8,1693.9 372.2,1694.0 372.6,1694.2 373.0,1694.3 373.4,1694.4 373.8,1694.6 374.2,1694.7 374.6,1694.8 375.0,1694.9 375.4,1695.1 375.8,1695.2 376.2,1695.3 376.6,1695.5 377.0,1695.6 377.4,1695.8 377.8,1695.9 378.2,1696.0 378.6,1696.2 379.0,1696.3 379.4,1696.5 379.8,1696.6 380.2,1696.7 380.6,1696.9 381.0,1697.0 381.4,1697.2 381.8,1697.3 382.2,1697.5 382.6,1697.6 383.0,1697.8 383.4,1697.9 383.8,1698.1 384.2,1698.2 384.6,1698.4 385.0,1698.5 385.4,1698.7 385.8,1698.8 386.2,1699.0 386.6,1699.2 387.0,1699.3 387.4,1699.5 387.8,1699.6 388.2,1699.8 388.6,1700.0 389.0,1700.1 389.4,1700.3 389.8,1700.4 390.2,1700.6 390.6,1700.8 391.0,1700.9 391.4,1701.1 391.8,1701.3 392.2,1701.4 392.6,1701.6 393.0,1701.8 393.4,1702.0 393.8,1702.1 394.2,1702.3 394.6,1702.5 395.0,1702.7 395.4,1702.8 395.8,1703.0 396.2,1703.2 396.6,1703.4 397.0,1703.6 397.4,1703.7 397.8,1703.9 398.2,1704.1 398.6,1704.3 399.0,1704.5 399.4,1704.7 399.8,1704.8 400.2,1705.0 400.6,1705.2 401.0,1705.4 401.4,1705.6 401.8,1705.8 402.2,1706.0 402.6,1706.2 403.0,1706.4 403.4,1706.6 403.8,1706.7 404.2,1706.9 404.6,1707.1 405.0,1707.3 405.4,1707.5 405.8,1707.7 406.2,1707.9 406.6,1708.1 407.0,1708.3 407.4,1708.5 407.8,1708.7 408.2,1708.9 408.6,1709.1 409.0,1709.3 409.4,1709.5 409.8,1709.7 410.2,1709.9 410.6,1710.1 411.0,1710.4 411.4,1710.6 411.8,1710.8 412.2,1711.0 412.6,1711.2 413.0,1711.4 413.4,1711.6 413.8,1711.8 414.2,1712.0 414.6,1712.2 415.0,1712.4 415.4,1712.7 415.8,1712.9 416.2,1713.1 416.6,1713.3 417.0,1713.5 417.4,1713.7 417.8,1713.9 418.2,1714.2 418.6,1714.4 419.0,1714.6 419.4,1714.8 419.8,1715.0 420.2,1715.3 420.6,1715.5 421.0,1715.7 421.4,1715.9 421.8,1716.1 422.2,1716.4 422.6,1716.6 423.0,1716.8 423.4,1717.0 423.8,1717.2 424.2,1717.5 424.6,1717.7 425.0,1717.9 425.4,1718.1 425.8,1718.4 426.2,1718.6 426.6,1718.8 427.0,1719.0 427.4,1719.3 427.8,1719.5 428.2,1719.7 428.6,1720.0 429.0,1720.2 429.4,1720.4 429.8,1720.6 430.2,1720.9 430.6,1721.1 431.0,1721.3 431.4,1721.6 431.8,1721.8 432.2,1722.0 432.6,1722.3 433.0,1722.5 433.4,1722.7 433.8,1722.9 434.2,1723.2 434.6,1723.4 435.0,1723.6 435.4,1723.9 435.8,1724.1 436.2,1724.3 436.6,1724.6 437.0,1724.8 437.4,1725.0 437.8,1725.3 438.2,1725.5 438.6,1725.8 439.0,1726.0 439.4,1726.2 439.8,1726.5 440.2,1726.7 440.6,1726.9 441.0,1727.2 441.4,1727.4 441.8,1727.6 442.2,1727.9 442.6,1728.1 443.0,1728.4 443.4,1728.6 443.8,1728.8 444.2,1729.1 444.6,1729.3 445.0,1729.6 445.4,1729.8 445.8,1730.0 446.2,1730.3 446.6,1730.5 447.0,1730.8 447.4,1731.0 447.8,1731.2 448.2,1731.5 448.6,1731.7 449.0,1732.0 449.4,1732.2 449.8,1732.4 450.2,1732.7 450.6,1732.9 451.0,1733.2 451.4,1733.4 451.8,1733.7 452.2,1733.9 452.6,1734.2 453.0,1734.4 453.4,1734.6 453.8,1734.9 454.2,1735.1 454.6,1735.4 455.0,1735.6 455.4,1735.9 455.8,1736.1 456.2,1736.4 456.6,1736.6 457.0,1736.9 457.4,1737.1 457.8,1737.4 458.2,1737.6 458.6,1737.9 459.0,1738.1 459.4,1738.4 459.8,1738.6 460.2,1738.9 460.6,1739.1 461.0,1739.4 461.4,1739.6 461.8,1739.9 462.2,1740.1 462.6,1740.4 463.0,1740.6 463.4,1740.9 463.8,1741.1 464.2,1741.4 464.6,1741.6 465.0,1741.9 465.4,1742.2 465.8,1742.4 466.2,1742.7 466.6,1742.9 467.0,1743.2 467.4,1743.4 467.8,1743.7 468.2,1743.9 468.6,1744.2 469.0,1744.5 469.4,1744.7 469.8,1745.0 470.2,1745.2 470.6,1745.5 471.0,1745.7 471.4,1746.0 471.8,1746.3 472.2,1746.5 472.6,1746.8 473.0,1747.0 473.4,1747.3 473.8,1747.6 474.2,1747.8 474.6,1748.1 475.0,1748.4 475.4,1748.6 475.8,1748.9 476.2,1749.1 476.6,1749.4 477.0,1749.7 477.4,1749.9 477.8,1750.2 478.2,1750.5 478.6,1750.7 479.0,1751.0 479.4,1751.3 479.8,1751.5 480.2,1751.8 480.6,1752.1 481.0,1752.3 481.4,1752.6 481.8,1752.9 482.2,1753.1 482.6,1753.4 483.0,1753.7 483.4,1753.9 483.8,1754.2 484.2,1754.5 484.6,1754.8 485.0,1755.0 485.4,1755.3 485.8,1755.6 486.2,1755.8 486.6,1756.1 487.0,1756.4 487.4,1756.7 487.8,1756.9 488.2,1757.2 488.6,1757.5 489.0,1757.7 489.4,1758.0 489.8,1758.3 490.2,1758.5 490.6,1758.8 491.0,1759.1 491.4,1759.4 491.8,1759.6 492.2,1759.9 492.6,1760.2 493.0,1760.4 493.4,1760.7 493.8,1761.0 494.2,1761.3 494.6,1761.5 495.0,1761.8 495.4,1762.1 495.8,1762.3 496.2,1762.6 496.6,1762.9 497.0,1763.1 497.4,1763.4 497.8,1763.7 498.2,1764.0 498.6,1764.2 499.0,1764.5 499.4,1764.8 499.8,1765.0 500.2,1765.3 500.6,1765.6 501.0,1765.8 501.4,1766.1 501.8,1766.4 502.2,1766.6 502.6,1766.9 503.0,1767.1 503.4,1767.4 503.8,1767.7 504.2,1767.9 504.6,1768.2 505.0,1768.5 505.4,1768.7 505.8,1769.0 506.2,1769.3 506.6,1769.5 507.0,1769.8 507.4,1770.0 507.8,1770.3 508.2,1770.6 508.6,1770.8 509.0,1771.1 509.4,1771.3 509.8,1771.6 510.2,1771.8 510.6,1772.1 511.0,1772.4 511.4,1772.6 511.8,1772.9 512.2,1773.1 512.6,1773.4 513.0,1773.6 513.4,1773.9 513.8,1774.1 514.2,1774.4 514.6,1774.6 515.0,1774.9 515.4,1775.1 515.8,1775.4 516.2,1775.6 516.6,1775.9 517.0,1776.1 517.4,1776.3 517.8,1776.6 518.2,1776.8 518.6,1777.1 519.0,1777.3 519.4,1777.6 519.8,1777.8 520.2,1778.0 520.6,1778.3 521.0,1778.5 521.4,1778.7 521.8,1779.0 522.2,1779.2 522.6,1779.4 523.0,1779.7 523.4,1779.9 523.8,1780.1 524.2,1780.4 524.6,1780.6 525.0,1780.8 525.4,1781.0 525.8,1781.3 526.2,1781.5 526.6,1781.7 527.0,1781.9 527.4,1782.2 527.8,1782.4 528.2,1782.6 528.6,1782.8 529.0,1783.0 529.4,1783.3 529.8,1783.5 530.2,1783.7 530.6,1783.9 531.0,1784.1 531.4,1784.3 531.8,1784.5 532.2,1784.7 532.6,1784.9 533.0,1785.2 533.4,1785.4 533.8,1785.6 534.2,1785.8 534.6,1786.0 535.0,1786.2 535.4,1786.4 535.8,1786.6 536.2,1786.8 536.6,1787.0 537.0,1787.2 537.4,1787.3 537.8,1787.5 538.2,1787.7 538.6,1787.9 539.0,1788.1 539.4,1788.3 539.8,1788.5 540.2,1788.7 540.6,1788.8 541.0,1789.0 541.4,1789.2 541.8,1789.4 542.2,1789.6 542.6,1789.7 543.0,1789.9 543.4,1790.1 543.8,1790.2 544.2,1790.4 544.6,1790.6 545.0,1790.8 545.4,1790.9 545.8,1791.1 546.2,1791.2 546.6,1791.4 547.0,1791.6 547.4,1791.7 547.8,1791.9 548.2,1792.0 548.6,1792.2 549.0,1792.3 549.4,1792.5 549.8,1792.6 550.2,1792.8 550.6,1792.9 551.0,1793.1 551.4,1793.2 551.8,1793.3 552.2,1793.5 552.6,1793.6 553.0,1793.7 553.4,1793.9 553.8,1794.0 554.2,1794.1 554.6,1794.3 555.0,1794.4 555.4,1794.5 555.8,1794.6 556.2,1794.8 556.6,1794.9 557.0,1795.0 557.4,1795.1 557.8,1795.2 558.2,1795.3 558.6,1795.4 559.0,1795.5 559.4,1795.6 559.8,1795.8 560.2,1795.9 560.6,1796.0 561.0,1796.0 561.4,1796.1 561.8,1796.2 562.2,1796.3 562.6,1796.4 563.0,1796.5 563.4,1796.6 563.8,1796.7 564.2,1796.8 564.6,1796.8 565.0,1796.9 565.4,1797.0 565.8,1797.1 566.2,1797.2 566.6,1797.2 567.0,1797.3 567.4,1797.4 567.8,1797.4 568.2,1797.5 568.6,1797.6 569.0,1797.6 569.4,1797.7 569.8,1797.8 570.2,1797.8 570.6,1797.9 571.0,1798.0 571.4,1798.0 571.8,1798.1 572.2,1798.1 572.6,1798.2 573.0,1798.2 573.4,1798.3 573.8,1798.3 574.2,1798.4 574.6,1798.4 575.0,1798.4 575.4,1798.5 575.8,1798.5 576.2,1798.6 576.6,1798.6 577.0,1798.6 577.4,1798.7 577.8,1798.7 578.2,1798.7 578.6,1798.7 579.0,1798.8 579.4,1798.8 579.8,1798.8 580.2,1798.8 580.6,1798.8 581.0,1798.9 581.4,1798.9 581.8,1798.9 582.2,1798.9 582.6,1798.9 583.0,1798.9 583.4,1798.9 583.8,1798.9 584.2,1798.9 584.6,1798.9 585.0,1798.9 585.4,1798.9 585.8,1798.9 586.2,1798.9 586.6,1798.9 587.0,1798.9 587.4,1798.8 587.8,1798.8 588.2,1798.8 588.6,1798.8 589.0,1798.7 589.4,1798.7 589.8,1798.7 590.2,1798.7 590.6,1798.6 591.0,1798.6 591.4,1798.5 591.8,1798.5 592.2,1798.5 592.6,1798.4 593.0,1798.4 593.4,1798.3 593.8,1798.3 594.2,1798.2 594.6,1798.2 595.0,1798.1 595.4,1798.1 595.8,1798.0 596.2,1797.9 596.6,1797.9 597.0,1797.8 597.4,1797.7 597.8,1797.6 598.2,1797.6 598.6,1797.5 599.0,1797.4 599.4,1797.3 599.8,1797.2 600.2,1797.2 600.6,1797.1 601.0,1797.0 601.4,1796.9 601.8,1796.8 602.2,1796.7 602.6,1796.6 603.0,1796.5 603.4,1796.4 603.8,1796.3 604.2,1796.1 604.6,1796.0 605.0,1795.9 605.4,1795.8 605.8,1795.7 606.2,1795.5 606.6,1795.4 607.0,1795.3 607.4,1795.2 607.8,1795.0 608.2,1794.9 608.6,1794.7 609.0,1794.6 609.4,1794.5 609.8,1794.3 610.2,1794.2 610.6,1794.0 611.0,1793.8 611.4,1793.7 611.8,1793.5 612.2,1793.4 612.6,1793.2 613.0,1793.0 613.4,1792.8 613.8,1792.7 614.2,1792.5 614.6,1792.3 615.0,1792.1 615.4,1791.9 615.8,1791.7 616.2,1791.6 616.6,1791.4 617.0,1791.2 617.4,1791.0 617.8,1790.8 618.2,1790.6 618.6,1790.3 619.0,1790.1 619.4,1789.9 619.8,1789.7 620.2,1789.5 620.6,1789.3 621.0,1789.0 621.4,1788.8 621.8,1788.6 622.2,1788.4 622.6,1788.1 623.0,1787.9 623.4,1787.6 623.8,1787.4 624.2,1787.2 624.6,1786.9 625.0,1786.7 625.4,1786.4 625.8,1786.2 626.2,1785.9 626.6,1785.6 627.0,1785.4 627.4,1785.1 627.8,1784.9 628.2,1784.6 628.6,1784.3 629.0,1784.0 629.4,1783.8 629.8,1783.5 630.2,1783.2 630.6,1782.9 631.0,1782.7 631.4,1782.4 631.8,1782.1 632.2,1781.8 632.6,1781.5 633.0,1781.2 633.4,1780.9 633.8,1780.6 634.2,1780.3 634.6,1780.0 635.0,1779.7 635.4,1779.4 635.8,1779.1 636.2,1778.8 636.6,1778.5 637.0,1778.2 637.4,1777.9 637.8,1777.6 638.2,1777.3 638.6,1776.9 639.0,1776.6 639.4,1776.3 639.8,1776.0 640.2,1775.7 640.6,1775.3 641.0,1775.0 641.4,1774.7 641.8,1774.4 642.2,1774.0 642.6,1773.7 643.0,1773.4 643.4,1773.0 643.8,1772.7 644.2,1772.4 644.6,1772.0 645.0,1771.7 645.4,1771.3 645.8,1771.0 646.2,1770.7 646.6,1770.3 647.0,1770.0 647.4,1769.6 647.8,1769.3 648.2,1768.9 648.6,1768.6 649.0,1768.2 649.4,1767.9 649.8,1767.5 650.2,1767.2 650.6,1766.8 651.0,1766.4 651.4,1766.1 651.8,1765.7 652.2,1765.4 652.6,1765.0 653.0,1764.6 653.4,1764.3 653.8,1763.9 654.2,1763.6 654.6,1763.2 655.0,1762.8 655.4,1762.5 655.8,1762.1 656.2,1761.7 656.6,1761.3 657.0,1761.0 657.4,1760.6 657.8,1760.2 658.2,1759.8 658.6,1759.5 659.0,1759.1 659.4,1758.7 659.8,1758.3 660.2,1757.9 660.6,1757.6 661.0,1757.2 661.4,1756.8 661.8,1756.4 662.2,1756.0 662.6,1755.6 663.0,1755.3 663.4,1754.9 663.8,1754.5 664.2,1754.1 664.6,1753.7 665.0,1753.3 665.4,1752.9 665.8,1752.5 666.2,1752.1 666.6,1751.7 667.0,1751.3 667.4,1750.9 667.8,1750.5 668.2,1750.1 668.6,1749.7 669.0,1749.3 669.4,1748.9 669.8,1748.5 670.2,1748.1 670.6,1747.7 671.0,1747.3 671.4,1746.9 671.8,1746.5 672.2,1746.1 672.6,1745.7 673.0,1745.3 673.4,1744.9 673.8,1744.5 674.2,1744.1 674.6,1743.7 675.0,1743.3 675.4,1742.9 675.8,1742.5 676.2,1742.0 676.6,1741.6 677.0,1741.2 677.4,1740.8 677.8,1740.4 678.2,1740.0 678.6,1739.6 679.0,1739.2 679.4,1738.8 679.8,1738.4 680.2,1738.0 680.6,1737.6 681.0,1737.2 681.4,1736.8 681.8,1736.4 682.2,1736.0 682.6,1735.5 683.0,1735.1 683.4,1734.7 683.8,1734.3 684.2,1733.9 684.6,1733.5 685.0,1733.1 685.4,1732.7 685.8,1732.3 686.2,1731.9 686.6,1731.5 687.0,1731.1 687.4,1730.8 687.8,1730.4 688.2,1730.0 688.6,1729.6 689.0,1729.2 689.4,1728.8 689.8,1728.4 690.2,1728.0 690.6,1727.6 691.0,1727.2 691.4,1726.9 691.8,1726.5 692.2,1726.1 692.6,1725.7 693.0,1725.3 693.4,1725.0 693.8,1724.6 694.2,1724.2 694.6,1723.8 695.0,1723.5 695.4,1723.1 695.8,1722.7 696.2,1722.4 696.6,1722.0 697.0,1721.6 697.4,1721.3 697.8,1720.9 698.2,1720.6 698.6,1720.2 699.0,1719.9 699.4,1719.5 699.8,1719.2 700.2,1718.8 700.6,1718.5 701.0,1718.1 701.4,1717.8 701.8,1717.5 702.2,1717.1 702.6,1716.8 703.0,1716.5 703.4,1716.1 703.8,1715.8 704.2,1715.5 704.6,1715.2 705.0,1714.9 705.4,1714.5 705.8,1714.2 706.2,1713.9 706.6,1713.6 707.0,1713.3 707.4,1713.0 707.8,1712.7 708.2,1712.4 708.6,1712.1 709.0,1711.8 709.4,1711.5 709.8,1711.2 710.2,1711.0 710.6,1710.7 711.0,1710.4 711.4,1710.1 711.8,1709.9 712.2,1709.6 712.6,1709.3 713.0,1709.1 713.4,1708.8 713.8,1708.6 714.2,1708.3 714.6,1708.1 715.0,1707.8 715.4,1707.6 715.8,1707.3 716.2,1707.1 716.6,1706.9 717.0,1706.6 717.4,1706.4 717.8,1706.2 718.2,1706.0 718.6,1705.7 719.0,1705.5 719.4,1705.3 719.8,1705.1 720.2,1704.9 720.6,1704.7 721.0,1704.5 721.4,1704.3 721.8,1704.1 722.2,1703.9 722.6,1703.8 723.0,1703.6 723.4,1703.4 723.8,1703.2 724.2,1703.0 724.6,1702.9 725.0,1702.7 725.4,1702.6 725.8,1702.4 726.2,1702.2 726.6,1702.1 727.0,1701.9 727.4,1701.8 727.8,1701.7 728.2,1701.5 728.6,1701.4 729.0,1701.2 729.4,1701.1 729.8,1701.0 730.2,1700.9 730.6,1700.8 731.0,1700.6 731.4,1700.5 731.8,1700.4 732.2,1700.3 732.6,1700.2 733.0,1700.1 733.4,1700.0 733.8,1699.9 734.2,1699.8 734.6,1699.7 735.0,1699.7 735.4,1699.6 735.8,1699.5 736.2,1699.4 736.6,1699.4 737.0,1699.3 737.4,1699.2 737.8,1699.2 738.2,1699.1 738.6,1699.0 739.0,1699.0 739.4,1698.9 739.8,1698.9 740.2,1698.8 740.6,1698.8 741.0,1698.8 741.4,1698.7 741.8,1698.7 742.2,1698.7 742.6,1698.6 743.0,1698.6 743.4,1698.6 743.8,1698.5 744.2,1698.5 744.6,1698.5 745.0,1698.5 745.4,1698.5 745.8,1698.5 746.2,1698.5 746.6,1698.5 747.0,1698.5 747.4,1698.5 747.8,1698.5 748.2,1698.5 748.6,1698.5 749.0,1698.5 749.4,1698.5 749.8,1698.5 750.2,1698.5 750.6,1698.6 751.0,1698.6 751.4,1698.6 751.8,1698.6 752.2,1698.7 752.6,1698.7 753.0,1698.8 753.4,1698.8 753.8,1698.8 754.2,1698.9 754.6,1698.9 755.0,1699.0 755.4,1699.0 755.8,1699.1 756.2,1699.2 756.6,1699.2 757.0,1699.3 757.4,1699.4 757.8,1699.4 758.2,1699.5 758.6,1699.6 759.0,1699.7 759.4,1699.7 759.8,1699.8 760.2,1699.9 760.6,1700.0 761.0,1700.1 761.4,1700.2 761.8,1700.3 762.2,1700.4 762.6,1700.5 763.0,1700.6 763.4,1700.7 763.8,1700.9 764.2,1701.0 764.6,1701.1 765.0,1701.2 765.4,1701.4 765.8,1701.5 766.2,1701.6 766.6,1701.8 767.0,1701.9 767.4,1702.1 767.8,1702.2 768.2,1702.4 768.6,1702.5 769.0,1702.7 769.4,1702.8 769.8,1703.0 770.2,1703.2 770.6,1703.3 771.0,1703.5 771.4,1703.7 771.8,1703.9 772.2,1704.0 772.6,1704.2 773.0,1704.4 773.4,1704.6 773.8,1704.8 774.2,1705.0 774.6,1705.2 775.0,1705.4 775.4,1705.6 775.8,1705.8 776.2,1706.0 776.6,1706.2 777.0,1706.4 777.4,1706.6 777.8,1706.9 778.2,1707.1 778.6,1707.3 779.0,1707.5 779.4,1707.8 779.8,1708.0 780.2,1708.2 780.6,1708.5 781.0,1708.7 781.4,1708.9 781.8,1709.2 782.2,1709.4 782.6,1709.7 783.0,1709.9 783.4,1710.2 783.8,1710.4 784.2,1710.7 784.6,1711.0 785.0,1711.2 785.4,1711.5 785.8,1711.7 786.2,1712.0 786.6,1712.3 787.0,1712.6 787.4,1712.8 787.8,1713.1 788.2,1713.4 788.6,1713.7 789.0,1713.9 789.4,1714.2 789.8,1714.5 790.2,1714.8 790.6,1715.1 791.0,1715.4 791.4,1715.7 791.8,1716.0 792.2,1716.3 792.6,1716.6 793.0,1716.9 793.4,1717.2 793.8,1717.5 794.2,1717.8 794.6,1718.1 795.0,1718.4 795.4,1718.7 795.8,1719.1 796.2,1719.4 796.6,1719.7 797.0,1720.0 797.4,1720.3 797.8,1720.7 798.2,1721.0 798.6,1721.3 799.0,1721.7 799.4,1722.0 799.8,1722.3 800.2,1722.7 800.6,1723.0 801.0,1723.3 801.4,1723.7 801.8,1724.0 802.2,1724.4 802.6,1724.7 803.0,1725.1 803.4,1725.4 803.8,1725.7 804.2,1726.1 804.6,1726.5 805.0,1726.8 805.4,1727.2 805.8,1727.5 806.2,1727.9 806.6,1728.2 807.0,1728.6 807.4,1729.0 807.8,1729.3 808.2,1729.7 808.6,1730.1 809.0,1730.4 809.4,1730.8 809.8,1731.2 810.2,1731.5 810.6,1731.9 811.0,1732.3 811.4,1732.7 811.8,1733.0 812.2,1733.4 812.6,1733.8 813.0,1734.2 813.4,1734.6 813.8,1734.9 814.2,1735.3 814.6,1735.7 815.0,1736.1 815.4,1736.5 815.8,1736.9 816.2,1737.3 816.6,1737.6 817.0,1738.0 817.4,1738.4 817.8,1738.8 818.2,1739.2 818.6,1739.6 819.0,1740.0 819.4,1740.4 819.8,1740.8 820.2,1741.2 820.6,1741.6 821.0,1742.0 821.4,1742.4 821.8,1742.8 822.2,1743.1 822.6,1743.5 823.0,1743.9 823.4,1744.3 823.8,1744.7 824.2,1745.1 824.6,1745.5 825.0,1745.9 825.4,1746.3 825.8,1746.7 826.2,1747.1 826.6,1747.5 827.0,1747.9 827.4,1748.3 827.8,1748.7 828.2,1749.1 828.6,1749.5 829.0,1749.9 829.4,1750.3 829.8,1750.7 830.2,1751.1 830.6,1751.5 831.0,1751.9 831.4,1752.2 831.8,1752.6 832.2,1753.0 832.6,1753.4 833.0,1753.8 833.4,1754.2 833.8,1754.6 834.2,1755.0 834.6,1755.4 835.0,1755.7 835.4,1756.1 835.8,1756.5 836.2,1756.9 836.6,1757.3 837.0,1757.7 837.4,1758.0 837.8,1758.4 838.2,1758.8 838.6,1759.2 839.0,1759.5 839.4,1759.9 839.8,1760.3 840.2,1760.6 840.6,1761.0 841.0,1761.4 841.4,1761.8 841.8,1762.1 842.2,1762.5 842.6,1762.8 843.0,1763.2 843.4,1763.6 843.8,1763.9 844.2,1764.3 844.6,1764.6 845.0,1765.0 845.4,1765.3 845.8,1765.7 846.2,1766.0 846.6,1766.4 847.0,1766.7 847.4,1767.1 847.8,1767.4 848.2,1767.7 848.6,1768.1 849.0,1768.4 849.4,1768.7 849.8,1769.1 850.2,1769.4 850.6,1769.7 851.0,1770.0 851.4,1770.4 851.8,1770.7 852.2,1771.0 852.6,1771.3 853.0,1771.6 853.4,1771.9 853.8,1772.2 854.2,1772.5 854.6,1772.8 855.0,1773.2 855.4,1773.4 855.8,1773.7 856.2,1774.0 856.6,1774.3 857.0,1774.6 857.4,1774.9 857.8,1775.2 858.2,1775.5 858.6,1775.7 859.0,1776.0 859.4,1776.3 859.8,1776.6 860.2,1776.8 860.6,1777.1 861.0,1777.4 861.4,1777.6 861.8,1777.9 862.2,1778.1 862.6,1778.4 863.0,1778.6 863.4,1778.9 863.8,1779.1 864.2,1779.4 864.6,1779.6 865.0,1779.8 865.4,1780.1 865.8,1780.3 866.2,1780.5 866.6,1780.8 867.0,1781.0 867.4,1781.2 867.8,1781.4 868.2,1781.6 868.6,1781.8 869.0,1782.1 869.4,1782.3 869.8,1782.5 870.2,1782.7 870.6,1782.9 871.0,1783.1 871.4,1783.2 871.8,1783.4 872.2,1783.6 872.6,1783.8 873.0,1784.0 873.4,1784.2 873.8,1784.3 874.2,1784.5 874.6,1784.7 875.0,1784.8 875.4,1785.0 875.8,1785.2 876.2,1785.3 876.6,1785.5 877.0,1785.6 877.4,1785.8 877.8,1785.9 878.2,1786.1 878.6,1786.2 879.0,1786.4 879.4,1786.5 879.8,1786.6 880.2,1786.8 880.6,1786.9 881.0,1787.0 881.4,1787.1 881.8,1787.3 882.2,1787.4 882.6,1787.5 883.0,1787.6 883.4,1787.7 883.8,1787.8 884.2,1787.9 884.6,1788.0 885.0,1788.1 885.4,1788.2 885.8,1788.3 886.2,1788.4 886.6,1788.5 887.0,1788.6 887.4,1788.7 887.8,1788.8 888.2,1788.9 888.6,1788.9 889.0,1789.0 889.4,1789.1 889.8,1789.2 890.2,1789.3 890.6,1789.3 891.0,1789.4 891.4,1789.5 891.8,1789.5 892.2,1789.6 892.6,1789.7 893.0,1789.7 893.4,1789.8 893.8,1789.8 894.2,1789.9 894.6,1790.0 895.0,1790.0 895.4,1790.1 895.8,1790.1 896.2,1790.2 896.6,1790.2 897.0,1790.3 897.4,1790.3 897.8,1790.3 898.2,1790.4 898.6,1790.4 899.0,1790.5 899.4,1790.5 899.8,1790.5 900.2,1790.6 900.6,1790.6 901.0,1790.6 901.4,1790.7 901.8,1790.7 902.2,1790.7 902.6,1790.8 903.0,1790.8 903.4,1790.8 903.8,1790.8 904.2,1790.9 904.6,1790.9 905.0,1790.9 905.4,1790.9 905.8,1791.0 906.2,1791.0 906.6,1791.0 907.0,1791.0 907.4,1791.0 907.8,1791.1 908.2,1791.1 908.6,1791.1 909.0,1791.1" fill="none" stroke="#0000ff" stroke-width="4.2" stroke-linejoin="round" stroke-linecap="butt" clip-path="url(#cL9)"/>
<path d="M342.1 1875.2V2022.0M525.2 1875.2V2022.0M708.3 1875.2V2022.0M891.4 1875.2V2022.0M159.0 1878.7H909.0M159.0 1948.1H909.0M159.0 2018.0H909.0" stroke="#dedede" stroke-width="3.7" fill="none"/>
<path d="M342.1 2022.0v-9.0M342.1 1875.2v9.0M525.2 2022.0v-9.0M525.2 1875.2v9.0M708.3 2022.0v-9.0M708.3 1875.2v9.0M891.4 2022.0v-9.0M891.4 1875.2v9.0M159.0 1878.7h9.0M909.0 1878.7h-9.0M159.0 1948.1h9.0M909.0 1948.1h-9.0M159.0 2018.0h9.0M909.0 2018.0h-9.0" stroke="#262626" stroke-width="3.7" fill="none"/>
<rect x="159.0" y="1875.2" width="750.0" height="146.8" stroke="#262626" stroke-width="3.7" fill="none"/>
<polyline points="159.0,2003.6 159.4,2003.7 159.8,2003.8 160.2,2003.8 160.6,2003.9 161.0,2004.0 161.4,2004.1 161.8,2004.1 162.2,2004.2 162.6,2004.3 163.0,2004.4 163.4,2004.5 163.8,2004.5 164.2,2004.6 164.6,2004.7 165.0,2004.8 165.4,2004.8 165.8,2004.9 166.2,2005.0 166.6,2005.1 167.0,2005.2 167.4,2005.2 167.8,2005.3 168.2,2005.4 168.6,2005.5 169.0,2005.5 169.4,2005.6 169.8,2005.7 170.2,2005.8 170.6,2005.8 171.0,2005.9 171.4,2006.0 171.8,2006.1 172.2,2006.2 172.6,2006.2 173.0,2006.3 173.4,2006.4 173.8,2006.5 174.2,2006.5 174.6,2006.6 175.0,2006.7 175.4,2006.8 175.8,2006.8 176.2,2006.9 176.6,2007.0 177.0,2007.1 177.4,2007.1 177.8,2007.2 178.2,2007.3 178.6,2007.4 179.0,2007.5 179.4,2007.5 179.8,2007.6 180.2,2007.7 180.6,2007.8 181.0,2007.8 181.4,2007.9 181.8,2008.0 182.2,2008.1 182.6,2008.1 183.0,2008.2 183.4,2008.3 183.8,2008.4 184.2,2008.4 184.6,2008.5 185.0,2008.6 185.4,2008.7 185.8,2008.7 186.2,2008.8 186.6,2008.9 187.0,2008.9 187.4,2009.0 187.8,2009.1 188.2,2009.2 188.6,2009.2 189.0,2009.3 189.4,2009.4 189.8,2009.5 190.2,2009.5 190.6,2009.6 191.0,2009.7 191.4,2009.8 191.8,2009.8 192.2,2009.9 192.6,2010.0 193.0,2010.0 193.4,2010.1 193.8,2010.2 194.2,2010.3 194.6,2010.3 195.0,2010.4 195.4,2010.5 195.8,2010.5 196.2,2010.6 196.6,2010.7 197.0,2010.7 197.4,2010.8 197.8,2010.9 198.2,2011.0 198.6,2011.0 199.0,2011.1 199.4,2011.2 199.8,2011.2 200.2,2011.3 200.6,2011.4 201.0,2011.4 201.4,2011.5 201.8,2011.6 202.2,2011.6 202.6,2011.7 203.0,2011.8 203.4,2011.8 203.8,2011.9 204.2,2012.0 204.6,2012.0 205.0,2012.1 205.4,2012.1 205.8,2012.2 206.2,2012.3 206.6,2012.3 207.0,2012.4 207.4,2012.5 207.8,2012.5 208.2,2012.6 208.6,2012.6 209.0,2012.7 209.4,2012.8 209.8,2012.8 210.2,2012.9 210.6,2012.9 211.0,2013.0 211.4,2013.1 211.8,2013.1 212.2,2013.2 212.6,2013.2 213.0,2013.3 213.4,2013.4 213.8,2013.4 214.2,2013.5 214.6,2013.5 215.0,2013.6 215.4,2013.7 215.8,2013.7 216.2,2013.8 216.6,2013.8 217.0,2013.9 217.4,2013.9 217.8,2014.0 218.2,2014.0 218.6,2014.1 219.0,2014.2 219.4,2014.2 219.8,2014.3 220.2,2014.3 220.6,2014.4 221.0,2014.4 221.4,2014.5 221.8,2014.5 222.2,2014.6 222.6,2014.6 223.0,2014.7 223.4,2014.8 223.8,2014.8 224.2,2014.9 224.6,2014.9 225.0,2015.0 225.4,2015.0 225.8,2015.1 226.2,2015.1 226.6,2015.2 227.0,2015.2 227.4,2015.3 227.8,2015.3 228.2,2015.4 228.6,2015.4 229.0,2015.5 229.4,2015.5 229.8,2015.6 230.2,2015.6 230.6,2015.7 231.0,2015.7 231.4,2015.8 231.8,2015.8 232.2,2015.9 232.6,2015.9 233.0,2016.0 233.4,2016.0 233.8,2016.1 234.2,2016.1 234.6,2016.2 235.0,2016.2 235.4,2016.3 235.8,2016.3 236.2,2016.4 236.6,2016.4 237.0,2016.5 237.4,2016.5 237.8,2016.6 238.2,2016.6 238.6,2016.7 239.0,2016.7 239.4,2016.8 239.8,2016.8 240.2,2016.8 240.6,2016.9 241.0,2016.9 241.4,2017.0 241.8,2017.0 242.2,2017.1 242.6,2017.1 243.0,2017.2 243.4,2017.2 243.8,2017.2 244.2,2017.3 244.6,2017.3 245.0,2017.4 245.4,2017.4 245.8,2017.5 246.2,2017.5 246.6,2017.5 247.0,2017.6 247.4,2017.6 247.8,2017.7 248.2,2017.7 248.6,2017.7 249.0,2017.8 249.4,2017.8 249.8,2017.9 250.2,2017.9 250.6,2017.9 251.0,2018.0 251.4,2018.0 251.8,2018.1 252.2,2018.1 252.6,2018.1 253.0,2018.2 253.4,2018.2 253.8,2018.2 254.2,2018.3 254.6,2018.3 255.0,2018.3 255.4,2018.4 255.8,2018.4 256.2,2018.4 256.6,2018.5 257.0,2018.5 257.4,2018.6 257.8,2018.6 258.2,2018.6 258.6,2018.7 259.0,2018.7 259.4,2018.7 259.8,2018.7 260.2,2018.8 260.6,2018.8 261.0,2018.8 261.4,2018.9 261.8,2018.9 262.2,2018.9 262.6,2019.0 263.0,2019.0 263.4,2019.0 263.8,2019.1 264.2,2019.1 264.6,2019.1 265.0,2019.2 265.4,2019.2 265.8,2019.2 266.2,2019.2 266.6,2019.3 267.0,2019.3 267.4,2019.3 267.8,2019.4 268.2,2019.4 268.6,2019.4 269.0,2019.4 269.4,2019.5 269.8,2019.5 270.2,2019.5 270.6,2019.6 271.0,2019.6 271.4,2019.6 271.8,2019.6 272.2,2019.7 272.6,2019.7 273.0,2019.7 273.4,2019.7 273.8,2019.8 274.2,2019.8 274.6,2019.8 275.0,2019.9 275.4,2019.9 275.8,2019.9 276.2,2019.9 276.6,2020.0 277.0,2020.0 277.4,2020.0 277.8,2020.0 278.2,2020.1 278.6,2020.1 279.0,2020.1 279.4,2020.1 279.8,2020.2 280.2,2020.2 280.6,2020.2 281.0,2020.2 281.4,2020.3 281.8,2020.3 282.2,2020.3 282.6,2020.3 283.0,2020.3 283.4,2020.4 283.8,2020.4 284.2,2020.4 284.6,2020.4 285.0,2020.5 285.4,2020.5 285.8,2020.5 286.2,2020.5 286.6,2020.5 287.0,2020.6 287.4,2020.6 287.8,2020.6 288.2,2020.6 288.6,2020.7 289.0,2020.7 289.4,2020.7 289.8,2020.7 290.2,2020.7 290.6,2020.8 291.0,2020.8 291.4,2020.8 291.8,2020.8 292.2,2020.8 292.6,2020.9 293.0,2020.9 293.4,2020.9 293.8,2020.9 294.2,2020.9 294.6,2021.0 295.0,2021.0 295.4,2021.0 295.8,2021.0 296.2,2021.0 296.6,2021.1 297.0,2021.1 297.4,2021.1 297.8,2021.1 298.2,2021.1 298.6,2021.1 299.0,2021.2 299.4,2021.2 299.8,2021.2 300.2,2021.2 300.6,2021.2 301.0,2021.2 301.4,2021.3 301.8,2021.3 302.2,2021.3 302.6,2021.3 303.0,2021.3 303.4,2021.3 303.8,2021.4 304.2,2021.4 304.6,2021.4 305.0,2021.4 305.4,2021.4 305.8,2021.4 306.2,2021.4 306.6,2021.5 307.0,2021.5 307.4,2021.5 307.8,2021.5 308.2,2021.5 308.6,2021.5 309.0,2021.5 309.4,2021.6 309.8,2021.6 310.2,2021.6 310.6,2021.6 311.0,2021.6 311.4,2021.6 311.8,2021.6 312.2,2021.7 312.6,2021.7 313.0,2021.7 313.4,2021.7 313.8,2021.7 314.2,2021.7 314.6,2021.7 315.0,2021.7 315.4,2021.7 315.8,2021.8 316.2,2021.8 316.6,2021.8 317.0,2021.8 317.4,2021.8 317.8,2021.8 318.2,2021.8 318.6,2021.8 319.0,2021.8 319.4,2021.9 319.8,2021.9 320.2,2021.9 320.6,2021.9 321.0,2021.9 321.4,2021.9 321.8,2021.9 322.2,2021.9 322.6,2021.9 323.0,2021.9 323.4,2021.9 323.8,2022.0 324.2,2022.0 324.6,2022.0 325.0,2022.0 325.4,2022.0 325.8,2022.0 326.2,2022.0 326.6,2022.0 327.0,2022.0 327.4,2022.0 327.8,2022.0 328.2,2022.0 328.6,2022.0 329.0,2022.0 329.4,2022.0 329.8,2022.1 330.2,2022.1 330.6,2022.1 331.0,2022.1 331.4,2022.1 331.8,2022.1 332.2,2022.1 332.6,2022.1 333.0,2022.1 333.4,2022.1 333.8,2022.1 334.2,2022.1 334.6,2022.1 335.0,2022.1 335.4,2022.1 335.8,2022.1 336.2,2022.1 336.6,2022.1 337.0,2022.1 337.4,2022.1 337.8,2022.1 338.2,2022.1 338.6,2022.1 339.0,2022.1 339.4,2022.1 339.8,2022.1 340.2,2022.1 340.6,2022.1 341.0,2022.1 341.4,2022.1 341.8,2022.1 342.2,2022.1 342.6,2022.1 343.0,2022.1 343.4,2022.1 343.8,2022.1 344.2,2022.1 344.6,2022.1 345.0,2022.1 345.4,2022.1 345.8,2022.1 346.2,2022.1 346.6,2022.1 347.0,2022.1 347.4,2022.1 347.8,2022.1 348.2,2022.1 348.6,2022.1 349.0,2022.1 349.4,2022.1 349.8,2022.1 350.2,2022.1 350.6,2022.1 351.0,2022.1 351.4,2022.1 351.8,2022.1 352.2,2022.1 352.6,2022.1 353.0,2022.1 353.4,2022.1 353.8,2022.1 354.2,2022.1 354.6,2022.1 355.0,2022.1 355.4,2022.1 355.8,2022.1 356.2,2022.1 356.6,2022.1 357.0,2022.0 357.4,2022.0 357.8,2022.0 358.2,2022.0 358.6,2022.0 359.0,2022.0 359.4,2022.0 359.8,2022.0 360.2,2022.0 360.6,2022.0 361.0,2022.0 361.4,2022.0 361.8,2021.9 362.2,2021.9 362.6,2021.9 363.0,2021.9 363.4,2021.9 363.8,2021.9 364.2,2021.9 364.6,2021.9 365.0,2021.9 365.4,2021.8 365.8,2021.8 366.2,2021.8 366.6,2021.8 367.0,2021.8 367.4,2021.8 367.8,2021.8 368.2,2021.7 368.6,2021.7 369.0,2021.7 369.4,2021.7 369.8,2021.7 370.2,2021.7 370.6,2021.6 371.0,2021.6 371.4,2021.6 371.8,2021.6 372.2,2021.6 372.6,2021.6 373.0,2021.5 373.4,2021.5 373.8,2021.5 374.2,2021.5 374.6,2021.5 375.0,2021.4 375.4,2021.4 375.8,2021.4 376.2,2021.4 376.6,2021.4 377.0,2021.3 377.4,2021.3 377.8,2021.3 378.2,2021.3 378.6,2021.3 379.0,2021.2 379.4,2021.2 379.8,2021.2 380.2,2021.2 380.6,2021.2 381.0,2021.1 381.4,2021.1 381.8,2021.1 382.2,2021.1 382.6,2021.1 383.0,2021.0 383.4,2021.0 383.8,2021.0 384.2,2021.0 384.6,2020.9 385.0,2020.9 385.4,2020.9 385.8,2020.9 386.2,2020.8 386.6,2020.8 387.0,2020.8 387.4,2020.8 387.8,2020.8 388.2,2020.7 388.6,2020.7 389.0,2020.7 389.4,2020.7 389.8,2020.6 390.2,2020.6 390.6,2020.6 391.0,2020.6 391.4,2020.5 391.8,2020.5 392.2,2020.5 392.6,2020.4 393.0,2020.4 393.4,2020.4 393.8,2020.4 394.2,2020.3 394.6,2020.3 395.0,2020.3 395.4,2020.3 395.8,2020.2 396.2,2020.2 396.6,2020.2 397.0,2020.1 397.4,2020.1 397.8,2020.1 398.2,2020.0 398.6,2020.0 399.0,2020.0 399.4,2020.0 399.8,2019.9 400.2,2019.9 400.6,2019.9 401.0,2019.8 401.4,2019.8 401.8,2019.8 402.2,2019.7 402.6,2019.7 403.0,2019.7 403.4,2019.6 403.8,2019.6 404.2,2019.6 404.6,2019.5 405.0,2019.5 405.4,2019.5 405.8,2019.4 406.2,2019.4 406.6,2019.3 407.0,2019.3 407.4,2019.3 407.8,2019.2 408.2,2019.2 408.6,2019.2 409.0,2019.1 409.4,2019.1 409.8,2019.0 410.2,2019.0 410.6,2019.0 411.0,2018.9 411.4,2018.9 411.8,2018.8 412.2,2018.8 412.6,2018.8 413.0,2018.7 413.4,2018.7 413.8,2018.6 414.2,2018.6 414.6,2018.6 415.0,2018.5 415.4,2018.5 415.8,2018.4 416.2,2018.4 416.6,2018.4 417.0,2018.3 417.4,2018.3 417.8,2018.2 418.2,2018.2 418.6,2018.1 419.0,2018.1 419.4,2018.1 419.8,2018.0 420.2,2018.0 420.6,2017.9 421.0,2017.9 421.4,2017.8 421.8,2017.8 422.2,2017.8 422.6,2017.7 423.0,2017.7 423.4,2017.6 423.8,2017.6 424.2,2017.5 424.6,2017.5 425.0,2017.4 425.4,2017.4 425.8,2017.3 426.2,2017.3 426.6,2017.3 427.0,2017.2 427.4,2017.2 427.8,2017.1 428.2,2017.1 428.6,2017.0 429.0,2017.0 429.4,2016.9 429.8,2016.9 430.2,2016.8 430.6,2016.8 431.0,2016.7 431.4,2016.7 431.8,2016.6 432.2,2016.6 432.6,2016.5 433.0,2016.5 433.4,2016.5 433.8,2016.4 434.2,2016.4 434.6,2016.3 435.0,2016.3 435.4,2016.2 435.8,2016.2 436.2,2016.1 436.6,2016.1 437.0,2016.0 437.4,2016.0 437.8,2015.9 438.2,2015.9 438.6,2015.8 439.0,2015.8 439.4,2015.7 439.8,2015.7 440.2,2015.6 440.6,2015.6 441.0,2015.5 441.4,2015.5 441.8,2015.4 442.2,2015.4 442.6,2015.3 443.0,2015.2 443.4,2015.2 443.8,2015.1 444.2,2015.1 444.6,2015.0 445.0,2015.0 445.4,2014.9 445.8,2014.9 446.2,2014.8 446.6,2014.8 447.0,2014.7 447.4,2014.7 447.8,2014.6 448.2,2014.6 448.6,2014.5 449.0,2014.5 449.4,2014.4 449.8,2014.3 450.2,2014.3 450.6,2014.2 451.0,2014.2 451.4,2014.1 451.8,2014.1 452.2,2014.0 452.6,2014.0 453.0,2013.9 453.4,2013.9 453.8,2013.8 454.2,2013.7 454.6,2013.7 455.0,2013.6 455.4,2013.6 455.8,2013.5 456.2,2013.5 456.6,2013.4 457.0,2013.3 457.4,2013.3 457.8,2013.2 458.2,2013.2 458.6,2013.1 459.0,2013.1 459.4,2013.0 459.8,2012.9 460.2,2012.9 460.6,2012.8 461.0,2012.8 461.4,2012.7 461.8,2012.6 462.2,2012.6 462.6,2012.5 463.0,2012.5 463.4,2012.4 463.8,2012.3 464.2,2012.3 464.6,2012.2 465.0,2012.2 465.4,2012.1 465.8,2012.0 466.2,2012.0 466.6,2011.9 467.0,2011.9 467.4,2011.8 467.8,2011.7 468.2,2011.7 468.6,2011.6 469.0,2011.6 469.4,2011.5 469.8,2011.4 470.2,2011.4 470.6,2011.3 471.0,2011.3 471.4,2011.2 471.8,2011.1 472.2,2011.1 472.6,2011.0 473.0,2010.9 473.4,2010.9 473.8,2010.8 474.2,2010.8 474.6,2010.7 475.0,2010.6 475.4,2010.6 475.8,2010.5 476.2,2010.4 476.6,2010.4 477.0,2010.3 477.4,2010.2 477.8,2010.2 478.2,2010.1 478.6,2010.1 479.0,2010.0 479.4,2009.9 479.8,2009.9 480.2,2009.8 480.6,2009.7 481.0,2009.7 481.4,2009.6 481.8,2009.5 482.2,2009.5 482.6,2009.4 483.0,2009.3 483.4,2009.3 483.8,2009.2 484.2,2009.2 484.6,2009.1 485.0,2009.0 485.4,2009.0 485.8,2008.9 486.2,2008.8 486.6,2008.8 487.0,2008.7 487.4,2008.6 487.8,2008.6 488.2,2008.5 488.6,2008.4 489.0,2008.4 489.4,2008.3 489.8,2008.3 490.2,2008.2 490.6,2008.1 491.0,2008.1 491.4,2008.0 491.8,2007.9 492.2,2007.9 492.6,2007.8 493.0,2007.7 493.4,2007.7 493.8,2007.6 494.2,2007.6 494.6,2007.5 495.0,2007.4 495.4,2007.4 495.8,2007.3 496.2,2007.2 496.6,2007.2 497.0,2007.1 497.4,2007.0 497.8,2007.0 498.2,2006.9 498.6,2006.9 499.0,2006.8 499.4,2006.7 499.8,2006.7 500.2,2006.6 500.6,2006.5 501.0,2006.5 501.4,2006.4 501.8,2006.3 502.2,2006.3 502.6,2006.2 503.0,2006.2 503.4,2006.1 503.8,2006.0 504.2,2006.0 504.6,2005.9 505.0,2005.8 505.4,2005.8 505.8,2005.7 506.2,2005.7 506.6,2005.6 507.0,2005.5 507.4,2005.5 507.8,2005.4 508.2,2005.3 508.6,2005.3 509.0,2005.2 509.4,2005.2 509.8,2005.1 510.2,2005.0 510.6,2005.0 511.0,2004.9 511.4,2004.9 511.8,2004.8 512.2,2004.7 512.6,2004.7 513.0,2004.6 513.4,2004.5 513.8,2004.5 514.2,2004.4 514.6,2004.3 515.0,2004.3 515.4,2004.2 515.8,2004.2 516.2,2004.1 516.6,2004.0 517.0,2004.0 517.4,2003.9 517.8,2003.8 518.2,2003.8 518.6,2003.7 519.0,2003.6 519.4,2003.6 519.8,2003.5 520.2,2003.4 520.6,2003.4 521.0,2003.3 521.4,2003.2 521.8,2003.2 522.2,2003.1 522.6,2003.0 523.0,2002.9 523.4,2002.9 523.8,2002.8 524.2,2002.7 524.6,2002.7 525.0,2002.6 525.4,2002.5 525.8,2002.4 526.2,2002.4 526.6,2002.3 527.0,2002.2 527.4,2002.1 527.8,2002.1 528.2,2002.0 528.6,2001.9 529.0,2001.8 529.4,2001.7 529.8,2001.7 530.2,2001.6 530.6,2001.5 531.0,2001.4 531.4,2001.3 531.8,2001.3 532.2,2001.2 532.6,2001.1 533.0,2001.0 533.4,2000.9 533.8,2000.8 534.2,2000.8 534.6,2000.7 535.0,2000.6 535.4,2000.5 535.8,2000.4 536.2,2000.3 536.6,2000.2 537.0,2000.1 537.4,2000.0 537.8,2000.0 538.2,1999.9 538.6,1999.8 539.0,1999.7 539.4,1999.6 539.8,1999.5 540.2,1999.4 540.6,1999.3 541.0,1999.2 541.4,1999.1 541.8,1999.0 542.2,1998.9 542.6,1998.8 543.0,1998.7 543.4,1998.7 543.8,1998.6 544.2,1998.5 544.6,1998.4 545.0,1998.3 545.4,1998.2 545.8,1998.1 546.2,1998.0 546.6,1997.9 547.0,1997.8 547.4,1997.7 547.8,1997.6 548.2,1997.5 548.6,1997.4 549.0,1997.3 549.4,1997.2 549.8,1997.1 550.2,1997.0 550.6,1996.9 551.0,1996.8 551.4,1996.7 551.8,1996.6 552.2,1996.5 552.6,1996.4 553.0,1996.3 553.4,1996.2 553.8,1996.1 554.2,1996.0 554.6,1995.9 555.0,1995.8 555.4,1995.7 555.8,1995.6 556.2,1995.5 556.6,1995.4 557.0,1995.3 557.4,1995.2 557.8,1995.1 558.2,1995.0 558.6,1994.9 559.0,1994.8 559.4,1994.7 559.8,1994.6 560.2,1994.5 560.6,1994.3 561.0,1994.2 561.4,1994.1 561.8,1994.0 562.2,1993.9 562.6,1993.8 563.0,1993.7 563.4,1993.6 563.8,1993.5 564.2,1993.4 564.6,1993.3 565.0,1993.2 565.4,1993.1 565.8,1993.0 566.2,1992.9 566.6,1992.7 567.0,1992.6 567.4,1992.5 567.8,1992.4 568.2,1992.3 568.6,1992.2 569.0,1992.1 569.4,1992.0 569.8,1991.9 570.2,1991.8 570.6,1991.6 571.0,1991.5 571.4,1991.4 571.8,1991.3 572.2,1991.2 572.6,1991.1 573.0,1991.0 573.4,1990.8 573.8,1990.7 574.2,1990.6 574.6,1990.5 575.0,1990.4 575.4,1990.3 575.8,1990.1 576.2,1990.0 576.6,1989.9 577.0,1989.8 577.4,1989.7 577.8,1989.5 578.2,1989.4 578.6,1989.3 579.0,1989.2 579.4,1989.1 579.8,1988.9 580.2,1988.8 580.6,1988.7 581.0,1988.6 581.4,1988.4 581.8,1988.3 582.2,1988.2 582.6,1988.1 583.0,1987.9 583.4,1987.8 583.8,1987.7 584.2,1987.6 584.6,1987.4 585.0,1987.3 585.4,1987.2 585.8,1987.1 586.2,1986.9 586.6,1986.8 587.0,1986.7 587.4,1986.6 587.8,1986.4 588.2,1986.3 588.6,1986.2 589.0,1986.0 589.4,1985.9 589.8,1985.8 590.2,1985.6 590.6,1985.5 591.0,1985.4 591.4,1985.3 591.8,1985.1 592.2,1985.0 592.6,1984.9 593.0,1984.7 593.4,1984.6 593.8,1984.5 594.2,1984.3 594.6,1984.2 595.0,1984.1 595.4,1983.9 595.8,1983.8 596.2,1983.7 596.6,1983.5 597.0,1983.4 597.4,1983.3 597.8,1983.1 598.2,1983.0 598.6,1982.9 599.0,1982.7 599.4,1982.6 599.8,1982.5 600.2,1982.3 600.6,1982.2 601.0,1982.1 601.4,1981.9 601.8,1981.8 602.2,1981.7 602.6,1981.5 603.0,1981.4 603.4,1981.3 603.8,1981.1 604.2,1981.0 604.6,1980.9 605.0,1980.7 605.4,1980.6 605.8,1980.4 606.2,1980.3 606.6,1980.2 607.0,1980.0 607.4,1979.9 607.8,1979.8 608.2,1979.6 608.6,1979.5 609.0,1979.3 609.4,1979.2 609.8,1979.1 610.2,1978.9 610.6,1978.8 611.0,1978.6 611.4,1978.5 611.8,1978.4 612.2,1978.2 612.6,1978.1 613.0,1977.9 613.4,1977.8 613.8,1977.7 614.2,1977.5 614.6,1977.4 615.0,1977.2 615.4,1977.1 615.8,1976.9 616.2,1976.8 616.6,1976.7 617.0,1976.5 617.4,1976.4 617.8,1976.2 618.2,1976.1 618.6,1975.9 619.0,1975.8 619.4,1975.6 619.8,1975.5 620.2,1975.4 620.6,1975.2 621.0,1975.1 621.4,1974.9 621.8,1974.8 622.2,1974.6 622.6,1974.5 623.0,1974.3 623.4,1974.2 623.8,1974.0 624.2,1973.9 624.6,1973.7 625.0,1973.6 625.4,1973.4 625.8,1973.3 626.2,1973.1 626.6,1973.0 627.0,1972.8 627.4,1972.7 627.8,1972.5 628.2,1972.4 628.6,1972.2 629.0,1972.1 629.4,1971.9 629.8,1971.8 630.2,1971.6 630.6,1971.5 631.0,1971.3 631.4,1971.2 631.8,1971.0 632.2,1970.9 632.6,1970.7 633.0,1970.5 633.4,1970.4 633.8,1970.2 634.2,1970.1 634.6,1969.9 635.0,1969.8 635.4,1969.6 635.8,1969.5 636.2,1969.3 636.6,1969.2 637.0,1969.0 637.4,1968.8 637.8,1968.7 638.2,1968.5 638.6,1968.4 639.0,1968.2 639.4,1968.1 639.8,1967.9 640.2,1967.7 640.6,1967.6 641.0,1967.4 641.4,1967.3 641.8,1967.1 642.2,1967.0 642.6,1966.8 643.0,1966.6 643.4,1966.5 643.8,1966.3 644.2,1966.2 644.6,1966.0 645.0,1965.9 645.4,1965.7 645.8,1965.5 646.2,1965.4 646.6,1965.2 647.0,1965.1 647.4,1964.9 647.8,1964.7 648.2,1964.6 648.6,1964.4 649.0,1964.3 649.4,1964.1 649.8,1963.9 650.2,1963.8 650.6,1963.6 651.0,1963.5 651.4,1963.3 651.8,1963.1 652.2,1963.0 652.6,1962.8 653.0,1962.7 653.4,1962.5 653.8,1962.3 654.2,1962.2 654.6,1962.0 655.0,1961.8 655.4,1961.7 655.8,1961.5 656.2,1961.4 656.6,1961.2 657.0,1961.0 657.4,1960.9 657.8,1960.7 658.2,1960.5 658.6,1960.4 659.0,1960.2 659.4,1960.0 659.8,1959.9 660.2,1959.7 660.6,1959.6 661.0,1959.4 661.4,1959.2 661.8,1959.1 662.2,1958.9 662.6,1958.7 663.0,1958.6 663.4,1958.4 663.8,1958.2 664.2,1958.1 664.6,1957.9 665.0,1957.7 665.4,1957.6 665.8,1957.4 666.2,1957.2 666.6,1957.1 667.0,1956.9 667.4,1956.7 667.8,1956.6 668.2,1956.4 668.6,1956.2 669.0,1956.1 669.4,1955.9 669.8,1955.7 670.2,1955.6 670.6,1955.4 671.0,1955.2 671.4,1955.1 671.8,1954.9 672.2,1954.7 672.6,1954.6 673.0,1954.4 673.4,1954.2 673.8,1954.1 674.2,1953.9 674.6,1953.7 675.0,1953.6 675.4,1953.4 675.8,1953.2 676.2,1953.1 676.6,1952.9 677.0,1952.7 677.4,1952.6 677.8,1952.4 678.2,1952.2 678.6,1952.1 679.0,1951.9 679.4,1951.7 679.8,1951.6 680.2,1951.4 680.6,1951.2 681.0,1951.1 681.4,1950.9 681.8,1950.7 682.2,1950.6 682.6,1950.4 683.0,1950.2 683.4,1950.0 683.8,1949.9 684.2,1949.7 684.6,1949.5 685.0,1949.4 685.4,1949.2 685.8,1949.0 686.2,1948.9 686.6,1948.7 687.0,1948.5 687.4,1948.4 687.8,1948.2 688.2,1948.0 688.6,1947.9 689.0,1947.7 689.4,1947.5 689.8,1947.4 690.2,1947.2 690.6,1947.0 691.0,1946.8 691.4,1946.7 691.8,1946.5 692.2,1946.3 692.6,1946.2 693.0,1946.0 693.4,1945.8 693.8,1945.7 694.2,1945.5 694.6,1945.3 695.0,1945.1 695.4,1945.0 695.8,1944.8 696.2,1944.6 696.6,1944.5 697.0,1944.3 697.4,1944.1 697.8,1943.9 698.2,1943.8 698.6,1943.6 699.0,1943.4 699.4,1943.3 699.8,1943.1 700.2,1942.9 700.6,1942.7 701.0,1942.6 701.4,1942.4 701.8,1942.2 702.2,1942.0 702.6,1941.9 703.0,1941.7 703.4,1941.5 703.8,1941.3 704.2,1941.2 704.6,1941.0 705.0,1940.8 705.4,1940.6 705.8,1940.4 706.2,1940.3 706.6,1940.1 707.0,1939.9 707.4,1939.7 707.8,1939.6 708.2,1939.4 708.6,1939.2 709.0,1939.0 709.4,1938.8 709.8,1938.7 710.2,1938.5 710.6,1938.3 711.0,1938.1 711.4,1937.9 711.8,1937.8 712.2,1937.6 712.6,1937.4 713.0,1937.2 713.4,1937.0 713.8,1936.9 714.2,1936.7 714.6,1936.5 715.0,1936.3 715.4,1936.1 715.8,1935.9 716.2,1935.8 716.6,1935.6 717.0,1935.4 717.4,1935.2 717.8,1935.0 718.2,1934.9 718.6,1934.7 719.0,1934.5 719.4,1934.3 719.8,1934.1 720.2,1934.0 720.6,1933.8 721.0,1933.6 721.4,1933.4 721.8,1933.2 722.2,1933.1 722.6,1932.9 723.0,1932.7 723.4,1932.5 723.8,1932.4 724.2,1932.2 724.6,1932.0 725.0,1931.8 725.4,1931.6 725.8,1931.5 726.2,1931.3 726.6,1931.1 727.0,1930.9 727.4,1930.8 727.8,1930.6 728.2,1930.4 728.6,1930.2 729.0,1930.1 729.4,1929.9 729.8,1929.7 730.2,1929.5 730.6,1929.4 731.0,1929.2 731.4,1929.0 731.8,1928.9 732.2,1928.7 732.6,1928.5 733.0,1928.3 733.4,1928.2 733.8,1928.0 734.2,1927.8 734.6,1927.7 735.0,1927.5 735.4,1927.3 735.8,1927.2 736.2,1927.0 736.6,1926.8 737.0,1926.6 737.4,1926.5 737.8,1926.3 738.2,1926.1 738.6,1926.0 739.0,1925.8 739.4,1925.6 739.8,1925.5 740.2,1925.3 740.6,1925.1 741.0,1925.0 741.4,1924.8 741.8,1924.6 742.2,1924.5 742.6,1924.3 743.0,1924.1 743.4,1924.0 743.8,1923.8 744.2,1923.6 744.6,1923.5 745.0,1923.3 745.4,1923.1 745.8,1923.0 746.2,1922.8 746.6,1922.7 747.0,1922.5 747.4,1922.3 747.8,1922.2 748.2,1922.0 748.6,1921.8 749.0,1921.7 749.4,1921.5 749.8,1921.3 750.2,1921.2 750.6,1921.0 751.0,1920.9 751.4,1920.7 751.8,1920.5 752.2,1920.4 752.6,1920.2 753.0,1920.1 753.4,1919.9 753.8,1919.7 754.2,1919.6 754.6,1919.4 755.0,1919.2 755.4,1919.1 755.8,1918.9 756.2,1918.8 756.6,1918.6 757.0,1918.4 757.4,1918.3 757.8,1918.1 758.2,1918.0 758.6,1917.8 759.0,1917.6 759.4,1917.5 759.8,1917.3 760.2,1917.2 760.6,1917.0 761.0,1916.8 761.4,1916.7 761.8,1916.5 762.2,1916.4 762.6,1916.2 763.0,1916.1 763.4,1915.9 763.8,1915.7 764.2,1915.6 764.6,1915.4 765.0,1915.3 765.4,1915.1 765.8,1914.9 766.2,1914.8 766.6,1914.6 767.0,1914.5 767.4,1914.3 767.8,1914.2 768.2,1914.0 768.6,1913.8 769.0,1913.7 769.4,1913.5 769.8,1913.4 770.2,1913.2 770.6,1913.1 771.0,1912.9 771.4,1912.8 771.8,1912.6 772.2,1912.4 772.6,1912.3 773.0,1912.1 773.4,1912.0 773.8,1911.8 774.2,1911.7 774.6,1911.5 775.0,1911.4 775.4,1911.2 775.8,1911.1 776.2,1910.9 776.6,1910.8 777.0,1910.6 777.4,1910.5 777.8,1910.3 778.2,1910.1 778.6,1910.0 779.0,1909.8 779.4,1909.7 779.8,1909.5 780.2,1909.4 780.6,1909.2 781.0,1909.1 781.4,1908.9 781.8,1908.8 782.2,1908.6 782.6,1908.5 783.0,1908.3 783.4,1908.2 783.8,1908.0 784.2,1907.9 784.6,1907.7 785.0,1907.6 785.4,1907.4 785.8,1907.3 786.2,1907.2 786.6,1907.0 787.0,1906.9 787.4,1906.7 787.8,1906.6 788.2,1906.4 788.6,1906.3 789.0,1906.1 789.4,1906.0 789.8,1905.8 790.2,1905.7 790.6,1905.6 791.0,1905.4 791.4,1905.3 791.8,1905.1 792.2,1905.0 792.6,1904.8 793.0,1904.7 793.4,1904.5 793.8,1904.4 794.2,1904.3 794.6,1904.1 795.0,1904.0 795.4,1903.8 795.8,1903.7 796.2,1903.6 796.6,1903.4 797.0,1903.3 797.4,1903.1 797.8,1903.0 798.2,1902.9 798.6,1902.7 799.0,1902.6 799.4,1902.5 799.8,1902.3 800.2,1902.2 800.6,1902.0 801.0,1901.9 801.4,1901.8 801.8,1901.6 802.2,1901.5 802.6,1901.4 803.0,1901.2 803.4,1901.1 803.8,1901.0 804.2,1900.8 804.6,1900.7 805.0,1900.6 805.4,1900.4 805.8,1900.3 806.2,1900.2 806.6,1900.0 807.0,1899.9 807.4,1899.8 807.8,1899.6 808.2,1899.5 808.6,1899.4 809.0,1899.2 809.4,1899.1 809.8,1899.0 810.2,1898.9 810.6,1898.7 811.0,1898.6 811.4,1898.5 811.8,1898.3 812.2,1898.2 812.6,1898.1 813.0,1898.0 813.4,1897.8 813.8,1897.7 814.2,1897.6 814.6,1897.4 815.0,1897.3 815.4,1897.2 815.8,1897.1 816.2,1896.9 816.6,1896.8 817.0,1896.7 817.4,1896.6 817.8,1896.4 818.2,1896.3 818.6,1896.2 819.0,1896.1 819.4,1896.0 819.8,1895.8 820.2,1895.7 820.6,1895.6 821.0,1895.5 821.4,1895.3 821.8,1895.2 822.2,1895.1 822.6,1895.0 823.0,1894.9 823.4,1894.7 823.8,1894.6 824.2,1894.5 824.6,1894.4 825.0,1894.3 825.4,1894.1 825.8,1894.0 826.2,1893.9 826.6,1893.8 827.0,1893.7 827.4,1893.6 827.8,1893.4 828.2,1893.3 828.6,1893.2 829.0,1893.1 829.4,1893.0 829.8,1892.9 830.2,1892.8 830.6,1892.6 831.0,1892.5 831.4,1892.4 831.8,1892.3 832.2,1892.2 832.6,1892.1 833.0,1892.0 833.4,1891.8 833.8,1891.7 834.2,1891.6 834.6,1891.5 835.0,1891.4 835.4,1891.3 835.8,1891.2 836.2,1891.1 836.6,1891.0 837.0,1890.8 837.4,1890.7 837.8,1890.6 838.2,1890.5 838.6,1890.4 839.0,1890.3 839.4,1890.2 839.8,1890.1 840.2,1890.0 840.6,1889.9 841.0,1889.8 841.4,1889.7 841.8,1889.6 842.2,1889.4 842.6,1889.3 843.0,1889.2 843.4,1889.1 843.8,1889.0 844.2,1888.9 844.6,1888.8 845.0,1888.7 845.4,1888.6 845.8,1888.5 846.2,1888.4 846.6,1888.3 847.0,1888.2 847.4,1888.1 847.8,1888.0 848.2,1887.9 848.6,1887.8 849.0,1887.7 849.4,1887.6 849.8,1887.5 850.2,1887.4 850.6,1887.3 851.0,1887.2 851.4,1887.1 851.8,1887.0 852.2,1886.9 852.6,1886.8 853.0,1886.7 853.4,1886.6 853.8,1886.5 854.2,1886.4 854.6,1886.3 855.0,1886.2 855.4,1886.1 855.8,1886.0 856.2,1885.9 856.6,1885.8 857.0,1885.7 857.4,1885.6 857.8,1885.6 858.2,1885.5 858.6,1885.4 859.0,1885.3 859.4,1885.2 859.8,1885.1 860.2,1885.0 860.6,1884.9 861.0,1884.8 861.4,1884.7 861.8,1884.6 862.2,1884.5 862.6,1884.4 863.0,1884.4 863.4,1884.3 863.8,1884.2 864.2,1884.1 864.6,1884.0 865.0,1883.9 865.4,1883.8 865.8,1883.7 866.2,1883.6 866.6,1883.5 867.0,1883.5 867.4,1883.4 867.8,1883.3 868.2,1883.2 868.6,1883.1 869.0,1883.0 869.4,1882.9 869.8,1882.8 870.2,1882.8 870.6,1882.7 871.0,1882.6 871.4,1882.5 871.8,1882.4 872.2,1882.3 872.6,1882.2 873.0,1882.2 873.4,1882.1 873.8,1882.0 874.2,1881.9 874.6,1881.8 875.0,1881.7 875.4,1881.6 875.8,1881.6 876.2,1881.5 876.6,1881.4 877.0,1881.3 877.4,1881.2 877.8,1881.1 878.2,1881.1 878.6,1881.0 879.0,1880.9 879.4,1880.8 879.8,1880.7 880.2,1880.6 880.6,1880.6 881.0,1880.5 881.4,1880.4 881.8,1880.3 882.2,1880.2 882.6,1880.2 883.0,1880.1 883.4,1880.0 883.8,1879.9 884.2,1879.8 884.6,1879.8 885.0,1879.7 885.4,1879.6 885.8,1879.5 886.2,1879.5 886.6,1879.4 887.0,1879.3 887.4,1879.2 887.8,1879.1 888.2,1879.1 888.6,1879.0 889.0,1878.9 889.4,1878.9 889.8,1878.8 890.2,1878.7 890.6,1878.6 891.0,1878.6 891.4,1878.5 891.8,1878.4 892.2,1878.3 892.6,1878.3 893.0,1878.2 893.4,1878.1 893.8,1878.1 894.2,1878.0 894.6,1877.9 895.0,1877.9 895.4,1877.8 895.8,1877.7 896.2,1877.7 896.6,1877.6 897.0,1877.5 897.4,1877.5 897.8,1877.4 898.2,1877.3 898.6,1877.3 899.0,1877.2 899.4,1877.1 899.8,1877.1 900.2,1877.0 900.6,1876.9 901.0,1876.9 901.4,1876.8 901.8,1876.8 902.2,1876.7 902.6,1876.6 903.0,1876.6 903.4,1876.5 903.8,1876.4 904.2,1876.4 904.6,1876.3 905.0,1876.3 905.4,1876.2 905.8,1876.2 906.2,1876.1 906.6,1876.0 907.0,1876.0 907.4,1875.9 907.8,1875.9 908.2,1875.8 908.6,1875.7 909.0,1875.7" fill="none" stroke="#0000ff" stroke-width="4.2" stroke-linejoin="round" stroke-linecap="butt" clip-path="url(#cL10)"/>
<path d="M1330.1 66.0V208.0M1513.2 66.0V208.0M1696.4 66.0V208.0M1879.5 66.0V208.0M1146.0 137.0H1896.5" stroke="#dedede" stroke-width="3.7" fill="none"/>
<path d="M1330.1 208.0v-9.0M1330.1 66.0v9.0M1513.2 208.0v-9.0M1513.2 66.0v9.0M1696.4 208.0v-9.0M1696.4 66.0v9.0M1879.5 208.0v-9.0M1879.5 66.0v9.0M1146.0 137.0h9.0M1896.5 137.0h-9.0" stroke="#262626" stroke-width="3.7" fill="none"/>
<rect x="1146.0" y="66.0" width="750.5" height="142.0" stroke="#262626" stroke-width="3.7" fill="none"/>
<polyline points="1146.0,200.6 1146.0,159.8 1146.0,174.4 1146.3,191.6 1147.2,200.6 1147.5,177.0 1147.8,196.0 1148.6,184.5 1149.9,199.8 1150.4,202.7 1150.7,194.1 1151.0,201.1 1152.5,201.1 1153.6,200.6 1153.9,189.8 1154.2,198.4 1155.1,198.8 1156.4,185.4 1157.9,202.7 1158.2,179.7 1158.5,198.5 1159.0,183.1 1160.3,201.3 1161.6,186.7 1162.2,205.3 1162.5,184.5 1162.8,199.0 1164.2,188.3 1165.5,200.3 1166.5,202.7 1166.8,189.8 1167.1,201.6 1168.1,199.4 1169.4,186.8 1170.7,198.4 1171.8,200.6 1172.1,178.7 1172.4,197.3 1173.3,197.9 1175.0,201.7 1175.3,191.9 1175.6,200.6 1177.2,189.6 1178.2,200.6 1178.5,187.0 1178.8,197.4 1179.8,190.0 1181.1,198.7 1182.5,200.6 1182.8,189.8 1183.1,197.1 1183.7,198.6 1185.0,185.0 1186.3,196.5 1186.8,198.4 1187.1,180.2 1187.4,197.6 1188.9,193.7 1190.2,181.6 1191.1,189.9 1191.4,179.7 1191.7,187.2 1192.8,182.2 1194.1,193.4 1195.4,181.7 1196.7,195.0 1197.5,198.4 1197.8,179.7 1198.1,197.4 1199.3,199.1 1200.6,188.1 1201.8,205.3 1202.1,191.9 1202.4,204.6 1203.2,190.1 1204.5,201.9 1205.8,185.0 1206.5,200.6 1206.8,178.0 1207.1,198.6 1208.4,180.8 1209.7,199.7 1211.0,186.5 1212.5,205.3 1212.8,185.5 1213.1,202.2 1213.6,186.0 1214.9,199.4 1216.2,183.0 1217.8,198.4 1218.1,181.2 1218.4,198.1 1220.1,198.9 1221.4,187.2 1223.2,200.6 1223.5,187.7 1223.8,200.2 1225.3,200.0 1226.6,186.1 1227.5,205.3 1227.8,179.1 1228.1,202.4 1229.2,180.6 1230.5,198.9 1231.7,200.6 1232.0,182.3 1232.3,196.8 1233.1,196.9 1234.4,183.0 1236.0,198.4 1236.3,177.0 1236.6,191.9 1238.3,197.3 1239.6,179.7 1240.3,200.6 1240.6,179.1 1240.9,193.6 1242.2,181.3 1243.5,197.9 1244.6,205.3 1244.9,172.7 1245.2,201.9 1246.1,199.4 1247.4,174.2 1248.7,187.9 1249.9,185.6 1250.2,171.6 1250.5,182.6 1251.3,186.8 1252.6,176.8 1253.1,200.6 1253.4,177.0 1253.7,194.0 1255.2,181.7 1256.5,199.9 1257.4,200.6 1257.7,177.0 1258.0,198.8 1259.1,197.8 1260.4,180.0 1261.7,194.2 1262.0,175.9 1262.3,192.7 1263.0,174.7 1264.3,188.6 1265.6,168.9 1266.4,192.0 1266.7,166.7 1267.0,190.2 1268.2,168.0 1269.5,192.2 1270.3,196.3 1270.6,154.5 1270.9,188.9 1272.1,192.4 1273.4,162.9 1274.5,202.7 1274.8,151.3 1275.1,184.8 1276.0,151.3 1277.3,186.6 1278.8,189.9 1279.1,149.6 1279.4,183.1 1281.2,157.6 1282.0,203.8 1282.3,159.8 1282.6,195.8 1283.8,165.6 1285.1,191.8 1286.3,185.6 1286.6,163.1 1286.9,179.5 1287.7,185.4 1289.0,146.8 1289.5,192.0 1289.8,132.7 1290.1,186.2 1291.6,141.0 1292.7,185.6 1293.0,143.8 1293.3,177.6 1294.2,155.4 1295.5,177.4 1297.0,181.3 1297.3,159.8 1297.6,180.0 1299.4,152.8 1300.7,187.7 1301.3,203.8 1301.6,139.5 1301.9,186.4 1303.3,188.6 1304.5,183.5 1304.8,144.9 1305.1,180.8 1305.9,180.0 1307.2,143.4 1308.8,194.2 1309.1,142.1 1309.4,178.5 1311.1,183.9 1312.4,152.0 1313.1,181.3 1313.4,143.8 1313.7,174.2 1315.0,144.8 1315.6,196.3 1315.9,139.5 1316.2,179.5 1317.6,149.5 1318.4,185.6 1318.7,149.1 1319.0,184.1 1320.2,154.8 1321.6,194.2 1321.9,140.6 1322.2,191.5 1322.8,145.8 1324.1,179.1 1325.4,155.6 1325.9,181.3 1326.2,151.3 1326.5,173.8 1328.0,149.9 1329.3,179.8 1330.2,194.2 1330.5,125.0 1330.8,180.6 1331.9,191.0 1333.4,198.4 1333.7,151.3 1334.0,189.9 1334.5,192.4 1335.8,135.3 1336.6,192.0 1336.9,125.6 1337.2,186.8 1338.4,123.1 1339.7,188.0 1341.0,130.0 1341.5,192.0 1341.8,113.8 1342.1,191.3 1343.6,130.6 1344.9,184.2 1345.8,181.3 1346.1,118.7 1346.4,179.4 1347.5,174.1 1348.4,194.2 1348.7,129.9 1349.0,189.3 1350.1,187.9 1351.4,134.8 1352.7,196.6 1353.3,198.4 1353.6,113.8 1353.9,191.8 1355.3,176.7 1355.9,181.3 1356.2,134.2 1356.5,180.1 1357.9,171.0 1359.2,132.4 1360.2,172.8 1360.5,127.7 1360.8,164.2 1361.8,136.5 1363.1,174.6 1364.0,183.5 1364.3,125.0 1364.6,163.7 1365.7,179.2 1367.0,132.5 1368.7,185.6 1369.0,125.0 1369.3,173.1 1370.9,194.2 1371.2,153.4 1371.5,188.1 1372.2,148.0 1373.5,181.7 1375.1,181.3 1375.4,125.6 1375.7,174.7 1377.4,134.2 1378.8,174.9 1379.1,120.7 1379.4,163.5 1380.0,130.1 1381.6,181.3 1381.9,136.3 1382.2,165.7 1383.9,169.2 1384.8,168.5 1385.1,140.6 1385.4,164.9 1386.5,169.9 1388.0,172.8 1388.3,129.2 1388.6,167.3 1389.1,171.0 1390.4,146.1 1391.2,181.3 1391.5,142.7 1391.8,171.5 1393.0,144.4 1394.3,179.7 1395.5,188.8 1395.8,121.7 1396.1,179.0 1396.9,181.5 1398.2,139.9 1398.7,181.3 1399.0,134.2 1399.3,175.2 1400.8,148.7 1401.9,172.8 1402.2,153.4 1402.5,170.8 1403.4,151.7 1405.1,194.2 1405.4,142.7 1405.7,180.1 1407.3,181.3 1407.6,118.1 1407.9,171.5 1408.6,129.4 1409.9,180.9 1410.5,181.3 1410.8,140.6 1411.1,171.4 1412.5,176.1 1413.8,150.6 1414.7,189.9 1415.0,151.3 1415.3,184.1 1416.4,152.8 1417.7,186.0 1419.0,185.6 1419.3,151.3 1419.6,178.7 1420.3,180.9 1421.6,148.8 1422.9,180.2 1423.7,181.3 1424.0,138.4 1424.3,175.8 1425.5,181.1 1426.8,168.9 1427.6,194.2 1427.9,177.0 1428.2,193.0 1429.4,176.0 1430.7,198.1 1431.2,203.8 1431.5,164.8 1431.8,200.8 1433.3,196.6 1435.1,189.9 1435.4,174.8 1435.7,189.0 1437.2,176.8 1438.3,202.7 1438.6,170.5 1438.9,201.9 1439.8,167.5 1441.5,185.6 1441.8,146.6 1442.1,181.9 1443.7,187.8 1444.7,189.9 1445.0,168.4 1445.3,188.4 1446.3,189.9 1447.6,176.0 1449.0,192.0 1449.3,179.1 1449.6,189.0 1450.2,176.6 1451.5,194.2 1452.8,160.4 1453.7,201.7 1454.0,152.8 1454.3,187.3 1455.4,167.1 1456.7,189.8 1457.6,189.9 1457.9,168.4 1458.2,183.3 1459.3,191.5 1460.8,195.2 1461.1,158.8 1461.4,191.9 1461.9,190.1 1463.2,165.1 1464.5,186.7 1465.7,189.9 1466.0,159.8 1466.3,181.1 1467.1,187.9 1468.4,175.0 1469.7,199.1 1470.4,201.7 1470.7,181.2 1471.0,197.0 1472.3,195.2 1473.6,189.9 1473.9,174.8 1474.2,186.4 1474.9,187.2 1476.2,162.5 1476.8,194.2 1477.1,153.8 1477.4,191.9 1478.8,168.4 1480.1,188.0 1481.1,192.0 1481.4,179.1 1481.7,190.6 1482.7,193.6 1484.0,175.0 1484.7,202.7 1485.0,171.6 1485.3,192.1 1486.6,174.3 1487.9,192.2 1488.6,194.2 1488.9,172.7 1489.2,189.3 1490.5,191.6 1491.8,171.6 1492.9,187.7 1493.2,164.1 1493.5,187.1 1494.4,159.8 1495.7,184.0 1496.5,194.2 1496.8,137.4 1497.1,183.1 1498.3,189.0 1499.6,150.4 1500.4,194.2 1500.7,153.4 1501.0,183.6 1502.2,162.1 1503.5,196.0 1504.8,158.1 1505.7,200.6 1506.0,153.8 1506.3,196.9 1507.4,166.6 1508.9,194.2 1509.2,168.4 1509.5,193.3 1511.3,195.5 1512.6,175.7 1513.2,198.4 1513.5,173.8 1513.8,196.1 1515.2,174.6 1516.5,195.9 1517.5,202.7 1517.8,172.7 1518.1,198.0 1519.1,200.3 1519.7,200.6 1520.0,173.8 1520.3,199.6 1521.7,196.5 1523.0,174.1 1524.0,198.4 1524.3,172.7 1524.6,191.0 1525.6,169.4 1526.9,188.8 1528.2,158.9 1528.7,194.2 1529.0,154.5 1529.3,190.0 1530.8,166.3 1531.5,195.2 1531.8,168.4 1532.1,191.8 1533.4,157.8 1534.3,196.3 1534.6,148.7 1534.9,195.5 1536.0,155.3 1537.3,189.7 1537.9,194.2 1538.2,163.1 1538.5,187.2 1539.9,194.7 1541.1,198.4 1541.4,177.0 1541.7,191.0 1542.5,196.0 1543.7,196.3 1544.0,152.3 1544.3,182.5 1545.1,196.5 1546.4,165.5 1547.5,199.5 1547.8,168.4 1548.1,195.8 1549.0,172.7 1550.3,199.1 1551.8,200.6 1552.1,181.2 1552.4,200.0 1552.9,196.6 1554.2,173.5 1555.0,198.4 1555.3,164.1 1555.6,188.9 1556.8,161.2 1558.2,185.6 1558.5,157.7 1558.8,184.2 1559.4,157.7 1560.7,189.8 1561.4,194.2 1561.7,153.8 1562.0,184.5 1563.3,199.5 1564.2,203.8 1564.5,177.0 1564.8,202.1 1566.4,189.9 1566.7,151.9 1567.0,176.8 1568.5,184.2 1570.0,185.6 1570.3,162.0 1570.6,183.0 1571.1,185.1 1572.4,169.2 1573.7,193.0 1574.3,196.3 1574.6,173.8 1574.9,190.6 1576.3,189.7 1577.6,162.6 1578.6,192.0 1578.9,150.6 1579.2,184.7 1580.2,159.5 1581.8,185.6 1582.1,156.6 1582.4,181.5 1584.1,187.1 1585.0,194.2 1585.3,177.0 1585.6,193.9 1586.7,194.6 1588.0,179.1 1589.3,195.3 1590.3,199.5 1590.6,172.7 1590.9,192.1 1591.9,193.9 1593.2,171.4 1594.6,189.9 1594.9,166.7 1595.2,184.0 1595.8,171.4 1597.1,192.8 1597.8,196.3 1598.1,181.2 1598.4,196.2 1599.7,194.0 1601.0,194.2 1601.3,175.9 1601.6,193.2 1602.3,191.4 1603.6,180.4 1605.3,189.9 1605.6,184.5 1605.9,189.4 1607.5,193.5 1608.8,185.8 1609.6,200.6 1609.9,185.5 1610.2,199.7 1611.4,183.4 1612.7,198.9 1614.0,181.0 1614.9,198.4 1615.2,174.4 1615.5,196.5 1616.6,180.2 1617.9,194.9 1619.2,194.2 1619.5,183.4 1619.8,193.2 1620.5,195.2 1621.8,185.8 1623.5,202.7 1623.8,187.7 1624.1,201.3 1625.7,201.0 1626.7,200.6 1627.0,185.5 1627.3,200.0 1628.3,200.1 1629.6,187.8 1631.0,203.8 1631.3,187.7 1631.6,200.3 1632.2,186.8 1633.5,200.2 1634.8,183.0 1636.4,200.6 1636.7,177.6 1637.0,193.4 1638.7,199.2 1639.6,198.4 1639.9,185.5 1640.2,194.2 1641.3,197.9 1642.6,186.8 1643.8,205.3 1644.1,185.5 1644.4,203.5 1645.2,185.9 1646.5,201.9 1648.1,200.6 1648.4,179.1 1648.7,193.4 1649.8,194.2 1650.1,147.4 1650.4,181.5 1651.7,188.3 1653.5,189.9 1653.8,177.0 1654.1,188.1 1655.6,161.9 1656.7,187.7 1657.0,138.4 1657.3,181.2 1658.2,158.0 1659.9,196.3 1660.2,174.8 1660.5,195.2 1662.1,195.1 1663.4,168.0 1664.6,201.7 1664.9,162.0 1665.2,198.3 1666.0,169.2 1667.3,193.9 1668.5,192.0 1668.8,179.1 1669.1,190.0 1669.9,186.1 1670.6,187.7 1670.9,123.5 1671.2,176.8 1672.7,192.0 1673.0,96.7 1673.3,167.7 1675.5,189.9 1675.8,147.0 1676.1,178.7 1677.7,189.9 1679.0,153.6 1679.8,196.3 1680.1,153.8 1680.4,187.0 1681.6,159.7 1682.9,187.2 1683.4,189.9 1683.7,164.1 1684.0,189.1 1685.5,184.7 1686.7,187.7 1687.0,138.4 1687.3,179.0 1688.1,186.8 1689.4,130.1 1690.9,189.9 1691.2,121.3 1691.5,179.8 1693.3,191.1 1694.1,192.0 1694.4,140.6 1694.7,190.9 1695.9,200.6 1696.2,122.8 1696.5,193.4 1697.2,142.3 1698.5,195.2 1699.5,203.8 1699.8,153.4 1700.1,199.4 1701.1,195.2 1702.7,189.9 1703.0,131.6 1703.3,176.9 1705.0,154.7 1705.9,194.2 1706.2,157.7 1706.5,186.8 1708.1,177.0 1708.4,145.5 1708.7,167.1 1710.2,151.3 1711.3,198.4 1711.6,151.3 1711.9,195.4 1712.8,156.1 1714.5,189.9 1714.8,149.1 1715.1,181.3 1716.6,181.3 1716.9,121.3 1717.2,177.4 1718.0,126.6 1719.3,172.7 1719.8,196.3 1720.1,92.4 1720.4,183.2 1721.9,175.7 1722.6,181.3 1722.9,136.3 1723.2,179.8 1724.8,187.7 1725.1,134.2 1725.4,173.8 1727.3,189.9 1727.6,157.7 1727.9,179.2 1728.4,163.7 1729.7,194.7 1731.0,171.6 1731.6,201.7 1731.9,168.4 1732.2,200.8 1733.6,169.9 1734.8,185.6 1735.1,159.8 1735.4,178.9 1736.2,164.7 1737.5,180.5 1738.0,183.5 1738.3,157.7 1738.6,179.4 1740.1,183.2 1741.7,189.9 1742.0,118.7 1742.3,188.1 1744.4,199.5 1744.7,155.6 1745.0,197.6 1746.6,154.8 1747.9,190.7 1748.7,200.6 1749.0,137.8 1749.3,186.4 1750.5,198.0 1751.9,198.4 1752.2,164.1 1752.5,191.4 1753.1,189.3 1754.1,177.0 1754.4,140.6 1754.7,167.3 1755.7,181.0 1757.3,192.0 1757.6,147.0 1757.9,186.5 1759.6,152.9 1761.1,189.9 1761.4,150.2 1761.7,176.7 1763.5,196.0 1764.8,201.7 1765.1,162.0 1765.4,191.5 1766.1,191.9 1767.4,166.4 1768.7,192.8 1769.7,189.9 1770.0,168.4 1770.3,183.1 1771.3,187.8 1772.6,178.7 1773.3,194.2 1773.6,179.1 1773.9,192.9 1775.2,182.9 1776.5,194.1 1777.8,184.8 1778.7,200.6 1779.0,183.4 1779.3,197.2 1780.4,186.7 1781.7,201.7 1783.0,202.7 1783.3,183.4 1783.6,201.9 1784.3,198.3 1785.6,184.2 1787.3,198.4 1787.6,182.3 1787.9,197.6 1789.5,197.1 1790.8,187.8 1791.5,202.7 1791.8,186.6 1792.1,198.6 1793.4,189.5 1794.7,205.9 1795.0,188.7 1795.3,204.7 1796.0,192.3 1797.3,204.9 1798.0,205.3 1798.3,196.2 1798.6,204.0 1799.9,204.4 1801.2,196.8 1802.2,205.3 1802.5,196.2 1802.8,202.6 1803.8,194.0 1805.4,200.6 1805.7,185.5 1806.0,199.3 1807.7,196.1 1809.0,183.9 1810.3,191.1 1811.9,189.9 1812.2,180.6 1812.5,186.8 1814.2,182.0 1815.5,188.5 1816.1,189.9 1816.4,182.3 1816.7,188.3 1818.1,191.8 1819.4,194.2 1819.7,180.6 1820.0,190.9 1820.7,194.7 1822.0,184.9 1822.6,201.7 1822.9,185.5 1823.2,199.0 1824.6,187.6 1825.9,196.5 1827.2,186.9 1827.9,196.3 1828.2,186.6 1828.5,195.0 1829.8,190.0 1831.1,198.4 1831.4,189.8 1831.7,196.7 1832.4,182.7 1833.9,192.0 1834.2,162.0 1834.5,186.3 1835.0,168.1 1836.3,197.3 1837.6,205.9 1837.9,179.1 1838.2,198.0 1838.9,200.2 1840.2,185.3 1840.8,202.7 1841.1,181.2 1841.4,196.3 1842.8,179.2 1844.1,193.4 1845.7,189.9 1846.0,172.7 1846.3,183.9 1848.0,180.7 1849.3,200.6 1849.6,181.2 1849.9,200.2 1850.6,183.3 1851.9,194.8 1853.6,198.4 1853.9,174.4 1854.2,191.1 1855.8,180.0 1857.1,199.2 1857.9,204.9 1858.2,174.8 1858.5,197.2 1859.7,201.6 1861.0,181.7 1862.2,198.4 1862.5,183.4 1862.8,194.2 1863.6,185.1 1864.9,198.8 1866.4,200.6 1866.7,187.7 1867.0,196.9 1868.8,190.4 1870.1,201.5 1870.7,202.7 1871.0,191.9 1871.3,199.5 1872.7,200.9 1874.0,192.3 1875.0,200.6 1875.3,189.8 1875.6,198.3 1876.6,192.0 1878.2,205.3 1878.5,187.7 1878.8,205.2 1880.5,201.0 1881.8,195.3 1882.5,200.6 1882.8,196.2 1883.1,200.2 1884.4,195.4 1886.1,202.7 1886.4,191.3 1886.7,198.8 1888.3,201.4 1890.0,203.8 1890.3,196.2 1890.6,201.9 1892.2,194.0 1893.8,202.7 1894.1,190.2 1894.4,200.9 1896.2,202.7 1896.5,198.4 1896.5,201.4" fill="none" stroke="#0000ff" stroke-width="4.2" stroke-linejoin="round" stroke-linecap="butt" clip-path="url(#cR1)"/>
<path d="M1330.1 264.0V410.2M1513.2 264.0V410.2M1696.4 264.0V410.2M1879.5 264.0V410.2" stroke="#dedede" stroke-width="3.7" fill="none"/>
<path d="M1330.1 410.2v-9.0M1330.1 264.0v9.0M1513.2 410.2v-9.0M1513.2 264.0v9.0M1696.4 410.2v-9.0M1696.4 264.0v9.0M1879.5 410.2v-9.0M1879.5 264.0v9.0" stroke="#262626" stroke-width="3.7" fill="none"/>
<rect x="1146.0" y="264.0" width="750.5" height="146.2" stroke="#262626" stroke-width="3.7" fill="none"/>
<polyline points="1146.0,400.6 1146.0,389.8 1146.3,399.8 1147.3,399.2 1148.3,398.4 1148.6,379.1 1148.9,396.9 1149.9,396.5 1151.2,376.3 1152.5,397.5 1153.6,398.4 1153.9,372.7 1154.2,395.6 1155.1,398.6 1156.4,381.8 1157.9,400.6 1158.2,383.4 1158.5,398.3 1159.0,385.8 1160.3,398.4 1161.1,401.7 1161.4,384.5 1161.7,396.9 1162.9,400.5 1164.2,387.1 1165.4,400.6 1165.7,387.7 1166.0,396.7 1166.8,389.2 1168.1,401.1 1169.4,391.4 1170.7,404.7 1171.8,405.9 1172.1,394.1 1172.4,403.6 1173.3,398.5 1175.0,389.9 1175.3,370.5 1175.6,384.5 1177.2,370.9 1178.5,395.1 1179.3,398.4 1179.6,363.5 1179.9,390.9 1181.1,393.9 1182.4,372.2 1183.6,400.6 1183.9,374.8 1184.2,396.8 1185.0,376.5 1186.3,394.3 1187.9,392.0 1188.2,377.0 1188.5,388.2 1190.2,373.2 1191.7,392.0 1192.0,365.8 1192.3,390.6 1192.8,370.7 1194.1,392.1 1195.4,400.6 1195.7,381.2 1196.0,400.4 1196.7,396.8 1198.0,375.4 1199.6,394.2 1199.9,365.2 1200.2,385.4 1201.9,400.4 1203.2,366.7 1203.9,408.1 1204.2,364.8 1204.5,400.5 1205.8,374.3 1207.1,401.4 1208.2,400.6 1208.5,373.8 1208.8,397.2 1209.7,395.3 1211.0,364.4 1212.3,389.5 1213.5,392.0 1213.8,347.4 1214.1,389.4 1214.9,385.9 1216.2,360.0 1216.8,398.4 1217.1,364.1 1217.4,387.2 1218.8,366.3 1220.1,397.0 1220.6,398.4 1220.9,355.6 1221.2,390.0 1222.7,391.7 1224.2,389.9 1224.5,338.0 1224.8,385.8 1226.6,361.6 1227.5,392.0 1227.8,364.1 1228.1,390.8 1229.2,359.6 1230.7,396.3 1231.0,353.8 1231.3,382.1 1231.8,357.0 1233.1,391.3 1234.4,365.2 1234.9,389.9 1235.2,358.8 1235.5,382.5 1237.0,362.6 1238.3,391.6 1239.2,402.7 1239.5,366.3 1239.8,399.7 1240.9,399.5 1242.4,402.7 1242.7,372.7 1243.0,394.4 1244.8,363.3 1245.7,381.3 1246.0,348.7 1246.3,375.6 1247.4,351.4 1248.7,376.5 1250.0,335.0 1251.0,387.7 1251.3,326.7 1251.6,373.3 1252.6,348.5 1253.9,388.2 1255.3,398.4 1255.6,368.4 1255.9,388.0 1256.5,394.1 1257.9,389.9 1258.2,366.3 1258.5,388.8 1259.1,379.3 1260.6,379.2 1260.9,333.7 1261.2,376.1 1263.0,357.6 1263.8,394.2 1264.1,357.7 1264.4,387.0 1265.6,359.4 1267.1,398.4 1267.4,355.6 1267.7,394.3 1268.2,359.4 1269.5,399.6 1270.8,361.2 1271.3,402.7 1271.6,362.0 1271.9,399.0 1273.4,367.0 1274.7,391.9 1275.6,389.9 1275.9,368.4 1276.2,387.3 1277.3,387.2 1278.8,396.3 1279.1,365.2 1279.4,394.1 1281.6,389.9 1281.9,345.5 1282.2,382.3 1283.8,362.0 1285.2,404.9 1285.5,364.1 1285.8,395.3 1286.4,370.5 1287.7,388.3 1289.0,359.6 1289.5,381.3 1289.8,357.7 1290.1,375.9 1291.6,353.1 1292.7,385.6 1293.0,346.6 1293.3,382.2 1294.2,353.6 1295.5,384.6 1297.0,398.4 1297.3,353.4 1297.6,383.4 1299.4,360.7 1300.2,401.7 1300.5,351.3 1300.8,384.8 1302.0,343.4 1303.3,376.4 1304.1,370.6 1304.4,304.6 1304.7,359.6 1305.9,373.0 1307.2,334.6 1307.7,396.3 1308.0,338.4 1308.3,379.8 1309.8,332.5 1310.9,372.8 1311.2,325.6 1311.5,360.6 1312.4,331.4 1314.1,359.9 1314.4,312.8 1314.7,353.3 1316.3,353.5 1317.6,315.6 1318.4,359.9 1318.7,311.7 1319.0,350.9 1320.2,320.5 1321.5,355.4 1322.7,372.8 1323.0,310.6 1323.3,366.0 1324.1,355.7 1325.4,323.5 1325.9,355.6 1326.2,313.8 1326.5,353.7 1328.0,301.5 1329.1,377.0 1329.4,278.1 1329.7,367.5 1330.6,285.4 1332.3,370.6 1332.6,291.3 1332.9,356.3 1334.5,363.2 1335.5,371.7 1335.8,319.2 1336.1,369.5 1337.1,356.0 1338.8,355.6 1339.1,319.2 1339.4,353.7 1341.0,311.9 1342.3,355.5 1343.0,372.8 1343.3,272.5 1343.6,357.1 1345.2,395.2 1345.5,314.9 1345.8,380.7 1347.5,376.3 1348.4,389.9 1348.7,319.2 1349.0,387.7 1350.1,378.2 1351.6,370.6 1351.9,317.0 1352.2,365.2 1352.7,367.6 1354.0,320.0 1354.8,372.8 1355.1,306.8 1355.4,372.0 1356.6,319.9 1357.9,363.0 1359.1,374.9 1359.4,310.6 1359.7,361.9 1360.5,364.5 1361.8,306.8 1362.9,366.3 1363.2,303.8 1363.5,346.3 1364.4,318.2 1365.5,385.6 1365.8,327.7 1366.1,372.5 1367.0,333.0 1368.7,383.5 1369.0,313.8 1369.3,382.4 1370.9,389.3 1371.9,396.3 1372.2,334.2 1372.5,378.7 1373.5,385.8 1375.1,389.9 1375.4,342.7 1375.7,379.7 1377.3,389.9 1377.6,327.7 1377.9,384.5 1378.7,386.7 1380.0,331.7 1380.5,387.7 1380.8,329.9 1381.1,383.1 1382.6,403.8 1382.9,355.6 1383.2,391.0 1383.9,397.3 1385.2,356.6 1386.5,385.6 1386.8,344.9 1387.1,382.8 1387.8,352.0 1389.1,396.3 1389.4,357.7 1389.7,384.4 1390.4,356.5 1391.7,384.0 1393.3,387.7 1393.6,345.9 1393.9,379.0 1395.9,385.6 1396.2,359.8 1396.5,384.9 1398.2,358.3 1398.7,400.6 1399.0,343.8 1399.3,395.2 1400.8,346.2 1402.1,389.9 1403.4,392.0 1403.7,345.5 1404.0,383.6 1404.7,386.5 1406.2,396.3 1406.5,368.4 1406.8,393.7 1407.3,387.9 1409.0,385.6 1409.3,320.7 1409.6,372.6 1411.5,387.7 1411.8,340.6 1412.1,375.0 1413.8,345.4 1414.7,374.9 1415.0,344.9 1415.3,372.1 1416.4,350.7 1418.0,398.4 1418.3,357.7 1418.6,392.5 1420.3,396.4 1421.6,362.5 1422.2,405.9 1422.5,362.0 1422.8,395.3 1424.2,364.9 1425.9,398.4 1426.2,350.6 1426.5,390.1 1428.1,394.1 1428.7,400.6 1429.0,380.2 1429.3,395.8 1430.7,396.2 1432.0,381.5 1432.9,400.6 1433.2,379.7 1433.5,398.9 1434.6,383.4 1435.9,398.9 1437.2,398.4 1437.5,387.7 1437.8,398.3 1438.5,398.2 1439.8,386.6 1441.5,407.0 1441.8,383.8 1442.1,402.4 1443.7,402.4 1445.0,385.4 1445.8,400.6 1446.1,383.8 1446.4,397.3 1447.6,386.9 1448.9,400.9 1450.1,407.0 1450.4,386.6 1450.7,401.3 1451.5,402.0 1452.8,389.3 1454.1,400.8 1455.4,400.6 1455.7,387.7 1456.0,396.7 1456.7,398.8 1458.0,391.2 1459.3,403.0 1460.8,407.0 1461.1,390.9 1461.4,405.7 1461.9,406.7 1463.2,396.0 1464.5,405.7 1465.0,408.1 1465.3,396.2 1465.6,406.0 1467.1,405.3 1468.4,394.3 1469.3,405.9 1469.6,393.0 1469.9,404.4 1471.0,394.1 1472.3,406.2 1473.6,408.1 1473.9,389.8 1474.2,405.7 1474.9,405.2 1476.2,387.5 1477.9,400.6 1478.2,382.7 1478.5,399.6 1480.1,398.7 1481.4,387.5 1482.7,401.9 1483.2,402.7 1483.5,386.6 1483.8,402.5 1485.3,401.3 1486.6,390.0 1487.5,404.9 1487.8,389.8 1488.1,404.8 1489.2,394.4 1490.5,406.1 1491.8,407.0 1492.1,402.6 1492.4,406.9 1493.1,407.0 1494.4,398.0 1496.1,407.0 1496.4,390.9 1496.7,404.7 1498.3,405.7 1499.6,392.6 1500.4,404.9 1500.7,390.9 1501.0,401.4 1502.2,397.0 1503.6,405.9 1503.9,402.6 1504.2,405.8 1504.8,402.1 1506.1,405.3 1507.4,401.0 1508.7,405.5 1510.0,407.0 1510.3,398.4 1510.6,406.7 1511.3,406.5 1512.6,402.6 1514.3,408.1 1514.6,404.8 1514.9,407.3 1516.5,407.6 1517.8,405.7 1518.6,408.1 1518.9,405.9 1519.2,407.4 1519.7,407.4 1520.0,397.3 1520.3,407.2 1521.7,406.0 1523.0,396.8 1524.0,407.4 1524.3,396.2 1524.6,405.8 1525.6,400.3 1526.9,407.5 1528.3,409.1 1528.6,404.8 1528.9,407.7 1529.5,408.0 1530.8,403.7 1532.1,408.0 1533.4,401.2 1534.7,407.4 1535.0,399.0 1535.3,404.5 1536.0,401.1 1537.3,408.4 1539.0,409.1 1539.3,404.8 1539.6,408.2 1541.2,404.1 1542.5,408.4 1543.8,402.1 1544.3,408.1 1544.6,400.9 1544.9,407.0 1546.4,402.1 1547.7,407.5 1549.0,402.6 1550.3,408.3 1551.8,409.1 1552.1,403.7 1552.4,407.6 1552.9,409.0 1554.2,404.7 1555.5,408.7 1556.8,404.8 1558.1,408.6 1559.4,404.6 1560.7,408.7 1562.0,405.4 1562.5,408.7 1562.8,404.8 1563.1,408.5 1564.6,404.8 1565.9,407.8 1567.2,405.1 1568.5,408.2 1569.8,405.5 1571.1,408.0 1572.4,405.3 1573.7,408.5 1575.0,405.1 1576.3,408.5 1577.6,405.4 1578.6,408.7 1578.9,404.4 1579.2,407.7 1580.2,405.1 1581.5,408.2 1582.8,404.9 1584.1,408.2 1585.4,405.8 1586.7,408.3 1588.0,405.6 1589.3,408.3 1590.3,408.7 1590.6,405.9 1590.9,408.1 1591.9,408.2 1593.2,406.6 1594.5,408.7 1595.8,406.7 1597.1,408.6 1598.4,407.4 1599.7,408.9 1601.0,407.5 1602.3,408.8 1603.6,407.9 1605.3,409.1 1605.6,408.0 1605.9,408.8 1607.5,408.9 1608.8,407.8 1610.1,409.0 1611.4,407.8 1612.7,408.7 1614.0,407.5 1615.3,408.8 1616.6,407.3 1617.9,408.6 1619.2,407.2 1620.3,408.7 1620.6,406.9 1620.9,408.7 1621.8,407.3 1623.1,408.4 1624.4,407.4 1625.7,408.6 1627.0,407.9 1628.3,408.7 1629.6,408.1 1630.9,408.7 1632.2,408.4 1633.5,408.9 1634.8,408.6 1636.1,408.9 1637.4,408.9 1637.7,408.9 1638.0,408.9 1638.7,408.9 1640.0,408.9 1641.3,408.9 1642.6,408.8 1643.9,408.9 1645.2,408.7 1646.5,408.8 1647.8,408.7 1649.1,408.8 1650.4,408.6 1651.7,408.8 1653.0,408.6 1654.3,408.8 1655.6,408.5 1656.9,408.8 1658.2,408.5 1659.5,408.7 1660.8,408.4 1662.1,408.7 1663.4,408.4 1664.7,408.7 1666.0,408.4 1667.3,408.7 1668.6,408.3 1669.5,408.7 1669.8,408.2 1670.1,408.6 1671.2,408.2 1672.5,408.7 1673.8,408.3 1675.1,408.7 1676.4,408.4 1677.7,408.7 1679.0,408.4 1680.3,408.8 1681.6,408.5 1682.9,408.8 1684.2,408.5 1685.5,408.7 1686.8,408.5 1688.1,408.8 1689.4,408.6 1690.7,408.8 1692.0,408.6 1693.3,408.8 1694.6,408.6 1695.9,408.8 1697.2,408.7 1698.5,408.8 1699.8,408.7 1701.1,408.8 1702.4,408.8 1703.7,408.8 1705.0,408.8 1706.3,408.9 1707.6,408.8 1708.9,408.9 1710.2,408.9 1711.5,408.9 1712.3,408.9 1712.6,408.9 1712.9,408.9 1714.1,408.9 1715.4,408.9 1716.7,408.9 1718.0,408.9 1719.3,408.9 1720.6,408.9 1721.9,408.9 1723.2,408.9 1724.5,409.0 1725.8,409.0 1727.1,409.0 1728.4,409.0 1729.7,409.0 1731.0,409.0 1732.3,409.0 1733.6,409.0 1734.9,409.0 1736.2,409.0 1737.5,409.0 1738.8,409.0 1740.1,409.0 1741.4,409.0 1742.7,409.0 1744.0,409.1 1745.3,409.1 1746.6,409.1 1747.9,409.1 1749.2,409.1 1750.5,409.1 1751.8,409.1 1753.1,409.1 1754.4,409.1 1755.1,409.1 1755.4,409.1 1755.7,409.1 1757.0,409.1 1758.3,409.1 1759.6,409.1 1760.9,409.1 1762.2,409.1 1763.5,409.1 1764.8,409.1 1766.1,409.1 1767.4,409.1 1768.7,409.1 1770.0,409.0 1771.3,409.0 1772.6,409.0 1773.9,409.0 1775.2,409.0 1776.5,409.0 1777.8,409.0 1779.1,409.0 1780.4,409.0 1781.7,409.0 1783.0,409.0 1784.3,409.0 1785.6,409.0 1786.9,409.0 1788.2,409.0 1789.5,409.0 1790.8,409.0 1792.1,409.0 1793.4,409.0 1794.7,408.9 1796.0,408.9 1797.3,408.9 1798.6,408.9 1799.9,408.9 1801.2,408.9 1802.5,408.9 1803.8,408.9 1805.1,408.9 1806.5,408.9 1806.8,408.9 1807.1,408.9 1807.7,408.9 1809.0,408.9 1810.3,408.9 1811.6,409.0 1812.9,409.0 1814.2,409.0 1815.5,409.0 1816.8,409.0 1818.1,409.0 1819.4,409.1 1820.7,409.1 1822.0,409.1 1823.3,409.1 1824.6,409.1 1825.9,409.1 1827.2,409.2 1828.5,409.2 1829.8,409.2 1831.1,409.2 1832.4,409.2 1833.7,409.2 1835.0,409.2 1836.3,409.3 1837.6,409.3 1838.9,409.3 1840.2,409.3 1840.8,409.3 1841.1,409.3 1841.4,409.3 1842.8,409.3 1844.1,409.3 1845.4,409.3 1846.7,409.3 1848.0,409.3 1849.3,409.3 1850.6,409.3 1851.9,409.3 1853.2,409.3 1854.5,409.3 1855.8,409.3 1857.1,409.3 1858.4,409.3 1859.7,409.3 1861.0,409.3 1862.3,409.3 1863.6,409.3 1864.9,409.3 1866.2,409.3 1867.5,409.3 1868.8,409.3 1870.1,409.3 1871.4,409.3 1872.7,409.3 1874.0,409.3 1875.3,409.3 1876.6,409.3 1877.9,409.3 1879.2,409.3 1880.5,409.3 1881.8,409.3 1883.1,409.3 1884.4,409.3 1885.7,409.3 1887.0,409.3 1888.3,409.3 1889.6,409.3 1890.9,409.3 1892.2,409.3 1893.5,409.3 1894.8,409.3 1896.2,409.3 1896.5,409.3 1896.5,409.3" fill="none" stroke="#0000ff" stroke-width="4.2" stroke-linejoin="round" stroke-linecap="butt" clip-path="url(#cR2)"/>
<path d="M1330.1 467.0V612.8M1513.2 467.0V612.8M1696.4 467.0V612.8M1879.5 467.0V612.8" stroke="#dedede" stroke-width="3.7" fill="none"/>
<path d="M1330.1 612.8v-9.0M1330.1 467.0v9.0M1513.2 612.8v-9.0M1513.2 467.0v9.0M1696.4 612.8v-9.0M1696.4 467.0v9.0M1879.5 612.8v-9.0M1879.5 467.0v9.0" stroke="#262626" stroke-width="3.7" fill="none"/>
<rect x="1146.0" y="467.0" width="750.5" height="145.8" stroke="#262626" stroke-width="3.7" fill="none"/>
<polyline points="1146.0,609.0 1146.0,604.6 1146.3,607.6 1147.3,607.8 1148.6,604.1 1149.9,607.4 1150.4,607.9 1150.7,602.5 1151.0,607.8 1152.5,607.8 1153.8,602.1 1155.1,606.8 1156.8,607.9 1157.1,601.4 1157.4,607.6 1159.0,601.7 1160.3,605.1 1161.1,604.7 1161.4,599.3 1161.7,603.1 1162.9,603.6 1164.2,597.6 1165.5,604.4 1166.5,604.7 1166.8,593.5 1167.1,604.6 1168.1,605.8 1169.7,610.1 1170.0,598.2 1170.3,610.0 1172.2,602.6 1172.5,585.8 1172.8,600.2 1175.0,602.6 1175.3,596.1 1175.6,602.5 1177.2,593.0 1178.5,601.4 1179.3,604.7 1179.6,588.6 1179.9,603.0 1181.1,601.3 1182.5,600.4 1182.8,588.0 1183.1,597.1 1183.7,600.8 1185.0,590.7 1186.3,603.1 1186.8,606.9 1187.1,591.8 1187.4,605.4 1188.9,606.9 1190.0,607.9 1190.3,584.3 1190.6,604.5 1191.5,603.5 1193.2,600.4 1193.5,572.5 1193.8,591.6 1195.4,571.3 1196.7,592.1 1197.5,594.0 1197.8,558.6 1198.1,585.7 1199.3,587.1 1200.6,557.5 1201.8,591.9 1202.1,551.6 1202.4,588.0 1203.2,561.1 1203.9,603.7 1204.2,561.8 1204.5,593.0 1205.8,545.8 1206.5,587.6 1206.8,530.8 1207.1,582.7 1208.4,539.0 1209.7,584.9 1210.3,591.9 1210.6,537.2 1210.9,573.0 1212.3,583.0 1213.6,544.5 1214.6,594.0 1214.9,537.2 1215.2,579.3 1216.2,538.3 1217.5,591.2 1218.8,529.8 1219.3,597.2 1219.6,522.7 1219.9,574.2 1221.4,543.4 1222.1,583.3 1222.4,536.2 1222.7,570.4 1224.0,537.0 1224.7,591.9 1225.0,514.8 1225.3,583.3 1226.6,517.5 1227.5,583.3 1227.8,501.9 1228.1,568.7 1229.0,566.2 1229.3,478.8 1229.6,554.6 1230.5,563.2 1231.7,570.5 1232.0,508.3 1232.3,562.6 1233.1,567.6 1234.4,528.0 1234.9,590.8 1235.2,523.3 1235.5,571.5 1237.1,561.9 1237.4,513.7 1237.7,559.6 1238.3,565.8 1239.9,574.8 1240.2,531.9 1240.5,562.7 1242.4,579.0 1242.7,534.0 1243.0,566.3 1244.8,514.0 1246.1,566.2 1246.4,483.7 1246.7,552.3 1247.4,502.0 1248.7,591.5 1249.3,604.7 1249.6,491.2 1249.9,595.1 1251.3,603.4 1252.1,605.8 1252.4,493.3 1252.7,594.1 1253.9,583.8 1255.3,596.2 1255.6,540.4 1255.9,590.8 1256.8,602.6 1257.1,526.1 1257.4,589.2 1259.6,596.2 1259.9,559.7 1260.2,594.1 1261.7,595.9 1263.0,563.9 1263.8,598.3 1264.1,564.0 1264.4,587.2 1265.6,567.6 1266.9,580.7 1268.1,579.0 1268.4,560.8 1268.7,576.8 1269.5,588.3 1270.8,572.2 1271.3,609.0 1271.6,570.4 1271.9,600.4 1273.4,576.6 1274.5,596.2 1274.8,569.3 1275.1,591.0 1276.0,570.4 1277.3,588.7 1278.8,583.3 1279.1,566.1 1279.4,581.6 1281.2,563.9 1282.5,600.4 1282.8,556.9 1283.1,591.6 1283.8,565.6 1285.1,597.0 1286.3,602.6 1286.6,572.5 1286.9,602.5 1287.7,599.5 1289.0,567.1 1290.6,602.6 1290.9,561.8 1291.2,599.9 1292.9,603.6 1293.8,604.7 1294.1,589.7 1294.4,599.9 1295.5,603.3 1296.8,589.2 1298.1,606.9 1298.4,587.5 1298.7,602.5 1299.4,588.8 1300.7,605.3 1302.0,589.7 1303.4,604.7 1303.7,586.9 1304.0,604.6 1304.6,591.0 1305.9,604.8 1306.7,607.9 1307.0,596.1 1307.3,606.3 1308.5,605.2 1309.9,604.7 1310.2,589.7 1310.5,601.9 1311.1,603.8 1312.4,592.6 1313.7,604.2 1314.8,606.9 1315.1,588.0 1315.4,604.8 1316.3,605.6 1317.4,606.9 1317.7,598.2 1318.0,604.6 1318.9,605.6 1320.6,604.7 1320.9,593.9 1321.2,602.9 1322.8,598.6 1323.8,609.0 1324.1,598.2 1324.4,608.7 1325.4,599.2 1326.7,608.9 1328.0,601.6 1329.1,609.0 1329.4,601.4 1329.7,607.1 1330.6,603.6 1332.3,609.0 1332.6,606.8 1332.9,608.7 1334.5,607.4 1335.8,600.0 1336.6,607.9 1336.9,597.2 1337.2,606.9 1338.4,601.3 1339.7,608.6 1340.9,610.1 1341.2,606.8 1341.5,610.0 1342.3,609.8 1343.6,606.1 1344.9,608.6 1346.2,609.0 1346.5,604.6 1346.8,607.8 1347.5,609.0 1348.8,605.7 1350.1,608.9 1351.6,609.0 1351.9,605.3 1352.2,607.8 1352.7,608.5 1354.0,607.1 1355.3,609.8 1355.9,610.1 1356.2,608.5 1356.5,609.9 1357.9,610.0 1359.2,608.9 1360.5,609.9 1361.8,609.0 1362.3,610.1 1362.6,608.9 1362.9,609.9 1364.4,608.8 1365.7,609.8 1367.0,608.1 1368.3,609.7 1369.6,607.7 1370.9,610.1 1371.2,607.2 1371.5,609.2 1372.2,607.3 1373.5,609.6 1374.8,608.0 1376.1,609.9 1377.3,610.1 1377.6,607.9 1377.9,610.0 1378.7,609.8 1380.0,608.5 1381.3,610.2 1382.6,608.5 1383.9,610.2 1385.2,608.8 1385.8,610.7 1386.1,608.9 1386.4,610.4 1387.8,609.4 1389.1,610.8 1390.4,609.6 1391.7,610.8 1393.0,610.0 1394.3,611.0 1395.6,610.4 1396.5,611.1 1396.8,610.4 1397.1,611.0 1398.2,610.6 1399.5,611.1 1400.8,610.6 1402.1,611.1 1403.4,610.8 1404.7,611.1 1406.0,610.8 1407.3,611.1 1408.6,610.9 1409.9,611.1 1411.2,611.0 1412.5,611.1 1413.7,611.1 1414.0,611.1 1414.3,611.1 1415.1,611.2 1416.4,611.1 1417.7,611.2 1419.0,611.2 1420.3,611.3 1421.6,611.2 1422.9,611.3 1424.2,611.3 1425.5,611.3 1426.8,611.3 1428.1,611.4 1429.4,611.3 1430.7,611.4 1432.0,611.4 1433.3,611.5 1434.6,611.4 1435.9,611.5 1437.2,611.5 1438.5,611.6 1439.4,611.6 1439.7,611.5 1440.0,611.6 1441.1,611.6 1442.4,611.5 1443.7,611.6 1445.0,611.5 1446.3,611.6 1447.6,611.5 1448.9,611.6 1450.2,611.5 1451.5,611.6 1452.8,611.6 1454.1,611.6 1455.4,611.6 1456.7,611.6 1458.0,611.6 1459.3,611.6 1460.6,611.6 1461.9,611.6 1463.2,611.6 1464.5,611.6 1465.8,611.6 1467.1,611.6 1468.4,611.6 1469.7,611.6 1471.5,611.6 1471.8,611.6 1472.1,611.6 1473.6,611.7 1474.9,611.7 1476.2,611.7 1477.5,611.7 1478.8,611.7 1480.1,611.7 1481.4,611.7 1482.7,611.7 1484.0,611.7 1485.3,611.7 1486.6,611.7 1487.9,611.7 1489.2,611.7 1490.5,611.7 1491.8,611.7 1493.1,611.7 1494.4,611.7 1495.7,611.7 1497.0,611.7 1498.3,611.7 1499.6,611.7 1500.9,611.8 1502.2,611.8 1503.5,611.8 1504.8,611.8 1506.1,611.8 1507.4,611.8 1508.7,611.8 1510.0,611.8 1511.3,611.8 1512.6,611.8 1513.9,611.8 1515.2,611.8 1516.5,611.8 1517.8,611.8 1519.1,611.8 1520.4,611.8 1521.7,611.8 1523.0,611.8 1524.3,611.8 1525.6,611.8 1526.9,611.8 1528.2,611.9 1529.7,611.9 1530.0,611.9 1530.3,611.9 1530.8,611.9 1532.1,611.9 1533.4,611.9 1534.7,611.9 1536.0,611.9 1537.3,611.9 1538.6,611.9 1539.9,611.9 1541.2,611.9 1542.5,611.9 1543.8,611.9 1545.1,611.9 1546.4,611.9 1547.7,611.9 1549.0,611.9 1550.3,611.9 1551.6,611.9 1552.9,611.9 1554.2,611.9 1555.5,611.9 1556.8,611.9 1558.1,611.9 1559.4,611.9 1560.7,611.9 1562.0,611.9 1563.3,611.9 1564.6,611.9 1565.9,611.9 1567.2,611.9 1568.5,611.9 1569.8,611.9 1571.1,611.9 1572.4,611.9 1573.7,611.9 1575.0,611.9 1576.3,611.9 1577.6,611.9 1578.9,611.9 1580.2,611.9 1581.5,611.9 1582.8,611.9 1584.1,611.9 1585.4,611.9 1586.7,611.9 1588.0,611.9 1589.3,611.9 1590.6,611.9 1591.9,611.9 1593.2,611.9 1594.5,611.9 1595.8,611.9 1597.1,611.9 1598.4,611.9 1599.7,611.9 1601.0,611.9 1602.3,611.9 1603.6,611.9 1604.9,611.9 1606.2,611.9 1607.5,611.9 1608.8,611.9 1610.1,611.9 1611.4,611.9 1612.7,611.9 1614.0,611.9 1615.3,611.9 1616.6,611.9 1617.9,611.9 1619.2,611.9 1620.5,611.9 1621.8,611.9 1623.1,611.9 1624.4,611.9 1625.7,611.9 1627.0,611.9 1628.3,611.9 1629.6,611.9 1630.9,611.9 1632.2,611.9 1633.5,611.9 1634.8,611.9 1636.1,611.9 1637.4,611.9 1638.7,611.9 1640.0,611.9 1641.3,611.9 1642.6,611.9 1643.9,611.9 1645.2,611.9 1646.5,611.9 1647.8,611.9 1649.1,611.9 1650.4,611.9 1651.7,611.9 1653.0,611.9 1654.3,611.9 1655.6,611.9 1656.9,611.9 1658.2,611.9 1659.5,611.9 1660.8,611.9 1662.1,611.9 1663.4,611.9 1664.7,611.9 1666.0,611.9 1667.3,611.9 1668.6,611.9 1669.9,611.9 1671.2,611.9 1672.5,611.9 1673.8,611.9 1675.1,611.9 1676.4,611.9 1677.7,611.9 1679.0,611.9 1680.3,611.9 1681.6,611.9 1682.9,611.9 1684.2,611.9 1685.5,611.9 1686.8,611.9 1688.1,611.9 1689.4,611.9 1690.7,611.9 1692.0,611.9 1693.3,611.9 1694.6,611.9 1695.9,611.9 1697.2,611.9 1698.5,611.9 1699.8,611.9 1701.1,611.9 1702.4,611.9 1703.7,611.9 1705.0,611.9 1706.3,611.9 1707.6,611.9 1708.9,611.9 1710.2,611.9 1711.5,611.9 1712.8,611.9 1714.1,611.9 1715.4,611.9 1716.7,611.9 1718.0,611.9 1719.3,611.9 1720.6,611.9 1721.9,611.9 1723.2,611.9 1724.5,611.9 1725.8,611.9 1727.1,611.9 1728.4,611.9 1729.7,611.9 1731.0,611.9 1732.3,611.9 1733.6,611.9 1734.9,611.9 1736.2,611.9 1737.5,611.9 1738.8,611.9 1740.1,611.9 1741.4,611.9 1742.7,611.9 1744.0,611.9 1745.3,611.9 1746.6,611.9 1747.9,611.9 1749.2,611.9 1750.5,611.9 1751.8,611.9 1753.1,611.9 1754.4,611.9 1755.7,611.9 1757.0,611.9 1758.3,611.9 1759.6,611.9 1760.9,611.9 1762.2,611.9 1763.5,611.9 1764.8,611.9 1766.1,611.9 1767.4,611.9 1768.7,611.9 1770.0,611.9 1771.3,611.9 1772.6,611.9 1773.9,611.9 1775.2,611.9 1776.5,611.9 1777.8,611.9 1779.1,611.9 1780.4,611.9 1781.7,611.9 1783.0,611.9 1784.3,611.9 1785.6,611.9 1786.9,611.9 1788.2,611.9 1789.5,611.9 1790.8,611.9 1792.1,611.9 1793.4,611.9 1794.7,611.9 1796.0,611.9 1797.3,611.9 1798.6,611.9 1799.9,611.9 1801.2,611.9 1802.5,611.9 1803.8,611.9 1805.1,611.9 1806.4,611.9 1807.7,611.9 1809.0,611.9 1810.3,611.9 1811.6,611.9 1812.9,611.9 1814.2,611.9 1815.5,611.9 1816.8,611.9 1818.1,611.9 1819.4,611.9 1820.7,611.9 1822.0,611.9 1823.3,611.9 1824.6,611.9 1825.9,611.9 1827.2,611.9 1828.5,611.9 1829.8,611.9 1831.1,611.9 1832.4,611.9 1833.7,611.9 1835.0,611.9 1836.3,611.9 1837.6,611.9 1838.9,611.9 1840.2,611.9 1841.5,611.9 1842.8,611.9 1844.1,611.9 1845.4,611.9 1846.7,611.9 1848.0,611.9 1849.3,611.9 1850.6,611.9 1851.9,611.9 1853.2,611.9 1854.5,611.9 1855.8,611.9 1857.1,611.9 1858.4,611.9 1859.7,611.9 1861.0,611.9 1862.3,611.9 1863.6,611.9 1864.9,611.9 1866.2,611.9 1867.5,611.9 1868.8,611.9 1870.1,611.9 1871.4,611.9 1872.7,611.9 1874.0,611.9 1875.3,611.9 1876.6,611.9 1877.9,611.9 1879.2,611.9 1880.5,611.9 1881.8,611.9 1883.1,611.9 1884.4,611.9 1885.7,611.9 1887.0,611.9 1888.3,611.9 1889.6,611.9 1890.9,611.9 1892.2,611.9 1893.5,611.9 1894.8,611.9 1896.1,611.9 1896.2,611.9 1896.5,611.9 1896.5,611.9" fill="none" stroke="#0000ff" stroke-width="4.2" stroke-linejoin="round" stroke-linecap="butt" clip-path="url(#cR3)"/>
<path d="M1330.1 669.0V815.5M1513.2 669.0V815.5M1696.4 669.0V815.5M1879.5 669.0V815.5M1146.0 742.2H1896.5" stroke="#dedede" stroke-width="3.7" fill="none"/>
<path d="M1330.1 815.5v-9.0M1330.1 669.0v9.0M1513.2 815.5v-9.0M1513.2 669.0v9.0M1696.4 815.5v-9.0M1696.4 669.0v9.0M1879.5 815.5v-9.0M1879.5 669.0v9.0M1146.0 742.2h9.0M1896.5 742.2h-9.0" stroke="#262626" stroke-width="3.7" fill="none"/>
<rect x="1146.0" y="669.0" width="750.5" height="146.5" stroke="#262626" stroke-width="3.7" fill="none"/>
<polyline points="1146.1,812.4 1146.4,810.9 1146.7,812.1 1147.3,811.7 1148.6,808.8 1149.9,809.9 1150.4,809.9 1150.7,806.6 1151.0,809.6 1152.5,808.4 1153.8,805.1 1154.7,807.7 1155.0,803.4 1155.3,807.2 1156.4,803.0 1157.9,805.6 1158.2,800.2 1158.5,804.3 1159.0,802.1 1160.3,809.7 1161.1,812.4 1161.4,803.4 1161.7,810.1 1162.9,810.4 1164.2,801.9 1165.4,807.7 1165.7,799.1 1166.0,806.4 1166.8,798.9 1168.1,805.7 1169.7,805.6 1170.0,791.6 1170.3,803.9 1172.0,782.1 1172.9,809.9 1173.2,771.7 1173.5,799.9 1174.6,776.5 1175.7,812.0 1176.0,775.5 1176.3,811.7 1177.2,769.3 1178.2,790.6 1178.5,758.8 1178.8,783.1 1179.8,768.4 1181.4,799.2 1181.7,767.0 1182.0,788.4 1184.0,809.9 1184.3,769.1 1184.6,800.3 1186.3,798.4 1186.8,794.9 1187.1,779.8 1187.4,794.6 1188.9,786.3 1189.2,768.1 1189.5,783.9 1190.2,773.1 1191.5,787.3 1192.1,792.7 1192.4,773.4 1192.7,792.2 1193.6,786.3 1193.9,741.3 1194.2,786.2 1195.4,743.6 1196.0,784.2 1196.3,738.1 1196.6,782.3 1198.0,704.6 1198.6,807.7 1198.9,672.8 1199.2,787.6 1200.7,797.0 1201.0,764.8 1201.3,788.2 1201.9,797.5 1203.3,801.3 1203.6,770.2 1203.9,800.9 1204.5,797.8 1206.1,803.4 1206.4,777.7 1206.7,798.8 1208.4,786.0 1209.3,799.2 1209.6,788.4 1209.9,796.3 1211.0,784.4 1211.8,805.6 1212.1,779.4 1212.4,801.1 1213.6,785.8 1214.6,805.6 1214.9,786.2 1215.2,800.1 1216.2,788.9 1217.8,799.2 1218.1,783.0 1218.4,796.9 1220.1,800.4 1221.5,805.6 1221.8,778.8 1222.1,805.3 1222.7,801.9 1224.0,791.6 1225.3,812.0 1225.6,792.7 1225.9,808.1 1226.6,794.4 1227.9,808.0 1229.2,793.3 1230.0,805.6 1230.3,790.5 1230.6,804.5 1231.8,795.1 1233.1,806.5 1233.9,807.7 1234.2,802.3 1234.5,807.1 1235.7,808.4 1237.0,805.7 1238.2,812.0 1238.5,806.6 1238.8,811.3 1239.6,806.8 1240.9,811.7 1242.4,813.1 1242.7,805.9 1243.0,811.1 1244.8,808.5 1246.1,811.7 1246.7,812.0 1247.0,810.9 1247.3,811.9 1248.7,812.1 1249.9,812.4 1250.2,808.7 1250.5,812.1 1251.3,812.2 1252.6,809.9 1253.9,812.4 1255.3,813.1 1255.6,810.9 1255.9,812.5 1256.5,813.0 1257.8,811.4 1259.1,813.2 1260.4,812.2 1261.7,813.7 1262.0,812.4 1262.3,813.4 1263.0,812.5 1264.3,813.7 1265.6,812.8 1266.9,813.7 1268.2,813.2 1269.5,813.9 1270.8,813.5 1272.4,814.1 1272.7,813.6 1273.0,814.1 1274.7,814.2 1276.0,813.8 1277.3,814.2 1278.6,814.0 1279.9,814.3 1281.2,814.1 1282.5,814.4 1283.8,814.2 1285.1,814.5 1286.4,814.3 1287.7,814.5 1289.0,814.5 1289.5,814.6 1289.8,814.5 1290.1,814.6 1291.6,814.5 1292.9,814.6 1294.2,814.5 1295.5,814.6 1296.8,814.5 1298.1,814.6 1299.4,814.5 1300.7,814.6 1302.4,814.6 1302.7,814.5 1303.0,814.6 1304.6,814.5 1305.9,814.6 1307.2,814.5 1308.5,814.6 1309.8,814.5 1311.1,814.6 1312.4,814.5 1313.7,814.6 1315.0,814.5 1316.3,814.6 1317.6,814.5 1318.9,814.6 1320.2,814.5 1321.5,814.6 1322.8,814.5 1324.1,814.6 1325.4,814.5 1326.7,814.6 1328.0,814.5 1329.3,814.6 1330.6,814.5 1331.9,814.6 1333.2,814.5 1334.5,814.6 1335.8,814.5 1337.1,814.6 1338.4,814.5 1339.7,814.6 1341.0,814.6 1342.3,814.6 1343.6,814.6 1344.9,814.6 1346.2,814.6 1347.5,814.6 1348.8,814.5 1350.1,814.6 1351.4,814.6 1352.7,814.6 1354.0,814.6 1355.3,814.6 1356.6,814.6 1357.9,814.6 1359.2,814.6 1360.5,814.6 1361.8,814.6 1363.1,814.6 1364.4,814.6 1365.7,814.6 1367.0,814.6 1368.3,814.6 1369.6,814.6 1370.9,814.6 1372.2,814.6 1373.5,814.6 1374.8,814.6 1376.1,814.6 1377.4,814.6 1378.7,814.6 1380.0,814.6 1381.3,814.6 1382.6,814.6 1383.9,814.6 1385.2,814.6 1386.5,814.6 1387.8,814.6 1389.1,814.6 1390.4,814.6 1391.7,814.6 1393.0,814.6 1394.3,814.6 1395.6,814.6 1396.9,814.6 1398.2,814.6 1399.5,814.6 1400.8,814.6 1402.1,814.6 1403.4,814.6 1404.7,814.7 1406.0,814.6 1407.3,814.7 1408.6,814.6 1409.9,814.7 1411.2,814.6 1412.5,814.7 1413.8,814.6 1415.1,814.7 1416.4,814.6 1417.7,814.7 1419.0,814.6 1420.3,814.7 1421.6,814.6 1422.9,814.7 1424.2,814.6 1425.5,814.7 1426.8,814.6 1428.1,814.7 1429.4,814.6 1430.7,814.7 1432.0,814.6 1433.3,814.7 1434.6,814.6 1435.9,814.7 1437.2,814.7 1438.5,814.7 1439.8,814.7 1441.1,814.7 1442.4,814.7 1443.7,814.7 1445.0,814.7 1446.3,814.7 1447.6,814.7 1448.9,814.7 1450.2,814.7 1451.5,814.7 1452.8,814.7 1454.1,814.7 1455.4,814.7 1456.7,814.7 1458.0,814.7 1459.3,814.7 1460.6,814.7 1461.9,814.7 1463.2,814.7 1464.5,814.7 1465.8,814.7 1467.1,814.7 1468.4,814.7 1469.7,814.7 1471.0,814.7 1472.3,814.7 1473.6,814.7 1474.9,814.7 1476.2,814.7 1477.5,814.7 1478.8,814.7 1480.1,814.7 1481.4,814.7 1482.7,814.7 1484.0,814.7 1485.3,814.7 1486.6,814.7 1487.9,814.7 1489.2,814.7 1490.5,814.7 1491.8,814.7 1493.1,814.7 1494.4,814.7 1495.7,814.7 1497.0,814.7 1498.3,814.7 1499.6,814.7 1500.9,814.7 1502.2,814.7 1503.5,814.7 1504.8,814.7 1506.1,814.7 1507.4,814.7 1508.7,814.7 1510.0,814.7 1511.3,814.7 1512.6,814.7 1513.9,814.7 1515.2,814.7 1516.5,814.7 1517.8,814.7 1519.1,814.7 1520.4,814.7 1521.7,814.7 1523.0,814.7 1524.3,814.7 1525.6,814.7 1526.9,814.7 1528.2,814.7 1529.7,814.8 1530.0,814.8 1530.3,814.8 1530.8,814.8 1532.1,814.8 1533.4,814.8 1534.7,814.8 1536.0,814.8 1537.3,814.8 1538.6,814.8 1539.9,814.8 1541.2,814.8 1542.5,814.8 1543.8,814.8 1545.1,814.8 1546.4,814.8 1547.7,814.8 1549.0,814.8 1550.3,814.8 1551.6,814.8 1552.9,814.8 1554.2,814.8 1555.5,814.8 1556.8,814.8 1558.1,814.8 1559.4,814.8 1560.7,814.8 1562.0,814.8 1563.3,814.8 1564.6,814.8 1565.9,814.8 1567.2,814.8 1568.5,814.8 1569.8,814.8 1571.1,814.8 1572.4,814.8 1573.7,814.8 1575.0,814.8 1576.3,814.8 1577.6,814.8 1578.9,814.8 1580.2,814.8 1581.5,814.8 1582.8,814.8 1584.1,814.8 1585.4,814.8 1586.7,814.8 1588.0,814.8 1589.3,814.8 1590.6,814.8 1591.9,814.8 1593.2,814.8 1594.5,814.8 1595.8,814.8 1597.1,814.8 1598.4,814.8 1599.7,814.8 1601.0,814.8 1602.3,814.8 1603.6,814.8 1604.9,814.8 1606.2,814.8 1607.5,814.8 1608.8,814.8 1610.1,814.8 1611.4,814.8 1612.7,814.8 1614.0,814.8 1615.3,814.8 1616.6,814.8 1617.9,814.8 1619.2,814.8 1620.5,814.8 1621.8,814.8 1623.1,814.8 1624.4,814.8 1625.7,814.8 1627.0,814.8 1628.3,814.8 1629.6,814.8 1630.9,814.8 1632.2,814.8 1633.5,814.8 1634.8,814.8 1636.1,814.8 1637.4,814.8 1638.7,814.8 1640.0,814.8 1641.3,814.8 1642.6,814.8 1643.9,814.8 1645.2,814.8 1646.5,814.8 1647.8,814.8 1649.1,814.8 1650.4,814.8 1651.7,814.8 1653.0,814.8 1654.3,814.8 1655.6,814.8 1656.9,814.8 1658.2,814.8 1659.5,814.8 1660.8,814.8 1662.1,814.8 1663.4,814.8 1664.7,814.8 1666.0,814.8 1667.3,814.8 1668.6,814.8 1669.9,814.8 1671.2,814.8 1672.5,814.8 1673.8,814.8 1675.1,814.8 1676.4,814.8 1677.7,814.8 1679.0,814.8 1680.3,814.8 1681.6,814.8 1682.9,814.8 1684.2,814.8 1685.5,814.8 1686.8,814.8 1688.1,814.8 1689.4,814.8 1690.7,814.8 1692.0,814.8 1693.3,814.8 1694.6,814.8 1695.9,814.8 1697.2,814.8 1698.5,814.8 1699.8,814.8 1701.1,814.8 1702.4,814.8 1703.7,814.8 1705.0,814.8 1706.3,814.8 1707.6,814.8 1708.9,814.8 1710.2,814.8 1711.5,814.8 1712.8,814.8 1714.1,814.8 1715.4,814.8 1716.7,814.8 1718.0,814.8 1719.3,814.8 1720.6,814.8 1721.9,814.8 1723.2,814.8 1724.5,814.8 1725.8,814.8 1727.1,814.8 1728.4,814.8 1729.7,814.8 1731.0,814.8 1732.3,814.8 1733.6,814.8 1734.9,814.8 1736.2,814.8 1737.5,814.8 1738.8,814.8 1740.1,814.8 1741.4,814.8 1742.7,814.8 1744.0,814.8 1745.3,814.8 1746.6,814.8 1747.9,814.8 1749.2,814.8 1750.5,814.8 1751.8,814.8 1753.1,814.8 1754.4,814.8 1755.7,814.8 1757.0,814.8 1758.3,814.8 1759.6,814.8 1760.9,814.8 1762.2,814.8 1763.5,814.8 1764.8,814.8 1766.1,814.8 1767.4,814.8 1768.7,814.8 1770.0,814.8 1771.3,814.8 1772.6,814.8 1773.9,814.8 1775.2,814.8 1776.5,814.8 1777.8,814.8 1779.1,814.8 1780.4,814.8 1781.7,814.8 1783.0,814.8 1784.3,814.8 1785.6,814.8 1786.9,814.8 1788.2,814.8 1789.5,814.8 1790.8,814.8 1792.1,814.8 1793.4,814.8 1794.7,814.8 1796.0,814.8 1797.3,814.8 1798.6,814.8 1799.9,814.8 1801.2,814.8 1802.5,814.8 1803.8,814.8 1805.1,814.8 1806.4,814.8 1807.7,814.8 1809.0,814.8 1810.3,814.8 1811.6,814.8 1812.9,814.8 1814.2,814.8 1815.5,814.8 1816.8,814.8 1818.1,814.8 1819.4,814.8 1820.7,814.8 1822.0,814.8 1823.3,814.8 1824.6,814.8 1825.9,814.8 1827.2,814.8 1828.5,814.8 1829.8,814.8 1831.1,814.8 1832.4,814.8 1833.7,814.8 1835.0,814.8 1836.3,814.8 1837.6,814.8 1838.9,814.8 1840.2,814.8 1841.5,814.8 1842.8,814.8 1844.1,814.8 1845.4,814.8 1846.7,814.8 1848.0,814.8 1849.3,814.8 1850.6,814.8 1851.9,814.8 1853.2,814.8 1854.5,814.8 1855.8,814.8 1857.1,814.8 1858.4,814.8 1859.7,814.8 1861.0,814.8 1862.3,814.8 1863.6,814.8 1864.9,814.8 1866.2,814.8 1867.5,814.8 1868.8,814.8 1870.1,814.8 1871.4,814.8 1872.7,814.8 1874.0,814.8 1875.3,814.8 1876.6,814.8 1877.9,814.8 1879.2,814.8 1880.5,814.8 1881.8,814.8 1883.1,814.8 1884.4,814.8 1885.7,814.8 1887.0,814.8 1888.3,814.8 1889.6,814.8 1890.9,814.8 1892.2,814.8 1893.5,814.8 1894.8,814.8 1896.1,814.8 1896.2,814.8 1896.5,814.8 1896.5,814.8" fill="none" stroke="#0000ff" stroke-width="4.2" stroke-linejoin="round" stroke-linecap="butt" clip-path="url(#cR4)"/>
<path d="M1330.1 871.4V1014.2M1513.2 871.4V1014.2M1696.4 871.4V1014.2M1879.5 871.4V1014.2M1146.0 906.9H1896.5M1146.0 960.2H1896.5M1146.0 1013.6H1896.5" stroke="#dedede" stroke-width="3.7" fill="none"/>
<path d="M1330.1 1014.2v-9.0M1330.1 871.4v9.0M1513.2 1014.2v-9.0M1513.2 871.4v9.0M1696.4 1014.2v-9.0M1696.4 871.4v9.0M1879.5 1014.2v-9.0M1879.5 871.4v9.0M1146.0 906.9h9.0M1896.5 906.9h-9.0M1146.0 960.2h9.0M1896.5 960.2h-9.0M1146.0 1013.6h9.0M1896.5 1013.6h-9.0" stroke="#262626" stroke-width="3.7" fill="none"/>
<rect x="1146.0" y="871.4" width="750.5" height="142.8" stroke="#262626" stroke-width="3.7" fill="none"/>
<polyline points="1146.0,999.7 1146.0,998.2 1146.0,997.0 1146.3,999.3 1147.3,1000.4 1148.3,1003.3 1148.6,992.5 1148.9,1001.5 1149.9,995.7 1150.4,996.9 1150.7,975.4 1151.0,989.9 1152.5,989.6 1153.3,991.2 1153.6,965.4 1153.9,991.0 1155.1,993.9 1156.1,996.9 1156.4,969.7 1156.7,992.2 1157.7,991.6 1158.5,995.5 1158.8,926.2 1159.1,987.2 1160.7,1006.2 1161.0,932.6 1161.3,989.5 1162.5,991.2 1162.8,955.4 1163.1,985.2 1164.7,982.6 1165.0,904.1 1165.3,971.0 1166.8,981.2 1167.1,877.2 1167.4,945.5 1168.1,963.8 1169.0,982.6 1169.3,906.9 1169.6,968.2 1170.8,994.7 1171.1,935.4 1171.4,980.7 1172.0,944.4 1172.8,976.9 1173.1,935.4 1173.4,973.0 1174.6,941.6 1175.1,965.5 1175.4,932.6 1175.7,964.2 1177.1,988.3 1177.4,872.7 1177.7,948.6 1178.9,995.5 1179.2,916.9 1179.5,977.8 1180.7,1005.4 1181.0,956.9 1181.3,993.5 1182.5,1001.2 1182.8,962.6 1183.1,1000.5 1183.7,995.1 1185.4,1001.2 1185.7,968.3 1186.0,995.8 1187.5,1006.9 1187.8,989.7 1188.1,1001.5 1188.9,1002.7 1190.2,985.0 1190.8,1006.9 1191.1,980.8 1191.4,1003.7 1193.2,1006.9 1193.5,998.2 1193.8,1006.2 1195.4,1002.3 1196.1,1009.7 1196.4,1002.5 1196.7,1007.3 1198.0,1002.5 1199.3,1007.5 1200.3,1008.3 1200.6,1001.4 1200.9,1006.0 1201.9,1008.1 1203.2,1005.3 1203.9,1009.7 1204.2,1006.8 1204.5,1009.5 1205.8,1007.9 1207.1,1010.5 1208.2,1011.9 1208.5,1008.2 1208.8,1011.6 1209.7,1011.8 1211.0,1008.9 1212.3,1011.2 1213.9,1011.9 1214.2,1008.9 1214.5,1011.5 1216.2,1009.8 1217.5,1011.6 1218.8,1010.4 1220.1,1011.6 1221.0,1011.9 1221.3,1010.8 1221.6,1011.7 1222.7,1011.8 1224.0,1011.1 1225.3,1012.0 1226.6,1011.2 1227.9,1012.0 1229.2,1011.4 1230.5,1012.0 1231.8,1011.5 1233.1,1012.1 1234.4,1011.7 1235.7,1012.2 1236.7,1012.3 1237.0,1011.8 1237.3,1012.2 1238.3,1012.3 1239.6,1011.9 1240.9,1012.3 1242.2,1012.0 1243.5,1012.3 1244.8,1012.1 1246.1,1012.3 1247.4,1012.2 1248.7,1012.3 1250.0,1012.3 1251.3,1012.4 1252.6,1012.3 1253.9,1012.4 1254.2,1012.4 1254.5,1012.4 1255.2,1012.4 1256.5,1012.4 1257.8,1012.4 1259.1,1012.4 1260.4,1012.4 1261.7,1012.4 1263.0,1012.4 1264.3,1012.4 1265.6,1012.4 1266.9,1012.4 1268.2,1012.4 1269.5,1012.5 1270.8,1012.5 1272.1,1012.5 1273.4,1012.5 1274.7,1012.5 1276.0,1012.5 1277.3,1012.5 1278.6,1012.5 1279.9,1012.5 1281.2,1012.5 1282.5,1012.5 1283.8,1012.5 1285.1,1012.5 1286.4,1012.5 1287.7,1012.5 1289.0,1012.5 1290.3,1012.5 1291.6,1012.5 1292.9,1012.5 1294.2,1012.5 1295.5,1012.5 1296.7,1012.5 1297.0,1012.5 1297.3,1012.5 1298.1,1012.5 1299.4,1012.6 1300.7,1012.6 1302.0,1012.6 1303.3,1012.6 1304.6,1012.6 1305.9,1012.6 1307.2,1012.6 1308.5,1012.6 1309.8,1012.6 1311.1,1012.6 1312.4,1012.6 1313.7,1012.6 1315.0,1012.6 1316.3,1012.6 1317.6,1012.6 1318.9,1012.6 1320.2,1012.6 1321.5,1012.6 1322.8,1012.6 1324.1,1012.6 1325.4,1012.6 1326.7,1012.6 1328.0,1012.6 1329.3,1012.7 1330.6,1012.7 1331.9,1012.7 1333.2,1012.7 1334.5,1012.7 1335.8,1012.7 1337.1,1012.7 1338.4,1012.7 1339.7,1012.7 1341.0,1012.7 1342.3,1012.7 1343.6,1012.7 1344.9,1012.7 1346.2,1012.7 1347.5,1012.7 1348.8,1012.7 1350.1,1012.7 1351.4,1012.7 1352.7,1012.7 1354.0,1012.7 1355.3,1012.7 1356.6,1012.7 1357.9,1012.8 1359.2,1012.8 1360.5,1012.8 1361.8,1012.8 1363.1,1012.8 1364.4,1012.8 1365.7,1012.8 1367.0,1012.8 1368.3,1012.8 1369.6,1012.8 1370.9,1012.8 1372.2,1012.8 1373.5,1012.8 1374.8,1012.8 1376.1,1012.8 1377.4,1012.8 1378.7,1012.8 1380.0,1012.8 1381.3,1012.8 1382.6,1012.8 1383.9,1012.8 1385.2,1012.8 1386.5,1012.9 1387.8,1012.9 1389.1,1012.9 1390.4,1012.9 1391.7,1012.9 1393.0,1012.9 1394.3,1012.9 1395.6,1012.9 1396.9,1012.9 1398.2,1012.9 1399.7,1012.9 1400.0,1012.9 1400.3,1012.9 1400.8,1012.9 1402.1,1012.9 1403.4,1012.9 1404.7,1012.9 1406.0,1012.9 1407.3,1012.9 1408.6,1012.9 1409.9,1012.9 1411.2,1012.9 1412.5,1012.9 1413.8,1012.9 1415.1,1012.9 1416.4,1012.9 1417.7,1012.9 1419.0,1012.9 1420.3,1012.9 1421.6,1012.9 1422.9,1012.9 1424.2,1012.9 1425.5,1012.9 1426.8,1012.9 1428.1,1012.9 1429.4,1012.9 1430.7,1012.9 1432.0,1012.9 1433.3,1012.9 1434.6,1012.9 1435.9,1012.9 1437.2,1012.9 1438.5,1012.9 1439.8,1012.9 1441.1,1012.9 1442.4,1012.9 1443.7,1012.9 1445.0,1012.9 1446.3,1012.9 1447.6,1012.9 1448.9,1012.9 1450.2,1012.9 1451.5,1012.9 1452.8,1012.9 1454.1,1012.9 1455.4,1012.9 1456.7,1012.9 1458.0,1012.9 1459.3,1012.9 1460.6,1012.9 1461.9,1012.9 1463.2,1012.9 1464.5,1012.9 1465.8,1012.9 1467.1,1012.9 1468.4,1012.9 1469.7,1012.9 1471.0,1012.9 1472.3,1012.9 1473.6,1012.9 1474.9,1012.9 1476.2,1012.9 1477.5,1012.9 1478.8,1012.9 1480.1,1012.9 1481.4,1012.9 1482.7,1012.9 1484.0,1012.9 1485.3,1012.9 1486.6,1012.9 1487.9,1012.9 1489.2,1012.9 1490.5,1012.9 1491.8,1012.9 1493.1,1012.9 1494.4,1012.9 1495.7,1012.9 1497.0,1012.9 1498.3,1012.9 1499.6,1012.9 1500.9,1012.9 1502.2,1012.9 1503.5,1012.9 1504.8,1012.9 1506.1,1012.9 1507.4,1012.9 1508.7,1012.9 1510.0,1012.9 1511.3,1012.9 1512.6,1012.9 1513.9,1012.9 1515.2,1012.9 1516.5,1012.9 1517.8,1012.9 1519.1,1012.9 1520.4,1012.9 1521.7,1012.9 1523.0,1012.9 1524.3,1012.9 1525.6,1012.9 1526.9,1012.9 1528.2,1012.9 1529.5,1012.9 1530.8,1012.9 1532.1,1012.9 1533.4,1012.9 1534.7,1012.9 1536.0,1012.9 1537.3,1012.9 1538.6,1012.9 1539.9,1012.9 1541.2,1012.9 1542.5,1012.9 1543.8,1012.9 1545.1,1012.9 1546.4,1012.9 1547.7,1012.9 1549.0,1012.9 1550.3,1012.9 1551.6,1012.9 1552.9,1012.9 1554.2,1012.9 1555.5,1012.9 1556.8,1012.9 1558.1,1012.9 1559.4,1012.9 1560.7,1012.9 1562.0,1012.9 1563.3,1012.9 1564.6,1012.9 1565.9,1012.9 1567.2,1012.9 1568.5,1012.9 1569.8,1012.9 1571.1,1012.9 1572.4,1012.9 1573.7,1012.9 1575.0,1012.9 1576.3,1012.9 1577.6,1012.9 1578.9,1012.9 1580.2,1012.9 1581.5,1012.9 1582.8,1012.9 1584.1,1012.9 1585.4,1012.9 1586.7,1012.9 1588.0,1012.9 1589.3,1012.9 1590.6,1012.9 1591.9,1012.9 1593.2,1012.9 1594.5,1012.9 1595.8,1012.9 1597.1,1012.9 1598.4,1012.9 1599.7,1012.9 1601.0,1012.9 1602.3,1012.9 1603.6,1012.9 1604.9,1012.9 1606.2,1012.9 1607.5,1012.9 1608.8,1012.9 1610.1,1012.9 1611.4,1012.9 1612.7,1012.9 1614.0,1012.9 1615.3,1012.9 1616.6,1012.9 1617.9,1012.9 1619.2,1012.9 1620.5,1012.9 1621.8,1012.9 1623.1,1012.9 1624.4,1012.9 1625.7,1012.9 1627.0,1012.9 1628.3,1012.9 1629.6,1012.9 1630.9,1012.9 1632.2,1012.9 1633.5,1012.9 1634.8,1012.9 1636.1,1012.9 1637.4,1012.9 1638.7,1012.9 1640.0,1012.9 1641.3,1012.9 1642.6,1012.9 1643.9,1012.9 1645.2,1012.9 1646.5,1012.9 1647.8,1012.9 1649.1,1012.9 1650.4,1012.9 1651.7,1012.9 1653.0,1012.9 1654.3,1012.9 1655.6,1012.9 1656.9,1012.9 1658.2,1012.9 1659.5,1012.9 1660.8,1012.9 1662.1,1012.9 1663.4,1012.9 1664.7,1012.9 1666.0,1012.9 1667.3,1012.9 1668.6,1012.9 1669.9,1012.9 1671.2,1012.9 1672.5,1012.9 1673.8,1012.9 1675.1,1012.9 1676.4,1012.9 1677.7,1012.9 1679.0,1012.9 1680.3,1012.9 1681.6,1012.9 1682.9,1012.9 1684.2,1012.9 1685.5,1012.9 1686.8,1012.9 1688.1,1012.9 1689.4,1012.9 1690.7,1012.9 1692.0,1012.9 1693.3,1012.9 1694.6,1012.9 1695.9,1012.9 1697.2,1012.9 1698.5,1012.9 1699.8,1012.9 1701.1,1012.9 1702.4,1012.9 1703.7,1012.9 1705.0,1012.9 1706.3,1012.9 1707.6,1012.9 1708.9,1012.9 1710.2,1012.9 1711.5,1012.9 1712.8,1012.9 1714.1,1012.9 1715.4,1012.9 1716.7,1012.9 1718.0,1012.9 1719.3,1012.9 1720.6,1012.9 1721.9,1012.9 1723.2,1012.9 1724.5,1012.9 1725.8,1012.9 1727.1,1012.9 1728.4,1012.9 1729.7,1012.9 1731.0,1012.9 1732.3,1012.9 1733.6,1012.9 1734.9,1012.9 1736.2,1012.9 1737.5,1012.9 1738.8,1012.9 1740.1,1012.9 1741.4,1012.9 1742.7,1012.9 1744.0,1012.9 1745.3,1012.9 1746.6,1012.9 1747.9,1012.9 1749.2,1012.9 1750.5,1012.9 1751.8,1012.9 1753.1,1012.9 1754.4,1012.9 1755.7,1012.9 1757.0,1012.9 1758.3,1012.9 1759.6,1012.9 1760.9,1012.9 1762.2,1012.9 1763.5,1012.9 1764.8,1012.9 1766.1,1012.9 1767.4,1012.9 1768.7,1012.9 1770.0,1012.9 1771.3,1012.9 1772.6,1012.9 1773.9,1012.9 1775.2,1012.9 1776.5,1012.9 1777.8,1012.9 1779.1,1012.9 1780.4,1012.9 1781.7,1012.9 1783.0,1012.9 1784.3,1012.9 1785.6,1012.9 1786.9,1012.9 1788.2,1012.9 1789.5,1012.9 1790.8,1012.9 1792.1,1012.9 1793.4,1012.9 1794.7,1012.9 1796.0,1012.9 1797.3,1012.9 1798.6,1012.9 1799.9,1012.9 1801.2,1012.9 1802.5,1012.9 1803.8,1012.9 1805.1,1012.9 1806.4,1012.9 1807.7,1012.9 1809.0,1012.9 1810.3,1012.9 1811.6,1012.9 1812.9,1012.9 1814.2,1012.9 1815.5,1012.9 1816.8,1012.9 1818.1,1012.9 1819.4,1012.9 1820.7,1012.9 1822.0,1012.9 1823.3,1012.9 1824.6,1012.9 1825.9,1012.9 1827.2,1012.9 1828.5,1012.9 1829.8,1012.9 1831.1,1012.9 1832.4,1012.9 1833.7,1012.9 1835.0,1012.9 1836.3,1012.9 1837.6,1012.9 1838.9,1012.9 1840.2,1012.9 1841.5,1012.9 1842.8,1012.9 1844.1,1012.9 1845.4,1012.9 1846.7,1012.9 1848.0,1012.9 1849.3,1012.9 1850.6,1012.9 1851.9,1012.9 1853.2,1012.9 1854.5,1012.9 1855.8,1012.9 1857.1,1012.9 1858.4,1012.9 1859.7,1012.9 1861.0,1012.9 1862.3,1012.9 1863.6,1012.9 1864.9,1012.9 1866.2,1012.9 1867.5,1012.9 1868.8,1012.9 1870.1,1012.9 1871.4,1012.9 1872.7,1012.9 1874.0,1012.9 1875.3,1012.9 1876.6,1012.9 1877.9,1012.9 1879.2,1012.9 1880.5,1012.9 1881.8,1012.9 1883.1,1012.9 1884.4,1012.9 1885.7,1012.9 1887.0,1012.9 1888.3,1012.9 1889.6,1012.9 1890.9,1012.9 1892.2,1012.9 1893.5,1012.9 1894.8,1012.9 1896.1,1012.9 1896.2,1012.9 1896.5,1012.9 1896.5,1012.9" fill="none" stroke="#0000ff" stroke-width="4.2" stroke-linejoin="round" stroke-linecap="butt" clip-path="url(#cR5)"/>
<path d="M1330.1 1069.8V1216.4M1513.2 1069.8V1216.4M1696.4 1069.8V1216.4M1879.5 1069.8V1216.4M1146.0 1143.1H1896.5" stroke="#dedede" stroke-width="3.7" fill="none"/>
<path d="M1330.1 1216.4v-9.0M1330.1 1069.8v9.0M1513.2 1216.4v-9.0M1513.2 1069.8v9.0M1696.4 1216.4v-9.0M1696.4 1069.8v9.0M1879.5 1216.4v-9.0M1879.5 1069.8v9.0M1146.0 1143.1h9.0M1896.5 1143.1h-9.0" stroke="#262626" stroke-width="3.7" fill="none"/>
<rect x="1146.0" y="1069.8" width="750.5" height="146.6" stroke="#262626" stroke-width="3.7" fill="none"/>
<polyline points="1146.0,1199.9 1146.0,1199.8 1146.0,1192.8 1146.3,1199.9 1147.5,1199.2 1147.8,1174.8 1148.1,1191.3 1150.0,1186.3 1150.3,1159.1 1150.6,1184.6 1151.2,1148.5 1152.5,1163.5 1152.8,1126.3 1153.1,1155.5 1153.8,1130.5 1154.7,1186.3 1155.0,1124.9 1155.3,1185.2 1156.8,1189.2 1157.1,1122.0 1157.4,1166.3 1158.5,1189.2 1158.8,1087.5 1159.1,1153.7 1160.4,1169.2 1160.7,1140.6 1161.0,1165.1 1161.6,1144.4 1162.5,1172.1 1162.8,1146.3 1163.1,1169.6 1164.2,1200.6 1164.5,1145.6 1164.8,1197.6 1165.5,1197.2 1166.1,1204.9 1166.4,1190.5 1166.7,1203.4 1168.2,1209.2 1168.5,1201.9 1168.8,1207.1 1169.4,1205.6 1171.1,1213.4 1171.4,1211.2 1171.7,1213.2 1173.3,1213.6 1174.6,1212.2 1175.9,1213.7 1176.8,1214.2 1177.1,1212.2 1177.4,1213.6 1178.5,1214.2 1179.8,1214.0 1181.1,1215.0 1181.4,1215.0 1181.7,1215.0 1182.4,1214.8 1183.7,1214.9 1185.0,1214.5 1186.3,1214.8 1186.8,1214.9 1187.1,1214.1 1187.4,1214.8 1188.9,1214.8 1190.2,1214.4 1191.5,1214.9 1192.8,1214.7 1194.1,1215.0 1195.4,1214.9 1196.8,1215.1 1197.1,1215.1 1197.4,1215.1 1198.0,1215.1 1199.3,1215.1 1200.6,1215.1 1201.9,1215.2 1203.2,1215.1 1204.5,1215.2 1205.8,1215.2 1207.1,1215.2 1208.4,1215.2 1209.7,1215.2 1211.0,1215.2 1212.3,1215.2 1213.6,1215.2 1214.9,1215.3 1216.2,1215.3 1217.5,1215.3 1218.8,1215.3 1220.1,1215.3 1221.4,1215.3 1222.5,1215.3 1222.8,1215.3 1223.1,1215.3 1224.0,1215.3 1225.3,1215.4 1226.6,1215.4 1227.9,1215.4 1229.2,1215.5 1230.5,1215.5 1231.8,1215.5 1233.1,1215.5 1234.4,1215.6 1235.7,1215.6 1237.0,1215.6 1238.3,1215.6 1239.6,1215.7 1239.9,1215.7 1240.2,1215.7 1240.9,1215.7 1242.2,1215.7 1243.5,1215.7 1244.8,1215.7 1246.1,1215.7 1247.4,1215.7 1248.7,1215.7 1250.0,1215.7 1251.3,1215.7 1252.6,1215.7 1253.9,1215.7 1255.2,1215.7 1256.5,1215.7 1257.8,1215.7 1259.1,1215.7 1260.4,1215.7 1261.7,1215.7 1263.0,1215.7 1264.3,1215.7 1265.6,1215.7 1266.9,1215.7 1268.2,1215.7 1269.5,1215.7 1270.8,1215.7 1272.1,1215.7 1273.4,1215.7 1274.7,1215.7 1276.0,1215.7 1277.3,1215.7 1278.6,1215.7 1279.9,1215.7 1281.2,1215.7 1282.5,1215.7 1283.8,1215.7 1285.1,1215.7 1286.4,1215.7 1287.7,1215.7 1289.0,1215.7 1290.3,1215.7 1291.6,1215.7 1292.9,1215.7 1294.2,1215.7 1295.5,1215.7 1296.8,1215.7 1298.1,1215.7 1299.4,1215.7 1300.7,1215.7 1302.0,1215.7 1303.3,1215.7 1304.6,1215.7 1305.9,1215.7 1307.2,1215.7 1308.5,1215.7 1309.8,1215.7 1311.1,1215.7 1312.4,1215.7 1313.7,1215.7 1315.0,1215.7 1316.3,1215.7 1317.6,1215.7 1318.9,1215.7 1320.2,1215.7 1321.5,1215.7 1322.8,1215.7 1324.1,1215.7 1325.4,1215.7 1326.7,1215.7 1328.0,1215.7 1329.3,1215.7 1330.6,1215.7 1331.9,1215.7 1333.2,1215.7 1334.5,1215.7 1335.8,1215.7 1337.1,1215.7 1338.4,1215.7 1339.7,1215.7 1341.0,1215.7 1342.3,1215.7 1343.6,1215.7 1344.9,1215.7 1346.2,1215.7 1347.5,1215.7 1348.8,1215.7 1350.1,1215.7 1351.4,1215.7 1352.7,1215.7 1354.0,1215.7 1355.3,1215.7 1356.6,1215.7 1357.9,1215.7 1359.2,1215.7 1360.5,1215.7 1361.8,1215.7 1363.1,1215.7 1364.4,1215.7 1365.7,1215.7 1367.0,1215.7 1368.3,1215.7 1369.6,1215.7 1370.9,1215.7 1372.2,1215.7 1373.5,1215.7 1374.8,1215.7 1376.1,1215.7 1377.4,1215.7 1378.7,1215.7 1380.0,1215.7 1381.3,1215.7 1382.6,1215.7 1383.9,1215.7 1385.2,1215.7 1386.5,1215.7 1387.8,1215.7 1389.1,1215.7 1390.4,1215.7 1391.7,1215.7 1393.0,1215.7 1394.3,1215.7 1395.6,1215.7 1396.9,1215.7 1398.2,1215.7 1399.7,1215.8 1400.0,1215.8 1400.3,1215.8 1400.8,1215.8 1402.1,1215.8 1403.4,1215.8 1404.7,1215.8 1406.0,1215.8 1407.3,1215.8 1408.6,1215.8 1409.9,1215.8 1411.2,1215.8 1412.5,1215.8 1413.8,1215.8 1415.1,1215.8 1416.4,1215.8 1417.7,1215.8 1419.0,1215.8 1420.3,1215.8 1421.6,1215.8 1422.9,1215.8 1424.2,1215.8 1425.5,1215.8 1426.8,1215.8 1428.1,1215.8 1429.4,1215.8 1430.7,1215.8 1432.0,1215.8 1433.3,1215.8 1434.6,1215.8 1435.9,1215.8 1437.2,1215.8 1438.5,1215.8 1439.8,1215.8 1441.1,1215.8 1442.4,1215.8 1443.7,1215.8 1445.0,1215.8 1446.3,1215.8 1447.6,1215.8 1448.9,1215.8 1450.2,1215.8 1451.5,1215.8 1452.8,1215.8 1454.1,1215.8 1455.4,1215.8 1456.7,1215.8 1458.0,1215.8 1459.3,1215.8 1460.6,1215.8 1461.9,1215.8 1463.2,1215.8 1464.5,1215.8 1465.8,1215.8 1467.1,1215.8 1468.4,1215.8 1469.7,1215.8 1471.0,1215.8 1472.3,1215.8 1473.6,1215.8 1474.9,1215.8 1476.2,1215.8 1477.5,1215.8 1478.8,1215.8 1480.1,1215.8 1481.4,1215.8 1482.7,1215.8 1484.0,1215.8 1485.3,1215.8 1486.6,1215.8 1487.9,1215.8 1489.2,1215.8 1490.5,1215.8 1491.8,1215.8 1493.1,1215.8 1494.4,1215.8 1495.7,1215.8 1497.0,1215.8 1498.3,1215.8 1499.6,1215.8 1500.9,1215.8 1502.2,1215.8 1503.5,1215.8 1504.8,1215.8 1506.1,1215.8 1507.4,1215.8 1508.7,1215.8 1510.0,1215.8 1511.3,1215.8 1512.6,1215.8 1513.9,1215.8 1515.2,1215.8 1516.5,1215.8 1517.8,1215.8 1519.1,1215.8 1520.4,1215.8 1521.7,1215.8 1523.0,1215.8 1524.3,1215.8 1525.6,1215.8 1526.9,1215.8 1528.2,1215.8 1529.5,1215.8 1530.8,1215.8 1532.1,1215.8 1533.4,1215.8 1534.7,1215.8 1536.0,1215.8 1537.3,1215.8 1538.6,1215.8 1539.9,1215.8 1541.2,1215.8 1542.5,1215.8 1543.8,1215.8 1545.1,1215.8 1546.4,1215.8 1547.7,1215.8 1549.0,1215.8 1550.3,1215.8 1551.6,1215.8 1552.9,1215.8 1554.2,1215.8 1555.5,1215.8 1556.8,1215.8 1558.1,1215.8 1559.4,1215.8 1560.7,1215.8 1562.0,1215.8 1563.3,1215.8 1564.6,1215.8 1565.9,1215.8 1567.2,1215.8 1568.5,1215.8 1569.8,1215.8 1571.1,1215.8 1572.4,1215.8 1573.7,1215.8 1575.0,1215.8 1576.3,1215.8 1577.6,1215.8 1578.9,1215.8 1580.2,1215.8 1581.5,1215.8 1582.8,1215.8 1584.1,1215.8 1585.4,1215.8 1586.7,1215.8 1588.0,1215.8 1589.3,1215.8 1590.6,1215.8 1591.9,1215.8 1593.2,1215.8 1594.5,1215.8 1595.8,1215.8 1597.1,1215.8 1598.4,1215.8 1599.7,1215.8 1601.0,1215.8 1602.3,1215.8 1603.6,1215.8 1604.9,1215.8 1606.2,1215.8 1607.5,1215.8 1608.8,1215.8 1610.1,1215.8 1611.4,1215.8 1612.7,1215.8 1614.0,1215.8 1615.3,1215.8 1616.6,1215.8 1617.9,1215.8 1619.2,1215.8 1620.5,1215.8 1621.8,1215.8 1623.1,1215.8 1624.4,1215.8 1625.7,1215.8 1627.0,1215.8 1628.3,1215.8 1629.6,1215.8 1630.9,1215.8 1632.2,1215.8 1633.5,1215.8 1634.8,1215.8 1636.1,1215.8 1637.4,1215.8 1638.7,1215.8 1640.0,1215.8 1641.3,1215.8 1642.6,1215.8 1643.9,1215.8 1645.2,1215.8 1646.5,1215.8 1647.8,1215.8 1649.1,1215.8 1650.4,1215.8 1651.7,1215.8 1653.0,1215.8 1654.3,1215.8 1655.6,1215.8 1656.9,1215.8 1658.2,1215.8 1659.5,1215.8 1660.8,1215.8 1662.1,1215.8 1663.4,1215.8 1664.7,1215.8 1666.0,1215.8 1667.3,1215.8 1668.6,1215.8 1669.9,1215.8 1671.2,1215.8 1672.5,1215.8 1673.8,1215.8 1675.1,1215.8 1676.4,1215.8 1677.7,1215.8 1679.0,1215.8 1680.3,1215.8 1681.6,1215.8 1682.9,1215.8 1684.2,1215.8 1685.5,1215.8 1686.8,1215.8 1688.1,1215.8 1689.4,1215.8 1690.7,1215.8 1692.0,1215.8 1693.3,1215.8 1694.6,1215.8 1695.9,1215.8 1697.2,1215.8 1698.5,1215.8 1699.8,1215.8 1701.1,1215.8 1702.4,1215.8 1703.7,1215.8 1705.0,1215.8 1706.3,1215.8 1707.6,1215.8 1708.9,1215.8 1710.2,1215.8 1711.5,1215.8 1712.8,1215.8 1714.1,1215.8 1715.4,1215.8 1716.7,1215.8 1718.0,1215.8 1719.3,1215.8 1720.6,1215.8 1721.9,1215.8 1723.2,1215.8 1724.5,1215.8 1725.8,1215.8 1727.1,1215.8 1728.4,1215.8 1729.7,1215.8 1731.0,1215.8 1732.3,1215.8 1733.6,1215.8 1734.9,1215.8 1736.2,1215.8 1737.5,1215.8 1738.8,1215.8 1740.1,1215.8 1741.4,1215.8 1742.7,1215.8 1744.0,1215.8 1745.3,1215.8 1746.6,1215.8 1747.9,1215.8 1749.2,1215.8 1750.5,1215.8 1751.8,1215.8 1753.1,1215.8 1754.4,1215.8 1755.7,1215.8 1757.0,1215.8 1758.3,1215.8 1759.6,1215.8 1760.9,1215.8 1762.2,1215.8 1763.5,1215.8 1764.8,1215.8 1766.1,1215.8 1767.4,1215.8 1768.7,1215.8 1770.0,1215.8 1771.3,1215.8 1772.6,1215.8 1773.9,1215.8 1775.2,1215.8 1776.5,1215.8 1777.8,1215.8 1779.1,1215.8 1780.4,1215.8 1781.7,1215.8 1783.0,1215.8 1784.3,1215.8 1785.6,1215.8 1786.9,1215.8 1788.2,1215.8 1789.5,1215.8 1790.8,1215.8 1792.1,1215.8 1793.4,1215.8 1794.7,1215.8 1796.0,1215.8 1797.3,1215.8 1798.6,1215.8 1799.9,1215.8 1801.2,1215.8 1802.5,1215.8 1803.8,1215.8 1805.1,1215.8 1806.4,1215.8 1807.7,1215.8 1809.0,1215.8 1810.3,1215.8 1811.6,1215.8 1812.9,1215.8 1814.2,1215.8 1815.5,1215.8 1816.8,1215.8 1818.1,1215.8 1819.4,1215.8 1820.7,1215.8 1822.0,1215.8 1823.3,1215.8 1824.6,1215.8 1825.9,1215.8 1827.2,1215.8 1828.5,1215.8 1829.8,1215.8 1831.1,1215.8 1832.4,1215.8 1833.7,1215.8 1835.0,1215.8 1836.3,1215.8 1837.6,1215.8 1838.9,1215.8 1840.2,1215.8 1841.5,1215.8 1842.8,1215.8 1844.1,1215.8 1845.4,1215.8 1846.7,1215.8 1848.0,1215.8 1849.3,1215.8 1850.6,1215.8 1851.9,1215.8 1853.2,1215.8 1854.5,1215.8 1855.8,1215.8 1857.1,1215.8 1858.4,1215.8 1859.7,1215.8 1861.0,1215.8 1862.3,1215.8 1863.6,1215.8 1864.9,1215.8 1866.2,1215.8 1867.5,1215.8 1868.8,1215.8 1870.1,1215.8 1871.4,1215.8 1872.7,1215.8 1874.0,1215.8 1875.3,1215.8 1876.6,1215.8 1877.9,1215.8 1879.2,1215.8 1880.5,1215.8 1881.8,1215.8 1883.1,1215.8 1884.4,1215.8 1885.7,1215.8 1887.0,1215.8 1888.3,1215.8 1889.6,1215.8 1890.9,1215.8 1892.2,1215.8 1893.5,1215.8 1894.8,1215.8 1896.1,1215.8 1896.2,1215.8 1896.5,1215.8 1896.5,1215.8" fill="none" stroke="#0000ff" stroke-width="4.2" stroke-linejoin="round" stroke-linecap="butt" clip-path="url(#cR6)"/>
<path d="M1330.1 1271.9V1419.1M1513.2 1271.9V1419.1M1696.4 1271.9V1419.1M1879.5 1271.9V1419.1M1146.0 1345.5H1896.5" stroke="#dedede" stroke-width="3.7" fill="none"/>
<path d="M1330.1 1419.1v-9.0M1330.1 1271.9v9.0M1513.2 1419.1v-9.0M1513.2 1271.9v9.0M1696.4 1419.1v-9.0M1696.4 1271.9v9.0M1879.5 1419.1v-9.0M1879.5 1271.9v9.0M1146.0 1345.5h9.0M1896.5 1345.5h-9.0" stroke="#262626" stroke-width="3.7" fill="none"/>
<rect x="1146.0" y="1271.9" width="750.5" height="147.2" stroke="#262626" stroke-width="3.7" fill="none"/>
<polyline points="1146.0,1372.6 1146.0,1366.8 1146.3,1372.4 1147.5,1371.2 1147.8,1278.4 1148.1,1342.7 1149.7,1374.1 1150.0,1277.7 1150.3,1346.7 1151.2,1285.9 1151.8,1374.1 1152.1,1275.5 1152.4,1373.5 1154.0,1375.5 1154.3,1277.7 1154.6,1346.4 1155.4,1396.9 1155.7,1369.7 1156.0,1388.6 1156.8,1398.3 1157.1,1378.3 1157.4,1394.9 1158.3,1405.4 1158.6,1394.0 1158.9,1404.5 1160.4,1409.0 1160.7,1406.8 1161.0,1408.8 1161.6,1408.1 1162.9,1410.2 1164.0,1411.2 1164.3,1410.4 1164.6,1411.0 1165.5,1411.4 1166.8,1411.4 1168.1,1412.3 1169.4,1412.4 1171.1,1413.3 1171.4,1413.2 1171.7,1413.3 1173.3,1413.5 1174.6,1413.6 1175.9,1413.8 1177.2,1413.9 1178.5,1414.2 1179.8,1414.3 1181.1,1414.5 1182.5,1414.7 1182.8,1414.6 1183.1,1414.7 1183.7,1414.8 1185.0,1414.8 1186.3,1415.0 1187.6,1415.1 1188.9,1415.2 1190.2,1415.3 1191.5,1415.4 1192.8,1415.5 1194.1,1415.7 1195.4,1415.7 1196.8,1415.9 1197.1,1415.9 1197.4,1415.9 1198.0,1416.0 1199.3,1416.0 1200.6,1416.1 1201.9,1416.2 1203.2,1416.3 1204.5,1416.4 1205.8,1416.5 1207.1,1416.5 1208.4,1416.6 1209.7,1416.7 1211.0,1416.8 1211.3,1416.8 1211.6,1416.8 1212.3,1416.8 1213.6,1416.9 1214.9,1416.9 1216.2,1416.9 1217.5,1416.9 1218.8,1417.0 1220.1,1417.0 1221.4,1417.0 1222.7,1417.0 1224.0,1417.0 1225.3,1417.1 1226.6,1417.1 1227.9,1417.1 1229.2,1417.1 1230.5,1417.2 1231.8,1417.2 1233.1,1417.2 1234.4,1417.2 1235.7,1417.2 1237.0,1417.3 1238.3,1417.3 1239.6,1417.3 1239.9,1417.3 1240.2,1417.3 1240.9,1417.3 1242.2,1417.4 1243.5,1417.4 1244.8,1417.4 1246.1,1417.4 1247.4,1417.5 1248.7,1417.5 1250.0,1417.5 1251.3,1417.5 1252.6,1417.5 1253.9,1417.6 1255.2,1417.6 1256.5,1417.6 1257.8,1417.6 1259.1,1417.7 1260.4,1417.7 1261.7,1417.7 1263.0,1417.7 1264.3,1417.7 1265.6,1417.8 1266.9,1417.8 1268.1,1417.8 1268.4,1417.8 1268.7,1417.8 1269.5,1417.8 1270.8,1417.8 1272.1,1417.8 1273.4,1417.8 1274.7,1417.8 1276.0,1417.8 1277.3,1417.8 1278.6,1417.8 1279.9,1417.8 1281.2,1417.8 1282.5,1417.9 1283.8,1417.9 1285.1,1417.9 1286.4,1417.9 1287.7,1417.9 1289.0,1417.9 1290.3,1417.9 1291.6,1417.9 1292.9,1417.9 1294.2,1417.9 1295.5,1417.9 1296.8,1417.9 1298.1,1417.9 1299.4,1417.9 1300.7,1417.9 1302.0,1417.9 1303.3,1417.9 1304.6,1417.9 1305.9,1417.9 1307.2,1417.9 1308.5,1417.9 1309.8,1417.9 1311.1,1417.9 1312.4,1417.9 1313.7,1417.9 1315.0,1417.9 1316.3,1417.9 1317.6,1417.9 1318.9,1417.9 1320.2,1417.9 1321.5,1417.9 1322.8,1417.9 1324.1,1417.9 1325.4,1417.9 1326.7,1417.9 1328.0,1418.0 1329.3,1418.0 1330.6,1418.0 1331.9,1418.0 1333.2,1418.0 1334.5,1418.0 1335.8,1418.0 1337.1,1418.0 1338.4,1418.0 1339.7,1418.0 1341.0,1418.0 1342.3,1418.0 1343.6,1418.0 1344.9,1418.0 1346.2,1418.0 1347.5,1418.0 1348.8,1418.0 1350.1,1418.0 1351.4,1418.0 1352.7,1418.0 1354.0,1418.0 1355.3,1418.0 1356.6,1418.0 1357.9,1418.0 1359.2,1418.0 1360.5,1418.0 1361.8,1418.0 1363.1,1418.0 1364.4,1418.0 1365.7,1418.0 1367.0,1418.0 1368.3,1418.0 1369.6,1418.0 1370.9,1418.0 1372.2,1418.0 1373.5,1418.0 1374.8,1418.1 1376.1,1418.1 1377.4,1418.1 1378.7,1418.1 1380.0,1418.1 1381.3,1418.1 1382.6,1418.1 1383.9,1418.1 1385.2,1418.1 1386.5,1418.1 1387.8,1418.1 1389.1,1418.1 1390.4,1418.1 1391.7,1418.1 1393.0,1418.1 1394.3,1418.1 1395.6,1418.1 1396.9,1418.1 1398.2,1418.1 1399.7,1418.1 1400.0,1418.1 1400.3,1418.1 1400.8,1418.1 1402.1,1418.1 1403.4,1418.1 1404.7,1418.1 1406.0,1418.1 1407.3,1418.1 1408.6,1418.1 1409.9,1418.1 1411.2,1418.1 1412.5,1418.1 1413.8,1418.1 1415.1,1418.1 1416.4,1418.1 1417.7,1418.1 1419.0,1418.1 1420.3,1418.1 1421.6,1418.1 1422.9,1418.1 1424.2,1418.1 1425.5,1418.1 1426.8,1418.1 1428.1,1418.1 1429.4,1418.1 1430.7,1418.1 1432.0,1418.1 1433.3,1418.1 1434.6,1418.1 1435.9,1418.1 1437.2,1418.1 1438.5,1418.1 1439.8,1418.1 1441.1,1418.1 1442.4,1418.1 1443.7,1418.1 1445.0,1418.1 1446.3,1418.1 1447.6,1418.1 1448.9,1418.1 1450.2,1418.1 1451.5,1418.1 1452.8,1418.1 1454.1,1418.1 1455.4,1418.1 1456.7,1418.1 1458.0,1418.1 1459.3,1418.1 1460.6,1418.1 1461.9,1418.1 1463.2,1418.1 1464.5,1418.1 1465.8,1418.1 1467.1,1418.1 1468.4,1418.1 1469.7,1418.1 1471.0,1418.1 1472.3,1418.1 1473.6,1418.1 1474.9,1418.1 1476.2,1418.1 1477.5,1418.1 1478.8,1418.1 1480.1,1418.1 1481.4,1418.1 1482.7,1418.1 1484.0,1418.1 1485.3,1418.1 1486.6,1418.1 1487.9,1418.1 1489.2,1418.1 1490.5,1418.1 1491.8,1418.1 1493.1,1418.1 1494.4,1418.1 1495.7,1418.1 1497.0,1418.1 1498.3,1418.1 1499.6,1418.1 1500.9,1418.1 1502.2,1418.1 1503.5,1418.1 1504.8,1418.1 1506.1,1418.1 1507.4,1418.1 1508.7,1418.1 1510.0,1418.1 1511.3,1418.1 1512.6,1418.1 1513.9,1418.1 1515.2,1418.1 1516.5,1418.1 1517.8,1418.1 1519.1,1418.1 1520.4,1418.1 1521.7,1418.1 1523.0,1418.1 1524.3,1418.1 1525.6,1418.1 1526.9,1418.1 1528.2,1418.1 1529.5,1418.1 1530.8,1418.1 1532.1,1418.1 1533.4,1418.1 1534.7,1418.1 1536.0,1418.1 1537.3,1418.1 1538.6,1418.1 1539.9,1418.1 1541.2,1418.1 1542.5,1418.1 1543.8,1418.1 1545.1,1418.1 1546.4,1418.1 1547.7,1418.1 1549.0,1418.1 1550.3,1418.1 1551.6,1418.1 1552.9,1418.1 1554.2,1418.1 1555.5,1418.1 1556.8,1418.1 1558.1,1418.1 1559.4,1418.1 1560.7,1418.1 1562.0,1418.1 1563.3,1418.1 1564.6,1418.1 1565.9,1418.1 1567.2,1418.1 1568.5,1418.1 1569.8,1418.1 1571.1,1418.1 1572.4,1418.1 1573.7,1418.1 1575.0,1418.1 1576.3,1418.1 1577.6,1418.1 1578.9,1418.1 1580.2,1418.1 1581.5,1418.1 1582.8,1418.1 1584.1,1418.1 1585.4,1418.1 1586.7,1418.1 1588.0,1418.1 1589.3,1418.1 1590.6,1418.1 1591.9,1418.1 1593.2,1418.1 1594.5,1418.1 1595.8,1418.1 1597.1,1418.1 1598.4,1418.1 1599.7,1418.1 1601.0,1418.1 1602.3,1418.1 1603.6,1418.1 1604.9,1418.1 1606.2,1418.1 1607.5,1418.1 1608.8,1418.1 1610.1,1418.1 1611.4,1418.1 1612.7,1418.1 1614.0,1418.1 1615.3,1418.1 1616.6,1418.1 1617.9,1418.1 1619.2,1418.1 1620.5,1418.1 1621.8,1418.1 1623.1,1418.1 1624.4,1418.1 1625.7,1418.1 1627.0,1418.1 1628.3,1418.1 1629.6,1418.1 1630.9,1418.1 1632.2,1418.1 1633.5,1418.1 1634.8,1418.1 1636.1,1418.1 1637.4,1418.1 1638.7,1418.1 1640.0,1418.1 1641.3,1418.1 1642.6,1418.1 1643.9,1418.1 1645.2,1418.1 1646.5,1418.1 1647.8,1418.1 1649.1,1418.1 1650.4,1418.1 1651.7,1418.1 1653.0,1418.1 1654.3,1418.1 1655.6,1418.1 1656.9,1418.1 1658.2,1418.1 1659.5,1418.1 1660.8,1418.1 1662.1,1418.1 1663.4,1418.1 1664.7,1418.1 1666.0,1418.1 1667.3,1418.1 1668.6,1418.1 1669.9,1418.1 1671.2,1418.1 1672.5,1418.1 1673.8,1418.1 1675.1,1418.1 1676.4,1418.1 1677.7,1418.1 1679.0,1418.1 1680.3,1418.1 1681.6,1418.1 1682.9,1418.1 1684.2,1418.1 1685.5,1418.1 1686.8,1418.1 1688.1,1418.1 1689.4,1418.1 1690.7,1418.1 1692.0,1418.1 1693.3,1418.1 1694.6,1418.1 1695.9,1418.1 1697.2,1418.1 1698.5,1418.1 1699.8,1418.1 1701.1,1418.1 1702.4,1418.1 1703.7,1418.1 1705.0,1418.1 1706.3,1418.1 1707.6,1418.1 1708.9,1418.1 1710.2,1418.1 1711.5,1418.1 1712.8,1418.1 1714.1,1418.1 1715.4,1418.1 1716.7,1418.1 1718.0,1418.1 1719.3,1418.1 1720.6,1418.1 1721.9,1418.1 1723.2,1418.1 1724.5,1418.1 1725.8,1418.1 1727.1,1418.1 1728.4,1418.1 1729.7,1418.1 1731.0,1418.1 1732.3,1418.1 1733.6,1418.1 1734.9,1418.1 1736.2,1418.1 1737.5,1418.1 1738.8,1418.1 1740.1,1418.1 1741.4,1418.1 1742.7,1418.1 1744.0,1418.1 1745.3,1418.1 1746.6,1418.1 1747.9,1418.1 1749.2,1418.1 1750.5,1418.1 1751.8,1418.1 1753.1,1418.1 1754.4,1418.1 1755.7,1418.1 1757.0,1418.1 1758.3,1418.1 1759.6,1418.1 1760.9,1418.1 1762.2,1418.1 1763.5,1418.1 1764.8,1418.1 1766.1,1418.1 1767.4,1418.1 1768.7,1418.1 1770.0,1418.1 1771.3,1418.1 1772.6,1418.1 1773.9,1418.1 1775.2,1418.1 1776.5,1418.1 1777.8,1418.1 1779.1,1418.1 1780.4,1418.1 1781.7,1418.1 1783.0,1418.1 1784.3,1418.1 1785.6,1418.1 1786.9,1418.1 1788.2,1418.1 1789.5,1418.1 1790.8,1418.1 1792.1,1418.1 1793.4,1418.1 1794.7,1418.1 1796.0,1418.1 1797.3,1418.1 1798.6,1418.1 1799.9,1418.1 1801.2,1418.1 1802.5,1418.1 1803.8,1418.1 1805.1,1418.1 1806.4,1418.1 1807.7,1418.1 1809.0,1418.1 1810.3,1418.1 1811.6,1418.1 1812.9,1418.1 1814.2,1418.1 1815.5,1418.1 1816.8,1418.1 1818.1,1418.1 1819.4,1418.1 1820.7,1418.1 1822.0,1418.1 1823.3,1418.1 1824.6,1418.1 1825.9,1418.1 1827.2,1418.1 1828.5,1418.1 1829.8,1418.1 1831.1,1418.1 1832.4,1418.1 1833.7,1418.1 1835.0,1418.1 1836.3,1418.1 1837.6,1418.1 1838.9,1418.1 1840.2,1418.1 1841.5,1418.1 1842.8,1418.1 1844.1,1418.1 1845.4,1418.1 1846.7,1418.1 1848.0,1418.1 1849.3,1418.1 1850.6,1418.1 1851.9,1418.1 1853.2,1418.1 1854.5,1418.1 1855.8,1418.1 1857.1,1418.1 1858.4,1418.1 1859.7,1418.1 1861.0,1418.1 1862.3,1418.1 1863.6,1418.1 1864.9,1418.1 1866.2,1418.1 1867.5,1418.1 1868.8,1418.1 1870.1,1418.1 1871.4,1418.1 1872.7,1418.1 1874.0,1418.1 1875.3,1418.1 1876.6,1418.1 1877.9,1418.1 1879.2,1418.1 1880.5,1418.1 1881.8,1418.1 1883.1,1418.1 1884.4,1418.1 1885.7,1418.1 1887.0,1418.1 1888.3,1418.1 1889.6,1418.1 1890.9,1418.1 1892.2,1418.1 1893.5,1418.1 1894.8,1418.1 1896.1,1418.1 1896.2,1418.1 1896.5,1418.1 1896.5,1418.1" fill="none" stroke="#0000ff" stroke-width="4.2" stroke-linejoin="round" stroke-linecap="butt" clip-path="url(#cR7)"/>
<path d="M1330.1 1475.2V1617.1M1513.2 1475.2V1617.1M1696.4 1475.2V1617.1M1879.5 1475.2V1617.1" stroke="#dedede" stroke-width="3.7" fill="none"/>
<path d="M1330.1 1617.1v-9.0M1330.1 1475.2v9.0M1513.2 1617.1v-9.0M1513.2 1475.2v9.0M1696.4 1617.1v-9.0M1696.4 1475.2v9.0M1879.5 1617.1v-9.0M1879.5 1475.2v9.0" stroke="#262626" stroke-width="3.7" fill="none"/>
<rect x="1146.0" y="1475.2" width="750.5" height="141.9" stroke="#262626" stroke-width="3.7" fill="none"/>
<polyline points="1146.0,1605.6 1146.0,1567.0 1146.3,1592.6 1147.5,1599.9 1147.8,1509.9 1148.1,1579.3 1149.7,1599.9 1150.0,1497.4 1150.3,1568.7 1151.2,1544.9 1151.8,1601.3 1152.1,1555.6 1152.4,1599.7 1153.3,1607.0 1153.6,1602.7 1153.9,1606.5 1155.4,1609.9 1155.7,1607.7 1156.0,1609.7 1157.7,1610.5 1159.0,1610.0 1159.7,1612.0 1160.0,1610.5 1160.3,1611.9 1161.6,1610.9 1162.9,1612.4 1164.2,1611.7 1165.5,1612.7 1166.8,1612.4 1168.2,1613.4 1168.5,1612.6 1168.8,1613.4 1169.4,1612.8 1170.7,1613.7 1172.0,1613.2 1173.3,1613.9 1174.6,1613.6 1175.9,1614.2 1177.2,1614.0 1178.2,1614.4 1178.5,1614.1 1178.8,1614.4 1179.8,1614.1 1181.1,1614.5 1182.4,1614.3 1183.7,1614.6 1185.0,1614.4 1186.3,1614.7 1187.6,1614.6 1188.9,1614.8 1190.2,1614.7 1191.5,1614.9 1192.8,1614.9 1194.1,1615.0 1195.4,1615.0 1196.7,1615.2 1198.0,1615.1 1199.6,1615.3 1199.9,1615.2 1200.2,1615.3 1201.9,1615.3 1203.2,1615.3 1204.5,1615.3 1205.8,1615.3 1207.1,1615.4 1208.4,1615.3 1209.7,1615.4 1211.0,1615.3 1212.3,1615.4 1213.6,1615.3 1214.9,1615.4 1216.2,1615.4 1217.5,1615.4 1218.8,1615.4 1220.1,1615.5 1221.4,1615.4 1222.7,1615.5 1224.0,1615.4 1225.3,1615.5 1226.6,1615.4 1227.9,1615.5 1229.2,1615.5 1230.5,1615.5 1231.8,1615.5 1233.1,1615.6 1234.4,1615.5 1235.7,1615.6 1237.0,1615.5 1238.3,1615.6 1239.6,1615.6 1240.9,1615.6 1242.2,1615.6 1243.5,1615.7 1244.8,1615.6 1246.1,1615.7 1247.4,1615.6 1248.7,1615.7 1250.0,1615.6 1251.3,1615.7 1252.6,1615.7 1253.9,1615.7 1255.2,1615.7 1256.5,1615.8 1257.8,1615.7 1259.1,1615.8 1260.4,1615.7 1261.7,1615.8 1263.0,1615.7 1264.3,1615.8 1265.6,1615.8 1266.9,1615.9 1268.1,1615.9 1268.4,1615.8 1268.7,1615.8 1269.5,1615.9 1270.8,1615.8 1272.1,1615.9 1273.4,1615.8 1274.7,1615.9 1276.0,1615.8 1277.3,1615.9 1278.6,1615.8 1279.9,1615.9 1281.2,1615.8 1282.5,1615.9 1283.8,1615.9 1285.1,1615.9 1286.4,1615.9 1287.7,1615.9 1289.0,1615.9 1290.3,1615.9 1291.6,1615.9 1292.9,1615.9 1294.2,1615.9 1295.5,1615.9 1296.8,1615.9 1298.1,1615.9 1299.4,1615.9 1300.7,1616.0 1302.0,1615.9 1303.3,1616.0 1304.6,1615.9 1305.9,1616.0 1307.2,1615.9 1308.5,1616.0 1309.8,1615.9 1311.1,1616.0 1312.4,1616.0 1313.7,1616.0 1315.0,1616.0 1316.3,1616.0 1317.6,1616.0 1318.9,1616.0 1320.2,1616.0 1321.5,1616.0 1322.8,1616.0 1324.1,1616.0 1325.4,1616.0 1326.7,1616.0 1328.0,1616.0 1329.3,1616.0 1330.6,1616.0 1331.9,1616.1 1333.2,1616.0 1334.5,1616.1 1335.8,1616.0 1337.1,1616.1 1338.4,1616.0 1339.7,1616.1 1341.0,1616.0 1342.3,1616.1 1343.6,1616.1 1344.9,1616.1 1346.2,1616.1 1347.5,1616.1 1348.8,1616.1 1350.1,1616.1 1351.4,1616.1 1352.7,1616.1 1354.0,1616.1 1355.3,1616.1 1356.6,1616.1 1357.9,1616.1 1359.2,1616.1 1360.5,1616.1 1361.8,1616.1 1363.1,1616.1 1364.4,1616.1 1365.7,1616.2 1367.0,1616.1 1368.3,1616.2 1369.6,1616.2 1370.9,1616.2 1372.2,1616.2 1373.5,1616.2 1374.8,1616.2 1376.1,1616.2 1377.4,1616.2 1378.7,1616.2 1380.0,1616.2 1381.3,1616.2 1382.6,1616.2 1383.9,1616.2 1385.2,1616.2 1386.5,1616.2 1387.8,1616.2 1389.1,1616.2 1390.4,1616.2 1391.7,1616.2 1393.0,1616.2 1394.3,1616.2 1395.6,1616.2 1396.9,1616.2 1398.2,1616.2 1399.7,1616.3 1400.0,1616.3 1400.3,1616.3 1400.8,1616.3 1402.1,1616.3 1403.4,1616.3 1404.7,1616.3 1406.0,1616.3 1407.3,1616.3 1408.6,1616.3 1409.9,1616.3 1411.2,1616.3 1412.5,1616.3 1413.8,1616.3 1415.1,1616.3 1416.4,1616.3 1417.7,1616.3 1419.0,1616.3 1420.3,1616.3 1421.6,1616.3 1422.9,1616.3 1424.2,1616.3 1425.5,1616.3 1426.8,1616.3 1428.1,1616.3 1429.4,1616.3 1430.7,1616.3 1432.0,1616.3 1433.3,1616.3 1434.6,1616.3 1435.9,1616.3 1437.2,1616.3 1438.5,1616.3 1439.8,1616.3 1441.1,1616.3 1442.4,1616.3 1443.7,1616.3 1445.0,1616.3 1446.3,1616.3 1447.6,1616.3 1448.9,1616.3 1450.2,1616.3 1451.5,1616.3 1452.8,1616.3 1454.1,1616.3 1455.4,1616.3 1456.7,1616.3 1458.0,1616.3 1459.3,1616.3 1460.6,1616.3 1461.9,1616.3 1463.2,1616.3 1464.5,1616.3 1465.8,1616.3 1467.1,1616.3 1468.4,1616.3 1469.7,1616.3 1471.0,1616.3 1472.3,1616.3 1473.6,1616.3 1474.9,1616.3 1476.2,1616.3 1477.5,1616.3 1478.8,1616.3 1480.1,1616.3 1481.4,1616.3 1482.7,1616.3 1484.0,1616.3 1485.3,1616.3 1486.6,1616.3 1487.9,1616.3 1489.2,1616.3 1490.5,1616.3 1491.8,1616.3 1493.1,1616.3 1494.4,1616.3 1495.7,1616.3 1497.0,1616.3 1498.3,1616.3 1499.6,1616.3 1500.9,1616.3 1502.2,1616.3 1503.5,1616.3 1504.8,1616.3 1506.1,1616.3 1507.4,1616.3 1508.7,1616.3 1510.0,1616.3 1511.3,1616.3 1512.6,1616.3 1513.9,1616.3 1515.2,1616.3 1516.5,1616.3 1517.8,1616.3 1519.1,1616.3 1520.4,1616.3 1521.7,1616.3 1523.0,1616.3 1524.3,1616.3 1525.6,1616.3 1526.9,1616.3 1528.2,1616.3 1529.5,1616.3 1530.8,1616.3 1532.1,1616.3 1533.4,1616.3 1534.7,1616.3 1536.0,1616.3 1537.3,1616.3 1538.6,1616.3 1539.9,1616.3 1541.2,1616.3 1542.5,1616.3 1543.8,1616.3 1545.1,1616.3 1546.4,1616.3 1547.7,1616.3 1549.0,1616.3 1550.3,1616.3 1551.6,1616.3 1552.9,1616.3 1554.2,1616.3 1555.5,1616.3 1556.8,1616.3 1558.1,1616.3 1559.4,1616.3 1560.7,1616.3 1562.0,1616.3 1563.3,1616.3 1564.6,1616.3 1565.9,1616.3 1567.2,1616.3 1568.5,1616.3 1569.8,1616.3 1571.1,1616.3 1572.4,1616.3 1573.7,1616.3 1575.0,1616.3 1576.3,1616.3 1577.6,1616.3 1578.9,1616.3 1580.2,1616.3 1581.5,1616.3 1582.8,1616.3 1584.1,1616.3 1585.4,1616.3 1586.7,1616.3 1588.0,1616.3 1589.3,1616.3 1590.6,1616.3 1591.9,1616.3 1593.2,1616.3 1594.5,1616.3 1595.8,1616.3 1597.1,1616.3 1598.4,1616.3 1599.7,1616.3 1601.0,1616.3 1602.3,1616.3 1603.6,1616.3 1604.9,1616.3 1606.2,1616.3 1607.5,1616.3 1608.8,1616.3 1610.1,1616.3 1611.4,1616.3 1612.7,1616.3 1614.0,1616.3 1615.3,1616.3 1616.6,1616.3 1617.9,1616.3 1619.2,1616.3 1620.5,1616.3 1621.8,1616.3 1623.1,1616.3 1624.4,1616.3 1625.7,1616.3 1627.0,1616.3 1628.3,1616.3 1629.6,1616.3 1630.9,1616.3 1632.2,1616.3 1633.5,1616.3 1634.8,1616.3 1636.1,1616.3 1637.4,1616.3 1638.7,1616.3 1640.0,1616.3 1641.3,1616.3 1642.6,1616.3 1643.9,1616.3 1645.2,1616.3 1646.5,1616.3 1647.8,1616.3 1649.1,1616.3 1650.4,1616.3 1651.7,1616.3 1653.0,1616.3 1654.3,1616.3 1655.6,1616.3 1656.9,1616.3 1658.2,1616.3 1659.5,1616.3 1660.8,1616.3 1662.1,1616.3 1663.4,1616.3 1664.7,1616.3 1666.0,1616.3 1667.3,1616.3 1668.6,1616.3 1669.9,1616.3 1671.2,1616.3 1672.5,1616.3 1673.8,1616.3 1675.1,1616.3 1676.4,1616.3 1677.7,1616.3 1679.0,1616.3 1680.3,1616.3 1681.6,1616.3 1682.9,1616.3 1684.2,1616.3 1685.5,1616.3 1686.8,1616.3 1688.1,1616.3 1689.4,1616.3 1690.7,1616.3 1692.0,1616.3 1693.3,1616.3 1694.6,1616.3 1695.9,1616.3 1697.2,1616.3 1698.5,1616.3 1699.8,1616.3 1701.1,1616.3 1702.4,1616.3 1703.7,1616.3 1705.0,1616.3 1706.3,1616.3 1707.6,1616.3 1708.9,1616.3 1710.2,1616.3 1711.5,1616.3 1712.8,1616.3 1714.1,1616.3 1715.4,1616.3 1716.7,1616.3 1718.0,1616.3 1719.3,1616.3 1720.6,1616.3 1721.9,1616.3 1723.2,1616.3 1724.5,1616.3 1725.8,1616.3 1727.1,1616.3 1728.4,1616.3 1729.7,1616.3 1731.0,1616.3 1732.3,1616.3 1733.6,1616.3 1734.9,1616.3 1736.2,1616.3 1737.5,1616.3 1738.8,1616.3 1740.1,1616.3 1741.4,1616.3 1742.7,1616.3 1744.0,1616.3 1745.3,1616.3 1746.6,1616.3 1747.9,1616.3 1749.2,1616.3 1750.5,1616.3 1751.8,1616.3 1753.1,1616.3 1754.4,1616.3 1755.7,1616.3 1757.0,1616.3 1758.3,1616.3 1759.6,1616.3 1760.9,1616.3 1762.2,1616.3 1763.5,1616.3 1764.8,1616.3 1766.1,1616.3 1767.4,1616.3 1768.7,1616.3 1770.0,1616.3 1771.3,1616.3 1772.6,1616.3 1773.9,1616.3 1775.2,1616.3 1776.5,1616.3 1777.8,1616.3 1779.1,1616.3 1780.4,1616.3 1781.7,1616.3 1783.0,1616.3 1784.3,1616.3 1785.6,1616.3 1786.9,1616.3 1788.2,1616.3 1789.5,1616.3 1790.8,1616.3 1792.1,1616.3 1793.4,1616.3 1794.7,1616.3 1796.0,1616.3 1797.3,1616.3 1798.6,1616.3 1799.9,1616.3 1801.2,1616.3 1802.5,1616.3 1803.8,1616.3 1805.1,1616.3 1806.4,1616.3 1807.7,1616.3 1809.0,1616.3 1810.3,1616.3 1811.6,1616.3 1812.9,1616.3 1814.2,1616.3 1815.5,1616.3 1816.8,1616.3 1818.1,1616.3 1819.4,1616.3 1820.7,1616.3 1822.0,1616.3 1823.3,1616.3 1824.6,1616.3 1825.9,1616.3 1827.2,1616.3 1828.5,1616.3 1829.8,1616.3 1831.1,1616.3 1832.4,1616.3 1833.7,1616.3 1835.0,1616.3 1836.3,1616.3 1837.6,1616.3 1838.9,1616.3 1840.2,1616.3 1841.5,1616.3 1842.8,1616.3 1844.1,1616.3 1845.4,1616.3 1846.7,1616.3 1848.0,1616.3 1849.3,1616.3 1850.6,1616.3 1851.9,1616.3 1853.2,1616.3 1854.5,1616.3 1855.8,1616.3 1857.1,1616.3 1858.4,1616.3 1859.7,1616.3 1861.0,1616.3 1862.3,1616.3 1863.6,1616.3 1864.9,1616.3 1866.2,1616.3 1867.5,1616.3 1868.8,1616.3 1870.1,1616.3 1871.4,1616.3 1872.7,1616.3 1874.0,1616.3 1875.3,1616.3 1876.6,1616.3 1877.9,1616.3 1879.2,1616.3 1880.5,1616.3 1881.8,1616.3 1883.1,1616.3 1884.4,1616.3 1885.7,1616.3 1887.0,1616.3 1888.3,1616.3 1889.6,1616.3 1890.9,1616.3 1892.2,1616.3 1893.5,1616.3 1894.8,1616.3 1896.1,1616.3 1896.2,1616.3 1896.5,1616.3 1896.5,1616.3" fill="none" stroke="#0000ff" stroke-width="4.2" stroke-linejoin="round" stroke-linecap="butt" clip-path="url(#cR8)"/>
<path d="M1330.1 1673.0V1819.0M1513.2 1673.0V1819.0M1696.4 1673.0V1819.0M1879.5 1673.0V1819.0M1146.0 1690.0H1896.5" stroke="#dedede" stroke-width="3.7" fill="none"/>
<path d="M1330.1 1819.0v-9.0M1330.1 1673.0v9.0M1513.2 1819.0v-9.0M1513.2 1673.0v9.0M1696.4 1819.0v-9.0M1696.4 1673.0v9.0M1879.5 1819.0v-9.0M1879.5 1673.0v9.0M1146.0 1690.0h9.0M1896.5 1690.0h-9.0" stroke="#262626" stroke-width="3.7" fill="none"/>
<rect x="1146.0" y="1673.0" width="750.5" height="146.0" stroke="#262626" stroke-width="3.7" fill="none"/>
<polyline points="1146.0,1672.0 1146.4,1672.0 1146.8,1672.0 1147.2,1677.0 1147.6,1698.0 1148.0,1718.7 1148.4,1738.6 1148.8,1757.0 1149.2,1773.4 1149.6,1787.2 1150.0,1797.8 1150.4,1804.6 1150.8,1807.3 1151.2,1808.5 1151.6,1809.6 1152.0,1810.6 1152.4,1811.5 1152.8,1812.3 1153.2,1812.9 1153.6,1813.5 1154.0,1814.0 1154.4,1814.4 1154.8,1814.7 1155.2,1815.0 1155.6,1815.2 1156.0,1815.4 1156.4,1815.5 1156.8,1815.7 1157.2,1815.8 1157.6,1815.9 1158.0,1816.0 1158.4,1816.1 1158.8,1816.2 1159.2,1816.3 1159.6,1816.4 1160.0,1816.5 1160.4,1816.5 1160.8,1816.6 1161.2,1816.6 1161.6,1816.7 1162.0,1816.8 1162.4,1816.8 1162.8,1816.9 1163.2,1816.9 1163.6,1817.0 1164.0,1817.0 1164.4,1817.1 1164.8,1817.1 1165.2,1817.2 1165.6,1817.2 1166.0,1817.3 1166.4,1817.3 1166.8,1817.3 1167.2,1817.4 1167.6,1817.4 1168.0,1817.4 1168.4,1817.5 1168.8,1817.5 1169.2,1817.5 1169.6,1817.6 1170.0,1817.6 1170.4,1817.6 1170.8,1817.6 1171.2,1817.7 1171.6,1817.7 1172.0,1817.7 1172.4,1817.7 1172.8,1817.8 1173.2,1817.8 1173.6,1817.8 1174.0,1817.8 1174.4,1817.8 1174.8,1817.9 1175.2,1817.9 1175.6,1817.9 1176.0,1817.9 1176.4,1818.0 1176.8,1818.0 1177.2,1818.0 1177.6,1818.0 1178.0,1818.0 1178.4,1818.1 1178.8,1818.1 1179.2,1818.1 1179.6,1818.1 1180.0,1818.1 1180.4,1818.1 1180.8,1818.2 1181.2,1818.2 1181.6,1818.2 1182.0,1818.2 1182.4,1818.2 1182.8,1818.2 1183.2,1818.3 1183.6,1818.3 1184.0,1818.3 1184.4,1818.3 1184.8,1818.3 1185.2,1818.3 1185.6,1818.3 1186.0,1818.3 1186.4,1818.3 1186.8,1818.4 1187.2,1818.4 1187.6,1818.4 1188.0,1818.4 1188.4,1818.4 1188.8,1818.4 1189.2,1818.4 1189.6,1818.4 1190.0,1818.4 1190.4,1818.4 1190.8,1818.4 1191.2,1818.4 1191.6,1818.4 1192.0,1818.4 1192.4,1818.4 1192.8,1818.4 1193.2,1818.4 1193.6,1818.4 1194.0,1818.4 1194.4,1818.4 1194.8,1818.4 1195.2,1818.4 1195.6,1818.4 1196.0,1818.4 1196.4,1818.4 1196.8,1818.4 1197.2,1818.4 1197.6,1818.4 1198.0,1818.4 1198.4,1818.4 1198.8,1818.4 1199.2,1818.4 1199.6,1818.4 1200.0,1818.4 1200.4,1818.4 1200.8,1818.4 1201.2,1818.4 1201.6,1818.4 1202.0,1818.4 1202.4,1818.5 1202.8,1818.5 1203.2,1818.5 1203.6,1818.5 1204.0,1818.5 1204.4,1818.5 1204.8,1818.5 1205.2,1818.5 1205.6,1818.5 1206.0,1818.5 1206.4,1818.5 1206.8,1818.5 1207.2,1818.5 1207.6,1818.5 1208.0,1818.5 1208.4,1818.5 1208.8,1818.5 1209.2,1818.5 1209.6,1818.5 1210.0,1818.5 1210.4,1818.5 1210.8,1818.5 1211.2,1818.5 1211.6,1818.5 1212.0,1818.5 1212.4,1818.5 1212.8,1818.5 1213.2,1818.5 1213.6,1818.5 1214.0,1818.5 1214.4,1818.5 1214.8,1818.5 1215.2,1818.5 1215.6,1818.5 1216.0,1818.5 1216.4,1818.5 1216.8,1818.5 1217.2,1818.5 1217.6,1818.5 1218.0,1818.5 1218.4,1818.5 1218.8,1818.5 1219.2,1818.5 1219.6,1818.5 1220.0,1818.5 1220.4,1818.5 1220.8,1818.5 1221.2,1818.5 1221.6,1818.5 1222.0,1818.5 1222.4,1818.5 1222.8,1818.5 1223.2,1818.5 1223.6,1818.5 1224.0,1818.5 1224.4,1818.5 1224.8,1818.5 1225.2,1818.5 1225.6,1818.6 1226.0,1818.6 1226.4,1818.6 1226.8,1818.6 1227.2,1818.6 1227.6,1818.6 1228.0,1818.6 1228.4,1818.6 1228.8,1818.6 1229.2,1818.6 1229.6,1818.6 1230.0,1818.6 1230.4,1818.6 1230.8,1818.6 1231.2,1818.6 1231.6,1818.6 1232.0,1818.6 1232.4,1818.6 1232.8,1818.6 1233.2,1818.6 1233.6,1818.6 1234.0,1818.6 1234.4,1818.6 1234.8,1818.6 1235.2,1818.6 1235.6,1818.6 1236.0,1818.6 1236.4,1818.6 1236.8,1818.6 1237.2,1818.6 1237.6,1818.6 1238.0,1818.6 1238.4,1818.6 1238.8,1818.6 1239.2,1818.6 1239.6,1818.6 1240.0,1818.6 1240.4,1818.6 1240.8,1818.6 1241.2,1818.6 1241.6,1818.6 1242.0,1818.6 1242.4,1818.6 1242.8,1818.6 1243.2,1818.6 1243.6,1818.6 1244.0,1818.6 1244.4,1818.6 1244.8,1818.6 1245.2,1818.6 1245.6,1818.6 1246.0,1818.6 1246.4,1818.6 1246.8,1818.6 1247.2,1818.6 1247.6,1818.6 1248.0,1818.6 1248.4,1818.6 1248.8,1818.6 1249.2,1818.6 1249.6,1818.6 1250.0,1818.6 1250.4,1818.6 1250.8,1818.6 1251.2,1818.6 1251.6,1818.6 1252.0,1818.6 1252.4,1818.6 1252.8,1818.6 1253.2,1818.6 1253.6,1818.6 1254.0,1818.6 1254.4,1818.6 1254.8,1818.6 1255.2,1818.6 1255.6,1818.7 1256.0,1818.7 1256.4,1818.7 1256.8,1818.7 1257.2,1818.7 1257.6,1818.7 1258.0,1818.7 1258.4,1818.7 1258.8,1818.7 1259.2,1818.7 1259.6,1818.7 1260.0,1818.7 1260.4,1818.7 1260.8,1818.7 1261.2,1818.7 1261.6,1818.7 1262.0,1818.7 1262.4,1818.7 1262.8,1818.7 1263.2,1818.7 1263.6,1818.7 1264.0,1818.7 1264.4,1818.7 1264.8,1818.7 1265.2,1818.7 1265.6,1818.7 1266.0,1818.7 1266.4,1818.7 1266.8,1818.7 1267.2,1818.7 1267.6,1818.7 1268.0,1818.7 1268.4,1818.7 1268.8,1818.7 1269.2,1818.7 1269.6,1818.7 1270.0,1818.7 1270.4,1818.7 1270.8,1818.7 1271.2,1818.7 1271.6,1818.7 1272.0,1818.7 1272.4,1818.7 1272.8,1818.7 1273.2,1818.7 1273.6,1818.7 1274.0,1818.7 1274.4,1818.7 1274.8,1818.7 1275.2,1818.7 1275.6,1818.7 1276.0,1818.7 1276.4,1818.7 1276.8,1818.7 1277.2,1818.7 1277.6,1818.7 1278.0,1818.7 1278.4,1818.7 1278.8,1818.7 1279.2,1818.7 1279.6,1818.7 1280.0,1818.7 1280.4,1818.7 1280.8,1818.7 1281.2,1818.7 1281.6,1818.7 1282.0,1818.7 1282.4,1818.7 1282.8,1818.7 1283.2,1818.7 1283.6,1818.7 1284.0,1818.7 1284.4,1818.7 1284.8,1818.7 1285.2,1818.7 1285.6,1818.7 1286.0,1818.7 1286.4,1818.7 1286.8,1818.7 1287.2,1818.7 1287.6,1818.7 1288.0,1818.7 1288.4,1818.7 1288.8,1818.7 1289.2,1818.7 1289.6,1818.7 1290.0,1818.7 1290.4,1818.7 1290.8,1818.7 1291.2,1818.7 1291.6,1818.7 1292.0,1818.7 1292.4,1818.7 1292.8,1818.7 1293.2,1818.7 1293.6,1818.7 1294.0,1818.7 1294.4,1818.7 1294.8,1818.7 1295.2,1818.7 1295.6,1818.7 1296.0,1818.7 1296.4,1818.7 1296.8,1818.7 1297.2,1818.7 1297.6,1818.7 1298.0,1818.7 1298.4,1818.7 1298.8,1818.7 1299.2,1818.7 1299.6,1818.7 1300.0,1818.7 1300.4,1818.7 1300.8,1818.8 1301.2,1818.8 1301.6,1818.8 1302.0,1818.8 1302.4,1818.8 1302.8,1818.8 1303.2,1818.8 1303.6,1818.8 1304.0,1818.8 1304.4,1818.8 1304.8,1818.8 1305.2,1818.8 1305.6,1818.8 1306.0,1818.8 1306.4,1818.8 1306.8,1818.8 1307.2,1818.8 1307.6,1818.8 1308.0,1818.8 1308.4,1818.8 1308.8,1818.8 1309.2,1818.8 1309.6,1818.8 1310.0,1818.8 1310.4,1818.8 1310.8,1818.8 1311.2,1818.8 1311.6,1818.8 1312.0,1818.8 1312.4,1818.8 1312.8,1818.8 1313.2,1818.8 1313.6,1818.8 1314.0,1818.8 1314.4,1818.8 1314.8,1818.8 1315.2,1818.8 1315.6,1818.8 1316.0,1818.8 1316.4,1818.8 1316.8,1818.8 1317.2,1818.8 1317.6,1818.8 1318.0,1818.8 1318.4,1818.8 1318.8,1818.8 1319.2,1818.8 1319.6,1818.8 1320.0,1818.8 1320.4,1818.8 1320.8,1818.8 1321.2,1818.8 1321.6,1818.8 1322.0,1818.8 1322.4,1818.8 1322.8,1818.8 1323.2,1818.8 1323.6,1818.8 1324.0,1818.8 1324.4,1818.8 1324.8,1818.8 1325.2,1818.8 1325.6,1818.8 1326.0,1818.8 1326.4,1818.8 1326.8,1818.8 1327.2,1818.8 1327.6,1818.8 1328.0,1818.8 1328.4,1818.8 1328.8,1818.8 1329.2,1818.8 1329.6,1818.8 1330.0,1818.8 1330.4,1818.8 1330.8,1818.8 1331.2,1818.8 1331.6,1818.8 1332.0,1818.8 1332.4,1818.8 1332.8,1818.8 1333.2,1818.8 1333.6,1818.8 1334.0,1818.8 1334.4,1818.8 1334.8,1818.8 1335.2,1818.8 1335.6,1818.8 1336.0,1818.8 1336.4,1818.8 1336.8,1818.8 1337.2,1818.8 1337.6,1818.8 1338.0,1818.8 1338.4,1818.8 1338.8,1818.8 1339.2,1818.8 1339.6,1818.8 1340.0,1818.8 1340.4,1818.8 1340.8,1818.8 1341.2,1818.8 1341.6,1818.8 1342.0,1818.8 1342.4,1818.8 1342.8,1818.8 1343.2,1818.8 1343.6,1818.8 1344.0,1818.8 1344.4,1818.8 1344.8,1818.8 1345.2,1818.8 1345.6,1818.8 1346.0,1818.8 1346.4,1818.8 1346.8,1818.8 1347.2,1818.8 1347.6,1818.8 1348.0,1818.8 1348.4,1818.8 1348.8,1818.8 1349.2,1818.8 1349.6,1818.8 1350.0,1818.8 1350.4,1818.8 1350.8,1818.8 1351.2,1818.8 1351.6,1818.8 1352.0,1818.8 1352.4,1818.8 1352.8,1818.8 1353.2,1818.8 1353.6,1818.8 1354.0,1818.8 1354.4,1818.8 1354.8,1818.8 1355.2,1818.8 1355.6,1818.8 1356.0,1818.8 1356.4,1818.8 1356.8,1818.8 1357.2,1818.8 1357.6,1818.8 1358.0,1818.8 1358.4,1818.8 1358.8,1818.8 1359.2,1818.8 1359.6,1818.8 1360.0,1818.8 1360.4,1818.8 1360.8,1818.8 1361.2,1818.8 1361.6,1818.8 1362.0,1818.8 1362.4,1818.8 1362.8,1818.8 1363.2,1818.8 1363.6,1818.8 1364.0,1818.8 1364.4,1818.8 1364.8,1818.8 1365.2,1818.8 1365.6,1818.8 1366.0,1818.8 1366.4,1818.8 1366.8,1818.8 1367.2,1818.8 1367.6,1818.8 1368.0,1818.8 1368.4,1818.8 1368.8,1818.8 1369.2,1818.8 1369.6,1818.8 1370.0,1818.8 1370.4,1818.8 1370.8,1818.8 1371.2,1818.8 1371.6,1818.8 1372.0,1818.8 1372.4,1818.8 1372.8,1818.8 1373.2,1818.8 1373.6,1818.8 1374.0,1818.8 1374.4,1818.8 1374.8,1818.8 1375.2,1818.8 1375.6,1818.8 1376.0,1818.8 1376.4,1818.8 1376.8,1818.8 1377.2,1818.8 1377.6,1818.8 1378.0,1818.8 1378.4,1818.8 1378.8,1818.8 1379.2,1818.8 1379.6,1818.8 1380.0,1818.8 1380.4,1818.8 1380.8,1818.8 1381.2,1818.8 1381.6,1818.8 1382.0,1818.8 1382.4,1818.8 1382.8,1818.8 1383.2,1818.8 1383.6,1818.8 1384.0,1818.8 1384.4,1818.8 1384.8,1818.8 1385.2,1818.8 1385.6,1818.8 1386.0,1818.8 1386.4,1818.8 1386.8,1818.8 1387.2,1818.8 1387.6,1818.8 1388.0,1818.8 1388.4,1818.8 1388.8,1818.8 1389.2,1818.8 1389.6,1818.8 1390.0,1818.8 1390.4,1818.8 1390.8,1818.8 1391.2,1818.8 1391.6,1818.8 1392.0,1818.8 1392.4,1818.8 1392.8,1818.8 1393.2,1818.8 1393.6,1818.8 1394.0,1818.8 1394.4,1818.8 1394.8,1818.8 1395.2,1818.8 1395.6,1818.8 1396.0,1818.8 1396.4,1818.8 1396.8,1818.8 1397.2,1818.8 1397.6,1818.8 1398.0,1818.8 1398.4,1818.8 1398.8,1818.8 1399.2,1818.8 1399.6,1818.8 1400.0,1818.8 1400.4,1818.8 1400.8,1818.8 1401.2,1818.8 1401.6,1818.8 1402.0,1818.8 1402.4,1818.8 1402.8,1818.8 1403.2,1818.8 1403.6,1818.8 1404.0,1818.8 1404.4,1818.8 1404.8,1818.8 1405.2,1818.8 1405.6,1818.8 1406.0,1818.8 1406.4,1818.8 1406.8,1818.8 1407.2,1818.8 1407.6,1818.8 1408.0,1818.8 1408.4,1818.8 1408.8,1818.8 1409.2,1818.8 1409.6,1818.8 1410.0,1818.8 1410.4,1818.8 1410.8,1818.8 1411.2,1818.8 1411.6,1818.8 1412.0,1818.8 1412.4,1818.8 1412.8,1818.8 1413.2,1818.8 1413.6,1818.8 1414.0,1818.8 1414.4,1818.8 1414.8,1818.8 1415.2,1818.8 1415.6,1818.8 1416.0,1818.8 1416.4,1818.8 1416.8,1818.8 1417.2,1818.8 1417.6,1818.8 1418.0,1818.8 1418.4,1818.8 1418.8,1818.8 1419.2,1818.8 1419.6,1818.8 1420.0,1818.8 1420.4,1818.8 1420.8,1818.8 1421.2,1818.8 1421.6,1818.8 1422.0,1818.8 1422.4,1818.8 1422.8,1818.8 1423.2,1818.8 1423.6,1818.8 1424.0,1818.8 1424.4,1818.8 1424.8,1818.8 1425.2,1818.8 1425.6,1818.8 1426.0,1818.8 1426.4,1818.8 1426.8,1818.8 1427.2,1818.8 1427.6,1818.8 1428.0,1818.8 1428.4,1818.8 1428.8,1818.8 1429.2,1818.8 1429.6,1818.8 1430.0,1818.8 1430.4,1818.8 1430.8,1818.8 1431.2,1818.8 1431.6,1818.8 1432.0,1818.8 1432.4,1818.8 1432.8,1818.8 1433.2,1818.8 1433.6,1818.8 1434.0,1818.8 1434.4,1818.8 1434.8,1818.8 1435.2,1818.8 1435.6,1818.8 1436.0,1818.8 1436.4,1818.8 1436.8,1818.8 1437.2,1818.8 1437.6,1818.8 1438.0,1818.8 1438.4,1818.8 1438.8,1818.8 1439.2,1818.8 1439.6,1818.8 1440.0,1818.8 1440.4,1818.8 1440.8,1818.8 1441.2,1818.8 1441.6,1818.8 1442.0,1818.8 1442.4,1818.8 1442.8,1818.8 1443.2,1818.8 1443.6,1818.8 1444.0,1818.8 1444.4,1818.8 1444.8,1818.8 1445.2,1818.8 1445.6,1818.8 1446.0,1818.8 1446.4,1818.8 1446.8,1818.8 1447.2,1818.8 1447.6,1818.8 1448.0,1818.8 1448.4,1818.8 1448.8,1818.8 1449.2,1818.8 1449.6,1818.8 1450.0,1818.8 1450.4,1818.8 1450.8,1818.8 1451.2,1818.8 1451.6,1818.8 1452.0,1818.8 1452.4,1818.8 1452.8,1818.8 1453.2,1818.8 1453.6,1818.8 1454.0,1818.8 1454.4,1818.8 1454.8,1818.8 1455.2,1818.8 1455.6,1818.8 1456.0,1818.8 1456.4,1818.8 1456.8,1818.8 1457.2,1818.8 1457.6,1818.8 1458.0,1818.8 1458.4,1818.8 1458.8,1818.8 1459.2,1818.8 1459.6,1818.8 1460.0,1818.8 1460.4,1818.8 1460.8,1818.8 1461.2,1818.8 1461.6,1818.8 1462.0,1818.8 1462.4,1818.8 1462.8,1818.8 1463.2,1818.8 1463.6,1818.8 1464.0,1818.8 1464.4,1818.8 1464.8,1818.8 1465.2,1818.8 1465.6,1818.8 1466.0,1818.8 1466.4,1818.8 1466.8,1818.8 1467.2,1818.8 1467.6,1818.8 1468.0,1818.8 1468.4,1818.8 1468.8,1818.8 1469.2,1818.8 1469.6,1818.8 1470.0,1818.8 1470.4,1818.8 1470.8,1818.8 1471.2,1818.8 1471.6,1818.8 1472.0,1818.8 1472.4,1818.8 1472.8,1818.8 1473.2,1818.8 1473.6,1818.8 1474.0,1818.8 1474.4,1818.8 1474.8,1818.8 1475.2,1818.8 1475.6,1818.8 1476.0,1818.8 1476.4,1818.8 1476.8,1818.8 1477.2,1818.8 1477.6,1818.8 1478.0,1818.8 1478.4,1818.8 1478.8,1818.8 1479.2,1818.8 1479.6,1818.8 1480.0,1818.8 1480.4,1818.8 1480.8,1818.8 1481.2,1818.8 1481.6,1818.8 1482.0,1818.8 1482.4,1818.8 1482.8,1818.8 1483.2,1818.8 1483.6,1818.8 1484.0,1818.8 1484.4,1818.8 1484.8,1818.8 1485.2,1818.8 1485.6,1818.8 1486.0,1818.8 1486.4,1818.8 1486.8,1818.8 1487.2,1818.8 1487.6,1818.8 1488.0,1818.8 1488.4,1818.8 1488.8,1818.8 1489.2,1818.8 1489.6,1818.8 1490.0,1818.8 1490.4,1818.8 1490.8,1818.8 1491.2,1818.8 1491.6,1818.8 1492.0,1818.8 1492.4,1818.8 1492.8,1818.8 1493.2,1818.8 1493.6,1818.8 1494.0,1818.8 1494.4,1818.8 1494.8,1818.8 1495.2,1818.8 1495.6,1818.8 1496.0,1818.8 1496.4,1818.8 1496.8,1818.8 1497.2,1818.8 1497.6,1818.8 1498.0,1818.8 1498.4,1818.8 1498.8,1818.8 1499.2,1818.8 1499.6,1818.8 1500.0,1818.8 1500.4,1818.8 1500.8,1818.8 1501.2,1818.8 1501.6,1818.8 1502.0,1818.8 1502.4,1818.8 1502.8,1818.8 1503.2,1818.8 1503.6,1818.8 1504.0,1818.8 1504.4,1818.8 1504.8,1818.8 1505.2,1818.8 1505.6,1818.8 1506.0,1818.8 1506.4,1818.8 1506.8,1818.8 1507.2,1818.8 1507.6,1818.8 1508.0,1818.8 1508.4,1818.8 1508.8,1818.8 1509.2,1818.8 1509.6,1818.8 1510.0,1818.8 1510.4,1818.8 1510.8,1818.8 1511.2,1818.8 1511.6,1818.8 1512.0,1818.8 1512.4,1818.8 1512.8,1818.8 1513.2,1818.8 1513.6,1818.8 1514.0,1818.8 1514.4,1818.8 1514.8,1818.8 1515.2,1818.8 1515.6,1818.8 1516.0,1818.8 1516.4,1818.8 1516.8,1818.8 1517.2,1818.8 1517.6,1818.8 1518.0,1818.8 1518.4,1818.8 1518.8,1818.8 1519.2,1818.8 1519.6,1818.8 1520.0,1818.8 1520.4,1818.8 1520.8,1818.8 1521.2,1818.8 1521.6,1818.8 1522.0,1818.8 1522.4,1818.8 1522.8,1818.8 1523.2,1818.8 1523.6,1818.8 1524.0,1818.8 1524.4,1818.8 1524.8,1818.8 1525.2,1818.8 1525.6,1818.8 1526.0,1818.8 1526.4,1818.8 1526.8,1818.8 1527.2,1818.8 1527.6,1818.8 1528.0,1818.8 1528.4,1818.8 1528.8,1818.8 1529.2,1818.8 1529.6,1818.8 1530.0,1818.8 1530.4,1818.8 1530.8,1818.8 1531.2,1818.8 1531.6,1818.8 1532.0,1818.8 1532.4,1818.8 1532.8,1818.8 1533.2,1818.8 1533.6,1818.8 1534.0,1818.8 1534.4,1818.8 1534.8,1818.8 1535.2,1818.8 1535.6,1818.8 1536.0,1818.8 1536.4,1818.8 1536.8,1818.8 1537.2,1818.8 1537.6,1818.8 1538.0,1818.8 1538.4,1818.8 1538.8,1818.8 1539.2,1818.8 1539.6,1818.8 1540.0,1818.8 1540.4,1818.8 1540.8,1818.8 1541.2,1818.8 1541.6,1818.8 1542.0,1818.8 1542.4,1818.8 1542.8,1818.8 1543.2,1818.8 1543.6,1818.8 1544.0,1818.8 1544.4,1818.8 1544.8,1818.8 1545.2,1818.8 1545.6,1818.8 1546.0,1818.8 1546.4,1818.8 1546.8,1818.8 1547.2,1818.8 1547.6,1818.8 1548.0,1818.8 1548.4,1818.8 1548.8,1818.8 1549.2,1818.8 1549.6,1818.8 1550.0,1818.8 1550.4,1818.8 1550.8,1818.8 1551.2,1818.8 1551.6,1818.8 1552.0,1818.8 1552.4,1818.8 1552.8,1818.8 1553.2,1818.8 1553.6,1818.8 1554.0,1818.8 1554.4,1818.8 1554.8,1818.8 1555.2,1818.8 1555.6,1818.8 1556.0,1818.8 1556.4,1818.8 1556.8,1818.8 1557.2,1818.8 1557.6,1818.8 1558.0,1818.8 1558.4,1818.8 1558.8,1818.8 1559.2,1818.8 1559.6,1818.8 1560.0,1818.8 1560.4,1818.8 1560.8,1818.8 1561.2,1818.8 1561.6,1818.8 1562.0,1818.8 1562.4,1818.8 1562.8,1818.8 1563.2,1818.8 1563.6,1818.8 1564.0,1818.8 1564.4,1818.8 1564.8,1818.8 1565.2,1818.8 1565.6,1818.8 1566.0,1818.8 1566.4,1818.8 1566.8,1818.8 1567.2,1818.8 1567.6,1818.8 1568.0,1818.8 1568.4,1818.8 1568.8,1818.8 1569.2,1818.8 1569.6,1818.8 1570.0,1818.8 1570.4,1818.8 1570.8,1818.8 1571.2,1818.8 1571.6,1818.8 1572.0,1818.8 1572.4,1818.8 1572.8,1818.8 1573.2,1818.8 1573.6,1818.8 1574.0,1818.8 1574.4,1818.8 1574.8,1818.8 1575.2,1818.8 1575.6,1818.8 1576.0,1818.8 1576.4,1818.8 1576.8,1818.8 1577.2,1818.8 1577.6,1818.8 1578.0,1818.8 1578.4,1818.8 1578.8,1818.8 1579.2,1818.8 1579.6,1818.8 1580.0,1818.8 1580.4,1818.8 1580.8,1818.8 1581.2,1818.8 1581.6,1818.8 1582.0,1818.8 1582.4,1818.8 1582.8,1818.8 1583.2,1818.8 1583.6,1818.8 1584.0,1818.8 1584.4,1818.8 1584.8,1818.8 1585.2,1818.8 1585.6,1818.8 1586.0,1818.8 1586.4,1818.8 1586.8,1818.8 1587.2,1818.8 1587.6,1818.8 1588.0,1818.8 1588.4,1818.8 1588.8,1818.8 1589.2,1818.8 1589.6,1818.8 1590.0,1818.8 1590.4,1818.8 1590.8,1818.8 1591.2,1818.8 1591.6,1818.8 1592.0,1818.8 1592.4,1818.8 1592.8,1818.8 1593.2,1818.8 1593.6,1818.8 1594.0,1818.8 1594.4,1818.8 1594.8,1818.8 1595.2,1818.8 1595.6,1818.8 1596.0,1818.8 1596.4,1818.8 1596.8,1818.8 1597.2,1818.8 1597.6,1818.8 1598.0,1818.8 1598.4,1818.8 1598.8,1818.8 1599.2,1818.8 1599.6,1818.8 1600.0,1818.8 1600.4,1818.8 1600.8,1818.8 1601.2,1818.8 1601.6,1818.8 1602.0,1818.8 1602.4,1818.8 1602.8,1818.8 1603.2,1818.8 1603.6,1818.8 1604.0,1818.8 1604.4,1818.8 1604.8,1818.8 1605.2,1818.8 1605.6,1818.8 1606.0,1818.8 1606.4,1818.8 1606.8,1818.8 1607.2,1818.8 1607.6,1818.8 1608.0,1818.8 1608.4,1818.8 1608.8,1818.8 1609.2,1818.8 1609.6,1818.8 1610.0,1818.8 1610.4,1818.8 1610.8,1818.8 1611.2,1818.8 1611.6,1818.8 1612.0,1818.8 1612.4,1818.8 1612.8,1818.8 1613.2,1818.8 1613.6,1818.8 1614.0,1818.8 1614.4,1818.8 1614.8,1818.8 1615.2,1818.8 1615.6,1818.8 1616.0,1818.8 1616.4,1818.8 1616.8,1818.8 1617.2,1818.8 1617.6,1818.8 1618.0,1818.8 1618.4,1818.8 1618.8,1818.8 1619.2,1818.8 1619.6,1818.8 1620.0,1818.8 1620.4,1818.8 1620.8,1818.8 1621.2,1818.8 1621.6,1818.8 1622.0,1818.8 1622.4,1818.8 1622.8,1818.8 1623.2,1818.8 1623.6,1818.8 1624.0,1818.8 1624.4,1818.8 1624.8,1818.8 1625.2,1818.8 1625.6,1818.8 1626.0,1818.8 1626.4,1818.8 1626.8,1818.8 1627.2,1818.8 1627.6,1818.8 1628.0,1818.8 1628.4,1818.8 1628.8,1818.8 1629.2,1818.8 1629.6,1818.8 1630.0,1818.8 1630.4,1818.8 1630.8,1818.8 1631.2,1818.8 1631.6,1818.8 1632.0,1818.8 1632.4,1818.8 1632.8,1818.8 1633.2,1818.8 1633.6,1818.8 1634.0,1818.8 1634.4,1818.8 1634.8,1818.8 1635.2,1818.8 1635.6,1818.8 1636.0,1818.8 1636.4,1818.8 1636.8,1818.8 1637.2,1818.8 1637.6,1818.8 1638.0,1818.8 1638.4,1818.8 1638.8,1818.8 1639.2,1818.8 1639.6,1818.8 1640.0,1818.8 1640.4,1818.8 1640.8,1818.8 1641.2,1818.8 1641.6,1818.8 1642.0,1818.8 1642.4,1818.8 1642.8,1818.8 1643.2,1818.8 1643.6,1818.8 1644.0,1818.8 1644.4,1818.8 1644.8,1818.8 1645.2,1818.8 1645.6,1818.8 1646.0,1818.8 1646.4,1818.8 1646.8,1818.8 1647.2,1818.8 1647.6,1818.8 1648.0,1818.8 1648.4,1818.8 1648.8,1818.8 1649.2,1818.8 1649.6,1818.8 1650.0,1818.8 1650.4,1818.8 1650.8,1818.8 1651.2,1818.8 1651.6,1818.8 1652.0,1818.8 1652.4,1818.8 1652.8,1818.8 1653.2,1818.8 1653.6,1818.8 1654.0,1818.8 1654.4,1818.8 1654.8,1818.8 1655.2,1818.8 1655.6,1818.8 1656.0,1818.8 1656.4,1818.8 1656.8,1818.8 1657.2,1818.8 1657.6,1818.8 1658.0,1818.8 1658.4,1818.8 1658.8,1818.8 1659.2,1818.8 1659.6,1818.8 1660.0,1818.8 1660.4,1818.8 1660.8,1818.8 1661.2,1818.8 1661.6,1818.8 1662.0,1818.8 1662.4,1818.8 1662.8,1818.8 1663.2,1818.8 1663.6,1818.8 1664.0,1818.8 1664.4,1818.8 1664.8,1818.8 1665.2,1818.8 1665.6,1818.8 1666.0,1818.8 1666.4,1818.8 1666.8,1818.8 1667.2,1818.8 1667.6,1818.8 1668.0,1818.8 1668.4,1818.8 1668.8,1818.8 1669.2,1818.8 1669.6,1818.8 1670.0,1818.8 1670.4,1818.8 1670.8,1818.8 1671.2,1818.8 1671.6,1818.8 1672.0,1818.8 1672.4,1818.8 1672.8,1818.8 1673.2,1818.8 1673.6,1818.8 1674.0,1818.8 1674.4,1818.8 1674.8,1818.8 1675.2,1818.8 1675.6,1818.8 1676.0,1818.8 1676.4,1818.8 1676.8,1818.8 1677.2,1818.8 1677.6,1818.8 1678.0,1818.8 1678.4,1818.8 1678.8,1818.8 1679.2,1818.8 1679.6,1818.8 1680.0,1818.8 1680.4,1818.8 1680.8,1818.8 1681.2,1818.8 1681.6,1818.8 1682.0,1818.8 1682.4,1818.8 1682.8,1818.8 1683.2,1818.8 1683.6,1818.8 1684.0,1818.8 1684.4,1818.8 1684.8,1818.8 1685.2,1818.8 1685.6,1818.8 1686.0,1818.8 1686.4,1818.8 1686.8,1818.8 1687.2,1818.8 1687.6,1818.8 1688.0,1818.8 1688.4,1818.8 1688.8,1818.8 1689.2,1818.8 1689.6,1818.8 1690.0,1818.8 1690.4,1818.8 1690.8,1818.8 1691.2,1818.8 1691.6,1818.8 1692.0,1818.8 1692.4,1818.8 1692.8,1818.8 1693.2,1818.8 1693.6,1818.8 1694.0,1818.8 1694.4,1818.8 1694.8,1818.8 1695.2,1818.8 1695.6,1818.8 1696.0,1818.8 1696.4,1818.8 1696.8,1818.8 1697.2,1818.8 1697.6,1818.8 1698.0,1818.8 1698.4,1818.8 1698.8,1818.8 1699.2,1818.8 1699.6,1818.8 1700.0,1818.8 1700.4,1818.8 1700.8,1818.8 1701.2,1818.8 1701.6,1818.8 1702.0,1818.8 1702.4,1818.8 1702.8,1818.8 1703.2,1818.8 1703.6,1818.8 1704.0,1818.8 1704.4,1818.8 1704.8,1818.8 1705.2,1818.8 1705.6,1818.8 1706.0,1818.8 1706.4,1818.8 1706.8,1818.8 1707.2,1818.8 1707.6,1818.8 1708.0,1818.8 1708.4,1818.8 1708.8,1818.8 1709.2,1818.8 1709.6,1818.8 1710.0,1818.8 1710.4,1818.8 1710.8,1818.8 1711.2,1818.8 1711.6,1818.8 1712.0,1818.8 1712.4,1818.8 1712.8,1818.8 1713.2,1818.8 1713.6,1818.8 1714.0,1818.8 1714.4,1818.8 1714.8,1818.8 1715.2,1818.8 1715.6,1818.8 1716.0,1818.8 1716.4,1818.8 1716.8,1818.8 1717.2,1818.8 1717.6,1818.8 1718.0,1818.8 1718.4,1818.8 1718.8,1818.8 1719.2,1818.8 1719.6,1818.8 1720.0,1818.8 1720.4,1818.8 1720.8,1818.8 1721.2,1818.8 1721.6,1818.8 1722.0,1818.8 1722.4,1818.8 1722.8,1818.8 1723.2,1818.8 1723.6,1818.8 1724.0,1818.8 1724.4,1818.8 1724.8,1818.8 1725.2,1818.8 1725.6,1818.8 1726.0,1818.8 1726.4,1818.8 1726.8,1818.8 1727.2,1818.8 1727.6,1818.8 1728.0,1818.8 1728.4,1818.8 1728.8,1818.8 1729.2,1818.8 1729.6,1818.8 1730.0,1818.8 1730.4,1818.8 1730.8,1818.8 1731.2,1818.8 1731.6,1818.8 1732.0,1818.8 1732.4,1818.8 1732.8,1818.8 1733.2,1818.8 1733.6,1818.8 1734.0,1818.8 1734.4,1818.8 1734.8,1818.8 1735.2,1818.8 1735.6,1818.8 1736.0,1818.8 1736.4,1818.8 1736.8,1818.8 1737.2,1818.8 1737.6,1818.8 1738.0,1818.8 1738.4,1818.8 1738.8,1818.8 1739.2,1818.8 1739.6,1818.8 1740.0,1818.8 1740.4,1818.8 1740.8,1818.8 1741.2,1818.8 1741.6,1818.8 1742.0,1818.8 1742.4,1818.8 1742.8,1818.8 1743.2,1818.8 1743.6,1818.8 1744.0,1818.8 1744.4,1818.8 1744.8,1818.8 1745.2,1818.8 1745.6,1818.8 1746.0,1818.8 1746.4,1818.8 1746.8,1818.8 1747.2,1818.8 1747.6,1818.8 1748.0,1818.8 1748.4,1818.8 1748.8,1818.8 1749.2,1818.8 1749.6,1818.8 1750.0,1818.8 1750.4,1818.8 1750.8,1818.8 1751.2,1818.8 1751.6,1818.8 1752.0,1818.8 1752.4,1818.8 1752.8,1818.8 1753.2,1818.8 1753.6,1818.8 1754.0,1818.8 1754.4,1818.8 1754.8,1818.8 1755.2,1818.8 1755.6,1818.8 1756.0,1818.8 1756.4,1818.8 1756.8,1818.8 1757.2,1818.8 1757.6,1818.8 1758.0,1818.8 1758.4,1818.8 1758.8,1818.8 1759.2,1818.8 1759.6,1818.8 1760.0,1818.8 1760.4,1818.8 1760.8,1818.8 1761.2,1818.8 1761.6,1818.8 1762.0,1818.8 1762.4,1818.8 1762.8,1818.8 1763.2,1818.8 1763.6,1818.8 1764.0,1818.8 1764.4,1818.8 1764.8,1818.8 1765.2,1818.8 1765.6,1818.8 1766.0,1818.8 1766.4,1818.8 1766.8,1818.8 1767.2,1818.8 1767.6,1818.8 1768.0,1818.8 1768.4,1818.8 1768.8,1818.8 1769.2,1818.8 1769.6,1818.8 1770.0,1818.8 1770.4,1818.8 1770.8,1818.8 1771.2,1818.8 1771.6,1818.8 1772.0,1818.8 1772.4,1818.8 1772.8,1818.8 1773.2,1818.8 1773.6,1818.8 1774.0,1818.8 1774.4,1818.8 1774.8,1818.8 1775.2,1818.8 1775.6,1818.8 1776.0,1818.8 1776.4,1818.8 1776.8,1818.8 1777.2,1818.8 1777.6,1818.8 1778.0,1818.8 1778.4,1818.8 1778.8,1818.8 1779.2,1818.8 1779.6,1818.8 1780.0,1818.8 1780.4,1818.8 1780.8,1818.8 1781.2,1818.8 1781.6,1818.8 1782.0,1818.8 1782.4,1818.8 1782.8,1818.8 1783.2,1818.8 1783.6,1818.8 1784.0,1818.8 1784.4,1818.8 1784.8,1818.8 1785.2,1818.8 1785.6,1818.8 1786.0,1818.8 1786.4,1818.8 1786.8,1818.8 1787.2,1818.8 1787.6,1818.8 1788.0,1818.8 1788.4,1818.8 1788.8,1818.8 1789.2,1818.8 1789.6,1818.8 1790.0,1818.8 1790.4,1818.8 1790.8,1818.8 1791.2,1818.8 1791.6,1818.8 1792.0,1818.8 1792.4,1818.8 1792.8,1818.8 1793.2,1818.8 1793.6,1818.8 1794.0,1818.8 1794.4,1818.8 1794.8,1818.8 1795.2,1818.8 1795.6,1818.8 1796.0,1818.8 1796.4,1818.8 1796.8,1818.8 1797.2,1818.8 1797.6,1818.8 1798.0,1818.8 1798.4,1818.8 1798.8,1818.8 1799.2,1818.8 1799.6,1818.8 1800.0,1818.8 1800.4,1818.8 1800.8,1818.8 1801.2,1818.8 1801.6,1818.8 1802.0,1818.8 1802.4,1818.8 1802.8,1818.8 1803.2,1818.8 1803.6,1818.8 1804.0,1818.8 1804.4,1818.8 1804.8,1818.8 1805.2,1818.8 1805.6,1818.8 1806.0,1818.8 1806.4,1818.8 1806.8,1818.8 1807.2,1818.8 1807.6,1818.8 1808.0,1818.8 1808.4,1818.8 1808.8,1818.8 1809.2,1818.8 1809.6,1818.8 1810.0,1818.8 1810.4,1818.8 1810.8,1818.8 1811.2,1818.8 1811.6,1818.8 1812.0,1818.8 1812.4,1818.8 1812.8,1818.8 1813.2,1818.8 1813.6,1818.8 1814.0,1818.8 1814.4,1818.8 1814.8,1818.8 1815.2,1818.8 1815.6,1818.8 1816.0,1818.8 1816.4,1818.8 1816.8,1818.8 1817.2,1818.8 1817.6,1818.8 1818.0,1818.8 1818.4,1818.8 1818.8,1818.8 1819.2,1818.8 1819.6,1818.8 1820.0,1818.8 1820.4,1818.8 1820.8,1818.8 1821.2,1818.8 1821.6,1818.8 1822.0,1818.8 1822.4,1818.8 1822.8,1818.8 1823.2,1818.8 1823.6,1818.8 1824.0,1818.8 1824.4,1818.8 1824.8,1818.8 1825.2,1818.8 1825.6,1818.8 1826.0,1818.8 1826.4,1818.8 1826.8,1818.8 1827.2,1818.8 1827.6,1818.8 1828.0,1818.8 1828.4,1818.8 1828.8,1818.8 1829.2,1818.8 1829.6,1818.8 1830.0,1818.8 1830.4,1818.8 1830.8,1818.8 1831.2,1818.8 1831.6,1818.8 1832.0,1818.8 1832.4,1818.8 1832.8,1818.8 1833.2,1818.8 1833.6,1818.8 1834.0,1818.8 1834.4,1818.8 1834.8,1818.8 1835.2,1818.8 1835.6,1818.8 1836.0,1818.8 1836.4,1818.8 1836.8,1818.8 1837.2,1818.8 1837.6,1818.8 1838.0,1818.8 1838.4,1818.8 1838.8,1818.8 1839.2,1818.8 1839.6,1818.8 1840.0,1818.8 1840.4,1818.8 1840.8,1818.8 1841.2,1818.8 1841.6,1818.8 1842.0,1818.8 1842.4,1818.8 1842.8,1818.8 1843.2,1818.8 1843.6,1818.8 1844.0,1818.8 1844.4,1818.8 1844.8,1818.8 1845.2,1818.8 1845.6,1818.8 1846.0,1818.8 1846.4,1818.8 1846.8,1818.8 1847.2,1818.8 1847.6,1818.8 1848.0,1818.8 1848.4,1818.8 1848.8,1818.8 1849.2,1818.8 1849.6,1818.8 1850.0,1818.8 1850.4,1818.8 1850.8,1818.8 1851.2,1818.8 1851.6,1818.8 1852.0,1818.8 1852.4,1818.8 1852.8,1818.8 1853.2,1818.8 1853.6,1818.8 1854.0,1818.8 1854.4,1818.8 1854.8,1818.8 1855.2,1818.8 1855.6,1818.8 1856.0,1818.8 1856.4,1818.8 1856.8,1818.8 1857.2,1818.8 1857.6,1818.8 1858.0,1818.8 1858.4,1818.8 1858.8,1818.8 1859.2,1818.8 1859.6,1818.8 1860.0,1818.8 1860.4,1818.8 1860.8,1818.8 1861.2,1818.8 1861.6,1818.8 1862.0,1818.8 1862.4,1818.8 1862.8,1818.8 1863.2,1818.8 1863.6,1818.8 1864.0,1818.8 1864.4,1818.8 1864.8,1818.8 1865.2,1818.8 1865.6,1818.8 1866.0,1818.8 1866.4,1818.8 1866.8,1818.8 1867.2,1818.8 1867.6,1818.8 1868.0,1818.8 1868.4,1818.8 1868.8,1818.8 1869.2,1818.8 1869.6,1818.8 1870.0,1818.8 1870.4,1818.8 1870.8,1818.8 1871.2,1818.8 1871.6,1818.8 1872.0,1818.8 1872.4,1818.8 1872.8,1818.8 1873.2,1818.8 1873.6,1818.8 1874.0,1818.8 1874.4,1818.8 1874.8,1818.8 1875.2,1818.8 1875.6,1818.8 1876.0,1818.8 1876.4,1818.8 1876.8,1818.8 1877.2,1818.8 1877.6,1818.8 1878.0,1818.8 1878.4,1818.8 1878.8,1818.8 1879.2,1818.8 1879.6,1818.8 1880.0,1818.8 1880.4,1818.8 1880.8,1818.8 1881.2,1818.8 1881.6,1818.8 1882.0,1818.8 1882.4,1818.8 1882.8,1818.8 1883.2,1818.8 1883.6,1818.8 1884.0,1818.8 1884.4,1818.8 1884.8,1818.8 1885.2,1818.8 1885.6,1818.8 1886.0,1818.8 1886.4,1818.8 1886.8,1818.8 1887.2,1818.8 1887.6,1818.8 1888.0,1818.8 1888.4,1818.8 1888.8,1818.8 1889.2,1818.8 1889.6,1818.8 1890.0,1818.8 1890.4,1818.8 1890.8,1818.8 1891.2,1818.8 1891.6,1818.8 1892.0,1818.8 1892.4,1818.8 1892.8,1818.8 1893.2,1818.8 1893.6,1818.8 1894.0,1818.8 1894.4,1818.8 1894.8,1818.8 1895.2,1818.8 1895.6,1818.8 1896.0,1818.8 1896.4,1818.8" fill="none" stroke="#0000ff" stroke-width="4.2" stroke-linejoin="round" stroke-linecap="butt" clip-path="url(#cR9)"/>
<path d="M1330.1 1875.2V2022.0M1513.2 1875.2V2022.0M1696.4 1875.2V2022.0M1879.5 1875.2V2022.0M1146.0 1903.8H1896.5M1146.0 1963.0H1896.5" stroke="#dedede" stroke-width="3.7" fill="none"/>
<path d="M1330.1 2022.0v-9.0M1330.1 1875.2v9.0M1513.2 2022.0v-9.0M1513.2 1875.2v9.0M1696.4 2022.0v-9.0M1696.4 1875.2v9.0M1879.5 2022.0v-9.0M1879.5 1875.2v9.0M1146.0 1903.8h9.0M1896.5 1903.8h-9.0M1146.0 1963.0h9.0M1896.5 1963.0h-9.0" stroke="#262626" stroke-width="3.7" fill="none"/>
<rect x="1146.0" y="1875.2" width="750.5" height="146.8" stroke="#262626" stroke-width="3.7" fill="none"/>
<polyline points="1146.0,1874.2 1146.4,1882.3 1146.8,1904.0 1147.2,1925.2 1147.6,1945.3 1148.0,1963.7 1148.4,1979.6 1148.8,1992.6 1149.2,2002.0 1149.6,2007.1 1150.0,2008.8 1150.4,2010.1 1150.8,2011.3 1151.2,2012.3 1151.6,2013.2 1152.0,2013.9 1152.4,2014.6 1152.8,2015.1 1153.2,2015.6 1153.6,2016.0 1154.0,2016.3 1154.4,2016.6 1154.8,2016.9 1155.2,2017.1 1155.6,2017.3 1156.0,2017.5 1156.4,2017.7 1156.8,2017.9 1157.2,2018.0 1157.6,2018.1 1158.0,2018.3 1158.4,2018.4 1158.8,2018.5 1159.2,2018.5 1159.6,2018.6 1160.0,2018.7 1160.4,2018.8 1160.8,2018.9 1161.2,2018.9 1161.6,2019.0 1162.0,2019.1 1162.4,2019.1 1162.8,2019.2 1163.2,2019.3 1163.6,2019.3 1164.0,2019.4 1164.4,2019.4 1164.8,2019.5 1165.2,2019.5 1165.6,2019.6 1166.0,2019.6 1166.4,2019.6 1166.8,2019.7 1167.2,2019.7 1167.6,2019.8 1168.0,2019.8 1168.4,2019.8 1168.8,2019.8 1169.2,2019.9 1169.6,2019.9 1170.0,2019.9 1170.4,2019.9 1170.8,2020.0 1171.2,2020.0 1171.6,2020.0 1172.0,2020.0 1172.4,2020.1 1172.8,2020.1 1173.2,2020.1 1173.6,2020.1 1174.0,2020.1 1174.4,2020.2 1174.8,2020.2 1175.2,2020.2 1175.6,2020.2 1176.0,2020.2 1176.4,2020.3 1176.8,2020.3 1177.2,2020.3 1177.6,2020.3 1178.0,2020.3 1178.4,2020.3 1178.8,2020.4 1179.2,2020.4 1179.6,2020.4 1180.0,2020.4 1180.4,2020.4 1180.8,2020.4 1181.2,2020.4 1181.6,2020.4 1182.0,2020.5 1182.4,2020.5 1182.8,2020.5 1183.2,2020.5 1183.6,2020.5 1184.0,2020.5 1184.4,2020.5 1184.8,2020.5 1185.2,2020.5 1185.6,2020.5 1186.0,2020.5 1186.4,2020.5 1186.8,2020.6 1187.2,2020.6 1187.6,2020.6 1188.0,2020.6 1188.4,2020.6 1188.8,2020.6 1189.2,2020.6 1189.6,2020.6 1190.0,2020.6 1190.4,2020.6 1190.8,2020.6 1191.2,2020.6 1191.6,2020.6 1192.0,2020.6 1192.4,2020.6 1192.8,2020.6 1193.2,2020.6 1193.6,2020.6 1194.0,2020.7 1194.4,2020.7 1194.8,2020.7 1195.2,2020.7 1195.6,2020.7 1196.0,2020.7 1196.4,2020.7 1196.8,2020.7 1197.2,2020.7 1197.6,2020.7 1198.0,2020.7 1198.4,2020.7 1198.8,2020.7 1199.2,2020.7 1199.6,2020.7 1200.0,2020.7 1200.4,2020.7 1200.8,2020.7 1201.2,2020.7 1201.6,2020.7 1202.0,2020.7 1202.4,2020.8 1202.8,2020.8 1203.2,2020.8 1203.6,2020.8 1204.0,2020.8 1204.4,2020.8 1204.8,2020.8 1205.2,2020.8 1205.6,2020.8 1206.0,2020.8 1206.4,2020.8 1206.8,2020.8 1207.2,2020.8 1207.6,2020.8 1208.0,2020.8 1208.4,2020.8 1208.8,2020.8 1209.2,2020.8 1209.6,2020.8 1210.0,2020.8 1210.4,2020.8 1210.8,2020.8 1211.2,2020.8 1211.6,2020.8 1212.0,2020.8 1212.4,2020.9 1212.8,2020.9 1213.2,2020.9 1213.6,2020.9 1214.0,2020.9 1214.4,2020.9 1214.8,2020.9 1215.2,2020.9 1215.6,2020.9 1216.0,2020.9 1216.4,2020.9 1216.8,2020.9 1217.2,2020.9 1217.6,2020.9 1218.0,2020.9 1218.4,2020.9 1218.8,2020.9 1219.2,2020.9 1219.6,2020.9 1220.0,2020.9 1220.4,2020.9 1220.8,2020.9 1221.2,2020.9 1221.6,2020.9 1222.0,2020.9 1222.4,2020.9 1222.8,2020.9 1223.2,2020.9 1223.6,2020.9 1224.0,2020.9 1224.4,2020.9 1224.8,2021.0 1225.2,2021.0 1225.6,2021.0 1226.0,2021.0 1226.4,2021.0 1226.8,2021.0 1227.2,2021.0 1227.6,2021.0 1228.0,2021.0 1228.4,2021.0 1228.8,2021.0 1229.2,2021.0 1229.6,2021.0 1230.0,2021.0 1230.4,2021.0 1230.8,2021.0 1231.2,2021.0 1231.6,2021.0 1232.0,2021.0 1232.4,2021.0 1232.8,2021.0 1233.2,2021.0 1233.6,2021.0 1234.0,2021.0 1234.4,2021.0 1234.8,2021.0 1235.2,2021.0 1235.6,2021.0 1236.0,2021.0 1236.4,2021.0 1236.8,2021.0 1237.2,2021.0 1237.6,2021.0 1238.0,2021.0 1238.4,2021.0 1238.8,2021.0 1239.2,2021.0 1239.6,2021.0 1240.0,2021.0 1240.4,2021.1 1240.8,2021.1 1241.2,2021.1 1241.6,2021.1 1242.0,2021.1 1242.4,2021.1 1242.8,2021.1 1243.2,2021.1 1243.6,2021.1 1244.0,2021.1 1244.4,2021.1 1244.8,2021.1 1245.2,2021.1 1245.6,2021.1 1246.0,2021.1 1246.4,2021.1 1246.8,2021.1 1247.2,2021.1 1247.6,2021.1 1248.0,2021.1 1248.4,2021.1 1248.8,2021.1 1249.2,2021.1 1249.6,2021.1 1250.0,2021.1 1250.4,2021.1 1250.8,2021.1 1251.2,2021.1 1251.6,2021.1 1252.0,2021.1 1252.4,2021.1 1252.8,2021.1 1253.2,2021.1 1253.6,2021.1 1254.0,2021.1 1254.4,2021.1 1254.8,2021.1 1255.2,2021.1 1255.6,2021.1 1256.0,2021.1 1256.4,2021.1 1256.8,2021.1 1257.2,2021.1 1257.6,2021.1 1258.0,2021.1 1258.4,2021.1 1258.8,2021.1 1259.2,2021.1 1259.6,2021.1 1260.0,2021.1 1260.4,2021.1 1260.8,2021.1 1261.2,2021.2 1261.6,2021.2 1262.0,2021.2 1262.4,2021.2 1262.8,2021.2 1263.2,2021.2 1263.6,2021.2 1264.0,2021.2 1264.4,2021.2 1264.8,2021.2 1265.2,2021.2 1265.6,2021.2 1266.0,2021.2 1266.4,2021.2 1266.8,2021.2 1267.2,2021.2 1267.6,2021.2 1268.0,2021.2 1268.4,2021.2 1268.8,2021.2 1269.2,2021.2 1269.6,2021.2 1270.0,2021.2 1270.4,2021.2 1270.8,2021.2 1271.2,2021.2 1271.6,2021.2 1272.0,2021.2 1272.4,2021.2 1272.8,2021.2 1273.2,2021.2 1273.6,2021.2 1274.0,2021.2 1274.4,2021.2 1274.8,2021.2 1275.2,2021.2 1275.6,2021.2 1276.0,2021.2 1276.4,2021.2 1276.8,2021.2 1277.2,2021.2 1277.6,2021.2 1278.0,2021.2 1278.4,2021.2 1278.8,2021.2 1279.2,2021.2 1279.6,2021.2 1280.0,2021.2 1280.4,2021.2 1280.8,2021.2 1281.2,2021.2 1281.6,2021.2 1282.0,2021.2 1282.4,2021.2 1282.8,2021.3 1283.2,2021.3 1283.6,2021.3 1284.0,2021.3 1284.4,2021.3 1284.8,2021.3 1285.2,2021.3 1285.6,2021.3 1286.0,2021.3 1286.4,2021.3 1286.8,2021.3 1287.2,2021.3 1287.6,2021.3 1288.0,2021.3 1288.4,2021.3 1288.8,2021.3 1289.2,2021.3 1289.6,2021.3 1290.0,2021.3 1290.4,2021.3 1290.8,2021.3 1291.2,2021.3 1291.6,2021.3 1292.0,2021.3 1292.4,2021.3 1292.8,2021.3 1293.2,2021.3 1293.6,2021.3 1294.0,2021.3 1294.4,2021.3 1294.8,2021.3 1295.2,2021.3 1295.6,2021.3 1296.0,2021.3 1296.4,2021.3 1296.8,2021.3 1297.2,2021.3 1297.6,2021.3 1298.0,2021.3 1298.4,2021.3 1298.8,2021.3 1299.2,2021.3 1299.6,2021.3 1300.0,2021.3 1300.4,2021.3 1300.8,2021.3 1301.2,2021.3 1301.6,2021.3 1302.0,2021.3 1302.4,2021.3 1302.8,2021.4 1303.2,2021.4 1303.6,2021.4 1304.0,2021.4 1304.4,2021.4 1304.8,2021.4 1305.2,2021.4 1305.6,2021.4 1306.0,2021.4 1306.4,2021.4 1306.8,2021.4 1307.2,2021.4 1307.6,2021.4 1308.0,2021.4 1308.4,2021.4 1308.8,2021.4 1309.2,2021.4 1309.6,2021.4 1310.0,2021.4 1310.4,2021.4 1310.8,2021.4 1311.2,2021.4 1311.6,2021.4 1312.0,2021.4 1312.4,2021.4 1312.8,2021.4 1313.2,2021.4 1313.6,2021.4 1314.0,2021.4 1314.4,2021.4 1314.8,2021.4 1315.2,2021.4 1315.6,2021.4 1316.0,2021.4 1316.4,2021.4 1316.8,2021.4 1317.2,2021.4 1317.6,2021.4 1318.0,2021.4 1318.4,2021.4 1318.8,2021.4 1319.2,2021.4 1319.6,2021.4 1320.0,2021.4 1320.4,2021.4 1320.8,2021.4 1321.2,2021.4 1321.6,2021.4 1322.0,2021.4 1322.4,2021.4 1322.8,2021.5 1323.2,2021.5 1323.6,2021.5 1324.0,2021.5 1324.4,2021.5 1324.8,2021.5 1325.2,2021.5 1325.6,2021.5 1326.0,2021.5 1326.4,2021.5 1326.8,2021.5 1327.2,2021.5 1327.6,2021.5 1328.0,2021.5 1328.4,2021.5 1328.8,2021.5 1329.2,2021.5 1329.6,2021.5 1330.0,2021.5 1330.4,2021.5 1330.8,2021.5 1331.2,2021.5 1331.6,2021.5 1332.0,2021.5 1332.4,2021.5 1332.8,2021.5 1333.2,2021.5 1333.6,2021.5 1334.0,2021.5 1334.4,2021.5 1334.8,2021.5 1335.2,2021.5 1335.6,2021.5 1336.0,2021.5 1336.4,2021.5 1336.8,2021.5 1337.2,2021.5 1337.6,2021.5 1338.0,2021.5 1338.4,2021.5 1338.8,2021.5 1339.2,2021.5 1339.6,2021.5 1340.0,2021.5 1340.4,2021.5 1340.8,2021.5 1341.2,2021.5 1341.6,2021.5 1342.0,2021.5 1342.4,2021.5 1342.8,2021.5 1343.2,2021.5 1343.6,2021.5 1344.0,2021.5 1344.4,2021.5 1344.8,2021.6 1345.2,2021.6 1345.6,2021.6 1346.0,2021.6 1346.4,2021.6 1346.8,2021.6 1347.2,2021.6 1347.6,2021.6 1348.0,2021.6 1348.4,2021.6 1348.8,2021.6 1349.2,2021.6 1349.6,2021.6 1350.0,2021.6 1350.4,2021.6 1350.8,2021.6 1351.2,2021.6 1351.6,2021.6 1352.0,2021.6 1352.4,2021.6 1352.8,2021.6 1353.2,2021.6 1353.6,2021.6 1354.0,2021.6 1354.4,2021.6 1354.8,2021.6 1355.2,2021.6 1355.6,2021.6 1356.0,2021.6 1356.4,2021.6 1356.8,2021.6 1357.2,2021.6 1357.6,2021.6 1358.0,2021.6 1358.4,2021.6 1358.8,2021.6 1359.2,2021.6 1359.6,2021.6 1360.0,2021.6 1360.4,2021.6 1360.8,2021.6 1361.2,2021.6 1361.6,2021.6 1362.0,2021.6 1362.4,2021.6 1362.8,2021.6 1363.2,2021.6 1363.6,2021.6 1364.0,2021.6 1364.4,2021.6 1364.8,2021.6 1365.2,2021.6 1365.6,2021.6 1366.0,2021.6 1366.4,2021.6 1366.8,2021.6 1367.2,2021.6 1367.6,2021.6 1368.0,2021.6 1368.4,2021.6 1368.8,2021.6 1369.2,2021.6 1369.6,2021.6 1370.0,2021.6 1370.4,2021.6 1370.8,2021.6 1371.2,2021.6 1371.6,2021.6 1372.0,2021.6 1372.4,2021.6 1372.8,2021.6 1373.2,2021.6 1373.6,2021.6 1374.0,2021.6 1374.4,2021.6 1374.8,2021.6 1375.2,2021.6 1375.6,2021.7 1376.0,2021.7 1376.4,2021.7 1376.8,2021.7 1377.2,2021.7 1377.6,2021.7 1378.0,2021.7 1378.4,2021.7 1378.8,2021.7 1379.2,2021.7 1379.6,2021.7 1380.0,2021.7 1380.4,2021.7 1380.8,2021.7 1381.2,2021.7 1381.6,2021.7 1382.0,2021.7 1382.4,2021.7 1382.8,2021.7 1383.2,2021.7 1383.6,2021.7 1384.0,2021.7 1384.4,2021.7 1384.8,2021.7 1385.2,2021.7 1385.6,2021.7 1386.0,2021.7 1386.4,2021.7 1386.8,2021.7 1387.2,2021.7 1387.6,2021.7 1388.0,2021.7 1388.4,2021.7 1388.8,2021.7 1389.2,2021.7 1389.6,2021.7 1390.0,2021.7 1390.4,2021.7 1390.8,2021.7 1391.2,2021.7 1391.6,2021.7 1392.0,2021.7 1392.4,2021.7 1392.8,2021.7 1393.2,2021.7 1393.6,2021.7 1394.0,2021.7 1394.4,2021.7 1394.8,2021.7 1395.2,2021.7 1395.6,2021.7 1396.0,2021.7 1396.4,2021.7 1396.8,2021.7 1397.2,2021.7 1397.6,2021.7 1398.0,2021.7 1398.4,2021.7 1398.8,2021.7 1399.2,2021.7 1399.6,2021.7 1400.0,2021.7 1400.4,2021.7 1400.8,2021.7 1401.2,2021.7 1401.6,2021.7 1402.0,2021.7 1402.4,2021.7 1402.8,2021.7 1403.2,2021.7 1403.6,2021.7 1404.0,2021.7 1404.4,2021.7 1404.8,2021.7 1405.2,2021.7 1405.6,2021.7 1406.0,2021.7 1406.4,2021.7 1406.8,2021.7 1407.2,2021.7 1407.6,2021.7 1408.0,2021.7 1408.4,2021.7 1408.8,2021.7 1409.2,2021.7 1409.6,2021.7 1410.0,2021.7 1410.4,2021.7 1410.8,2021.7 1411.2,2021.7 1411.6,2021.7 1412.0,2021.7 1412.4,2021.7 1412.8,2021.7 1413.2,2021.7 1413.6,2021.7 1414.0,2021.7 1414.4,2021.7 1414.8,2021.7 1415.2,2021.7 1415.6,2021.7 1416.0,2021.7 1416.4,2021.7 1416.8,2021.7 1417.2,2021.7 1417.6,2021.7 1418.0,2021.7 1418.4,2021.7 1418.8,2021.7 1419.2,2021.7 1419.6,2021.7 1420.0,2021.7 1420.4,2021.7 1420.8,2021.7 1421.2,2021.7 1421.6,2021.7 1422.0,2021.7 1422.4,2021.7 1422.8,2021.7 1423.2,2021.7 1423.6,2021.7 1424.0,2021.7 1424.4,2021.7 1424.8,2021.7 1425.2,2021.7 1425.6,2021.7 1426.0,2021.7 1426.4,2021.7 1426.8,2021.7 1427.2,2021.7 1427.6,2021.7 1428.0,2021.7 1428.4,2021.7 1428.8,2021.7 1429.2,2021.7 1429.6,2021.7 1430.0,2021.7 1430.4,2021.7 1430.8,2021.7 1431.2,2021.7 1431.6,2021.7 1432.0,2021.7 1432.4,2021.7 1432.8,2021.7 1433.2,2021.7 1433.6,2021.7 1434.0,2021.7 1434.4,2021.7 1434.8,2021.7 1435.2,2021.7 1435.6,2021.7 1436.0,2021.7 1436.4,2021.7 1436.8,2021.7 1437.2,2021.7 1437.6,2021.7 1438.0,2021.7 1438.4,2021.7 1438.8,2021.7 1439.2,2021.7 1439.6,2021.7 1440.0,2021.7 1440.4,2021.7 1440.8,2021.7 1441.2,2021.7 1441.6,2021.7 1442.0,2021.7 1442.4,2021.7 1442.8,2021.7 1443.2,2021.7 1443.6,2021.7 1444.0,2021.7 1444.4,2021.7 1444.8,2021.7 1445.2,2021.7 1445.6,2021.7 1446.0,2021.7 1446.4,2021.7 1446.8,2021.7 1447.2,2021.7 1447.6,2021.7 1448.0,2021.7 1448.4,2021.7 1448.8,2021.7 1449.2,2021.7 1449.6,2021.7 1450.0,2021.7 1450.4,2021.7 1450.8,2021.7 1451.2,2021.7 1451.6,2021.7 1452.0,2021.7 1452.4,2021.7 1452.8,2021.7 1453.2,2021.7 1453.6,2021.7 1454.0,2021.7 1454.4,2021.7 1454.8,2021.7 1455.2,2021.7 1455.6,2021.7 1456.0,2021.7 1456.4,2021.7 1456.8,2021.7 1457.2,2021.7 1457.6,2021.7 1458.0,2021.7 1458.4,2021.7 1458.8,2021.7 1459.2,2021.7 1459.6,2021.7 1460.0,2021.7 1460.4,2021.7 1460.8,2021.7 1461.2,2021.7 1461.6,2021.7 1462.0,2021.7 1462.4,2021.7 1462.8,2021.7 1463.2,2021.7 1463.6,2021.7 1464.0,2021.7 1464.4,2021.7 1464.8,2021.7 1465.2,2021.7 1465.6,2021.7 1466.0,2021.7 1466.4,2021.7 1466.8,2021.7 1467.2,2021.7 1467.6,2021.7 1468.0,2021.7 1468.4,2021.7 1468.8,2021.7 1469.2,2021.7 1469.6,2021.7 1470.0,2021.7 1470.4,2021.7 1470.8,2021.7 1471.2,2021.7 1471.6,2021.7 1472.0,2021.7 1472.4,2021.7 1472.8,2021.7 1473.2,2021.7 1473.6,2021.7 1474.0,2021.7 1474.4,2021.7 1474.8,2021.7 1475.2,2021.7 1475.6,2021.7 1476.0,2021.7 1476.4,2021.7 1476.8,2021.7 1477.2,2021.7 1477.6,2021.7 1478.0,2021.7 1478.4,2021.7 1478.8,2021.7 1479.2,2021.7 1479.6,2021.7 1480.0,2021.7 1480.4,2021.7 1480.8,2021.7 1481.2,2021.7 1481.6,2021.7 1482.0,2021.7 1482.4,2021.7 1482.8,2021.7 1483.2,2021.7 1483.6,2021.7 1484.0,2021.7 1484.4,2021.7 1484.8,2021.7 1485.2,2021.7 1485.6,2021.7 1486.0,2021.7 1486.4,2021.7 1486.8,2021.7 1487.2,2021.7 1487.6,2021.7 1488.0,2021.7 1488.4,2021.7 1488.8,2021.7 1489.2,2021.7 1489.6,2021.7 1490.0,2021.7 1490.4,2021.7 1490.8,2021.7 1491.2,2021.7 1491.6,2021.7 1492.0,2021.7 1492.4,2021.7 1492.8,2021.7 1493.2,2021.7 1493.6,2021.7 1494.0,2021.7 1494.4,2021.7 1494.8,2021.7 1495.2,2021.7 1495.6,2021.7 1496.0,2021.7 1496.4,2021.7 1496.8,2021.7 1497.2,2021.7 1497.6,2021.7 1498.0,2021.7 1498.4,2021.7 1498.8,2021.7 1499.2,2021.7 1499.6,2021.7 1500.0,2021.7 1500.4,2021.7 1500.8,2021.7 1501.2,2021.7 1501.6,2021.7 1502.0,2021.7 1502.4,2021.7 1502.8,2021.7 1503.2,2021.7 1503.6,2021.7 1504.0,2021.7 1504.4,2021.7 1504.8,2021.7 1505.2,2021.7 1505.6,2021.7 1506.0,2021.7 1506.4,2021.7 1506.8,2021.7 1507.2,2021.7 1507.6,2021.7 1508.0,2021.7 1508.4,2021.7 1508.8,2021.7 1509.2,2021.7 1509.6,2021.7 1510.0,2021.7 1510.4,2021.7 1510.8,2021.7 1511.2,2021.7 1511.6,2021.7 1512.0,2021.7 1512.4,2021.7 1512.8,2021.7 1513.2,2021.7 1513.6,2021.7 1514.0,2021.7 1514.4,2021.7 1514.8,2021.7 1515.2,2021.7 1515.6,2021.7 1516.0,2021.7 1516.4,2021.7 1516.8,2021.7 1517.2,2021.7 1517.6,2021.7 1518.0,2021.7 1518.4,2021.7 1518.8,2021.7 1519.2,2021.7 1519.6,2021.7 1520.0,2021.7 1520.4,2021.7 1520.8,2021.7 1521.2,2021.7 1521.6,2021.7 1522.0,2021.7 1522.4,2021.7 1522.8,2021.7 1523.2,2021.7 1523.6,2021.7 1524.0,2021.7 1524.4,2021.7 1524.8,2021.7 1525.2,2021.7 1525.6,2021.7 1526.0,2021.7 1526.4,2021.7 1526.8,2021.7 1527.2,2021.7 1527.6,2021.7 1528.0,2021.7 1528.4,2021.7 1528.8,2021.7 1529.2,2021.7 1529.6,2021.7 1530.0,2021.7 1530.4,2021.7 1530.8,2021.7 1531.2,2021.7 1531.6,2021.7 1532.0,2021.7 1532.4,2021.7 1532.8,2021.7 1533.2,2021.7 1533.6,2021.7 1534.0,2021.7 1534.4,2021.7 1534.8,2021.7 1535.2,2021.7 1535.6,2021.7 1536.0,2021.7 1536.4,2021.7 1536.8,2021.7 1537.2,2021.7 1537.6,2021.7 1538.0,2021.7 1538.4,2021.7 1538.8,2021.7 1539.2,2021.7 1539.6,2021.7 1540.0,2021.7 1540.4,2021.7 1540.8,2021.7 1541.2,2021.7 1541.6,2021.7 1542.0,2021.7 1542.4,2021.7 1542.8,2021.7 1543.2,2021.7 1543.6,2021.7 1544.0,2021.7 1544.4,2021.7 1544.8,2021.7 1545.2,2021.7 1545.6,2021.7 1546.0,2021.7 1546.4,2021.7 1546.8,2021.7 1547.2,2021.7 1547.6,2021.7 1548.0,2021.7 1548.4,2021.7 1548.8,2021.7 1549.2,2021.7 1549.6,2021.7 1550.0,2021.7 1550.4,2021.7 1550.8,2021.7 1551.2,2021.7 1551.6,2021.7 1552.0,2021.7 1552.4,2021.7 1552.8,2021.7 1553.2,2021.7 1553.6,2021.7 1554.0,2021.7 1554.4,2021.7 1554.8,2021.7 1555.2,2021.7 1555.6,2021.7 1556.0,2021.7 1556.4,2021.7 1556.8,2021.7 1557.2,2021.7 1557.6,2021.7 1558.0,2021.7 1558.4,2021.7 1558.8,2021.7 1559.2,2021.7 1559.6,2021.7 1560.0,2021.7 1560.4,2021.7 1560.8,2021.7 1561.2,2021.7 1561.6,2021.7 1562.0,2021.7 1562.4,2021.7 1562.8,2021.7 1563.2,2021.7 1563.6,2021.7 1564.0,2021.7 1564.4,2021.7 1564.8,2021.7 1565.2,2021.7 1565.6,2021.7 1566.0,2021.7 1566.4,2021.7 1566.8,2021.7 1567.2,2021.7 1567.6,2021.7 1568.0,2021.7 1568.4,2021.7 1568.8,2021.7 1569.2,2021.7 1569.6,2021.7 1570.0,2021.7 1570.4,2021.7 1570.8,2021.7 1571.2,2021.7 1571.6,2021.7 1572.0,2021.7 1572.4,2021.7 1572.8,2021.7 1573.2,2021.7 1573.6,2021.7 1574.0,2021.7 1574.4,2021.7 1574.8,2021.7 1575.2,2021.7 1575.6,2021.7 1576.0,2021.7 1576.4,2021.7 1576.8,2021.7 1577.2,2021.7 1577.6,2021.7 1578.0,2021.7 1578.4,2021.7 1578.8,2021.7 1579.2,2021.7 1579.6,2021.7 1580.0,2021.7 1580.4,2021.7 1580.8,2021.7 1581.2,2021.7 1581.6,2021.7 1582.0,2021.7 1582.4,2021.7 1582.8,2021.7 1583.2,2021.7 1583.6,2021.7 1584.0,2021.7 1584.4,2021.7 1584.8,2021.7 1585.2,2021.7 1585.6,2021.7 1586.0,2021.7 1586.4,2021.7 1586.8,2021.7 1587.2,2021.7 1587.6,2021.7 1588.0,2021.7 1588.4,2021.7 1588.8,2021.7 1589.2,2021.7 1589.6,2021.7 1590.0,2021.7 1590.4,2021.7 1590.8,2021.7 1591.2,2021.7 1591.6,2021.7 1592.0,2021.7 1592.4,2021.7 1592.8,2021.7 1593.2,2021.7 1593.6,2021.7 1594.0,2021.7 1594.4,2021.7 1594.8,2021.7 1595.2,2021.7 1595.6,2021.7 1596.0,2021.7 1596.4,2021.7 1596.8,2021.7 1597.2,2021.7 1597.6,2021.7 1598.0,2021.7 1598.4,2021.7 1598.8,2021.7 1599.2,2021.7 1599.6,2021.7 1600.0,2021.7 1600.4,2021.7 1600.8,2021.7 1601.2,2021.7 1601.6,2021.7 1602.0,2021.7 1602.4,2021.7 1602.8,2021.7 1603.2,2021.7 1603.6,2021.7 1604.0,2021.7 1604.4,2021.7 1604.8,2021.7 1605.2,2021.7 1605.6,2021.7 1606.0,2021.7 1606.4,2021.7 1606.8,2021.7 1607.2,2021.7 1607.6,2021.7 1608.0,2021.7 1608.4,2021.7 1608.8,2021.7 1609.2,2021.7 1609.6,2021.7 1610.0,2021.7 1610.4,2021.7 1610.8,2021.7 1611.2,2021.7 1611.6,2021.7 1612.0,2021.7 1612.4,2021.7 1612.8,2021.7 1613.2,2021.7 1613.6,2021.7 1614.0,2021.7 1614.4,2021.7 1614.8,2021.7 1615.2,2021.7 1615.6,2021.7 1616.0,2021.7 1616.4,2021.7 1616.8,2021.7 1617.2,2021.7 1617.6,2021.7 1618.0,2021.7 1618.4,2021.7 1618.8,2021.7 1619.2,2021.7 1619.6,2021.7 1620.0,2021.7 1620.4,2021.7 1620.8,2021.7 1621.2,2021.7 1621.6,2021.7 1622.0,2021.7 1622.4,2021.7 1622.8,2021.7 1623.2,2021.7 1623.6,2021.7 1624.0,2021.7 1624.4,2021.7 1624.8,2021.7 1625.2,2021.7 1625.6,2021.7 1626.0,2021.7 1626.4,2021.7 1626.8,2021.7 1627.2,2021.7 1627.6,2021.7 1628.0,2021.7 1628.4,2021.7 1628.8,2021.7 1629.2,2021.7 1629.6,2021.7 1630.0,2021.7 1630.4,2021.7 1630.8,2021.7 1631.2,2021.7 1631.6,2021.7 1632.0,2021.7 1632.4,2021.7 1632.8,2021.7 1633.2,2021.7 1633.6,2021.7 1634.0,2021.7 1634.4,2021.7 1634.8,2021.7 1635.2,2021.7 1635.6,2021.7 1636.0,2021.7 1636.4,2021.7 1636.8,2021.7 1637.2,2021.7 1637.6,2021.7 1638.0,2021.7 1638.4,2021.7 1638.8,2021.7 1639.2,2021.7 1639.6,2021.7 1640.0,2021.7 1640.4,2021.7 1640.8,2021.7 1641.2,2021.7 1641.6,2021.7 1642.0,2021.7 1642.4,2021.7 1642.8,2021.7 1643.2,2021.7 1643.6,2021.7 1644.0,2021.7 1644.4,2021.7 1644.8,2021.7 1645.2,2021.7 1645.6,2021.7 1646.0,2021.7 1646.4,2021.7 1646.8,2021.7 1647.2,2021.7 1647.6,2021.7 1648.0,2021.7 1648.4,2021.7 1648.8,2021.7 1649.2,2021.7 1649.6,2021.7 1650.0,2021.7 1650.4,2021.7 1650.8,2021.7 1651.2,2021.7 1651.6,2021.7 1652.0,2021.7 1652.4,2021.7 1652.8,2021.7 1653.2,2021.7 1653.6,2021.7 1654.0,2021.7 1654.4,2021.7 1654.8,2021.7 1655.2,2021.7 1655.6,2021.7 1656.0,2021.7 1656.4,2021.7 1656.8,2021.7 1657.2,2021.7 1657.6,2021.7 1658.0,2021.7 1658.4,2021.7 1658.8,2021.7 1659.2,2021.7 1659.6,2021.7 1660.0,2021.7 1660.4,2021.7 1660.8,2021.7 1661.2,2021.7 1661.6,2021.7 1662.0,2021.7 1662.4,2021.7 1662.8,2021.7 1663.2,2021.7 1663.6,2021.7 1664.0,2021.7 1664.4,2021.7 1664.8,2021.7 1665.2,2021.7 1665.6,2021.7 1666.0,2021.7 1666.4,2021.7 1666.8,2021.7 1667.2,2021.7 1667.6,2021.7 1668.0,2021.7 1668.4,2021.7 1668.8,2021.7 1669.2,2021.7 1669.6,2021.7 1670.0,2021.7 1670.4,2021.7 1670.8,2021.7 1671.2,2021.7 1671.6,2021.7 1672.0,2021.7 1672.4,2021.7 1672.8,2021.7 1673.2,2021.7 1673.6,2021.7 1674.0,2021.7 1674.4,2021.7 1674.8,2021.7 1675.2,2021.7 1675.6,2021.7 1676.0,2021.7 1676.4,2021.7 1676.8,2021.7 1677.2,2021.7 1677.6,2021.7 1678.0,2021.7 1678.4,2021.7 1678.8,2021.7 1679.2,2021.7 1679.6,2021.7 1680.0,2021.7 1680.4,2021.7 1680.8,2021.7 1681.2,2021.7 1681.6,2021.7 1682.0,2021.7 1682.4,2021.7 1682.8,2021.7 1683.2,2021.7 1683.6,2021.7 1684.0,2021.7 1684.4,2021.7 1684.8,2021.7 1685.2,2021.7 1685.6,2021.7 1686.0,2021.7 1686.4,2021.7 1686.8,2021.7 1687.2,2021.7 1687.6,2021.7 1688.0,2021.7 1688.4,2021.7 1688.8,2021.7 1689.2,2021.7 1689.6,2021.7 1690.0,2021.7 1690.4,2021.7 1690.8,2021.7 1691.2,2021.7 1691.6,2021.7 1692.0,2021.7 1692.4,2021.7 1692.8,2021.7 1693.2,2021.7 1693.6,2021.7 1694.0,2021.7 1694.4,2021.7 1694.8,2021.7 1695.2,2021.7 1695.6,2021.7 1696.0,2021.7 1696.4,2021.7 1696.8,2021.7 1697.2,2021.7 1697.6,2021.7 1698.0,2021.7 1698.4,2021.7 1698.8,2021.7 1699.2,2021.7 1699.6,2021.7 1700.0,2021.7 1700.4,2021.7 1700.8,2021.7 1701.2,2021.7 1701.6,2021.7 1702.0,2021.7 1702.4,2021.7 1702.8,2021.7 1703.2,2021.7 1703.6,2021.7 1704.0,2021.7 1704.4,2021.7 1704.8,2021.7 1705.2,2021.7 1705.6,2021.7 1706.0,2021.7 1706.4,2021.7 1706.8,2021.7 1707.2,2021.7 1707.6,2021.7 1708.0,2021.7 1708.4,2021.7 1708.8,2021.7 1709.2,2021.7 1709.6,2021.7 1710.0,2021.7 1710.4,2021.7 1710.8,2021.7 1711.2,2021.7 1711.6,2021.7 1712.0,2021.7 1712.4,2021.7 1712.8,2021.7 1713.2,2021.7 1713.6,2021.7 1714.0,2021.7 1714.4,2021.7 1714.8,2021.7 1715.2,2021.7 1715.6,2021.7 1716.0,2021.7 1716.4,2021.7 1716.8,2021.7 1717.2,2021.7 1717.6,2021.7 1718.0,2021.7 1718.4,2021.7 1718.8,2021.7 1719.2,2021.7 1719.6,2021.7 1720.0,2021.7 1720.4,2021.7 1720.8,2021.7 1721.2,2021.7 1721.6,2021.7 1722.0,2021.7 1722.4,2021.7 1722.8,2021.7 1723.2,2021.7 1723.6,2021.7 1724.0,2021.7 1724.4,2021.7 1724.8,2021.7 1725.2,2021.7 1725.6,2021.7 1726.0,2021.7 1726.4,2021.7 1726.8,2021.7 1727.2,2021.7 1727.6,2021.7 1728.0,2021.7 1728.4,2021.7 1728.8,2021.7 1729.2,2021.7 1729.6,2021.7 1730.0,2021.7 1730.4,2021.7 1730.8,2021.7 1731.2,2021.7 1731.6,2021.7 1732.0,2021.7 1732.4,2021.7 1732.8,2021.7 1733.2,2021.7 1733.6,2021.7 1734.0,2021.7 1734.4,2021.7 1734.8,2021.7 1735.2,2021.7 1735.6,2021.7 1736.0,2021.7 1736.4,2021.7 1736.8,2021.7 1737.2,2021.7 1737.6,2021.7 1738.0,2021.7 1738.4,2021.7 1738.8,2021.7 1739.2,2021.7 1739.6,2021.7 1740.0,2021.7 1740.4,2021.7 1740.8,2021.7 1741.2,2021.7 1741.6,2021.7 1742.0,2021.7 1742.4,2021.7 1742.8,2021.7 1743.2,2021.7 1743.6,2021.7 1744.0,2021.7 1744.4,2021.7 1744.8,2021.7 1745.2,2021.7 1745.6,2021.7 1746.0,2021.7 1746.4,2021.7 1746.8,2021.7 1747.2,2021.7 1747.6,2021.7 1748.0,2021.7 1748.4,2021.7 1748.8,2021.7 1749.2,2021.7 1749.6,2021.7 1750.0,2021.7 1750.4,2021.7 1750.8,2021.7 1751.2,2021.7 1751.6,2021.7 1752.0,2021.7 1752.4,2021.7 1752.8,2021.7 1753.2,2021.7 1753.6,2021.7 1754.0,2021.7 1754.4,2021.7 1754.8,2021.7 1755.2,2021.7 1755.6,2021.7 1756.0,2021.7 1756.4,2021.7 1756.8,2021.7 1757.2,2021.7 1757.6,2021.7 1758.0,2021.7 1758.4,2021.7 1758.8,2021.7 1759.2,2021.7 1759.6,2021.7 1760.0,2021.7 1760.4,2021.7 1760.8,2021.7 1761.2,2021.7 1761.6,2021.7 1762.0,2021.7 1762.4,2021.7 1762.8,2021.7 1763.2,2021.7 1763.6,2021.7 1764.0,2021.7 1764.4,2021.7 1764.8,2021.7 1765.2,2021.7 1765.6,2021.7 1766.0,2021.7 1766.4,2021.7 1766.8,2021.7 1767.2,2021.7 1767.6,2021.7 1768.0,2021.7 1768.4,2021.7 1768.8,2021.7 1769.2,2021.7 1769.6,2021.7 1770.0,2021.7 1770.4,2021.7 1770.8,2021.7 1771.2,2021.7 1771.6,2021.7 1772.0,2021.7 1772.4,2021.7 1772.8,2021.7 1773.2,2021.7 1773.6,2021.7 1774.0,2021.7 1774.4,2021.7 1774.8,2021.7 1775.2,2021.7 1775.6,2021.7 1776.0,2021.7 1776.4,2021.7 1776.8,2021.7 1777.2,2021.7 1777.6,2021.7 1778.0,2021.7 1778.4,2021.7 1778.8,2021.7 1779.2,2021.7 1779.6,2021.7 1780.0,2021.7 1780.4,2021.7 1780.8,2021.7 1781.2,2021.7 1781.6,2021.7 1782.0,2021.7 1782.4,2021.7 1782.8,2021.7 1783.2,2021.7 1783.6,2021.7 1784.0,2021.7 1784.4,2021.7 1784.8,2021.7 1785.2,2021.7 1785.6,2021.7 1786.0,2021.7 1786.4,2021.7 1786.8,2021.7 1787.2,2021.7 1787.6,2021.7 1788.0,2021.7 1788.4,2021.7 1788.8,2021.7 1789.2,2021.7 1789.6,2021.7 1790.0,2021.7 1790.4,2021.7 1790.8,2021.7 1791.2,2021.7 1791.6,2021.7 1792.0,2021.7 1792.4,2021.7 1792.8,2021.7 1793.2,2021.7 1793.6,2021.7 1794.0,2021.7 1794.4,2021.7 1794.8,2021.7 1795.2,2021.7 1795.6,2021.7 1796.0,2021.7 1796.4,2021.7 1796.8,2021.7 1797.2,2021.7 1797.6,2021.7 1798.0,2021.7 1798.4,2021.7 1798.8,2021.7 1799.2,2021.7 1799.6,2021.7 1800.0,2021.7 1800.4,2021.7 1800.8,2021.7 1801.2,2021.7 1801.6,2021.7 1802.0,2021.7 1802.4,2021.7 1802.8,2021.7 1803.2,2021.7 1803.6,2021.7 1804.0,2021.7 1804.4,2021.7 1804.8,2021.7 1805.2,2021.7 1805.6,2021.7 1806.0,2021.7 1806.4,2021.7 1806.8,2021.7 1807.2,2021.7 1807.6,2021.7 1808.0,2021.7 1808.4,2021.7 1808.8,2021.7 1809.2,2021.7 1809.6,2021.7 1810.0,2021.7 1810.4,2021.7 1810.8,2021.7 1811.2,2021.7 1811.6,2021.7 1812.0,2021.7 1812.4,2021.7 1812.8,2021.7 1813.2,2021.7 1813.6,2021.7 1814.0,2021.7 1814.4,2021.7 1814.8,2021.7 1815.2,2021.7 1815.6,2021.7 1816.0,2021.7 1816.4,2021.7 1816.8,2021.7 1817.2,2021.7 1817.6,2021.7 1818.0,2021.7 1818.4,2021.7 1818.8,2021.7 1819.2,2021.7 1819.6,2021.7 1820.0,2021.7 1820.4,2021.7 1820.8,2021.7 1821.2,2021.7 1821.6,2021.7 1822.0,2021.7 1822.4,2021.7 1822.8,2021.7 1823.2,2021.7 1823.6,2021.7 1824.0,2021.7 1824.4,2021.7 1824.8,2021.7 1825.2,2021.7 1825.6,2021.7 1826.0,2021.7 1826.4,2021.7 1826.8,2021.7 1827.2,2021.7 1827.6,2021.7 1828.0,2021.7 1828.4,2021.7 1828.8,2021.7 1829.2,2021.7 1829.6,2021.7 1830.0,2021.7 1830.4,2021.7 1830.8,2021.7 1831.2,2021.7 1831.6,2021.7 1832.0,2021.7 1832.4,2021.7 1832.8,2021.7 1833.2,2021.7 1833.6,2021.7 1834.0,2021.7 1834.4,2021.7 1834.8,2021.7 1835.2,2021.7 1835.6,2021.7 1836.0,2021.7 1836.4,2021.7 1836.8,2021.7 1837.2,2021.7 1837.6,2021.7 1838.0,2021.7 1838.4,2021.7 1838.8,2021.7 1839.2,2021.7 1839.6,2021.7 1840.0,2021.7 1840.4,2021.7 1840.8,2021.7 1841.2,2021.7 1841.6,2021.7 1842.0,2021.7 1842.4,2021.7 1842.8,2021.7 1843.2,2021.7 1843.6,2021.7 1844.0,2021.7 1844.4,2021.7 1844.8,2021.7 1845.2,2021.7 1845.6,2021.7 1846.0,2021.7 1846.4,2021.7 1846.8,2021.7 1847.2,2021.7 1847.6,2021.7 1848.0,2021.7 1848.4,2021.7 1848.8,2021.7 1849.2,2021.7 1849.6,2021.7 1850.0,2021.7 1850.4,2021.7 1850.8,2021.7 1851.2,2021.7 1851.6,2021.7 1852.0,2021.7 1852.4,2021.7 1852.8,2021.7 1853.2,2021.7 1853.6,2021.7 1854.0,2021.7 1854.4,2021.7 1854.8,2021.7 1855.2,2021.7 1855.6,2021.7 1856.0,2021.7 1856.4,2021.7 1856.8,2021.7 1857.2,2021.7 1857.6,2021.7 1858.0,2021.7 1858.4,2021.7 1858.8,2021.7 1859.2,2021.7 1859.6,2021.7 1860.0,2021.7 1860.4,2021.7 1860.8,2021.7 1861.2,2021.7 1861.6,2021.7 1862.0,2021.7 1862.4,2021.7 1862.8,2021.7 1863.2,2021.7 1863.6,2021.7 1864.0,2021.7 1864.4,2021.7 1864.8,2021.7 1865.2,2021.7 1865.6,2021.7 1866.0,2021.7 1866.4,2021.7 1866.8,2021.7 1867.2,2021.7 1867.6,2021.7 1868.0,2021.7 1868.4,2021.7 1868.8,2021.7 1869.2,2021.7 1869.6,2021.7 1870.0,2021.7 1870.4,2021.7 1870.8,2021.7 1871.2,2021.7 1871.6,2021.7 1872.0,2021.7 1872.4,2021.7 1872.8,2021.7 1873.2,2021.7 1873.6,2021.7 1874.0,2021.7 1874.4,2021.7 1874.8,2021.7 1875.2,2021.7 1875.6,2021.7 1876.0,2021.7 1876.4,2021.7 1876.8,2021.7 1877.2,2021.7 1877.6,2021.7 1878.0,2021.7 1878.4,2021.7 1878.8,2021.7 1879.2,2021.7 1879.6,2021.7 1880.0,2021.7 1880.4,2021.7 1880.8,2021.7 1881.2,2021.7 1881.6,2021.7 1882.0,2021.7 1882.4,2021.7 1882.8,2021.7 1883.2,2021.7 1883.6,2021.7 1884.0,2021.7 1884.4,2021.7 1884.8,2021.7 1885.2,2021.7 1885.6,2021.7 1886.0,2021.7 1886.4,2021.7 1886.8,2021.7 1887.2,2021.7 1887.6,2021.7 1888.0,2021.7 1888.4,2021.7 1888.8,2021.7 1889.2,2021.7 1889.6,2021.7 1890.0,2021.7 1890.4,2021.7 1890.8,2021.7 1891.2,2021.7 1891.6,2021.7 1892.0,2021.7 1892.4,2021.7 1892.8,2021.7 1893.2,2021.7 1893.6,2021.7 1894.0,2021.7 1894.4,2021.7 1894.8,2021.7 1895.2,2021.7 1895.6,2021.7 1896.0,2021.7 1896.4,2021.7" fill="none" stroke="#0000ff" stroke-width="4.2" stroke-linejoin="round" stroke-linecap="butt" clip-path="url(#cR10)"/>
<g font-size="49.6" letter-spacing="0.50">
<text transform="translate(531.5 2141.3) scale(1 1.000)" text-anchor="middle">Time(t/s)</text>
<text transform="translate(1520.3 2141.4) scale(1 1.000)" text-anchor="middle">Frequency(f/Hz)</text>
<text transform="translate(88.0 1172.0) rotate(-90) scale(1 1.000)" text-anchor="start">Acceleration(a/ms<tspan font-size="39.5" dx="2.0" dy="-21.0" letter-spacing="1.5">-2</tspan><tspan dx="4.0" dy="21.0">)</tspan></text>
<text transform="translate(1041.7 1267.4) rotate(-90) scale(1 1.000)" text-anchor="start">Spectrum magnitude(a/ms<tspan font-size="39.5" dx="2.0" dy="-21.0" letter-spacing="1.5">-2</tspan><tspan dx="4.0" dy="21.0">)</tspan></text>
</g></svg></body></html>
